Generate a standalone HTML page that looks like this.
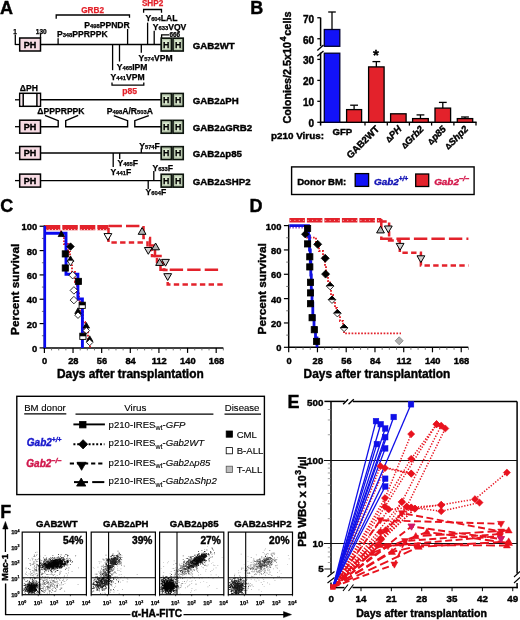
<!DOCTYPE html>
<html><head><meta charset="utf-8"><style>
html,body{margin:0;padding:0;background:#fff;width:520px;height:620px;overflow:hidden}
svg{display:block;will-change:transform}
text{font-family:"Liberation Sans", sans-serif}
</style></head><body>
<svg width="520" height="620" viewBox="0 0 520 620" font-family='"Liberation Sans", sans-serif'>
<rect width="520" height="620" fill="#fff"/>
<text x="0" y="14.2" font-size="18" font-weight="bold" text-anchor="start" fill="#000"  stroke="#000" stroke-width="0.4">A</text>
<text x="250.2" y="14" font-size="18" font-weight="bold" text-anchor="start" fill="#000"  stroke="#000" stroke-width="0.4">B</text>
<text x="0.2" y="212" font-size="18" font-weight="bold" text-anchor="start" fill="#000"  stroke="#000" stroke-width="0.4">C</text>
<text x="249.5" y="211.5" font-size="18" font-weight="bold" text-anchor="start" fill="#000"  stroke="#000" stroke-width="0.4">D</text>
<text x="287.5" y="408" font-size="18" font-weight="bold" text-anchor="start" fill="#000"  stroke="#000" stroke-width="0.4">E</text>
<text x="0.3" y="518.2" font-size="18" font-weight="bold" text-anchor="start" fill="#000"  stroke="#000" stroke-width="0.4">F</text>
<text x="192.8" y="48.8" font-size="9.7" font-weight="bold" text-anchor="start" fill="#000"  stroke="#000" stroke-width="0.4">GAB2WT</text>
<text x="192.8" y="104.1" font-size="9.7" font-weight="bold" text-anchor="start" fill="#000"  stroke="#000" stroke-width="0.4">GAB2<tspan font-size="80%" font-style="normal">Δ</tspan>PH</text>
<text x="192.8" y="131.0" font-size="9.7" font-weight="bold" text-anchor="start" fill="#000"  stroke="#000" stroke-width="0.4">GAB2<tspan font-size="80%" font-style="normal">Δ</tspan>GRB2</text>
<text x="192.8" y="157.3" font-size="9.7" font-weight="bold" text-anchor="start" fill="#000"  stroke="#000" stroke-width="0.4">GAB2<tspan font-size="80%" font-style="normal">Δ</tspan>p85</text>
<text x="192.8" y="184.9" font-size="9.7" font-weight="bold" text-anchor="start" fill="#000"  stroke="#000" stroke-width="0.4">GAB2<tspan font-size="80%" font-style="normal">Δ</tspan>SHP2</text>
<line x1="15.3" y1="34.5" x2="15.3" y2="45.1" stroke="#000" stroke-width="1.3" />
<text x="13.2" y="34.0" font-size="6.5" font-weight="bold" text-anchor="start" fill="#000"  stroke="#000" stroke-width="0.25">1</text>
<line x1="15" y1="44.5" x2="19.5" y2="44.5" stroke="#000" stroke-width="1.3" />
<rect x="19.7" y="38.0" width="20.8" height="13" fill="#f6dbe3" stroke="#000" stroke-width="1.5" />
<text x="30.1" y="47.7" font-size="9" font-weight="bold" text-anchor="middle" fill="#000"  stroke="#000" stroke-width="0.4">PH</text>
<text x="35.8" y="34.0" font-size="6.5" font-weight="bold" text-anchor="start" fill="#000"  stroke="#000" stroke-width="0.25">130</text>
<line x1="40.5" y1="33.8" x2="40.5" y2="38" stroke="#000" stroke-width="1.3" />
<line x1="40.5" y1="44.5" x2="161.2" y2="44.5" stroke="#000" stroke-width="1.4" />
<line x1="58.1" y1="38.3" x2="58.1" y2="44.5" stroke="#000" stroke-width="1.3" />
<text x="56.9" y="36.9" font-size="8.6" font-weight="bold" stroke="#000" stroke-width="0.25">P<tspan font-size="5.8">348</tspan>PPRPPK</text>
<line x1="127.6" y1="29" x2="127.6" y2="44.5" stroke="#000" stroke-width="1.3" />
<text x="84.3" y="27.8" font-size="8.6" font-weight="bold" stroke="#000" stroke-width="0.25">P<tspan font-size="5.8">498</tspan>PPNDR</text>
<path d="M56.2,18.7 V15 H129.5 V17.8" stroke="#000" stroke-width="1.3" fill="none" />
<text x="92.6" y="12.8" font-size="8.2" font-weight="bold" text-anchor="middle" fill="#e3222b"  stroke="#e3222b" stroke-width="0.25">GRB2</text>
<path d="M143.6,12.7 V9.5 H161.5 V12.7" stroke="#000" stroke-width="1.3" fill="none" />
<text x="152.6" y="6.4" font-size="8.2" font-weight="bold" text-anchor="middle" fill="#e3222b"  stroke="#e3222b" stroke-width="0.25">SHP2</text>
<line x1="147.6" y1="22.6" x2="147.6" y2="44.5" stroke="#000" stroke-width="1.3" />
<text x="145.4" y="20.7" font-size="8.6" font-weight="bold" stroke="#000" stroke-width="0.25">Y<tspan font-size="5.8">604</tspan>LAL</text>
<line x1="154.2" y1="30.8" x2="154.2" y2="44.5" stroke="#000" stroke-width="1.3" />
<text x="152.8" y="30.2" font-size="8.6" font-weight="bold" stroke="#000" stroke-width="0.25">Y<tspan font-size="5.8">633</tspan>VQV</text>
<path d="M161.6,38 V34.8 H169" stroke="#000" stroke-width="1.3" fill="none" />
<text x="169.4" y="36.5" font-size="6.4" font-weight="bold" text-anchor="start" fill="#000"  stroke="#000" stroke-width="0.25">666</text>
<rect x="161.2" y="38.2" width="10.2" height="12.8" fill="#d9e8cd" stroke="#0d140d" stroke-width="1.7" />
<rect x="162.79999999999998" y="39.8" width="6.999999999999999" height="9.6" fill="none" stroke="#9fb096" stroke-width="0.6" />
<text x="166.29999999999998" y="47.7" font-size="8.8" font-weight="bold" text-anchor="middle" fill="#000"  stroke="#000" stroke-width="0.25">H</text>
<rect x="173.0" y="38.2" width="10.2" height="12.8" fill="#d9e8cd" stroke="#0d140d" stroke-width="1.7" />
<rect x="174.6" y="39.8" width="6.999999999999999" height="9.6" fill="none" stroke="#9fb096" stroke-width="0.6" />
<text x="178.1" y="47.7" font-size="8.8" font-weight="bold" text-anchor="middle" fill="#000"  stroke="#000" stroke-width="0.25">H</text>
<line x1="112.6" y1="44.5" x2="112.6" y2="70.2" stroke="#000" stroke-width="1.3" />
<line x1="119.5" y1="44.5" x2="119.5" y2="61.5" stroke="#000" stroke-width="1.3" />
<line x1="141.3" y1="44.5" x2="141.3" y2="52.8" stroke="#000" stroke-width="1.3" />
<text x="138.6" y="60.8" font-size="8.6" font-weight="bold" stroke="#000" stroke-width="0.25">Y<tspan font-size="5.8">574</tspan>VPM</text>
<text x="116.8" y="70.2" font-size="8.6" font-weight="bold" stroke="#000" stroke-width="0.25">Y<tspan font-size="5.8">465</tspan>IPM</text>
<text x="110.6" y="79.5" font-size="8.6" font-weight="bold" stroke="#000" stroke-width="0.25">Y<tspan font-size="5.8">441</tspan>VPM</text>
<path d="M112,82.4 V85.1 H143.8 V82.4" stroke="#000" stroke-width="1.3" fill="none" />
<text x="129.6" y="94.0" font-size="8.6" font-weight="bold" text-anchor="middle" fill="#e3222b"  stroke="#e3222b" stroke-width="0.25">p85</text>
<line x1="15" y1="99.8" x2="19.5" y2="99.8" stroke="#000" stroke-width="1.3" />
<rect x="19.7" y="93.3" width="20.8" height="13" fill="#fff" stroke="#000" stroke-width="1.5" />
<rect x="20.7" y="94.1" width="1.6" height="11.4" fill="#f7e4ea"/>
<rect x="37.9" y="94.1" width="1.6" height="11.4" fill="#f7e4ea"/>
<line x1="23.2" y1="93.3" x2="23.2" y2="106.3" stroke="#000" stroke-width="1.5" />
<line x1="36.9" y1="93.3" x2="36.9" y2="106.3" stroke="#000" stroke-width="1.5" />
<text x="19.8" y="90.7" font-size="8.6" font-weight="bold" text-anchor="start" fill="#000"  stroke="#000" stroke-width="0.25">ΔPH</text>
<line x1="40.5" y1="99.8" x2="161.2" y2="99.8" stroke="#000" stroke-width="1.4" />
<rect x="161.2" y="93.5" width="10.2" height="12.8" fill="#d9e8cd" stroke="#0d140d" stroke-width="1.7" />
<rect x="162.79999999999998" y="95.1" width="6.999999999999999" height="9.6" fill="none" stroke="#9fb096" stroke-width="0.6" />
<text x="166.29999999999998" y="103.0" font-size="8.8" font-weight="bold" text-anchor="middle" fill="#000"  stroke="#000" stroke-width="0.25">H</text>
<rect x="173.0" y="93.5" width="10.2" height="12.8" fill="#d9e8cd" stroke="#0d140d" stroke-width="1.7" />
<rect x="174.6" y="95.1" width="6.999999999999999" height="9.6" fill="none" stroke="#9fb096" stroke-width="0.6" />
<text x="178.1" y="103.0" font-size="8.8" font-weight="bold" text-anchor="middle" fill="#000"  stroke="#000" stroke-width="0.25">H</text>
<line x1="15" y1="126.7" x2="19.5" y2="126.7" stroke="#000" stroke-width="1.3" />
<rect x="19.7" y="120.2" width="20.8" height="13" fill="#f6dbe3" stroke="#000" stroke-width="1.5" />
<text x="30.1" y="129.9" font-size="9" font-weight="bold" text-anchor="middle" fill="#000"  stroke="#000" stroke-width="0.4">PH</text>
<path d="M40.5,126.7 H58.2 V120.7 L45,115.3" stroke="#000" stroke-width="1.4" fill="none" />
<path d="M78.2,115.3 L65.7,120.7 V126.7 H127.6 V120.7 L113.8,115.6" stroke="#000" stroke-width="1.4" fill="none" />
<path d="M148.8,115.6 L134.8,120.7 V126.7 H161.2" stroke="#000" stroke-width="1.4" fill="none" />
<text x="37.3" y="114.4" font-size="8.6" font-weight="bold" text-anchor="start" fill="#000"  stroke="#000" stroke-width="0.25">ΔPPPRPPK</text>
<text x="106.8" y="113.8" font-size="8.6" font-weight="bold" stroke="#000" stroke-width="0.25">P<tspan font-size="5.8">498</tspan>A/R<tspan font-size="5.8">503</tspan>A</text>
<rect x="161.2" y="120.4" width="10.2" height="12.8" fill="#d9e8cd" stroke="#0d140d" stroke-width="1.7" />
<rect x="162.79999999999998" y="122.0" width="6.999999999999999" height="9.6" fill="none" stroke="#9fb096" stroke-width="0.6" />
<text x="166.29999999999998" y="129.9" font-size="8.8" font-weight="bold" text-anchor="middle" fill="#000"  stroke="#000" stroke-width="0.25">H</text>
<rect x="173.0" y="120.4" width="10.2" height="12.8" fill="#d9e8cd" stroke="#0d140d" stroke-width="1.7" />
<rect x="174.6" y="122.0" width="6.999999999999999" height="9.6" fill="none" stroke="#9fb096" stroke-width="0.6" />
<text x="178.1" y="129.9" font-size="8.8" font-weight="bold" text-anchor="middle" fill="#000"  stroke="#000" stroke-width="0.25">H</text>
<line x1="15" y1="153.0" x2="19.5" y2="153.0" stroke="#000" stroke-width="1.3" />
<rect x="19.7" y="146.5" width="20.8" height="13" fill="#f6dbe3" stroke="#000" stroke-width="1.5" />
<text x="30.1" y="156.2" font-size="9" font-weight="bold" text-anchor="middle" fill="#000"  stroke="#000" stroke-width="0.4">PH</text>
<line x1="40.5" y1="153.0" x2="161.2" y2="153.0" stroke="#000" stroke-width="1.4" />
<line x1="113.2" y1="153.0" x2="113.2" y2="167" stroke="#000" stroke-width="1.3" />
<line x1="119.7" y1="153.0" x2="119.7" y2="158.9" stroke="#000" stroke-width="1.3" />
<line x1="141.3" y1="148.2" x2="141.3" y2="153.0" stroke="#000" stroke-width="1.3" />
<text x="139.2" y="148.8" font-size="8.6" font-weight="bold" stroke="#000" stroke-width="0.25">Y<tspan font-size="5.8">574</tspan>F</text>
<text x="117.4" y="166.4" font-size="8.6" font-weight="bold" stroke="#000" stroke-width="0.25">Y<tspan font-size="5.8">465</tspan>F</text>
<text x="110.6" y="174.5" font-size="8.6" font-weight="bold" stroke="#000" stroke-width="0.25">Y<tspan font-size="5.8">441</tspan>F</text>
<rect x="161.2" y="146.7" width="10.2" height="12.8" fill="#d9e8cd" stroke="#0d140d" stroke-width="1.7" />
<rect x="162.79999999999998" y="148.3" width="6.999999999999999" height="9.6" fill="none" stroke="#9fb096" stroke-width="0.6" />
<text x="166.29999999999998" y="156.2" font-size="8.8" font-weight="bold" text-anchor="middle" fill="#000"  stroke="#000" stroke-width="0.25">H</text>
<rect x="173.0" y="146.7" width="10.2" height="12.8" fill="#d9e8cd" stroke="#0d140d" stroke-width="1.7" />
<rect x="174.6" y="148.3" width="6.999999999999999" height="9.6" fill="none" stroke="#9fb096" stroke-width="0.6" />
<text x="178.1" y="156.2" font-size="8.8" font-weight="bold" text-anchor="middle" fill="#000"  stroke="#000" stroke-width="0.25">H</text>
<line x1="15" y1="180.6" x2="19.5" y2="180.6" stroke="#000" stroke-width="1.3" />
<rect x="19.7" y="174.1" width="20.8" height="13" fill="#f6dbe3" stroke="#000" stroke-width="1.5" />
<text x="30.1" y="183.79999999999998" font-size="9" font-weight="bold" text-anchor="middle" fill="#000"  stroke="#000" stroke-width="0.4">PH</text>
<line x1="40.5" y1="180.6" x2="161.2" y2="180.6" stroke="#000" stroke-width="1.4" />
<line x1="153.8" y1="171" x2="153.8" y2="180.6" stroke="#000" stroke-width="1.3" />
<text x="152.4" y="171.2" font-size="8.6" font-weight="bold" stroke="#000" stroke-width="0.25">Y<tspan font-size="5.8">633</tspan>F</text>
<line x1="148.2" y1="180.6" x2="148.2" y2="189" stroke="#000" stroke-width="1.3" />
<text x="145.5" y="195.1" font-size="8.6" font-weight="bold" stroke="#000" stroke-width="0.25">Y<tspan font-size="5.8">604</tspan>F</text>
<rect x="161.2" y="174.29999999999998" width="10.2" height="12.8" fill="#d9e8cd" stroke="#0d140d" stroke-width="1.7" />
<rect x="162.79999999999998" y="175.9" width="6.999999999999999" height="9.6" fill="none" stroke="#9fb096" stroke-width="0.6" />
<text x="166.29999999999998" y="183.79999999999998" font-size="8.8" font-weight="bold" text-anchor="middle" fill="#000"  stroke="#000" stroke-width="0.25">H</text>
<rect x="173.0" y="174.29999999999998" width="10.2" height="12.8" fill="#d9e8cd" stroke="#0d140d" stroke-width="1.7" />
<rect x="174.6" y="175.9" width="6.999999999999999" height="9.6" fill="none" stroke="#9fb096" stroke-width="0.6" />
<text x="178.1" y="183.79999999999998" font-size="8.8" font-weight="bold" text-anchor="middle" fill="#000"  stroke="#000" stroke-width="0.25">H</text>
<line x1="320.6" y1="17.6" x2="320.6" y2="46.2" stroke="#000" stroke-width="1.5" />
<line x1="320.6" y1="52.6" x2="320.6" y2="125.6" stroke="#000" stroke-width="1.5" />
<line x1="317.3" y1="17.75" x2="320.6" y2="17.75" stroke="#000" stroke-width="1.3" />
<text x="314.0" y="22.65" font-size="10" font-weight="bold" text-anchor="end" fill="#000"  stroke="#000" stroke-width="0.4">70</text>
<line x1="317.3" y1="38.75" x2="320.6" y2="38.75" stroke="#000" stroke-width="1.3" />
<text x="314.0" y="43.65" font-size="10" font-weight="bold" text-anchor="end" fill="#000"  stroke="#000" stroke-width="0.4">60</text>
<line x1="317.3" y1="59.4" x2="320.6" y2="59.4" stroke="#000" stroke-width="1.3" />
<text x="314.0" y="64.3" font-size="10" font-weight="bold" text-anchor="end" fill="#000"  stroke="#000" stroke-width="0.4">30</text>
<line x1="317.3" y1="80.4" x2="320.6" y2="80.4" stroke="#000" stroke-width="1.3" />
<text x="314.0" y="85.30000000000001" font-size="10" font-weight="bold" text-anchor="end" fill="#000"  stroke="#000" stroke-width="0.4">20</text>
<line x1="317.3" y1="101.3" x2="320.6" y2="101.3" stroke="#000" stroke-width="1.3" />
<text x="314.0" y="106.2" font-size="10" font-weight="bold" text-anchor="end" fill="#000"  stroke="#000" stroke-width="0.4">10</text>
<line x1="317.3" y1="122.3" x2="320.6" y2="122.3" stroke="#000" stroke-width="1.3" />
<text x="314.0" y="127.2" font-size="10" font-weight="bold" text-anchor="end" fill="#000"  stroke="#000" stroke-width="0.4">0</text>
<line x1="317.3" y1="50.4" x2="323.5" y2="45.1" stroke="#000" stroke-width="1.3" />
<line x1="317.3" y1="56.3" x2="323.5" y2="51.0" stroke="#000" stroke-width="1.3" />
<line x1="319.90000000000003" y1="122.3" x2="476.6" y2="122.3" stroke="#000" stroke-width="1.5" />
<line x1="365" y1="122.3" x2="365" y2="125.6" stroke="#000" stroke-width="1.3" />
<line x1="387.3" y1="122.3" x2="387.3" y2="125.6" stroke="#000" stroke-width="1.3" />
<line x1="409.4" y1="122.3" x2="409.4" y2="125.6" stroke="#000" stroke-width="1.3" />
<line x1="431.6" y1="122.3" x2="431.6" y2="125.6" stroke="#000" stroke-width="1.3" />
<line x1="453.9" y1="122.3" x2="453.9" y2="125.6" stroke="#000" stroke-width="1.3" />
<line x1="476" y1="122.3" x2="476" y2="125.6" stroke="#000" stroke-width="1.3" />
<rect x="324.3" y="29.5" width="15.5" height="16.799999999999997" fill="#1212f8" stroke="#000030" stroke-width="1.3" />
<rect x="324.3" y="53.2" width="15.5" height="69.1" fill="#1212f8" stroke="#000030" stroke-width="1.3" />
<line x1="332" y1="29.5" x2="332" y2="12.0" stroke="#000" stroke-width="1.3" />
<line x1="328.2" y1="12.0" x2="335.8" y2="12.0" stroke="#000" stroke-width="1.3" />
<line x1="354.1" y1="109.6" x2="354.1" y2="105.2" stroke="#000" stroke-width="1.3" />
<line x1="350.20000000000005" y1="105.2" x2="358.0" y2="105.2" stroke="#000" stroke-width="1.3" />
<rect x="346.6" y="109.6" width="15.0" height="12.700000000000003" fill="#e3222b" stroke="#000" stroke-width="1.3" />
<line x1="376.35" y1="66.9" x2="376.35" y2="61.6" stroke="#000" stroke-width="1.3" />
<line x1="372.45000000000005" y1="61.6" x2="380.25" y2="61.6" stroke="#000" stroke-width="1.3" />
<rect x="368.6" y="66.9" width="15.5" height="55.39999999999999" fill="#e3222b" stroke="#000" stroke-width="1.3" />
<rect x="390.6" y="113.8" width="15.5" height="8.5" fill="#e3222b" stroke="#000" stroke-width="1.3" />
<line x1="420.45000000000005" y1="118.6" x2="420.45000000000005" y2="114.9" stroke="#000" stroke-width="1.3" />
<line x1="416.55000000000007" y1="114.9" x2="424.35" y2="114.9" stroke="#000" stroke-width="1.3" />
<rect x="412.6" y="118.6" width="15.699999999999989" height="3.700000000000003" fill="#e3222b" stroke="#000" stroke-width="1.3" />
<line x1="442.8" y1="108.1" x2="442.8" y2="102.4" stroke="#000" stroke-width="1.3" />
<line x1="438.90000000000003" y1="102.4" x2="446.7" y2="102.4" stroke="#000" stroke-width="1.3" />
<rect x="435.0" y="108.1" width="15.600000000000023" height="14.200000000000003" fill="#e3222b" stroke="#000" stroke-width="1.3" />
<line x1="465.0" y1="118.6" x2="465.0" y2="117.0" stroke="#000" stroke-width="1.3" />
<line x1="461.1" y1="117.0" x2="468.9" y2="117.0" stroke="#000" stroke-width="1.3" />
<rect x="457.3" y="118.6" width="15.399999999999977" height="3.700000000000003" fill="#e3222b" stroke="#000" stroke-width="1.3" />
<text x="376.0" y="59.6" font-size="15" font-weight="bold" text-anchor="middle" fill="#000"  stroke="#000" stroke-width="0.4">*</text>
<text transform="translate(291.2,67.6) rotate(-90)" font-size="10.8" font-weight="bold" text-anchor="middle" stroke="#000" stroke-width="0.4">Colonies/2.5x10<tspan font-size="8.5" dy="-5" dx="0.6">4</tspan><tspan dy="5" dx="1.0">cells</tspan></text>
<text x="324.0" y="138.9" font-size="9.9" font-weight="bold" text-anchor="end" fill="#000"  stroke="#000" stroke-width="0.4">p210 Virus:</text>
<text x="342.4" y="135.2" font-size="9.6" font-weight="bold" text-anchor="middle" fill="#000"  stroke="#000" stroke-width="0.4">GFP</text>
<text transform="translate(379.9,129.6) rotate(-45)" font-size="9.6" font-weight="bold" text-anchor="end" stroke="#000" stroke-width="0.4">GAB2WT</text>
<text transform="translate(402.2,129.6) rotate(-45)" font-size="9.6" font-weight="bold" text-anchor="end" font-style="italic" stroke="#000" stroke-width="0.4"><tspan font-size="80%" font-style="normal">Δ</tspan>PH</text>
<text transform="translate(424.4,129.6) rotate(-45)" font-size="9.6" font-weight="bold" text-anchor="end" font-style="italic" stroke="#000" stroke-width="0.4"><tspan font-size="80%" font-style="normal">Δ</tspan>Grb2</text>
<text transform="translate(446.59999999999997,129.6) rotate(-45)" font-size="9.6" font-weight="bold" text-anchor="end" font-style="italic" stroke="#000" stroke-width="0.4"><tspan font-size="80%" font-style="normal">Δ</tspan>p85</text>
<text transform="translate(468.79999999999995,129.6) rotate(-45)" font-size="9.6" font-weight="bold" text-anchor="end" font-style="italic" stroke="#000" stroke-width="0.4"><tspan font-size="80%" font-style="normal">Δ</tspan>Shp2</text>
<rect x="291.6" y="166.9" width="182.5" height="27.6" fill="none" stroke="#000" stroke-width="1.4" />
<text x="297.2" y="184.6" font-size="9.6" font-weight="bold" text-anchor="start" fill="#000"  stroke="#000" stroke-width="0.4">Donor BM:</text>
<rect x="355.2" y="173.6" width="13.4" height="12.8" fill="#1212f8" stroke="#000" stroke-width="1.3" />
<text x="374" y="184.7" font-size="9.9" font-weight="bold" font-style="italic" fill="#1212b4" stroke="#1212b4" stroke-width="0.4">Gab2<tspan font-size="6.5" dy="-4">+/+</tspan></text>
<rect x="415.7" y="174.0" width="13.0" height="12.5" fill="#e3222b" stroke="#000" stroke-width="1.3" />
<text x="434.2" y="184.5" font-size="9.9" font-weight="bold" font-style="italic" fill="#d3194b" stroke="#d3194b" stroke-width="0.4">Gab2<tspan font-size="7" dy="-4">−/−</tspan></text>
<line x1="44.4" y1="225.25" x2="44.4" y2="348.59999999999997" stroke="#000" stroke-width="1.5" />
<line x1="39.6" y1="347.9" x2="44.4" y2="347.9" stroke="#000" stroke-width="1.2" />
<line x1="41.9" y1="335.73499999999996" x2="44.4" y2="335.73499999999996" stroke="#555" stroke-width="0.8" />
<line x1="39.6" y1="323.57" x2="44.4" y2="323.57" stroke="#000" stroke-width="1.2" />
<line x1="41.9" y1="311.405" x2="44.4" y2="311.405" stroke="#555" stroke-width="0.8" />
<line x1="39.6" y1="299.24" x2="44.4" y2="299.24" stroke="#000" stroke-width="1.2" />
<line x1="41.9" y1="287.075" x2="44.4" y2="287.075" stroke="#555" stroke-width="0.8" />
<line x1="39.6" y1="274.90999999999997" x2="44.4" y2="274.90999999999997" stroke="#000" stroke-width="1.2" />
<line x1="41.9" y1="262.745" x2="44.4" y2="262.745" stroke="#555" stroke-width="0.8" />
<line x1="39.6" y1="250.57999999999998" x2="44.4" y2="250.57999999999998" stroke="#000" stroke-width="1.2" />
<line x1="41.9" y1="238.415" x2="44.4" y2="238.415" stroke="#555" stroke-width="0.8" />
<line x1="39.6" y1="226.25" x2="44.4" y2="226.25" stroke="#000" stroke-width="1.2" />
<line x1="43.699999999999996" y1="347.9" x2="223.3" y2="347.9" stroke="#000" stroke-width="1.5" />
<line x1="44.4" y1="347.9" x2="44.4" y2="352.9" stroke="#000" stroke-width="1.2" />
<line x1="51.5582" y1="347.9" x2="51.5582" y2="350.4" stroke="#555" stroke-width="0.8" />
<line x1="58.7164" y1="347.9" x2="58.7164" y2="350.4" stroke="#555" stroke-width="0.8" />
<line x1="65.8746" y1="347.9" x2="65.8746" y2="350.4" stroke="#555" stroke-width="0.8" />
<line x1="73.0328" y1="347.9" x2="73.0328" y2="352.9" stroke="#000" stroke-width="1.2" />
<line x1="80.191" y1="347.9" x2="80.191" y2="350.4" stroke="#555" stroke-width="0.8" />
<line x1="87.3492" y1="347.9" x2="87.3492" y2="350.4" stroke="#555" stroke-width="0.8" />
<line x1="94.50739999999999" y1="347.9" x2="94.50739999999999" y2="350.4" stroke="#555" stroke-width="0.8" />
<line x1="101.6656" y1="347.9" x2="101.6656" y2="352.9" stroke="#000" stroke-width="1.2" />
<line x1="108.8238" y1="347.9" x2="108.8238" y2="350.4" stroke="#555" stroke-width="0.8" />
<line x1="115.982" y1="347.9" x2="115.982" y2="350.4" stroke="#555" stroke-width="0.8" />
<line x1="123.1402" y1="347.9" x2="123.1402" y2="350.4" stroke="#555" stroke-width="0.8" />
<line x1="130.2984" y1="347.9" x2="130.2984" y2="352.9" stroke="#000" stroke-width="1.2" />
<line x1="137.45659999999998" y1="347.9" x2="137.45659999999998" y2="350.4" stroke="#555" stroke-width="0.8" />
<line x1="144.6148" y1="347.9" x2="144.6148" y2="350.4" stroke="#555" stroke-width="0.8" />
<line x1="151.773" y1="347.9" x2="151.773" y2="350.4" stroke="#555" stroke-width="0.8" />
<line x1="158.9312" y1="347.9" x2="158.9312" y2="352.9" stroke="#000" stroke-width="1.2" />
<line x1="166.08939999999998" y1="347.9" x2="166.08939999999998" y2="350.4" stroke="#555" stroke-width="0.8" />
<line x1="173.2476" y1="347.9" x2="173.2476" y2="350.4" stroke="#555" stroke-width="0.8" />
<line x1="180.4058" y1="347.9" x2="180.4058" y2="350.4" stroke="#555" stroke-width="0.8" />
<line x1="187.564" y1="347.9" x2="187.564" y2="352.9" stroke="#000" stroke-width="1.2" />
<line x1="194.7222" y1="347.9" x2="194.7222" y2="350.4" stroke="#555" stroke-width="0.8" />
<line x1="201.8804" y1="347.9" x2="201.8804" y2="350.4" stroke="#555" stroke-width="0.8" />
<line x1="209.0386" y1="347.9" x2="209.0386" y2="350.4" stroke="#555" stroke-width="0.8" />
<line x1="216.1968" y1="347.9" x2="216.1968" y2="352.9" stroke="#000" stroke-width="1.2" />
<line x1="223.355" y1="347.9" x2="223.355" y2="350.4" stroke="#555" stroke-width="0.8" />
<text x="37.199999999999996" y="352.0" font-size="9.4" font-weight="bold" text-anchor="end" fill="#000"  stroke="#000" stroke-width="0.4">0</text>
<text x="37.199999999999996" y="327.67" font-size="9.4" font-weight="bold" text-anchor="end" fill="#000"  stroke="#000" stroke-width="0.4">20</text>
<text x="37.199999999999996" y="303.34000000000003" font-size="9.4" font-weight="bold" text-anchor="end" fill="#000"  stroke="#000" stroke-width="0.4">40</text>
<text x="37.199999999999996" y="279.01" font-size="9.4" font-weight="bold" text-anchor="end" fill="#000"  stroke="#000" stroke-width="0.4">60</text>
<text x="37.199999999999996" y="254.67999999999998" font-size="9.4" font-weight="bold" text-anchor="end" fill="#000"  stroke="#000" stroke-width="0.4">80</text>
<text x="37.199999999999996" y="230.35" font-size="9.4" font-weight="bold" text-anchor="end" fill="#000"  stroke="#000" stroke-width="0.4">100</text>
<text x="44.699999999999996" y="364.09999999999997" font-size="9.3" font-weight="bold" text-anchor="middle" fill="#000"  stroke="#000" stroke-width="0.4">0</text>
<text x="73.33279999999999" y="364.09999999999997" font-size="9.3" font-weight="bold" text-anchor="middle" fill="#000"  stroke="#000" stroke-width="0.4">28</text>
<text x="101.9656" y="364.09999999999997" font-size="9.3" font-weight="bold" text-anchor="middle" fill="#000"  stroke="#000" stroke-width="0.4">56</text>
<text x="130.5984" y="364.09999999999997" font-size="9.3" font-weight="bold" text-anchor="middle" fill="#000"  stroke="#000" stroke-width="0.4">84</text>
<text x="159.2312" y="364.09999999999997" font-size="9.3" font-weight="bold" text-anchor="middle" fill="#000"  stroke="#000" stroke-width="0.4">112</text>
<text x="187.864" y="364.09999999999997" font-size="9.3" font-weight="bold" text-anchor="middle" fill="#000"  stroke="#000" stroke-width="0.4">140</text>
<text x="216.4968" y="364.09999999999997" font-size="9.3" font-weight="bold" text-anchor="middle" fill="#000"  stroke="#000" stroke-width="0.4">168</text>
<text transform="translate(18.8,289.3) rotate(-90)" font-size="11.8" font-weight="bold" text-anchor="middle" stroke="#000" stroke-width="0.4">Percent survival</text>
<text x="57.0" y="378.4" font-size="11.9" font-weight="bold" text-anchor="start" fill="#000"  stroke="#000" stroke-width="0.4">Days after transplantation</text>
<polyline points="44.8,227.6 108.5,227.6" fill="none" stroke="#e3222b" stroke-width="5.4" stroke-dasharray="15.5,2" />
<polyline points="45.5,229.6 108.0,229.6" fill="none" stroke="#fff" stroke-width="0.9" stroke-dasharray="1,2.2" />
<polyline points="108.5,225.9 143.5,225.9 143.5,237.9 150.0,237.9 150.0,245.5 155.0,245.5 155.0,256.0 160.5,256.0 160.5,269.7 220.5,269.7" fill="none" stroke="#e3222b" stroke-width="2.5" stroke-dasharray="13.4,4.1" />
<polyline points="108.5,228.0 108.5,242.5 147.5,242.5 147.5,250.0 152.0,250.0 152.0,256.0 157.0,256.0 157.0,262.0 164.0,262.0 164.0,270.0 167.7,270.0 167.7,284.5 224.0,284.5" fill="none" stroke="#e3222b" stroke-width="2.5" stroke-dasharray="5.4,3.3" />
<polyline points="61.0,230.6 61.0,236.0 64.0,236.0 64.0,244.0 68.0,244.0 68.0,252.0 70.0,252.0 70.0,262.0 72.0,262.0 72.0,272.0 75.0,272.0 75.0,282.0 77.0,282.0 77.0,292.0 79.0,292.0 79.0,302.0 81.0,302.0 81.0,312.0 83.0,312.0 83.0,322.0 85.0,322.0 85.0,332.0 88.0,332.0 88.0,340.0 90.0,340.0 90.0,347.9" fill="none" stroke="#e3222b" stroke-width="1.9" stroke-dasharray="1.7,1.5" />
<polyline points="44.8,226.0 44.8,347.9" fill="none" stroke="#0a0af0" stroke-width="2.6" />
<polyline points="44.8,233.3 66.0,233.3 66.0,274.2 77.9,274.2 77.9,299.0 82.4,299.0 82.4,347.9" fill="none" stroke="#0a0af0" stroke-width="2.9" />
<path d="M61.4,230.907 L64.65,236.562 L58.15,236.562 Z" stroke="#000" stroke-width="0.8" fill="#000" />
<path d="M70.5,242.85 L74.25,246.6 L70.5,250.35 L66.75,246.6 Z" stroke="#000" stroke-width="0.8" fill="#000" />
<rect x="62.199999999999996" y="250.8" width="6.2" height="6.2" fill="#000" stroke="#000" stroke-width="0.8" />
<path d="M70.5,255.907 L73.75,261.562 L67.25,261.562 Z" stroke="#000" stroke-width="0.8" fill="#000" />
<path d="M70.5,265.893 L73.75,260.238 L67.25,260.238 Z" stroke="#000" stroke-width="0.8" fill="#fff" />
<rect x="62.199999999999996" y="264.9" width="6.2" height="6.2" fill="#000" stroke="#000" stroke-width="0.8" />
<path d="M72.7,271.45 L76.45,275.2 L72.7,278.95 L68.95,275.2 Z" stroke="#000" stroke-width="0.8" fill="#fff" />
<rect x="75.30000000000001" y="278.29999999999995" width="6.2" height="6.2" fill="#000" stroke="#000" stroke-width="0.8" />
<path d="M73.9,286.65 L77.65,290.4 L73.9,294.15 L70.15,290.4 Z" stroke="#000" stroke-width="0.8" fill="#fff" />
<path d="M73.9,296.35 L77.65,300.1 L73.9,303.85 L70.15,300.1 Z" stroke="#000" stroke-width="0.8" fill="#fff" />
<rect x="79.10000000000001" y="302.2" width="6.2" height="6.2" fill="#fff" stroke="#000" stroke-width="0.9" />
<rect x="79.10000000000001" y="302.2" width="6.2" height="3.1" fill="#000"/>
<path d="M78,307.807 L81.25,313.462 L74.75,313.462 Z" stroke="#000" stroke-width="0.8" fill="#000" />
<path d="M78,311.95 L81.25,315.2 L78,318.45 L74.75,315.2 Z" stroke="#000" stroke-width="0.8" fill="#fff" />
<path d="M86.3,322.40700000000004 L89.55,328.062 L83.05,328.062 Z" stroke="#000" stroke-width="0.8" fill="#000" />
<path d="M86.3,327.35 L89.55,330.6 L86.3,333.85 L83.05,330.6 Z" stroke="#000" stroke-width="0.8" fill="#fff" />
<rect x="79.80000000000001" y="333.2" width="6.2" height="6.2" fill="#fff" stroke="#000" stroke-width="0.9" />
<rect x="79.80000000000001" y="333.2" width="6.2" height="3.1" fill="#000"/>
<path d="M89.7,335.807 L92.95,341.462 L86.45,341.462 Z" stroke="#000" stroke-width="0.8" fill="#000" />
<path d="M89.7,339.15 L92.95,342.4 L89.7,345.65 L86.45,342.4 Z" stroke="#000" stroke-width="0.8" fill="#fff" />
<path d="M107.9,240.3716 L111.80000000000001,233.5856 L104.0,233.5856 Z" stroke="#000" stroke-width="1.0" fill="#fff" />
<path d="M148.3,254.27159999999998 L152.20000000000002,247.48559999999998 L144.4,247.48559999999998 Z" stroke="#000" stroke-width="1.0" fill="#d0d0d0" />
<path d="M165.5,266.1716 L169.4,259.3856 L161.6,259.3856 Z" stroke="#000" stroke-width="1.0" fill="#d0d0d0" />
<path d="M167.7,280.47159999999997 L171.6,273.68559999999997 L163.79999999999998,273.68559999999997 Z" stroke="#000" stroke-width="1.0" fill="#d0d0d0" />
<path d="M142.1,227.5284 L146.0,234.3144 L138.2,234.3144 Z" stroke="#000" stroke-width="1.0" fill="#b4b4b4" />
<path d="M155.6,243.0284 L159.5,249.8144 L151.7,249.8144 Z" stroke="#000" stroke-width="1.0" fill="#b4b4b4" />
<path d="M159.6,258.6284 L163.5,265.4144 L155.7,265.4144 Z" stroke="#000" stroke-width="1.0" fill="#b4b4b4" />
<line x1="288.7" y1="224.6" x2="288.7" y2="348.0" stroke="#000" stroke-width="1.5" />
<line x1="283.9" y1="347.3" x2="288.7" y2="347.3" stroke="#000" stroke-width="1.2" />
<line x1="286.2" y1="335.13" x2="288.7" y2="335.13" stroke="#555" stroke-width="0.8" />
<line x1="283.9" y1="322.96000000000004" x2="288.7" y2="322.96000000000004" stroke="#000" stroke-width="1.2" />
<line x1="286.2" y1="310.79" x2="288.7" y2="310.79" stroke="#555" stroke-width="0.8" />
<line x1="283.9" y1="298.62" x2="288.7" y2="298.62" stroke="#000" stroke-width="1.2" />
<line x1="286.2" y1="286.45" x2="288.7" y2="286.45" stroke="#555" stroke-width="0.8" />
<line x1="283.9" y1="274.28" x2="288.7" y2="274.28" stroke="#000" stroke-width="1.2" />
<line x1="286.2" y1="262.11" x2="288.7" y2="262.11" stroke="#555" stroke-width="0.8" />
<line x1="283.9" y1="249.94" x2="288.7" y2="249.94" stroke="#000" stroke-width="1.2" />
<line x1="286.2" y1="237.76999999999998" x2="288.7" y2="237.76999999999998" stroke="#555" stroke-width="0.8" />
<line x1="283.9" y1="225.6" x2="288.7" y2="225.6" stroke="#000" stroke-width="1.2" />
<line x1="288.0" y1="347.3" x2="468.3" y2="347.3" stroke="#000" stroke-width="1.5" />
<line x1="288.7" y1="347.3" x2="288.7" y2="352.3" stroke="#000" stroke-width="1.2" />
<line x1="295.889" y1="347.3" x2="295.889" y2="349.8" stroke="#555" stroke-width="0.8" />
<line x1="303.078" y1="347.3" x2="303.078" y2="349.8" stroke="#555" stroke-width="0.8" />
<line x1="310.267" y1="347.3" x2="310.267" y2="349.8" stroke="#555" stroke-width="0.8" />
<line x1="317.45599999999996" y1="347.3" x2="317.45599999999996" y2="352.3" stroke="#000" stroke-width="1.2" />
<line x1="324.645" y1="347.3" x2="324.645" y2="349.8" stroke="#555" stroke-width="0.8" />
<line x1="331.834" y1="347.3" x2="331.834" y2="349.8" stroke="#555" stroke-width="0.8" />
<line x1="339.02299999999997" y1="347.3" x2="339.02299999999997" y2="349.8" stroke="#555" stroke-width="0.8" />
<line x1="346.212" y1="347.3" x2="346.212" y2="352.3" stroke="#000" stroke-width="1.2" />
<line x1="353.40099999999995" y1="347.3" x2="353.40099999999995" y2="349.8" stroke="#555" stroke-width="0.8" />
<line x1="360.59" y1="347.3" x2="360.59" y2="349.8" stroke="#555" stroke-width="0.8" />
<line x1="367.779" y1="347.3" x2="367.779" y2="349.8" stroke="#555" stroke-width="0.8" />
<line x1="374.96799999999996" y1="347.3" x2="374.96799999999996" y2="352.3" stroke="#000" stroke-width="1.2" />
<line x1="382.157" y1="347.3" x2="382.157" y2="349.8" stroke="#555" stroke-width="0.8" />
<line x1="389.346" y1="347.3" x2="389.346" y2="349.8" stroke="#555" stroke-width="0.8" />
<line x1="396.53499999999997" y1="347.3" x2="396.53499999999997" y2="349.8" stroke="#555" stroke-width="0.8" />
<line x1="403.724" y1="347.3" x2="403.724" y2="352.3" stroke="#000" stroke-width="1.2" />
<line x1="410.913" y1="347.3" x2="410.913" y2="349.8" stroke="#555" stroke-width="0.8" />
<line x1="418.102" y1="347.3" x2="418.102" y2="349.8" stroke="#555" stroke-width="0.8" />
<line x1="425.29099999999994" y1="347.3" x2="425.29099999999994" y2="349.8" stroke="#555" stroke-width="0.8" />
<line x1="432.48" y1="347.3" x2="432.48" y2="352.3" stroke="#000" stroke-width="1.2" />
<line x1="439.669" y1="347.3" x2="439.669" y2="349.8" stroke="#555" stroke-width="0.8" />
<line x1="446.85799999999995" y1="347.3" x2="446.85799999999995" y2="349.8" stroke="#555" stroke-width="0.8" />
<line x1="454.04699999999997" y1="347.3" x2="454.04699999999997" y2="349.8" stroke="#555" stroke-width="0.8" />
<line x1="461.236" y1="347.3" x2="461.236" y2="352.3" stroke="#000" stroke-width="1.2" />
<line x1="468.42499999999995" y1="347.3" x2="468.42499999999995" y2="349.8" stroke="#555" stroke-width="0.8" />
<text x="281.5" y="351.40000000000003" font-size="9.4" font-weight="bold" text-anchor="end" fill="#000"  stroke="#000" stroke-width="0.4">0</text>
<text x="281.5" y="327.06000000000006" font-size="9.4" font-weight="bold" text-anchor="end" fill="#000"  stroke="#000" stroke-width="0.4">20</text>
<text x="281.5" y="302.72" font-size="9.4" font-weight="bold" text-anchor="end" fill="#000"  stroke="#000" stroke-width="0.4">40</text>
<text x="281.5" y="278.38" font-size="9.4" font-weight="bold" text-anchor="end" fill="#000"  stroke="#000" stroke-width="0.4">60</text>
<text x="281.5" y="254.04" font-size="9.4" font-weight="bold" text-anchor="end" fill="#000"  stroke="#000" stroke-width="0.4">80</text>
<text x="281.5" y="229.7" font-size="9.4" font-weight="bold" text-anchor="end" fill="#000"  stroke="#000" stroke-width="0.4">100</text>
<text x="289.0" y="363.5" font-size="9.3" font-weight="bold" text-anchor="middle" fill="#000"  stroke="#000" stroke-width="0.4">0</text>
<text x="317.756" y="363.5" font-size="9.3" font-weight="bold" text-anchor="middle" fill="#000"  stroke="#000" stroke-width="0.4">28</text>
<text x="346.512" y="363.5" font-size="9.3" font-weight="bold" text-anchor="middle" fill="#000"  stroke="#000" stroke-width="0.4">56</text>
<text x="375.268" y="363.5" font-size="9.3" font-weight="bold" text-anchor="middle" fill="#000"  stroke="#000" stroke-width="0.4">84</text>
<text x="404.024" y="363.5" font-size="9.3" font-weight="bold" text-anchor="middle" fill="#000"  stroke="#000" stroke-width="0.4">112</text>
<text x="432.78000000000003" y="363.5" font-size="9.3" font-weight="bold" text-anchor="middle" fill="#000"  stroke="#000" stroke-width="0.4">140</text>
<text x="461.536" y="363.5" font-size="9.3" font-weight="bold" text-anchor="middle" fill="#000"  stroke="#000" stroke-width="0.4">168</text>
<text transform="translate(265.9,288.8) rotate(-90)" font-size="11.8" font-weight="bold" text-anchor="middle" stroke="#000" stroke-width="0.4">Percent survival</text>
<text x="303.6" y="378.4" font-size="11.9" font-weight="bold" text-anchor="start" fill="#000"  stroke="#000" stroke-width="0.4">Days after transplantation</text>
<polyline points="289.4,220.2 381.3,220.2" fill="none" stroke="#e3222b" stroke-width="4.6" stroke-dasharray="15.5,2" />
<polyline points="290.0,220.4 381.0,220.4" fill="none" stroke="#fff" stroke-width="0.7" stroke-dasharray="1,3.4" />
<polyline points="381.3,218.9 381.3,238.8 389.0,238.8 468.4,238.8" fill="none" stroke="#e3222b" stroke-width="2.5" stroke-dasharray="13.4,4.1" />
<polyline points="381.3,221.6 389.1,221.6 389.1,240.6 399.8,240.6 399.8,252.7 420.9,252.7 420.9,265.4 468.4,265.4" fill="none" stroke="#e3222b" stroke-width="2.5" stroke-dasharray="5.4,3.3" />
<polyline points="289.4,227.6 307.0,227.6" fill="none" stroke="#7a3ac8" stroke-width="1.8" stroke-dasharray="1.4,1.6" />
<polyline points="307.0,227.6 307.0,237.6 316.0,237.6 316.0,244.0 319.0,244.0 319.0,251.0 323.0,251.0 323.0,258.0 325.0,258.0 325.0,266.0 326.0,266.0 326.0,274.0 328.0,274.0 328.0,281.0 330.0,281.0 330.0,288.0 331.0,288.0 331.0,295.0 333.0,295.0 333.0,302.0 335.0,302.0 335.0,308.0 337.0,308.0 337.0,315.0 340.0,315.0 340.0,321.0 343.0,321.0 343.0,327.0 344.0,327.0 344.0,333.4 401.0,333.4" fill="none" stroke="#e3222b" stroke-width="1.9" stroke-dasharray="1.7,1.5" />
<polyline points="289.4,225.6 308.5,225.6 308.5,236.0 309.5,236.0 309.5,250.0 310.3,250.0 310.3,262.0 310.8,262.0 310.8,275.0 311.3,275.0 311.3,290.0 312.0,290.0 312.0,303.0 312.8,303.0 312.8,316.0 314.0,316.0 314.0,328.0 315.5,328.0 315.5,338.0 317.0,338.0 317.0,347.3" fill="none" stroke="#1010e0" stroke-width="2.8" />
<rect x="304.5" y="225.4" width="6.2" height="6.2" fill="#000" stroke="#000" stroke-width="0.8" />
<rect x="304.5" y="240.8" width="6.2" height="6.2" fill="#000" stroke="#000" stroke-width="0.8" />
<rect x="306.7" y="253.70000000000002" width="6.2" height="6.2" fill="#000" stroke="#000" stroke-width="0.8" />
<rect x="306.7" y="263.79999999999995" width="6.2" height="6.2" fill="#000" stroke="#000" stroke-width="0.8" />
<rect x="307.4" y="279.2" width="6.2" height="6.2" fill="#000" stroke="#000" stroke-width="0.8" />
<rect x="307.4" y="289.79999999999995" width="6.2" height="6.2" fill="#000" stroke="#000" stroke-width="0.8" />
<rect x="307.4" y="300.59999999999997" width="6.2" height="6.2" fill="#000" stroke="#000" stroke-width="0.8" />
<rect x="309.0" y="314.59999999999997" width="6.2" height="6.2" fill="#000" stroke="#000" stroke-width="0.8" />
<rect x="311.2" y="326.59999999999997" width="6.2" height="6.2" fill="#000" stroke="#000" stroke-width="0.8" />
<rect x="313.5" y="338.29999999999995" width="6.2" height="6.2" fill="#000" stroke="#000" stroke-width="0.8" />
<path d="M305.3,230.45 L309.05,234.2 L305.3,237.95 L301.55,234.2 Z" stroke="#000" stroke-width="0.8" fill="#000" />
<path d="M317.7,240.3 L321.7,244.3 L317.7,248.3 L313.7,244.3 Z" stroke="#000" stroke-width="0.8" fill="#000" />
<path d="M325.2,254.3 L329.2,258.3 L325.2,262.3 L321.2,258.3 Z" stroke="#000" stroke-width="0.8" fill="#000" />
<path d="M325.6,270.1 L329.6,274.1 L325.6,278.1 L321.6,274.1 Z" stroke="#000" stroke-width="0.8" fill="#000" />
<path d="M330.1,282.35 L333.85,286.1 L330.1,289.85 L326.35,286.1 Z" stroke="#000" stroke-width="0.8" fill="#fff" />
<path d="M330.1,282.35 L333.85,286.1 L326.35,286.1 Z" stroke="#000" stroke-width="0.5" fill="#000" />
<path d="M332,295.95 L335.75,299.7 L332,303.45 L328.25,299.7 Z" stroke="#000" stroke-width="0.8" fill="#fff" />
<path d="M332,295.95 L335.75,299.7 L328.25,299.7 Z" stroke="#000" stroke-width="0.5" fill="#000" />
<path d="M337.4,309.45 L341.15,313.2 L337.4,316.95 L333.65,313.2 Z" stroke="#000" stroke-width="0.8" fill="#fff" />
<path d="M337.4,309.45 L341.15,313.2 L333.65,313.2 Z" stroke="#000" stroke-width="0.5" fill="#000" />
<path d="M344.1,324.15 L347.85,327.9 L344.1,331.65 L340.35,327.9 Z" stroke="#000" stroke-width="0.8" fill="#fff" />
<path d="M344.1,324.15 L347.85,327.9 L340.35,327.9 Z" stroke="#000" stroke-width="0.5" fill="#000" />
<path d="M380.5,226.1284 L384.4,232.9144 L376.6,232.9144 Z" stroke="#000" stroke-width="1.0" fill="#b4b4b4" />
<path d="M388.3,232.77159999999998 L392.2,225.98559999999998 L384.40000000000003,225.98559999999998 Z" stroke="#000" stroke-width="1.0" fill="#d0d0d0" />
<path d="M400.1,250.17159999999998 L404.0,243.38559999999998 L396.20000000000005,243.38559999999998 Z" stroke="#000" stroke-width="1.0" fill="#d0d0d0" />
<path d="M420.9,262.5716 L424.79999999999995,255.7856 L417.0,255.7856 Z" stroke="#000" stroke-width="1.0" fill="#d0d0d0" />
<path d="M399.2,336.8 L403.2,340.8 L399.2,344.8 L395.2,340.8 Z" stroke="#808080" stroke-width="0.8" fill="#b0b0b0" />
<rect x="16.8" y="396.3" width="247.6" height="98.3" fill="none" stroke="#000" stroke-width="1.4" />
<text x="24.2" y="411.3" font-size="9.6" font-weight="normal" text-anchor="start" fill="#000"  stroke="#000" stroke-width="0.12">BM donor</text>
<line x1="24.2" y1="413.8" x2="66.3" y2="413.8" stroke="#000" stroke-width="1.2" />
<text x="124.2" y="411.3" font-size="9.8" font-weight="normal" text-anchor="start" fill="#000"  stroke="#000" stroke-width="0.12">Virus</text>
<line x1="75.5" y1="414.1" x2="213.4" y2="414.1" stroke="#000" stroke-width="1.2" />
<text x="224.8" y="411.3" font-size="9.6" font-weight="normal" text-anchor="start" fill="#000"  stroke="#000" stroke-width="0.12">Disease</text>
<line x1="224.5" y1="414.1" x2="261" y2="414.1" stroke="#000" stroke-width="1.2" />
<text x="26.8" y="446.3" font-size="10" font-weight="bold" font-style="italic" fill="#1818cc" stroke="#1818cc" stroke-width="0.4">Gab2<tspan font-size="6.6" dy="-4.2">+/+</tspan></text>
<text x="26.3" y="466.9" font-size="10" font-weight="bold" font-style="italic" fill="#d0174c" stroke="#d0174c" stroke-width="0.4">Gab2<tspan font-size="7" dy="-4.2">−/−</tspan></text>
<line x1="73.4" y1="424.4" x2="104.9" y2="424.4" stroke="#000" stroke-width="1.9" />
<rect x="79.6" y="421.5" width="6.4" height="6.4" fill="#000" stroke="#000" stroke-width="0.8" />
<line x1="73.4" y1="444.2" x2="104.5" y2="444.2" stroke="#000" stroke-width="2.1" stroke-dasharray="2,1.8"/>
<path d="M83.1,439.7 L87.69999999999999,444.3 L83.1,448.90000000000003 L78.5,444.3 Z" stroke="#000" stroke-width="0.8" fill="#000" />
<line x1="69.8" y1="463.4" x2="102.5" y2="463.4" stroke="#000" stroke-width="2.0" stroke-dasharray="4.2,2.9"/>
<path d="M81.6,470.3024 L86.19999999999999,462.2984 L77.0,462.2984 Z" stroke="#000" stroke-width="0.8" fill="#000" />
<line x1="74.0" y1="482.1" x2="88.0" y2="482.1" stroke="#000" stroke-width="2.0" />
<line x1="92.2" y1="482.1" x2="104.3" y2="482.1" stroke="#000" stroke-width="2.0" />
<path d="M81.2,478.0976 L85.8,486.10159999999996 L76.60000000000001,486.10159999999996 Z" stroke="#000" stroke-width="0.8" fill="#000" />
<text x="108.6" y="427.6" font-size="9.6" font-weight="normal" stroke="#000" stroke-width="0.12">p210-IRES<tspan font-size="7" dy="2.4">wt</tspan><tspan dy="-2.4">-</tspan><tspan font-style="italic">GFP</tspan></text>
<text x="108.6" y="446.4" font-size="9.6" font-weight="normal" stroke="#000" stroke-width="0.12">p210-IRES<tspan font-size="7" dy="2.4">wt</tspan><tspan dy="-2.4">-</tspan><tspan font-style="italic">Gab2WT</tspan></text>
<text x="108.6" y="465.5" font-size="9.6" font-weight="normal" stroke="#000" stroke-width="0.12">p210-IRES<tspan font-size="7" dy="2.4">wt</tspan><tspan dy="-2.4">-</tspan><tspan font-style="italic">Gab2<tspan font-size="80%" font-style="normal">Δ</tspan>p85</tspan></text>
<text x="108.6" y="484.4" font-size="9.6" font-weight="normal" stroke="#000" stroke-width="0.12">p210-IRES<tspan font-size="7" dy="2.4">wt</tspan><tspan dy="-2.4">-</tspan><tspan font-style="italic">Gab2<tspan font-size="80%" font-style="normal">Δ</tspan>Shp2</tspan></text>
<rect x="226.20000000000002" y="431.0" width="6.2" height="6.2" fill="#000" stroke="#000" stroke-width="0.8" />
<rect x="226.20000000000002" y="447.59999999999997" width="6.2" height="6.2" fill="#fff" stroke="#000" stroke-width="0.8" />
<rect x="226.20000000000002" y="466.2" width="6.2" height="6.2" fill="#bdbdbd" stroke="#555" stroke-width="0.8" />
<text x="236.7" y="437.6" font-size="9.6" font-weight="normal" text-anchor="start" fill="#000"  stroke="#000" stroke-width="0.12">CML</text>
<text x="236.7" y="454.3" font-size="9.6" font-weight="normal" text-anchor="start" fill="#000"  stroke="#000" stroke-width="0.12">B-ALL</text>
<text x="236.7" y="472.9" font-size="9.6" font-weight="normal" text-anchor="start" fill="#000"  stroke="#000" stroke-width="0.12">T-ALL</text>
<line x1="324.4" y1="401.4" x2="344.8" y2="401.4" stroke="#000" stroke-width="1.5" />
<line x1="352.8" y1="401.4" x2="517.1" y2="401.4" stroke="#000" stroke-width="1.5" />
<path d="M343.1,404.2 L348.1,399.2 M348.5,404.2 L353.8,399.2" stroke="#000" stroke-width="1.4" fill="none" />
<line x1="331.0" y1="401.4" x2="331.0" y2="573.5" stroke="#000" stroke-width="1.5" />
<line x1="331.0" y1="582.5" x2="331.0" y2="588.2" stroke="#000" stroke-width="1.5" />
<path d="M327.5,577 L334.5,571.5 M327.5,583 L334.5,577.5" stroke="#000" stroke-width="1.1" fill="none" />
<line x1="517.1" y1="401.4" x2="517.1" y2="573.5" stroke="#000" stroke-width="1.5" />
<line x1="517.1" y1="583.0" x2="517.1" y2="588.2" stroke="#000" stroke-width="1.5" />
<path d="M514,577 L520,571.5 M514,583 L520,577.5" stroke="#000" stroke-width="1.1" fill="none" />
<line x1="330.3" y1="587.6" x2="344.5" y2="587.6" stroke="#000" stroke-width="1.5" />
<line x1="352.5" y1="587.6" x2="517.9" y2="587.6" stroke="#000" stroke-width="1.5" />
<path d="M343,591 L348,584.5 M348.5,591 L353.5,584.5" stroke="#000" stroke-width="1.1" fill="none" />
<line x1="324.0" y1="460.5" x2="517" y2="460.5" stroke="#111" stroke-width="1.0" />
<line x1="324.0" y1="543.5" x2="517" y2="543.5" stroke="#111" stroke-width="1.0" />
<line x1="324.4" y1="569.0" x2="331.0" y2="569.0" stroke="#222" stroke-width="1.0" />
<line x1="327.8" y1="434.74358336379197" x2="331.0" y2="434.74358336379197" stroke="#777" stroke-width="0.7" />
<line x1="327.8" y1="419.96952672902034" x2="331.0" y2="419.96952672902034" stroke="#777" stroke-width="0.7" />
<line x1="327.8" y1="409.48716672758394" x2="331.0" y2="409.48716672758394" stroke="#777" stroke-width="0.7" />
<line x1="327.8" y1="518.643583363792" x2="331.0" y2="518.643583363792" stroke="#777" stroke-width="0.7" />
<line x1="327.8" y1="503.8695267290203" x2="331.0" y2="503.8695267290203" stroke="#777" stroke-width="0.7" />
<line x1="327.8" y1="493.387166727584" x2="331.0" y2="493.387166727584" stroke="#777" stroke-width="0.7" />
<line x1="327.8" y1="485.25641663620803" x2="331.0" y2="485.25641663620803" stroke="#777" stroke-width="0.7" />
<line x1="327.8" y1="478.6131100928123" x2="331.0" y2="478.6131100928123" stroke="#777" stroke-width="0.7" />
<line x1="327.8" y1="472.99627444280384" x2="331.0" y2="472.99627444280384" stroke="#777" stroke-width="0.7" />
<line x1="327.8" y1="468.13075009137594" x2="331.0" y2="468.13075009137594" stroke="#777" stroke-width="0.7" />
<line x1="327.8" y1="463.83905345804067" x2="331.0" y2="463.83905345804067" stroke="#777" stroke-width="0.7" />
<line x1="327.8" y1="562.5131100928123" x2="331.0" y2="562.5131100928123" stroke="#777" stroke-width="0.7" />
<line x1="327.8" y1="556.8962744428038" x2="331.0" y2="556.8962744428038" stroke="#777" stroke-width="0.7" />
<line x1="327.8" y1="552.0307500913759" x2="331.0" y2="552.0307500913759" stroke="#777" stroke-width="0.7" />
<line x1="327.8" y1="547.7390534580406" x2="331.0" y2="547.7390534580406" stroke="#777" stroke-width="0.7" />
<text x="323.4" y="405.6" font-size="9.8" font-weight="bold" text-anchor="end" fill="#000"  stroke="#000" stroke-width="0.4">500</text>
<text x="323.4" y="463.8" font-size="9.8" font-weight="bold" text-anchor="end" fill="#000"  stroke="#000" stroke-width="0.4">100</text>
<text x="323.4" y="547.2" font-size="9.8" font-weight="bold" text-anchor="end" fill="#000"  stroke="#000" stroke-width="0.4">10</text>
<text x="323.6" y="572.4" font-size="9.8" font-weight="bold" text-anchor="end" fill="#000"  stroke="#000" stroke-width="0.4">5</text>
<line x1="361.0" y1="587.6" x2="361.0" y2="591.2" stroke="#000" stroke-width="1.0" />
<text x="361.0" y="601.5" font-size="9.8" font-weight="bold" text-anchor="middle" fill="#000"  stroke="#000" stroke-width="0.4">14</text>
<line x1="391.352" y1="587.6" x2="391.352" y2="591.2" stroke="#000" stroke-width="1.0" />
<text x="391.352" y="601.5" font-size="9.8" font-weight="bold" text-anchor="middle" fill="#000"  stroke="#000" stroke-width="0.4">21</text>
<line x1="421.704" y1="587.6" x2="421.704" y2="591.2" stroke="#000" stroke-width="1.0" />
<text x="421.704" y="601.5" font-size="9.8" font-weight="bold" text-anchor="middle" fill="#000"  stroke="#000" stroke-width="0.4">28</text>
<line x1="452.05600000000004" y1="587.6" x2="452.05600000000004" y2="591.2" stroke="#000" stroke-width="1.0" />
<text x="452.05600000000004" y="601.5" font-size="9.8" font-weight="bold" text-anchor="middle" fill="#000"  stroke="#000" stroke-width="0.4">35</text>
<line x1="482.408" y1="587.6" x2="482.408" y2="591.2" stroke="#000" stroke-width="1.0" />
<text x="482.408" y="601.5" font-size="9.8" font-weight="bold" text-anchor="middle" fill="#000"  stroke="#000" stroke-width="0.4">42</text>
<line x1="512.76" y1="587.6" x2="512.76" y2="591.2" stroke="#000" stroke-width="1.0" />
<text x="512.76" y="601.5" font-size="9.8" font-weight="bold" text-anchor="middle" fill="#000"  stroke="#000" stroke-width="0.4">49</text>
<text x="331.2" y="601.5" font-size="9.8" font-weight="bold" text-anchor="middle" fill="#000"  stroke="#000" stroke-width="0.4">0</text>
<text x="356.2" y="616.8" font-size="10.6" font-weight="bold" text-anchor="start" fill="#000"  stroke="#000" stroke-width="0.4">Days after transplantation</text>
<text transform="translate(306.3,501.5) rotate(-90)" font-size="11.4" font-weight="bold" text-anchor="middle" stroke="#000" stroke-width="0.4">PB WBC x 10<tspan font-size="8.6" dy="-5" dx="0.6">3</tspan><tspan dy="5" dx="0.8">/µl</tspan></text>
<polyline points="333.0,587.0 380.4,520.2 501.0,523.8" fill="none" stroke="#e8121e" stroke-width="1.9" stroke-dasharray="7,3.5" />
<polyline points="333.0,587.0 401.9,513.1 501.2,531.5" fill="none" stroke="#e8121e" stroke-width="1.9" stroke-dasharray="7,3.5" />
<polyline points="333.0,587.0 411.5,526.5 501.0,539.0" fill="none" stroke="#e8121e" stroke-width="1.9" stroke-dasharray="7,3.5" />
<polyline points="333.0,587.0 394.4,564.5 405.0,541.0 500.0,534.0" fill="none" stroke="#e8121e" stroke-width="1.9" stroke-dasharray="7,3.5" />
<polyline points="333.0,587.0 388.0,546.0 500.0,536.0" fill="none" stroke="#e8121e" stroke-width="1.9" stroke-dasharray="7,3.5" />
<polyline points="333.0,587.0 415.8,536.2 508.7,530.5" fill="none" stroke="#e8121e" stroke-width="1.9" stroke-dasharray="9,4" />
<polyline points="333.0,587.0 418.7,546.9 508.7,541.5" fill="none" stroke="#e8121e" stroke-width="1.9" stroke-dasharray="9,4" />
<polyline points="333.0,587.0 380.0,545.0 506.9,545.5" fill="none" stroke="#e8121e" stroke-width="1.9" stroke-dasharray="9,4" />
<polyline points="333.0,587.0 372.0,553.0 427.0,532.0 509.0,543.0" fill="none" stroke="#e8121e" stroke-width="1.9" stroke-dasharray="9,4" />
<polyline points="333.0,587.0 392.0,552.0 418.0,546.0" fill="none" stroke="#e8121e" stroke-width="1.9" stroke-dasharray="9,4" />
<polyline points="333.0,587.0 380.5,466.2 411.2,473.7" fill="none" stroke="#e8121e" stroke-width="1.5" stroke-dasharray="1.3,1.6" />
<polyline points="333.0,587.0 385.0,468.1 411.2,473.5" fill="none" stroke="#e8121e" stroke-width="1.5" stroke-dasharray="1.3,1.6" />
<polyline points="333.0,587.0 411.2,458.8 436.6,424.2" fill="none" stroke="#e8121e" stroke-width="1.5" stroke-dasharray="1.3,1.6" />
<polyline points="333.0,587.0 385.0,498.1 411.2,434.1" fill="none" stroke="#e8121e" stroke-width="1.5" stroke-dasharray="1.3,1.6" />
<polyline points="333.0,587.0 401.9,501.9 441.2,425.7" fill="none" stroke="#e8121e" stroke-width="1.5" stroke-dasharray="1.3,1.6" />
<polyline points="333.0,587.0 406.7,506.7 445.3,428.5" fill="none" stroke="#e8121e" stroke-width="1.5" stroke-dasharray="1.3,1.6" />
<polyline points="333.0,587.0 385.0,506.7 436.6,424.2" fill="none" stroke="#e8121e" stroke-width="1.5" stroke-dasharray="1.3,1.6" />
<polyline points="333.0,587.0 388.7,509.4 441.2,504.9 475.0,499.2 506.9,472.6" fill="none" stroke="#e8121e" stroke-width="1.5" stroke-dasharray="1.3,1.6" />
<polyline points="333.0,587.0 411.2,507.5 441.2,511.2 479.5,502.6" fill="none" stroke="#e8121e" stroke-width="1.5" stroke-dasharray="1.3,1.6" />
<polyline points="333.0,587.0 415.0,508.6 441.2,504.9" fill="none" stroke="#e8121e" stroke-width="1.5" stroke-dasharray="1.3,1.6" />
<polyline points="333.0,587.0 380.5,531.9 411.2,507.5" fill="none" stroke="#e8121e" stroke-width="1.5" stroke-dasharray="1.3,1.6" />
<polyline points="333.0,587.0 381.2,539.4 415.0,508.6" fill="none" stroke="#e8121e" stroke-width="1.5" stroke-dasharray="1.3,1.6" />
<polyline points="333.0,587.0 378.0,545.0 406.7,506.7" fill="none" stroke="#e8121e" stroke-width="1.5" stroke-dasharray="1.3,1.6" />
<polyline points="333.0,587.0 386.0,530.0 401.9,501.9" fill="none" stroke="#e8121e" stroke-width="1.5" stroke-dasharray="1.3,1.6" />
<polyline points="333.0,587.0 411.0,404.3" fill="none" stroke="#1010e8" stroke-width="1.3" />
<polyline points="333.0,587.0 393.7,417.0" fill="none" stroke="#1010e8" stroke-width="1.3" />
<polyline points="333.0,587.0 376.0,421.1" fill="none" stroke="#1010e8" stroke-width="1.3" />
<polyline points="333.0,587.0 380.7,424.2" fill="none" stroke="#1010e8" stroke-width="1.3" />
<polyline points="333.0,587.0 385.2,428.5" fill="none" stroke="#1010e8" stroke-width="1.3" />
<polyline points="333.0,587.0 385.2,437.2" fill="none" stroke="#1010e8" stroke-width="1.3" />
<polyline points="333.0,587.0 376.9,444.1" fill="none" stroke="#1010e8" stroke-width="1.3" />
<polyline points="333.0,587.0 385.2,448.4" fill="none" stroke="#1010e8" stroke-width="1.3" />
<polyline points="333.0,587.0 385.2,478.7" fill="none" stroke="#1010e8" stroke-width="1.3" />
<polyline points="333.0,587.0 385.2,486.5" fill="none" stroke="#1010e8" stroke-width="1.3" />
<rect x="408.2" y="401.5" width="5.6" height="5.6" fill="#1010e8" stroke="#1010e8" stroke-width="0.5" />
<rect x="390.9" y="414.2" width="5.6" height="5.6" fill="#1010e8" stroke="#1010e8" stroke-width="0.5" />
<rect x="373.2" y="418.3" width="5.6" height="5.6" fill="#1010e8" stroke="#1010e8" stroke-width="0.5" />
<rect x="377.9" y="421.4" width="5.6" height="5.6" fill="#1010e8" stroke="#1010e8" stroke-width="0.5" />
<rect x="382.4" y="425.7" width="5.6" height="5.6" fill="#1010e8" stroke="#1010e8" stroke-width="0.5" />
<rect x="382.4" y="434.4" width="5.6" height="5.6" fill="#1010e8" stroke="#1010e8" stroke-width="0.5" />
<rect x="374.09999999999997" y="441.3" width="5.6" height="5.6" fill="#1010e8" stroke="#1010e8" stroke-width="0.5" />
<rect x="382.4" y="445.59999999999997" width="5.6" height="5.6" fill="#1010e8" stroke="#1010e8" stroke-width="0.5" />
<rect x="382.4" y="475.9" width="5.6" height="5.6" fill="#1010e8" stroke="#1010e8" stroke-width="0.5" />
<rect x="382.4" y="483.7" width="5.6" height="5.6" fill="#1010e8" stroke="#1010e8" stroke-width="0.5" />
<path d="M380.5,462.59999999999997 L384.1,466.2 L380.5,469.8 L376.9,466.2 Z" stroke="#e8121e" stroke-width="0.5" fill="#e8121e" />
<path d="M411.2,470.09999999999997 L414.8,473.7 L411.2,477.3 L407.59999999999997,473.7 Z" stroke="#e8121e" stroke-width="0.5" fill="#e8121e" />
<path d="M385,464.5 L388.6,468.1 L385,471.70000000000005 L381.4,468.1 Z" stroke="#e8121e" stroke-width="0.5" fill="#e8121e" />
<path d="M411.2,469.9 L414.8,473.5 L411.2,477.1 L407.59999999999997,473.5 Z" stroke="#e8121e" stroke-width="0.5" fill="#e8121e" />
<path d="M411.2,455.2 L414.8,458.8 L411.2,462.40000000000003 L407.59999999999997,458.8 Z" stroke="#e8121e" stroke-width="0.5" fill="#e8121e" />
<path d="M436.6,420.59999999999997 L440.20000000000005,424.2 L436.6,427.8 L433.0,424.2 Z" stroke="#e8121e" stroke-width="0.5" fill="#e8121e" />
<path d="M385,494.5 L388.6,498.1 L385,501.70000000000005 L381.4,498.1 Z" stroke="#e8121e" stroke-width="0.5" fill="#e8121e" />
<path d="M411.2,430.5 L414.8,434.1 L411.2,437.70000000000005 L407.59999999999997,434.1 Z" stroke="#e8121e" stroke-width="0.5" fill="#e8121e" />
<path d="M401.9,498.29999999999995 L405.5,501.9 L401.9,505.5 L398.29999999999995,501.9 Z" stroke="#e8121e" stroke-width="0.5" fill="#e8121e" />
<path d="M441.2,422.09999999999997 L444.8,425.7 L441.2,429.3 L437.59999999999997,425.7 Z" stroke="#e8121e" stroke-width="0.5" fill="#e8121e" />
<path d="M406.7,503.09999999999997 L410.3,506.7 L406.7,510.3 L403.09999999999997,506.7 Z" stroke="#e8121e" stroke-width="0.5" fill="#e8121e" />
<path d="M445.3,424.9 L448.90000000000003,428.5 L445.3,432.1 L441.7,428.5 Z" stroke="#e8121e" stroke-width="0.5" fill="#e8121e" />
<path d="M385,503.09999999999997 L388.6,506.7 L385,510.3 L381.4,506.7 Z" stroke="#e8121e" stroke-width="0.5" fill="#e8121e" />
<path d="M436.6,420.59999999999997 L440.20000000000005,424.2 L436.6,427.8 L433.0,424.2 Z" stroke="#e8121e" stroke-width="0.5" fill="#e8121e" />
<path d="M388.7,505.79999999999995 L392.3,509.4 L388.7,513.0 L385.09999999999997,509.4 Z" stroke="#e8121e" stroke-width="0.5" fill="#e8121e" />
<path d="M441.2,501.29999999999995 L444.8,504.9 L441.2,508.5 L437.59999999999997,504.9 Z" stroke="#e8121e" stroke-width="0.5" fill="#e8121e" />
<path d="M475,495.59999999999997 L478.6,499.2 L475,502.8 L471.4,499.2 Z" stroke="#e8121e" stroke-width="0.5" fill="#e8121e" />
<path d="M506.9,469.0 L510.5,472.6 L506.9,476.20000000000005 L503.29999999999995,472.6 Z" stroke="#e8121e" stroke-width="0.5" fill="#e8121e" />
<path d="M411.2,503.9 L414.8,507.5 L411.2,511.1 L407.59999999999997,507.5 Z" stroke="#e8121e" stroke-width="0.5" fill="#e8121e" />
<path d="M441.2,507.59999999999997 L444.8,511.2 L441.2,514.8 L437.59999999999997,511.2 Z" stroke="#e8121e" stroke-width="0.5" fill="#e8121e" />
<path d="M479.5,499.0 L483.1,502.6 L479.5,506.20000000000005 L475.9,502.6 Z" stroke="#e8121e" stroke-width="0.5" fill="#e8121e" />
<path d="M415,505.0 L418.6,508.6 L415,512.2 L411.4,508.6 Z" stroke="#e8121e" stroke-width="0.5" fill="#e8121e" />
<path d="M441.2,501.29999999999995 L444.8,504.9 L441.2,508.5 L437.59999999999997,504.9 Z" stroke="#e8121e" stroke-width="0.5" fill="#e8121e" />
<path d="M380.5,528.3 L384.1,531.9 L380.5,535.5 L376.9,531.9 Z" stroke="#e8121e" stroke-width="0.5" fill="#e8121e" />
<path d="M411.2,503.9 L414.8,507.5 L411.2,511.1 L407.59999999999997,507.5 Z" stroke="#e8121e" stroke-width="0.5" fill="#e8121e" />
<path d="M381.2,535.8 L384.8,539.4 L381.2,543.0 L377.59999999999997,539.4 Z" stroke="#e8121e" stroke-width="0.5" fill="#e8121e" />
<path d="M415,505.0 L418.6,508.6 L415,512.2 L411.4,508.6 Z" stroke="#e8121e" stroke-width="0.5" fill="#e8121e" />
<path d="M378,541.4 L381.6,545 L378,548.6 L374.4,545 Z" stroke="#e8121e" stroke-width="0.5" fill="#e8121e" />
<path d="M406.7,503.09999999999997 L410.3,506.7 L406.7,510.3 L403.09999999999997,506.7 Z" stroke="#e8121e" stroke-width="0.5" fill="#e8121e" />
<path d="M386,526.4 L389.6,530 L386,533.6 L382.4,530 Z" stroke="#e8121e" stroke-width="0.5" fill="#e8121e" />
<path d="M401.9,498.29999999999995 L405.5,501.9 L401.9,505.5 L398.29999999999995,501.9 Z" stroke="#e8121e" stroke-width="0.5" fill="#e8121e" />
<path d="M380.4,523.854 L383.9,517.764 L376.9,517.764 Z" stroke="#e8121e" stroke-width="0.5" fill="#e8121e" />
<path d="M501.0,527.454 L504.5,521.3639999999999 L497.5,521.3639999999999 Z" stroke="#e8121e" stroke-width="0.5" fill="#e8121e" />
<path d="M401.9,516.754 L405.4,510.66400000000004 L398.4,510.66400000000004 Z" stroke="#e8121e" stroke-width="0.5" fill="#e8121e" />
<path d="M501.2,535.154 L504.7,529.064 L497.7,529.064 Z" stroke="#e8121e" stroke-width="0.5" fill="#e8121e" />
<path d="M411.5,530.154 L415.0,524.064 L408.0,524.064 Z" stroke="#e8121e" stroke-width="0.5" fill="#e8121e" />
<path d="M501.0,542.654 L504.5,536.564 L497.5,536.564 Z" stroke="#e8121e" stroke-width="0.5" fill="#e8121e" />
<path d="M394.4,568.154 L397.9,562.064 L390.9,562.064 Z" stroke="#e8121e" stroke-width="0.5" fill="#e8121e" />
<path d="M405,544.654 L408.5,538.564 L401.5,538.564 Z" stroke="#e8121e" stroke-width="0.5" fill="#e8121e" />
<path d="M500,537.654 L503.5,531.564 L496.5,531.564 Z" stroke="#e8121e" stroke-width="0.5" fill="#e8121e" />
<path d="M388,549.654 L391.5,543.564 L384.5,543.564 Z" stroke="#e8121e" stroke-width="0.5" fill="#e8121e" />
<path d="M500,539.654 L503.5,533.564 L496.5,533.564 Z" stroke="#e8121e" stroke-width="0.5" fill="#e8121e" />
<path d="M415.8,532.546 L419.3,538.6360000000001 L412.3,538.6360000000001 Z" stroke="#e8121e" stroke-width="0.5" fill="#e8121e" />
<path d="M508.7,526.846 L512.2,532.936 L505.2,532.936 Z" stroke="#e8121e" stroke-width="0.5" fill="#e8121e" />
<path d="M418.7,543.246 L422.2,549.336 L415.2,549.336 Z" stroke="#e8121e" stroke-width="0.5" fill="#e8121e" />
<path d="M508.7,537.846 L512.2,543.936 L505.2,543.936 Z" stroke="#e8121e" stroke-width="0.5" fill="#e8121e" />
<path d="M380,541.346 L383.5,547.436 L376.5,547.436 Z" stroke="#e8121e" stroke-width="0.5" fill="#e8121e" />
<path d="M506.9,541.846 L510.4,547.936 L503.4,547.936 Z" stroke="#e8121e" stroke-width="0.5" fill="#e8121e" />
<path d="M372,549.346 L375.5,555.436 L368.5,555.436 Z" stroke="#e8121e" stroke-width="0.5" fill="#e8121e" />
<path d="M427,528.346 L430.5,534.436 L423.5,534.436 Z" stroke="#e8121e" stroke-width="0.5" fill="#e8121e" />
<path d="M509,539.346 L512.5,545.436 L505.5,545.436 Z" stroke="#e8121e" stroke-width="0.5" fill="#e8121e" />
<path d="M392,548.346 L395.5,554.436 L388.5,554.436 Z" stroke="#e8121e" stroke-width="0.5" fill="#e8121e" />
<path d="M418,542.346 L421.5,548.436 L414.5,548.436 Z" stroke="#e8121e" stroke-width="0.5" fill="#e8121e" />
<path d="M411.5,530.154 L415.0,524.064 L408.0,524.064 Z" stroke="#d0186a" stroke-width="0.5" fill="#d0186a" />
<path d="M501.0,542.654 L504.5,536.564 L497.5,536.564 Z" stroke="#d0186a" stroke-width="0.5" fill="#d0186a" />
<rect x="330.5" y="584.5" width="5" height="5" fill="#e8121e" stroke="#e8121e" stroke-width="0.5" />
<text x="56.8" y="526.9" font-size="9.6" font-weight="bold" text-anchor="middle" fill="#000"  stroke="#000" stroke-width="0.4">GAB2WT</text>
<text x="83.4" y="544.0" font-size="10.2" font-weight="bold" text-anchor="end" fill="#000"  stroke="#000" stroke-width="0.4">54%</text>
<text x="125.80000000000001" y="526.9" font-size="9.6" font-weight="bold" text-anchor="middle" fill="#000"  stroke="#000" stroke-width="0.4">GAB2<tspan font-size="80%" font-style="normal">Δ</tspan>PH</text>
<text x="152.4" y="544.0" font-size="10.2" font-weight="bold" text-anchor="end" fill="#000"  stroke="#000" stroke-width="0.4">39%</text>
<text x="194.2" y="526.9" font-size="9.6" font-weight="bold" text-anchor="middle" fill="#000"  stroke="#000" stroke-width="0.4">GAB2<tspan font-size="80%" font-style="normal">Δ</tspan>p85</text>
<text x="220.8" y="544.0" font-size="10.2" font-weight="bold" text-anchor="end" fill="#000"  stroke="#000" stroke-width="0.4">27%</text>
<text x="262.90000000000003" y="526.9" font-size="9.6" font-weight="bold" text-anchor="middle" fill="#000"  stroke="#000" stroke-width="0.4">GAB2<tspan font-size="80%" font-style="normal">Δ</tspan>SHP2</text>
<text x="289.5" y="544.0" font-size="10.2" font-weight="bold" text-anchor="end" fill="#000"  stroke="#000" stroke-width="0.4">20%</text>
<path d="M55.1 566.8h0.8v0.8h-0.8zM47.7 567.6h0.8v0.8h-0.8zM51.7 563.2h0.8v0.8h-0.8zM67.2 561.2h0.8v0.8h-0.8zM53.8 565.6h0.8v0.8h-0.8zM61.6 561.8h0.8v0.8h-0.8zM57.3 560.0h0.8v0.8h-0.8zM50.9 562.8h0.8v0.8h-0.8zM43.5 561.3h0.8v0.8h-0.8zM42.1 565.2h0.8v0.8h-0.8zM52.3 562.9h0.8v0.8h-0.8zM53.4 559.7h0.8v0.8h-0.8zM53.3 564.3h0.8v0.8h-0.8zM58.5 560.1h0.8v0.8h-0.8zM49.8 558.5h0.8v0.8h-0.8zM48.9 558.2h0.8v0.8h-0.8zM44.3 568.6h0.8v0.8h-0.8zM38.6 568.8h0.8v0.8h-0.8zM55.8 562.2h0.8v0.8h-0.8zM57.2 564.3h0.8v0.8h-0.8zM60.9 561.4h0.8v0.8h-0.8zM49.2 562.7h0.8v0.8h-0.8zM46.7 564.8h0.8v0.8h-0.8zM48.7 567.6h0.8v0.8h-0.8zM39.9 563.2h0.8v0.8h-0.8zM45.8 559.1h0.8v0.8h-0.8zM65.8 554.2h0.8v0.8h-0.8zM51.4 562.5h0.8v0.8h-0.8zM64.3 555.7h0.8v0.8h-0.8zM60.9 560.0h0.8v0.8h-0.8zM52.2 561.9h0.8v0.8h-0.8zM57.6 559.5h0.8v0.8h-0.8zM53.3 564.6h0.8v0.8h-0.8zM65.3 554.3h0.8v0.8h-0.8zM65.0 563.9h0.8v0.8h-0.8zM50.5 565.0h0.8v0.8h-0.8zM51.3 568.7h0.8v0.8h-0.8zM55.1 562.6h0.8v0.8h-0.8zM52.0 563.3h0.8v0.8h-0.8zM52.0 561.3h0.8v0.8h-0.8zM67.2 555.3h0.8v0.8h-0.8zM28.2 568.3h0.8v0.8h-0.8zM52.9 564.7h0.8v0.8h-0.8zM52.2 563.4h0.8v0.8h-0.8zM56.6 565.7h0.8v0.8h-0.8zM50.3 563.1h0.8v0.8h-0.8zM67.7 562.2h0.8v0.8h-0.8zM48.0 571.3h0.8v0.8h-0.8zM58.8 560.8h0.8v0.8h-0.8zM45.6 566.0h0.8v0.8h-0.8zM47.2 561.8h0.8v0.8h-0.8zM44.3 564.0h0.8v0.8h-0.8zM61.3 560.7h0.8v0.8h-0.8zM43.8 567.4h0.8v0.8h-0.8zM54.6 565.7h0.8v0.8h-0.8zM62.1 561.3h0.8v0.8h-0.8zM52.7 563.6h0.8v0.8h-0.8zM46.1 567.0h0.8v0.8h-0.8zM63.5 562.0h0.8v0.8h-0.8zM51.9 563.1h0.8v0.8h-0.8zM47.7 562.4h0.8v0.8h-0.8zM50.4 561.8h0.8v0.8h-0.8zM49.7 559.8h0.8v0.8h-0.8zM56.2 563.1h0.8v0.8h-0.8zM44.3 558.8h0.8v0.8h-0.8zM54.3 566.5h0.8v0.8h-0.8zM48.3 563.2h0.8v0.8h-0.8zM50.1 566.1h0.8v0.8h-0.8zM47.8 567.5h0.8v0.8h-0.8zM52.1 566.5h0.8v0.8h-0.8zM53.8 562.8h0.8v0.8h-0.8zM42.9 563.7h0.8v0.8h-0.8zM52.2 565.7h0.8v0.8h-0.8zM55.0 561.2h0.8v0.8h-0.8zM57.1 565.6h0.8v0.8h-0.8zM52.4 562.5h0.8v0.8h-0.8zM51.4 566.3h0.8v0.8h-0.8zM57.0 560.2h0.8v0.8h-0.8zM56.1 561.6h0.8v0.8h-0.8zM49.1 568.0h0.8v0.8h-0.8zM59.1 560.3h0.8v0.8h-0.8zM54.5 564.8h0.8v0.8h-0.8zM49.1 564.1h0.8v0.8h-0.8zM57.4 557.6h0.8v0.8h-0.8zM56.4 565.1h0.8v0.8h-0.8zM56.5 559.1h0.8v0.8h-0.8zM55.5 560.7h0.8v0.8h-0.8zM58.1 564.3h0.8v0.8h-0.8zM54.8 561.1h0.8v0.8h-0.8zM50.0 566.7h0.8v0.8h-0.8zM47.6 566.1h0.8v0.8h-0.8zM57.2 562.0h0.8v0.8h-0.8zM70.6 560.3h0.8v0.8h-0.8zM67.7 554.9h0.8v0.8h-0.8zM38.4 569.4h0.8v0.8h-0.8zM58.0 561.7h0.8v0.8h-0.8zM52.3 558.4h0.8v0.8h-0.8zM48.7 561.6h0.8v0.8h-0.8zM52.6 566.2h0.8v0.8h-0.8zM54.3 564.4h0.8v0.8h-0.8zM48.5 563.3h0.8v0.8h-0.8zM54.3 562.6h0.8v0.8h-0.8zM62.1 559.3h0.8v0.8h-0.8zM66.5 558.1h0.8v0.8h-0.8zM60.7 559.9h0.8v0.8h-0.8zM65.4 561.5h0.8v0.8h-0.8zM56.9 565.0h0.8v0.8h-0.8zM48.6 561.5h0.8v0.8h-0.8zM40.1 569.7h0.8v0.8h-0.8zM48.5 562.9h0.8v0.8h-0.8zM54.6 569.0h0.8v0.8h-0.8zM41.6 566.7h0.8v0.8h-0.8zM51.2 565.5h0.8v0.8h-0.8zM40.8 565.0h0.8v0.8h-0.8zM60.5 566.6h0.8v0.8h-0.8zM64.5 558.9h0.8v0.8h-0.8zM54.0 563.1h0.8v0.8h-0.8zM43.2 561.5h0.8v0.8h-0.8zM59.2 563.1h0.8v0.8h-0.8zM53.4 567.0h0.8v0.8h-0.8zM46.9 566.4h0.8v0.8h-0.8zM53.7 563.3h0.8v0.8h-0.8zM57.3 563.3h0.8v0.8h-0.8zM55.7 563.8h0.8v0.8h-0.8zM67.2 559.9h0.8v0.8h-0.8zM61.2 563.7h0.8v0.8h-0.8zM51.7 566.2h0.8v0.8h-0.8zM48.3 567.9h0.8v0.8h-0.8zM47.7 563.3h0.8v0.8h-0.8zM56.4 565.3h0.8v0.8h-0.8zM60.6 564.7h0.8v0.8h-0.8zM51.7 561.2h0.8v0.8h-0.8zM57.7 563.5h0.8v0.8h-0.8zM47.5 567.5h0.8v0.8h-0.8zM54.6 560.6h0.8v0.8h-0.8zM56.1 559.2h0.8v0.8h-0.8zM47.7 565.9h0.8v0.8h-0.8zM42.7 565.8h0.8v0.8h-0.8zM44.6 567.5h0.8v0.8h-0.8zM48.7 565.0h0.8v0.8h-0.8zM42.9 564.7h0.8v0.8h-0.8zM60.6 563.4h0.8v0.8h-0.8zM41.2 568.7h0.8v0.8h-0.8zM59.8 561.2h0.8v0.8h-0.8zM63.1 558.6h0.8v0.8h-0.8zM53.7 566.7h0.8v0.8h-0.8zM63.7 565.1h0.8v0.8h-0.8zM45.0 560.2h0.8v0.8h-0.8zM55.7 559.0h0.8v0.8h-0.8zM52.1 560.2h0.8v0.8h-0.8zM61.6 564.2h0.8v0.8h-0.8zM57.6 562.8h0.8v0.8h-0.8zM53.9 562.6h0.8v0.8h-0.8zM56.5 563.6h0.8v0.8h-0.8zM56.7 561.7h0.8v0.8h-0.8zM67.3 561.6h0.8v0.8h-0.8zM64.3 565.2h0.8v0.8h-0.8zM46.6 560.1h0.8v0.8h-0.8zM62.4 560.6h0.8v0.8h-0.8zM54.1 562.7h0.8v0.8h-0.8zM54.0 560.0h0.8v0.8h-0.8zM52.7 562.4h0.8v0.8h-0.8zM52.3 557.1h0.8v0.8h-0.8zM59.7 563.2h0.8v0.8h-0.8zM41.1 564.0h0.8v0.8h-0.8zM54.3 565.2h0.8v0.8h-0.8zM54.5 567.3h0.8v0.8h-0.8zM53.3 560.7h0.8v0.8h-0.8zM49.3 566.5h0.8v0.8h-0.8zM49.8 566.7h0.8v0.8h-0.8zM61.2 563.7h0.8v0.8h-0.8zM60.8 561.6h0.8v0.8h-0.8zM53.3 561.9h0.8v0.8h-0.8zM48.5 560.1h0.8v0.8h-0.8zM49.2 561.4h0.8v0.8h-0.8zM43.7 565.9h0.8v0.8h-0.8zM56.7 561.9h0.8v0.8h-0.8zM63.9 564.1h0.8v0.8h-0.8zM60.7 560.3h0.8v0.8h-0.8zM43.5 567.2h0.8v0.8h-0.8zM56.3 565.1h0.8v0.8h-0.8zM57.3 566.4h0.8v0.8h-0.8zM52.0 565.7h0.8v0.8h-0.8zM46.1 558.4h0.8v0.8h-0.8zM51.4 568.2h0.8v0.8h-0.8zM42.4 568.7h0.8v0.8h-0.8zM48.7 563.4h0.8v0.8h-0.8zM54.1 564.0h0.8v0.8h-0.8zM46.9 565.2h0.8v0.8h-0.8zM57.3 565.2h0.8v0.8h-0.8zM49.2 568.8h0.8v0.8h-0.8zM68.5 567.4h0.8v0.8h-0.8zM44.3 565.9h0.8v0.8h-0.8zM40.8 567.2h0.8v0.8h-0.8zM57.0 559.6h0.8v0.8h-0.8zM42.6 566.3h0.8v0.8h-0.8zM57.7 560.4h0.8v0.8h-0.8zM50.4 556.9h0.8v0.8h-0.8zM48.8 564.9h0.8v0.8h-0.8zM55.7 567.6h0.8v0.8h-0.8zM44.4 559.0h0.8v0.8h-0.8zM56.6 561.2h0.8v0.8h-0.8zM56.1 565.1h0.8v0.8h-0.8zM58.7 566.6h0.8v0.8h-0.8zM62.3 557.0h0.8v0.8h-0.8zM54.4 569.1h0.8v0.8h-0.8zM51.4 566.7h0.8v0.8h-0.8zM53.1 562.4h0.8v0.8h-0.8zM65.4 564.1h0.8v0.8h-0.8zM52.5 566.3h0.8v0.8h-0.8zM44.0 563.4h0.8v0.8h-0.8zM60.1 562.3h0.8v0.8h-0.8zM46.5 566.3h0.8v0.8h-0.8zM56.7 566.6h0.8v0.8h-0.8zM60.3 561.4h0.8v0.8h-0.8zM50.2 563.8h0.8v0.8h-0.8zM52.9 567.8h0.8v0.8h-0.8zM65.7 565.0h0.8v0.8h-0.8zM56.2 562.3h0.8v0.8h-0.8zM59.9 561.3h0.8v0.8h-0.8zM54.4 558.6h0.8v0.8h-0.8zM51.5 568.1h0.8v0.8h-0.8zM45.6 560.9h0.8v0.8h-0.8zM53.5 568.3h0.8v0.8h-0.8zM63.7 560.4h0.8v0.8h-0.8zM50.3 563.9h0.8v0.8h-0.8zM47.1 564.9h0.8v0.8h-0.8zM50.8 559.9h0.8v0.8h-0.8zM49.5 563.6h0.8v0.8h-0.8zM47.0 561.7h0.8v0.8h-0.8zM61.1 567.4h0.8v0.8h-0.8zM51.4 562.7h0.8v0.8h-0.8zM57.1 562.2h0.8v0.8h-0.8zM49.0 568.4h0.8v0.8h-0.8zM45.9 563.0h0.8v0.8h-0.8zM48.5 562.0h0.8v0.8h-0.8zM52.3 565.4h0.8v0.8h-0.8zM64.2 563.3h0.8v0.8h-0.8zM53.3 560.0h0.8v0.8h-0.8zM52.7 561.0h0.8v0.8h-0.8zM53.6 566.3h0.8v0.8h-0.8zM55.0 562.6h0.8v0.8h-0.8zM48.4 564.5h0.8v0.8h-0.8zM54.0 560.8h0.8v0.8h-0.8zM50.6 566.6h0.8v0.8h-0.8zM41.7 564.7h0.8v0.8h-0.8zM46.3 569.4h0.8v0.8h-0.8zM58.3 564.0h0.8v0.8h-0.8zM56.7 563.7h0.8v0.8h-0.8zM54.9 558.7h0.8v0.8h-0.8zM55.8 564.8h0.8v0.8h-0.8zM44.1 567.8h0.8v0.8h-0.8zM57.6 558.4h0.8v0.8h-0.8zM50.2 563.3h0.8v0.8h-0.8zM50.2 565.3h0.8v0.8h-0.8zM44.6 564.7h0.8v0.8h-0.8zM55.7 565.2h0.8v0.8h-0.8zM53.9 562.8h0.8v0.8h-0.8zM57.5 557.1h0.8v0.8h-0.8zM60.1 561.3h0.8v0.8h-0.8zM44.6 564.1h0.8v0.8h-0.8zM39.6 560.5h0.8v0.8h-0.8zM51.0 561.8h0.8v0.8h-0.8zM58.4 560.0h0.8v0.8h-0.8zM44.0 562.7h0.8v0.8h-0.8zM65.8 561.1h0.8v0.8h-0.8zM48.8 561.7h0.8v0.8h-0.8zM45.9 564.6h0.8v0.8h-0.8zM57.4 566.0h0.8v0.8h-0.8zM61.9 562.6h0.8v0.8h-0.8zM48.6 562.1h0.8v0.8h-0.8zM36.8 564.0h0.8v0.8h-0.8zM56.5 562.0h0.8v0.8h-0.8zM55.5 559.3h0.8v0.8h-0.8zM60.2 563.0h0.8v0.8h-0.8zM54.2 564.5h0.8v0.8h-0.8zM37.6 565.2h0.8v0.8h-0.8zM48.4 569.8h0.8v0.8h-0.8zM52.1 562.4h0.8v0.8h-0.8zM59.1 559.4h0.8v0.8h-0.8zM63.3 559.5h0.8v0.8h-0.8zM52.8 561.1h0.8v0.8h-0.8zM58.2 556.4h0.8v0.8h-0.8zM58.1 560.3h0.8v0.8h-0.8zM53.4 560.3h0.8v0.8h-0.8zM55.4 563.7h0.8v0.8h-0.8zM58.0 563.5h0.8v0.8h-0.8zM58.6 565.3h0.8v0.8h-0.8zM50.3 560.8h0.8v0.8h-0.8zM45.1 567.2h0.8v0.8h-0.8zM51.6 566.9h0.8v0.8h-0.8zM53.5 560.7h0.8v0.8h-0.8zM61.2 567.5h0.8v0.8h-0.8zM51.9 561.2h0.8v0.8h-0.8zM48.2 567.2h0.8v0.8h-0.8zM49.3 563.2h0.8v0.8h-0.8zM58.5 562.6h0.8v0.8h-0.8zM54.2 561.8h0.8v0.8h-0.8zM49.3 564.9h0.8v0.8h-0.8zM55.1 564.9h0.8v0.8h-0.8zM50.4 565.2h0.8v0.8h-0.8zM57.1 563.0h0.8v0.8h-0.8zM58.3 565.5h0.8v0.8h-0.8zM55.1 563.4h0.8v0.8h-0.8zM47.0 565.8h0.8v0.8h-0.8zM52.9 562.8h0.8v0.8h-0.8zM48.2 566.3h0.8v0.8h-0.8zM72.0 561.0h0.8v0.8h-0.8zM54.6 564.6h0.8v0.8h-0.8zM49.6 564.6h0.8v0.8h-0.8zM48.7 562.7h0.8v0.8h-0.8zM55.5 563.8h0.8v0.8h-0.8zM52.5 561.5h0.8v0.8h-0.8zM55.0 560.1h0.8v0.8h-0.8zM59.0 561.4h0.8v0.8h-0.8zM54.1 565.7h0.8v0.8h-0.8zM56.9 559.2h0.8v0.8h-0.8zM52.1 564.9h0.8v0.8h-0.8zM44.7 558.5h0.8v0.8h-0.8zM53.2 563.5h0.8v0.8h-0.8zM56.8 563.1h0.8v0.8h-0.8zM54.8 564.0h0.8v0.8h-0.8zM63.7 562.9h0.8v0.8h-0.8zM57.3 561.6h0.8v0.8h-0.8zM61.5 561.4h0.8v0.8h-0.8zM57.7 556.7h0.8v0.8h-0.8zM55.4 562.9h0.8v0.8h-0.8zM51.2 567.7h0.8v0.8h-0.8zM56.5 562.5h0.8v0.8h-0.8zM51.0 569.4h0.8v0.8h-0.8zM59.3 564.2h0.8v0.8h-0.8zM49.0 568.2h0.8v0.8h-0.8zM57.5 562.0h0.8v0.8h-0.8zM52.1 559.2h0.8v0.8h-0.8zM57.7 559.6h0.8v0.8h-0.8zM59.4 561.1h0.8v0.8h-0.8zM49.5 565.4h0.8v0.8h-0.8zM54.6 560.1h0.8v0.8h-0.8zM53.5 565.3h0.8v0.8h-0.8zM51.2 560.2h0.8v0.8h-0.8zM51.5 561.2h0.8v0.8h-0.8zM49.7 564.5h0.8v0.8h-0.8zM53.2 563.0h0.8v0.8h-0.8zM42.3 566.8h0.8v0.8h-0.8zM52.1 562.7h0.8v0.8h-0.8zM55.9 568.5h0.8v0.8h-0.8zM43.7 560.9h0.8v0.8h-0.8zM58.6 560.3h0.8v0.8h-0.8zM62.3 559.0h0.8v0.8h-0.8zM50.8 566.5h0.8v0.8h-0.8zM60.4 563.4h0.8v0.8h-0.8zM56.8 562.5h0.8v0.8h-0.8zM50.5 563.6h0.8v0.8h-0.8zM63.0 563.6h0.8v0.8h-0.8zM54.0 564.3h0.8v0.8h-0.8zM60.2 565.6h0.8v0.8h-0.8zM52.7 563.5h0.8v0.8h-0.8zM57.5 570.1h0.8v0.8h-0.8zM56.1 566.6h0.8v0.8h-0.8zM43.4 568.0h0.8v0.8h-0.8zM43.2 562.5h0.8v0.8h-0.8zM49.2 564.0h0.8v0.8h-0.8zM55.2 564.2h0.8v0.8h-0.8zM55.0 562.0h0.8v0.8h-0.8zM72.1 560.9h0.8v0.8h-0.8zM59.5 568.1h0.8v0.8h-0.8zM60.8 563.7h0.8v0.8h-0.8zM57.0 568.1h0.8v0.8h-0.8zM45.6 562.4h0.8v0.8h-0.8zM53.6 557.7h0.8v0.8h-0.8zM48.9 567.7h0.8v0.8h-0.8zM50.6 564.6h0.8v0.8h-0.8zM57.9 559.3h0.8v0.8h-0.8zM55.3 561.4h0.8v0.8h-0.8zM45.9 564.3h0.8v0.8h-0.8zM53.1 562.5h0.8v0.8h-0.8zM49.6 567.0h0.8v0.8h-0.8zM62.1 563.4h0.8v0.8h-0.8zM52.4 560.8h0.8v0.8h-0.8zM47.4 561.7h0.8v0.8h-0.8zM55.7 565.7h0.8v0.8h-0.8zM60.1 562.1h0.8v0.8h-0.8zM51.1 564.5h0.8v0.8h-0.8zM54.9 564.9h0.8v0.8h-0.8zM63.6 559.6h0.8v0.8h-0.8zM67.2 554.8h0.8v0.8h-0.8zM40.4 561.9h0.8v0.8h-0.8zM46.4 564.3h0.8v0.8h-0.8zM67.8 558.7h0.8v0.8h-0.8zM61.2 561.0h0.8v0.8h-0.8zM54.2 560.5h0.8v0.8h-0.8zM69.5 560.2h0.8v0.8h-0.8zM50.7 570.6h0.8v0.8h-0.8zM55.2 564.4h0.8v0.8h-0.8zM52.2 561.4h0.8v0.8h-0.8zM43.6 565.0h0.8v0.8h-0.8zM65.2 562.4h0.8v0.8h-0.8zM53.1 566.6h0.8v0.8h-0.8zM47.9 568.6h0.8v0.8h-0.8zM53.1 561.3h0.8v0.8h-0.8zM58.7 563.9h0.8v0.8h-0.8zM51.4 564.6h0.8v0.8h-0.8zM61.3 565.9h0.8v0.8h-0.8zM46.3 557.5h0.8v0.8h-0.8zM67.9 559.9h0.8v0.8h-0.8zM51.0 565.3h0.8v0.8h-0.8zM51.3 566.9h0.8v0.8h-0.8zM44.9 564.7h0.8v0.8h-0.8zM45.8 569.4h0.8v0.8h-0.8zM52.6 566.8h0.8v0.8h-0.8zM62.7 558.3h0.8v0.8h-0.8zM52.6 565.8h0.8v0.8h-0.8zM54.0 563.1h0.8v0.8h-0.8zM60.1 564.8h0.8v0.8h-0.8zM49.5 564.0h0.8v0.8h-0.8zM58.3 563.2h0.8v0.8h-0.8zM54.1 560.3h0.8v0.8h-0.8zM65.9 560.4h0.8v0.8h-0.8zM55.6 563.0h0.8v0.8h-0.8zM54.2 563.8h0.8v0.8h-0.8zM48.1 565.7h0.8v0.8h-0.8zM62.3 562.9h0.8v0.8h-0.8zM59.0 563.8h0.8v0.8h-0.8zM54.9 568.4h0.8v0.8h-0.8zM49.1 565.5h0.8v0.8h-0.8zM61.1 562.8h0.8v0.8h-0.8zM45.7 562.0h0.8v0.8h-0.8zM64.1 558.7h0.8v0.8h-0.8zM54.1 565.0h0.8v0.8h-0.8zM53.4 558.5h0.8v0.8h-0.8zM40.4 565.9h0.8v0.8h-0.8zM48.1 563.9h0.8v0.8h-0.8zM54.4 563.8h0.8v0.8h-0.8zM43.4 560.8h0.8v0.8h-0.8zM59.9 560.5h0.8v0.8h-0.8zM44.4 559.7h0.8v0.8h-0.8zM56.8 559.3h0.8v0.8h-0.8zM46.7 566.7h0.8v0.8h-0.8zM56.2 564.6h0.8v0.8h-0.8zM43.2 557.5h0.8v0.8h-0.8zM46.6 564.1h0.8v0.8h-0.8zM49.5 566.9h0.8v0.8h-0.8zM55.7 560.1h0.8v0.8h-0.8zM57.6 562.3h0.8v0.8h-0.8zM50.9 567.3h0.8v0.8h-0.8zM42.6 568.7h0.8v0.8h-0.8zM60.2 556.3h0.8v0.8h-0.8zM52.3 563.3h0.8v0.8h-0.8zM45.4 563.5h0.8v0.8h-0.8zM48.0 564.8h0.8v0.8h-0.8zM48.6 558.4h0.8v0.8h-0.8zM62.6 564.2h0.8v0.8h-0.8zM48.3 567.1h0.8v0.8h-0.8zM67.1 556.4h0.8v0.8h-0.8zM50.5 562.7h0.8v0.8h-0.8zM57.5 561.9h0.8v0.8h-0.8zM44.6 568.9h0.8v0.8h-0.8zM51.8 566.0h0.8v0.8h-0.8zM69.4 558.2h0.8v0.8h-0.8zM51.3 566.6h0.8v0.8h-0.8zM53.2 565.1h0.8v0.8h-0.8zM55.2 571.2h0.8v0.8h-0.8zM58.4 563.5h0.8v0.8h-0.8zM54.8 564.4h0.8v0.8h-0.8zM42.1 565.1h0.8v0.8h-0.8zM58.3 559.1h0.8v0.8h-0.8zM53.9 563.2h0.8v0.8h-0.8zM51.5 571.1h0.8v0.8h-0.8zM58.9 563.4h0.8v0.8h-0.8zM48.2 564.9h0.8v0.8h-0.8zM51.5 563.7h0.8v0.8h-0.8zM56.7 570.1h0.8v0.8h-0.8zM64.1 566.3h0.8v0.8h-0.8zM65.0 569.3h0.8v0.8h-0.8zM48.3 560.9h0.8v0.8h-0.8zM55.3 563.9h0.8v0.8h-0.8zM53.6 561.7h0.8v0.8h-0.8zM59.5 567.3h0.8v0.8h-0.8zM55.2 562.6h0.8v0.8h-0.8zM62.0 561.0h0.8v0.8h-0.8zM51.4 564.9h0.8v0.8h-0.8zM38.7 571.9h0.8v0.8h-0.8zM53.3 565.1h0.8v0.8h-0.8zM56.2 564.2h0.8v0.8h-0.8zM45.3 570.3h0.8v0.8h-0.8zM57.9 563.5h0.8v0.8h-0.8zM75.3 555.5h0.8v0.8h-0.8zM58.9 562.2h0.8v0.8h-0.8zM44.2 571.0h0.8v0.8h-0.8zM42.8 566.1h0.8v0.8h-0.8zM53.2 564.1h0.8v0.8h-0.8zM47.9 568.6h0.8v0.8h-0.8zM54.8 559.6h0.8v0.8h-0.8zM45.3 566.0h0.8v0.8h-0.8zM45.8 566.4h0.8v0.8h-0.8zM55.7 561.4h0.8v0.8h-0.8zM39.4 562.7h0.8v0.8h-0.8zM56.0 561.6h0.8v0.8h-0.8zM66.6 559.6h0.8v0.8h-0.8zM56.8 564.8h0.8v0.8h-0.8zM54.6 564.2h0.8v0.8h-0.8zM60.8 561.7h0.8v0.8h-0.8zM55.9 562.0h0.8v0.8h-0.8zM68.0 561.1h0.8v0.8h-0.8zM58.0 554.1h0.8v0.8h-0.8zM49.7 561.1h0.8v0.8h-0.8zM53.8 562.2h0.8v0.8h-0.8zM46.2 564.3h0.8v0.8h-0.8zM60.1 565.3h0.8v0.8h-0.8zM50.6 567.2h0.8v0.8h-0.8zM49.7 566.1h0.8v0.8h-0.8zM48.3 567.6h0.8v0.8h-0.8zM70.0 559.4h0.8v0.8h-0.8zM61.6 557.8h0.8v0.8h-0.8zM50.8 571.7h0.8v0.8h-0.8zM53.5 565.0h0.8v0.8h-0.8zM42.2 565.8h0.8v0.8h-0.8zM48.9 567.9h0.8v0.8h-0.8zM51.4 571.3h0.8v0.8h-0.8zM46.2 566.0h0.8v0.8h-0.8zM39.4 565.3h0.8v0.8h-0.8zM62.3 561.5h0.8v0.8h-0.8zM44.8 566.7h0.8v0.8h-0.8zM60.7 563.4h0.8v0.8h-0.8zM59.9 558.2h0.8v0.8h-0.8zM67.0 562.8h0.8v0.8h-0.8zM39.9 571.7h0.8v0.8h-0.8zM50.7 565.6h0.8v0.8h-0.8zM39.4 564.6h0.8v0.8h-0.8zM41.3 568.4h0.8v0.8h-0.8zM51.6 561.3h0.8v0.8h-0.8zM51.7 567.1h0.8v0.8h-0.8zM48.5 566.2h0.8v0.8h-0.8zM44.4 560.6h0.8v0.8h-0.8zM50.1 563.4h0.8v0.8h-0.8zM55.5 565.8h0.8v0.8h-0.8zM50.6 563.1h0.8v0.8h-0.8zM59.3 563.6h0.8v0.8h-0.8zM53.5 564.2h0.8v0.8h-0.8zM38.0 565.1h0.8v0.8h-0.8zM42.2 564.8h0.8v0.8h-0.8zM59.1 557.6h0.8v0.8h-0.8zM59.9 560.6h0.8v0.8h-0.8zM52.0 562.5h0.8v0.8h-0.8zM58.3 560.7h0.8v0.8h-0.8zM39.2 567.4h0.8v0.8h-0.8zM53.0 565.4h0.8v0.8h-0.8zM57.3 559.3h0.8v0.8h-0.8zM55.2 563.5h0.8v0.8h-0.8zM53.2 563.9h0.8v0.8h-0.8zM55.6 561.5h0.8v0.8h-0.8zM53.2 566.4h0.8v0.8h-0.8zM46.2 564.8h0.8v0.8h-0.8zM46.0 562.0h0.8v0.8h-0.8zM50.9 564.6h0.8v0.8h-0.8zM64.3 560.8h0.8v0.8h-0.8zM60.6 563.6h0.8v0.8h-0.8zM52.5 554.9h0.8v0.8h-0.8zM54.6 563.5h0.8v0.8h-0.8zM46.4 565.3h0.8v0.8h-0.8zM63.5 558.2h0.8v0.8h-0.8zM50.6 566.7h0.8v0.8h-0.8zM40.4 563.2h0.8v0.8h-0.8zM56.3 565.7h0.8v0.8h-0.8zM62.7 563.8h0.8v0.8h-0.8zM70.2 561.3h0.8v0.8h-0.8zM44.5 564.8h0.8v0.8h-0.8zM58.3 563.6h0.8v0.8h-0.8zM40.3 567.3h0.8v0.8h-0.8zM48.0 564.1h0.8v0.8h-0.8zM63.9 561.0h0.8v0.8h-0.8zM49.0 564.1h0.8v0.8h-0.8zM50.3 570.0h0.8v0.8h-0.8zM60.0 564.8h0.8v0.8h-0.8zM48.5 562.7h0.8v0.8h-0.8zM54.3 557.2h0.8v0.8h-0.8zM60.2 558.5h0.8v0.8h-0.8zM54.6 564.3h0.8v0.8h-0.8zM48.3 565.6h0.8v0.8h-0.8zM59.7 567.7h0.8v0.8h-0.8zM57.5 567.9h0.8v0.8h-0.8zM56.9 562.3h0.8v0.8h-0.8zM59.5 560.8h0.8v0.8h-0.8zM55.1 565.0h0.8v0.8h-0.8zM61.9 562.6h0.8v0.8h-0.8zM44.1 569.1h0.8v0.8h-0.8zM54.7 562.4h0.8v0.8h-0.8zM48.3 566.2h0.8v0.8h-0.8zM56.4 564.9h0.8v0.8h-0.8zM53.6 567.9h0.8v0.8h-0.8zM52.1 565.0h0.8v0.8h-0.8zM55.7 566.1h0.8v0.8h-0.8zM48.7 563.7h0.8v0.8h-0.8zM51.8 562.0h0.8v0.8h-0.8zM48.4 561.1h0.8v0.8h-0.8zM59.8 566.5h0.8v0.8h-0.8zM47.2 567.0h0.8v0.8h-0.8zM45.1 562.9h0.8v0.8h-0.8zM51.5 564.3h0.8v0.8h-0.8zM55.8 557.6h0.8v0.8h-0.8zM44.5 565.6h0.8v0.8h-0.8zM53.1 569.7h0.8v0.8h-0.8zM51.4 562.1h0.8v0.8h-0.8zM60.7 554.5h0.8v0.8h-0.8zM42.0 573.6h0.8v0.8h-0.8zM49.3 564.6h0.8v0.8h-0.8zM51.9 561.3h0.8v0.8h-0.8zM51.9 560.1h0.8v0.8h-0.8zM60.9 564.2h0.8v0.8h-0.8zM58.0 560.0h0.8v0.8h-0.8zM39.8 564.9h0.8v0.8h-0.8zM46.1 566.1h0.8v0.8h-0.8zM41.8 563.3h0.8v0.8h-0.8zM54.8 564.5h0.8v0.8h-0.8zM53.6 559.9h0.8v0.8h-0.8zM50.0 570.0h0.8v0.8h-0.8zM59.8 559.9h0.8v0.8h-0.8zM67.0 560.4h0.8v0.8h-0.8zM53.2 561.2h0.8v0.8h-0.8zM64.4 561.6h0.8v0.8h-0.8zM52.6 561.1h0.8v0.8h-0.8zM44.7 565.8h0.8v0.8h-0.8zM54.6 567.7h0.8v0.8h-0.8zM47.1 563.8h0.8v0.8h-0.8zM61.1 564.3h0.8v0.8h-0.8zM49.7 568.5h0.8v0.8h-0.8zM57.5 565.3h0.8v0.8h-0.8zM56.6 565.7h0.8v0.8h-0.8zM50.6 563.5h0.8v0.8h-0.8zM61.5 563.0h0.8v0.8h-0.8zM56.8 566.1h0.8v0.8h-0.8zM55.5 564.3h0.8v0.8h-0.8zM37.9 565.2h0.8v0.8h-0.8zM59.0 559.9h0.8v0.8h-0.8zM51.7 564.5h0.8v0.8h-0.8zM53.2 566.1h0.8v0.8h-0.8zM56.9 562.3h0.8v0.8h-0.8zM61.1 561.0h0.8v0.8h-0.8zM48.8 565.4h0.8v0.8h-0.8zM58.0 562.2h0.8v0.8h-0.8zM45.8 563.6h0.8v0.8h-0.8zM55.6 565.0h0.8v0.8h-0.8zM66.0 560.5h0.8v0.8h-0.8zM50.9 557.9h0.8v0.8h-0.8zM63.2 564.2h0.8v0.8h-0.8zM53.3 561.5h0.8v0.8h-0.8zM35.7 569.2h0.8v0.8h-0.8zM49.0 568.7h0.8v0.8h-0.8zM59.7 565.9h0.8v0.8h-0.8zM53.3 567.0h0.8v0.8h-0.8zM44.6 569.5h0.8v0.8h-0.8zM52.8 560.3h0.8v0.8h-0.8zM50.3 561.4h0.8v0.8h-0.8zM55.1 561.1h0.8v0.8h-0.8zM44.5 564.3h0.8v0.8h-0.8zM52.1 564.4h0.8v0.8h-0.8zM59.3 566.0h0.8v0.8h-0.8zM57.5 567.4h0.8v0.8h-0.8zM36.2 566.8h0.8v0.8h-0.8zM59.5 558.6h0.8v0.8h-0.8zM52.4 564.4h0.8v0.8h-0.8zM42.4 564.1h0.8v0.8h-0.8zM57.7 561.8h0.8v0.8h-0.8zM65.8 567.8h0.8v0.8h-0.8zM52.5 560.5h0.8v0.8h-0.8zM53.1 562.0h0.8v0.8h-0.8zM43.4 564.4h0.8v0.8h-0.8zM50.2 563.2h0.8v0.8h-0.8zM60.7 565.1h0.8v0.8h-0.8zM56.4 561.9h0.8v0.8h-0.8zM56.6 563.0h0.8v0.8h-0.8zM54.7 560.5h0.8v0.8h-0.8zM32.5 570.3h0.8v0.8h-0.8zM49.2 563.0h0.8v0.8h-0.8zM53.5 563.4h0.8v0.8h-0.8zM52.4 568.1h0.8v0.8h-0.8zM54.7 563.9h0.8v0.8h-0.8zM47.4 564.5h0.8v0.8h-0.8zM56.9 562.6h0.8v0.8h-0.8zM55.4 560.5h0.8v0.8h-0.8zM55.7 560.2h0.8v0.8h-0.8zM50.2 562.0h0.8v0.8h-0.8zM55.5 566.2h0.8v0.8h-0.8zM55.2 560.7h0.8v0.8h-0.8zM55.2 566.1h0.8v0.8h-0.8zM59.0 563.8h0.8v0.8h-0.8zM45.4 563.6h0.8v0.8h-0.8zM48.7 563.2h0.8v0.8h-0.8zM55.3 563.3h0.8v0.8h-0.8zM51.5 565.5h0.8v0.8h-0.8zM48.5 563.6h0.8v0.8h-0.8zM53.7 559.6h0.8v0.8h-0.8zM46.9 560.9h0.8v0.8h-0.8zM46.2 564.6h0.8v0.8h-0.8zM53.0 564.6h0.8v0.8h-0.8zM55.4 559.9h0.8v0.8h-0.8zM67.5 564.5h0.8v0.8h-0.8zM44.7 563.3h0.8v0.8h-0.8zM50.4 564.7h0.8v0.8h-0.8zM58.0 562.6h0.8v0.8h-0.8zM37.3 575.0h0.8v0.8h-0.8zM60.1 564.5h0.8v0.8h-0.8zM48.5 564.8h0.8v0.8h-0.8zM59.9 560.9h0.8v0.8h-0.8zM61.7 562.1h0.8v0.8h-0.8zM64.8 561.4h0.8v0.8h-0.8zM63.2 557.0h0.8v0.8h-0.8zM64.1 562.7h0.8v0.8h-0.8zM51.6 567.0h0.8v0.8h-0.8zM52.3 566.1h0.8v0.8h-0.8zM60.9 565.0h0.8v0.8h-0.8zM69.9 564.1h0.8v0.8h-0.8zM71.6 561.9h0.8v0.8h-0.8zM55.0 564.4h0.8v0.8h-0.8zM52.7 560.2h0.8v0.8h-0.8zM54.0 560.1h0.8v0.8h-0.8zM51.5 563.1h0.8v0.8h-0.8zM49.2 561.4h0.8v0.8h-0.8zM54.4 563.3h0.8v0.8h-0.8zM63.7 563.3h0.8v0.8h-0.8zM60.0 560.9h0.8v0.8h-0.8zM50.8 560.5h0.8v0.8h-0.8zM48.0 566.7h0.8v0.8h-0.8zM52.2 563.4h0.8v0.8h-0.8zM50.6 568.5h0.8v0.8h-0.8zM53.9 566.7h0.8v0.8h-0.8zM53.9 566.1h0.8v0.8h-0.8zM46.1 561.2h0.8v0.8h-0.8zM61.3 561.1h0.8v0.8h-0.8zM56.1 565.5h0.8v0.8h-0.8zM58.7 563.2h0.8v0.8h-0.8zM45.0 563.3h0.8v0.8h-0.8zM54.3 565.2h0.8v0.8h-0.8zM57.5 563.8h0.8v0.8h-0.8zM48.3 564.6h0.8v0.8h-0.8zM60.0 559.8h0.8v0.8h-0.8zM50.2 566.8h0.8v0.8h-0.8zM65.0 562.4h0.8v0.8h-0.8zM53.2 560.9h0.8v0.8h-0.8zM52.4 561.5h0.8v0.8h-0.8zM55.1 565.2h0.8v0.8h-0.8zM57.6 566.4h0.8v0.8h-0.8zM45.9 561.5h0.8v0.8h-0.8zM63.8 564.4h0.8v0.8h-0.8zM47.0 565.2h0.8v0.8h-0.8zM46.2 565.0h0.8v0.8h-0.8zM56.4 565.7h0.8v0.8h-0.8zM46.2 561.4h0.8v0.8h-0.8zM57.5 561.8h0.8v0.8h-0.8zM62.9 558.4h0.8v0.8h-0.8z" fill="#000" fill-opacity="0.85"/>
<path d="M50.1 559.4h1.2v1.2h-1.2zM60.2 564.7h1.2v1.2h-1.2zM56.1 562.6h1.2v1.2h-1.2zM43.9 563.1h1.2v1.2h-1.2zM52.3 567.4h1.2v1.2h-1.2zM58.3 561.6h1.2v1.2h-1.2zM56.5 564.0h1.2v1.2h-1.2zM56.3 561.4h1.2v1.2h-1.2zM52.4 565.7h1.2v1.2h-1.2zM57.5 562.2h1.2v1.2h-1.2zM66.2 561.6h1.2v1.2h-1.2zM52.5 565.5h1.2v1.2h-1.2zM58.1 562.5h1.2v1.2h-1.2zM63.4 563.6h1.2v1.2h-1.2zM54.6 564.7h1.2v1.2h-1.2zM57.4 562.4h1.2v1.2h-1.2zM57.6 561.8h1.2v1.2h-1.2zM53.3 564.9h1.2v1.2h-1.2zM48.0 564.1h1.2v1.2h-1.2zM49.8 565.7h1.2v1.2h-1.2zM52.1 567.3h1.2v1.2h-1.2zM61.5 560.8h1.2v1.2h-1.2zM54.9 562.7h1.2v1.2h-1.2zM54.4 564.7h1.2v1.2h-1.2zM62.2 565.9h1.2v1.2h-1.2zM62.7 559.5h1.2v1.2h-1.2zM51.9 563.7h1.2v1.2h-1.2zM52.8 564.1h1.2v1.2h-1.2zM57.2 562.1h1.2v1.2h-1.2zM52.2 568.2h1.2v1.2h-1.2zM58.4 566.6h1.2v1.2h-1.2zM52.0 566.5h1.2v1.2h-1.2zM62.9 564.2h1.2v1.2h-1.2zM50.8 565.2h1.2v1.2h-1.2zM50.1 562.3h1.2v1.2h-1.2zM54.4 564.4h1.2v1.2h-1.2zM53.2 563.5h1.2v1.2h-1.2zM57.1 561.7h1.2v1.2h-1.2zM56.6 564.4h1.2v1.2h-1.2zM57.6 563.9h1.2v1.2h-1.2zM49.3 564.0h1.2v1.2h-1.2zM52.4 565.2h1.2v1.2h-1.2zM45.8 565.5h1.2v1.2h-1.2zM46.7 566.2h1.2v1.2h-1.2zM51.8 564.1h1.2v1.2h-1.2zM59.4 565.6h1.2v1.2h-1.2zM49.5 564.7h1.2v1.2h-1.2zM44.7 565.1h1.2v1.2h-1.2zM51.1 565.3h1.2v1.2h-1.2zM53.8 563.8h1.2v1.2h-1.2zM48.7 564.0h1.2v1.2h-1.2zM48.8 564.6h1.2v1.2h-1.2zM46.6 565.5h1.2v1.2h-1.2zM60.5 567.0h1.2v1.2h-1.2zM62.1 564.3h1.2v1.2h-1.2zM58.7 565.5h1.2v1.2h-1.2zM54.2 564.2h1.2v1.2h-1.2zM45.0 564.5h1.2v1.2h-1.2zM59.3 559.4h1.2v1.2h-1.2zM55.8 563.1h1.2v1.2h-1.2zM52.6 564.4h1.2v1.2h-1.2zM54.0 561.5h1.2v1.2h-1.2zM53.2 560.4h1.2v1.2h-1.2zM61.6 562.0h1.2v1.2h-1.2zM58.3 561.0h1.2v1.2h-1.2zM63.6 563.5h1.2v1.2h-1.2zM56.0 563.6h1.2v1.2h-1.2zM55.9 561.9h1.2v1.2h-1.2zM53.5 563.3h1.2v1.2h-1.2zM56.6 565.8h1.2v1.2h-1.2zM60.0 562.8h1.2v1.2h-1.2zM57.2 562.4h1.2v1.2h-1.2zM51.4 561.2h1.2v1.2h-1.2zM47.7 562.7h1.2v1.2h-1.2zM53.9 563.3h1.2v1.2h-1.2zM56.8 565.1h1.2v1.2h-1.2zM57.5 562.6h1.2v1.2h-1.2zM51.9 563.5h1.2v1.2h-1.2zM56.9 561.3h1.2v1.2h-1.2zM46.9 564.6h1.2v1.2h-1.2zM59.8 564.6h1.2v1.2h-1.2zM56.5 559.6h1.2v1.2h-1.2zM53.8 564.9h1.2v1.2h-1.2zM60.2 565.7h1.2v1.2h-1.2zM49.8 565.1h1.2v1.2h-1.2zM46.6 564.7h1.2v1.2h-1.2zM52.7 565.3h1.2v1.2h-1.2zM54.4 560.3h1.2v1.2h-1.2zM53.8 564.3h1.2v1.2h-1.2zM61.1 560.8h1.2v1.2h-1.2zM49.9 563.3h1.2v1.2h-1.2zM59.1 562.0h1.2v1.2h-1.2zM54.8 564.2h1.2v1.2h-1.2zM50.7 566.2h1.2v1.2h-1.2zM47.0 568.3h1.2v1.2h-1.2zM50.7 562.6h1.2v1.2h-1.2zM50.2 562.2h1.2v1.2h-1.2zM49.7 563.0h1.2v1.2h-1.2zM48.5 564.3h1.2v1.2h-1.2zM55.6 562.2h1.2v1.2h-1.2zM54.8 561.9h1.2v1.2h-1.2zM55.2 562.7h1.2v1.2h-1.2zM49.0 564.7h1.2v1.2h-1.2zM53.2 562.5h1.2v1.2h-1.2zM54.2 564.5h1.2v1.2h-1.2zM48.1 563.8h1.2v1.2h-1.2zM57.3 562.9h1.2v1.2h-1.2zM58.9 566.9h1.2v1.2h-1.2zM48.3 565.4h1.2v1.2h-1.2zM52.9 566.4h1.2v1.2h-1.2zM56.5 560.5h1.2v1.2h-1.2zM59.5 562.4h1.2v1.2h-1.2zM52.7 563.8h1.2v1.2h-1.2zM55.0 561.8h1.2v1.2h-1.2zM52.8 566.3h1.2v1.2h-1.2zM49.0 563.5h1.2v1.2h-1.2zM57.6 561.1h1.2v1.2h-1.2zM53.3 564.2h1.2v1.2h-1.2zM49.7 563.8h1.2v1.2h-1.2zM49.7 564.0h1.2v1.2h-1.2zM55.6 563.2h1.2v1.2h-1.2zM55.5 563.9h1.2v1.2h-1.2zM57.7 560.9h1.2v1.2h-1.2zM55.3 566.2h1.2v1.2h-1.2zM52.9 563.3h1.2v1.2h-1.2zM54.0 562.2h1.2v1.2h-1.2zM56.9 562.9h1.2v1.2h-1.2zM53.6 565.0h1.2v1.2h-1.2zM59.6 559.8h1.2v1.2h-1.2zM51.7 563.5h1.2v1.2h-1.2zM47.6 566.1h1.2v1.2h-1.2zM64.8 562.8h1.2v1.2h-1.2zM59.7 558.8h1.2v1.2h-1.2zM51.6 561.6h1.2v1.2h-1.2zM58.0 562.5h1.2v1.2h-1.2zM53.5 564.5h1.2v1.2h-1.2zM58.5 565.6h1.2v1.2h-1.2zM61.2 563.8h1.2v1.2h-1.2zM46.7 567.3h1.2v1.2h-1.2zM54.1 560.7h1.2v1.2h-1.2zM54.9 562.9h1.2v1.2h-1.2zM54.1 565.3h1.2v1.2h-1.2zM47.8 566.0h1.2v1.2h-1.2zM59.6 560.3h1.2v1.2h-1.2zM60.8 560.9h1.2v1.2h-1.2zM50.9 565.9h1.2v1.2h-1.2zM53.5 560.3h1.2v1.2h-1.2zM51.3 565.3h1.2v1.2h-1.2zM51.4 563.2h1.2v1.2h-1.2zM54.2 563.5h1.2v1.2h-1.2zM50.5 562.5h1.2v1.2h-1.2zM56.8 565.2h1.2v1.2h-1.2zM42.0 566.7h1.2v1.2h-1.2zM58.8 561.0h1.2v1.2h-1.2zM60.7 559.4h1.2v1.2h-1.2zM59.4 565.4h1.2v1.2h-1.2zM60.8 557.3h1.2v1.2h-1.2zM54.1 561.7h1.2v1.2h-1.2zM56.6 565.6h1.2v1.2h-1.2zM56.8 566.0h1.2v1.2h-1.2zM45.7 563.7h1.2v1.2h-1.2zM51.9 565.2h1.2v1.2h-1.2zM59.9 560.8h1.2v1.2h-1.2zM50.0 566.0h1.2v1.2h-1.2zM47.9 565.8h1.2v1.2h-1.2zM50.2 564.2h1.2v1.2h-1.2zM64.2 561.0h1.2v1.2h-1.2zM54.1 562.0h1.2v1.2h-1.2zM57.5 565.6h1.2v1.2h-1.2zM56.9 560.6h1.2v1.2h-1.2zM56.5 565.9h1.2v1.2h-1.2zM49.5 564.2h1.2v1.2h-1.2zM49.5 563.4h1.2v1.2h-1.2zM48.9 562.1h1.2v1.2h-1.2zM56.5 562.9h1.2v1.2h-1.2zM43.2 563.8h1.2v1.2h-1.2zM50.2 562.3h1.2v1.2h-1.2zM54.9 563.0h1.2v1.2h-1.2zM55.5 560.8h1.2v1.2h-1.2zM50.4 563.5h1.2v1.2h-1.2zM52.2 563.3h1.2v1.2h-1.2zM50.4 564.0h1.2v1.2h-1.2zM62.0 560.5h1.2v1.2h-1.2zM46.2 565.6h1.2v1.2h-1.2zM50.0 565.8h1.2v1.2h-1.2zM59.9 565.4h1.2v1.2h-1.2zM54.3 560.4h1.2v1.2h-1.2zM62.4 563.5h1.2v1.2h-1.2zM60.5 562.4h1.2v1.2h-1.2zM52.5 563.9h1.2v1.2h-1.2zM45.5 567.1h1.2v1.2h-1.2zM51.0 563.0h1.2v1.2h-1.2zM55.7 561.6h1.2v1.2h-1.2zM57.9 561.6h1.2v1.2h-1.2zM66.2 563.4h1.2v1.2h-1.2zM57.7 563.4h1.2v1.2h-1.2zM54.3 562.6h1.2v1.2h-1.2zM44.7 564.4h1.2v1.2h-1.2zM50.2 563.4h1.2v1.2h-1.2zM54.0 560.1h1.2v1.2h-1.2zM47.9 563.5h1.2v1.2h-1.2zM52.3 565.6h1.2v1.2h-1.2zM67.2 560.6h1.2v1.2h-1.2zM57.4 562.9h1.2v1.2h-1.2zM56.2 566.3h1.2v1.2h-1.2zM55.3 564.3h1.2v1.2h-1.2zM54.3 562.4h1.2v1.2h-1.2zM59.5 562.1h1.2v1.2h-1.2zM61.1 560.1h1.2v1.2h-1.2zM57.1 566.0h1.2v1.2h-1.2zM51.3 564.7h1.2v1.2h-1.2zM61.7 562.8h1.2v1.2h-1.2zM50.2 563.7h1.2v1.2h-1.2zM55.6 562.2h1.2v1.2h-1.2zM52.3 564.2h1.2v1.2h-1.2zM48.8 567.7h1.2v1.2h-1.2zM51.4 564.1h1.2v1.2h-1.2zM55.3 565.9h1.2v1.2h-1.2zM53.2 567.5h1.2v1.2h-1.2zM63.6 563.0h1.2v1.2h-1.2zM47.2 562.6h1.2v1.2h-1.2zM53.2 564.3h1.2v1.2h-1.2zM57.9 565.0h1.2v1.2h-1.2zM56.6 563.2h1.2v1.2h-1.2zM55.5 559.5h1.2v1.2h-1.2zM59.4 559.7h1.2v1.2h-1.2zM44.5 564.2h1.2v1.2h-1.2zM51.7 561.8h1.2v1.2h-1.2zM53.3 563.9h1.2v1.2h-1.2zM57.5 563.6h1.2v1.2h-1.2zM51.8 564.2h1.2v1.2h-1.2zM60.4 561.8h1.2v1.2h-1.2zM52.8 559.9h1.2v1.2h-1.2zM56.5 566.8h1.2v1.2h-1.2zM57.9 562.4h1.2v1.2h-1.2zM60.9 564.5h1.2v1.2h-1.2zM60.5 560.1h1.2v1.2h-1.2zM48.9 565.9h1.2v1.2h-1.2zM57.1 563.8h1.2v1.2h-1.2zM47.4 566.4h1.2v1.2h-1.2zM64.2 563.7h1.2v1.2h-1.2zM67.1 561.8h1.2v1.2h-1.2zM55.6 566.6h1.2v1.2h-1.2zM58.4 558.5h1.2v1.2h-1.2zM46.8 565.5h1.2v1.2h-1.2zM52.4 567.2h1.2v1.2h-1.2zM62.5 564.2h1.2v1.2h-1.2zM52.7 563.5h1.2v1.2h-1.2zM58.1 562.1h1.2v1.2h-1.2zM57.8 563.4h1.2v1.2h-1.2zM58.2 562.9h1.2v1.2h-1.2zM49.5 559.1h1.2v1.2h-1.2zM47.2 562.3h1.2v1.2h-1.2zM57.1 560.3h1.2v1.2h-1.2zM51.6 565.0h1.2v1.2h-1.2zM58.0 564.6h1.2v1.2h-1.2zM57.0 565.8h1.2v1.2h-1.2zM51.9 566.2h1.2v1.2h-1.2zM47.5 564.1h1.2v1.2h-1.2zM56.5 564.2h1.2v1.2h-1.2zM52.7 562.6h1.2v1.2h-1.2zM47.4 560.7h1.2v1.2h-1.2zM45.2 568.3h1.2v1.2h-1.2zM44.8 562.5h1.2v1.2h-1.2zM46.0 564.7h1.2v1.2h-1.2zM52.7 562.7h1.2v1.2h-1.2zM47.7 564.5h1.2v1.2h-1.2zM47.3 565.5h1.2v1.2h-1.2zM61.2 560.3h1.2v1.2h-1.2zM55.1 562.4h1.2v1.2h-1.2zM51.7 561.5h1.2v1.2h-1.2zM54.5 563.4h1.2v1.2h-1.2zM61.3 566.5h1.2v1.2h-1.2zM49.3 566.6h1.2v1.2h-1.2zM49.9 563.4h1.2v1.2h-1.2zM48.5 565.5h1.2v1.2h-1.2zM60.2 562.1h1.2v1.2h-1.2zM54.9 561.8h1.2v1.2h-1.2zM52.1 561.5h1.2v1.2h-1.2zM53.0 560.0h1.2v1.2h-1.2zM65.9 563.4h1.2v1.2h-1.2zM51.1 563.2h1.2v1.2h-1.2zM52.1 564.1h1.2v1.2h-1.2zM56.0 566.6h1.2v1.2h-1.2zM51.1 560.5h1.2v1.2h-1.2zM55.6 564.0h1.2v1.2h-1.2zM50.3 565.8h1.2v1.2h-1.2zM52.9 562.3h1.2v1.2h-1.2zM53.2 561.3h1.2v1.2h-1.2zM52.7 566.9h1.2v1.2h-1.2zM60.3 563.4h1.2v1.2h-1.2zM54.8 563.9h1.2v1.2h-1.2zM48.4 565.0h1.2v1.2h-1.2zM50.4 563.1h1.2v1.2h-1.2zM61.7 560.6h1.2v1.2h-1.2zM54.5 563.6h1.2v1.2h-1.2zM59.0 562.1h1.2v1.2h-1.2zM56.8 563.7h1.2v1.2h-1.2zM53.0 562.6h1.2v1.2h-1.2zM49.4 566.4h1.2v1.2h-1.2z" fill="#000" fill-opacity="0.9"/>
<path d="M43.1 588.7h0.8v0.8h-0.8zM61.0 581.7h0.8v0.8h-0.8zM42.4 580.0h0.8v0.8h-0.8zM45.5 589.3h0.8v0.8h-0.8zM43.7 579.7h0.8v0.8h-0.8zM37.5 584.4h0.8v0.8h-0.8zM52.3 590.1h0.8v0.8h-0.8zM51.1 583.9h0.8v0.8h-0.8zM60.4 587.7h0.8v0.8h-0.8zM46.9 583.3h0.8v0.8h-0.8zM48.6 583.6h0.8v0.8h-0.8zM52.7 581.2h0.8v0.8h-0.8zM62.5 580.1h0.8v0.8h-0.8zM53.8 587.1h0.8v0.8h-0.8zM56.0 589.5h0.8v0.8h-0.8zM51.5 584.9h0.8v0.8h-0.8zM59.5 589.3h0.8v0.8h-0.8zM49.3 587.5h0.8v0.8h-0.8zM40.8 585.7h0.8v0.8h-0.8zM34.7 589.0h0.8v0.8h-0.8zM44.9 587.8h0.8v0.8h-0.8zM52.6 581.7h0.8v0.8h-0.8zM55.3 590.8h0.8v0.8h-0.8zM43.3 591.7h0.8v0.8h-0.8zM52.2 580.5h0.8v0.8h-0.8zM47.6 585.6h0.8v0.8h-0.8zM54.5 580.9h0.8v0.8h-0.8zM46.8 586.1h0.8v0.8h-0.8zM51.3 592.0h0.8v0.8h-0.8zM55.3 587.7h0.8v0.8h-0.8zM43.2 580.6h0.8v0.8h-0.8zM42.2 583.9h0.8v0.8h-0.8zM53.9 590.9h0.8v0.8h-0.8zM56.4 580.9h0.8v0.8h-0.8zM49.0 592.8h0.8v0.8h-0.8zM50.5 586.3h0.8v0.8h-0.8zM39.9 578.6h0.8v0.8h-0.8zM46.2 583.2h0.8v0.8h-0.8zM53.2 583.7h0.8v0.8h-0.8zM37.6 593.9h0.8v0.8h-0.8zM52.3 577.5h0.8v0.8h-0.8zM61.4 587.6h0.8v0.8h-0.8zM48.4 584.3h0.8v0.8h-0.8zM53.1 575.0h0.8v0.8h-0.8zM56.6 585.3h0.8v0.8h-0.8zM54.3 581.9h0.8v0.8h-0.8zM45.2 590.6h0.8v0.8h-0.8zM26.1 589.1h0.8v0.8h-0.8zM57.8 577.8h0.8v0.8h-0.8zM48.0 581.5h0.8v0.8h-0.8zM45.7 579.1h0.8v0.8h-0.8zM40.2 584.6h0.8v0.8h-0.8zM47.6 586.5h0.8v0.8h-0.8zM54.9 582.0h0.8v0.8h-0.8zM64.3 590.8h0.8v0.8h-0.8zM38.7 583.6h0.8v0.8h-0.8zM47.1 585.9h0.8v0.8h-0.8zM42.6 590.6h0.8v0.8h-0.8zM46.9 592.7h0.8v0.8h-0.8zM44.2 592.0h0.8v0.8h-0.8zM52.5 587.9h0.8v0.8h-0.8zM51.9 585.6h0.8v0.8h-0.8zM42.6 583.5h0.8v0.8h-0.8zM44.4 583.3h0.8v0.8h-0.8zM46.9 587.3h0.8v0.8h-0.8zM51.5 583.0h0.8v0.8h-0.8zM37.3 587.9h0.8v0.8h-0.8zM44.4 582.7h0.8v0.8h-0.8zM52.6 584.0h0.8v0.8h-0.8zM50.0 584.6h0.8v0.8h-0.8zM36.4 587.0h0.8v0.8h-0.8zM48.0 587.2h0.8v0.8h-0.8zM50.0 582.5h0.8v0.8h-0.8zM59.5 584.6h0.8v0.8h-0.8zM56.5 586.6h0.8v0.8h-0.8zM55.0 588.3h0.8v0.8h-0.8zM53.8 580.5h0.8v0.8h-0.8zM47.8 589.5h0.8v0.8h-0.8zM48.5 582.7h0.8v0.8h-0.8zM49.6 587.9h0.8v0.8h-0.8zM43.6 583.9h0.8v0.8h-0.8zM46.3 581.4h0.8v0.8h-0.8zM54.6 581.9h0.8v0.8h-0.8zM49.7 585.6h0.8v0.8h-0.8zM52.6 586.0h0.8v0.8h-0.8zM54.6 581.2h0.8v0.8h-0.8zM32.6 587.6h0.8v0.8h-0.8zM60.9 582.6h0.8v0.8h-0.8zM49.6 587.6h0.8v0.8h-0.8zM43.8 583.9h0.8v0.8h-0.8zM46.4 586.3h0.8v0.8h-0.8zM49.8 590.6h0.8v0.8h-0.8zM43.1 581.4h0.8v0.8h-0.8zM39.7 585.0h0.8v0.8h-0.8zM48.6 583.2h0.8v0.8h-0.8zM53.5 580.3h0.8v0.8h-0.8zM39.6 592.5h0.8v0.8h-0.8zM49.5 580.3h0.8v0.8h-0.8zM56.6 584.7h0.8v0.8h-0.8zM42.9 585.4h0.8v0.8h-0.8zM56.7 587.0h0.8v0.8h-0.8zM48.8 590.8h0.8v0.8h-0.8zM43.5 583.4h0.8v0.8h-0.8zM52.7 580.1h0.8v0.8h-0.8zM54.1 585.6h0.8v0.8h-0.8zM56.2 585.4h0.8v0.8h-0.8zM63.2 578.8h0.8v0.8h-0.8zM46.9 582.1h0.8v0.8h-0.8zM49.5 586.7h0.8v0.8h-0.8zM42.2 588.1h0.8v0.8h-0.8zM57.2 584.6h0.8v0.8h-0.8zM40.0 586.7h0.8v0.8h-0.8zM52.5 580.4h0.8v0.8h-0.8zM44.7 582.1h0.8v0.8h-0.8zM39.7 585.6h0.8v0.8h-0.8zM57.2 585.6h0.8v0.8h-0.8zM44.7 584.0h0.8v0.8h-0.8zM49.3 591.5h0.8v0.8h-0.8zM46.5 586.1h0.8v0.8h-0.8zM47.4 588.7h0.8v0.8h-0.8zM44.0 586.2h0.8v0.8h-0.8zM47.0 586.5h0.8v0.8h-0.8zM39.7 583.8h0.8v0.8h-0.8zM57.1 586.8h0.8v0.8h-0.8zM52.6 583.2h0.8v0.8h-0.8zM47.1 580.5h0.8v0.8h-0.8zM60.1 589.3h0.8v0.8h-0.8zM59.5 580.2h0.8v0.8h-0.8zM36.6 575.6h0.8v0.8h-0.8zM39.3 581.9h0.8v0.8h-0.8zM41.2 577.5h0.8v0.8h-0.8zM52.9 581.3h0.8v0.8h-0.8zM51.5 588.9h0.8v0.8h-0.8zM43.7 582.0h0.8v0.8h-0.8zM57.9 578.0h0.8v0.8h-0.8zM45.8 579.4h0.8v0.8h-0.8zM47.6 581.5h0.8v0.8h-0.8zM50.5 582.0h0.8v0.8h-0.8zM57.3 580.8h0.8v0.8h-0.8zM48.4 586.6h0.8v0.8h-0.8zM42.9 581.4h0.8v0.8h-0.8zM48.2 582.3h0.8v0.8h-0.8zM54.4 581.0h0.8v0.8h-0.8zM38.5 586.4h0.8v0.8h-0.8zM43.2 581.3h0.8v0.8h-0.8zM47.1 588.3h0.8v0.8h-0.8zM54.5 584.6h0.8v0.8h-0.8zM50.8 582.2h0.8v0.8h-0.8zM60.9 588.0h0.8v0.8h-0.8zM43.2 587.5h0.8v0.8h-0.8zM39.7 580.7h0.8v0.8h-0.8zM44.2 590.2h0.8v0.8h-0.8zM62.8 584.0h0.8v0.8h-0.8zM45.6 589.2h0.8v0.8h-0.8zM45.3 590.3h0.8v0.8h-0.8zM42.4 587.8h0.8v0.8h-0.8zM43.5 590.8h0.8v0.8h-0.8zM50.0 581.4h0.8v0.8h-0.8z" fill="#000" fill-opacity="0.6"/>
<path d="M36.6 551.7h0.8v0.8h-0.8zM36.4 569.9h0.8v0.8h-0.8zM45.5 559.5h0.8v0.8h-0.8zM40.9 573.6h0.8v0.8h-0.8zM39.0 564.0h0.8v0.8h-0.8zM36.8 561.1h0.8v0.8h-0.8zM37.3 559.0h0.8v0.8h-0.8zM34.2 566.5h0.8v0.8h-0.8zM32.6 558.4h0.8v0.8h-0.8zM35.9 567.8h0.8v0.8h-0.8zM38.8 568.5h0.8v0.8h-0.8zM42.8 565.8h0.8v0.8h-0.8zM41.5 559.9h0.8v0.8h-0.8zM38.8 570.4h0.8v0.8h-0.8zM43.6 562.4h0.8v0.8h-0.8zM43.6 565.4h0.8v0.8h-0.8zM34.5 556.1h0.8v0.8h-0.8zM39.8 562.8h0.8v0.8h-0.8zM39.6 567.1h0.8v0.8h-0.8zM39.4 566.4h0.8v0.8h-0.8zM33.5 563.4h0.8v0.8h-0.8zM36.2 568.7h0.8v0.8h-0.8zM33.2 571.6h0.8v0.8h-0.8zM28.1 558.2h0.8v0.8h-0.8zM39.0 568.0h0.8v0.8h-0.8zM44.4 572.4h0.8v0.8h-0.8zM32.2 559.5h0.8v0.8h-0.8zM36.3 565.6h0.8v0.8h-0.8zM39.2 562.9h0.8v0.8h-0.8zM33.4 561.6h0.8v0.8h-0.8zM36.1 560.9h0.8v0.8h-0.8zM35.7 570.5h0.8v0.8h-0.8zM35.5 559.5h0.8v0.8h-0.8zM38.3 570.7h0.8v0.8h-0.8zM32.7 563.6h0.8v0.8h-0.8zM29.8 559.7h0.8v0.8h-0.8zM31.6 557.7h0.8v0.8h-0.8zM33.5 577.4h0.8v0.8h-0.8zM40.8 563.3h0.8v0.8h-0.8zM37.9 566.4h0.8v0.8h-0.8zM36.6 554.0h0.8v0.8h-0.8zM35.4 558.9h0.8v0.8h-0.8zM34.3 565.3h0.8v0.8h-0.8zM37.7 573.9h0.8v0.8h-0.8zM39.6 559.0h0.8v0.8h-0.8zM34.5 569.6h0.8v0.8h-0.8zM35.2 552.3h0.8v0.8h-0.8zM39.1 561.8h0.8v0.8h-0.8zM36.0 555.0h0.8v0.8h-0.8zM31.4 573.1h0.8v0.8h-0.8zM34.2 568.6h0.8v0.8h-0.8zM42.6 566.0h0.8v0.8h-0.8zM36.2 564.2h0.8v0.8h-0.8zM39.4 568.0h0.8v0.8h-0.8zM37.9 575.4h0.8v0.8h-0.8zM38.2 573.4h0.8v0.8h-0.8zM32.7 564.3h0.8v0.8h-0.8zM38.8 560.9h0.8v0.8h-0.8zM30.3 565.3h0.8v0.8h-0.8zM34.1 568.2h0.8v0.8h-0.8zM42.6 563.1h0.8v0.8h-0.8zM31.7 564.0h0.8v0.8h-0.8zM33.7 562.6h0.8v0.8h-0.8zM40.7 569.3h0.8v0.8h-0.8zM37.7 564.4h0.8v0.8h-0.8zM40.0 565.3h0.8v0.8h-0.8zM43.1 565.9h0.8v0.8h-0.8zM35.8 570.1h0.8v0.8h-0.8zM44.7 555.2h0.8v0.8h-0.8zM38.0 558.5h0.8v0.8h-0.8zM29.5 563.2h0.8v0.8h-0.8zM39.5 555.8h0.8v0.8h-0.8zM34.4 576.9h0.8v0.8h-0.8zM41.2 563.7h0.8v0.8h-0.8zM38.8 566.2h0.8v0.8h-0.8zM33.7 560.9h0.8v0.8h-0.8zM41.2 561.8h0.8v0.8h-0.8zM35.5 562.7h0.8v0.8h-0.8zM30.0 564.5h0.8v0.8h-0.8zM43.7 559.5h0.8v0.8h-0.8zM35.8 573.1h0.8v0.8h-0.8zM37.9 565.7h0.8v0.8h-0.8zM38.5 567.6h0.8v0.8h-0.8zM35.8 560.7h0.8v0.8h-0.8zM34.2 555.2h0.8v0.8h-0.8zM36.6 564.4h0.8v0.8h-0.8zM33.5 556.1h0.8v0.8h-0.8zM33.9 554.5h0.8v0.8h-0.8zM38.5 558.5h0.8v0.8h-0.8z" fill="#000" fill-opacity="0.5"/>
<path d="M35.0 583.7h0.8v0.8h-0.8zM34.2 588.8h0.8v0.8h-0.8zM35.0 585.7h0.8v0.8h-0.8zM23.7 588.3h0.8v0.8h-0.8zM28.9 581.3h0.8v0.8h-0.8zM27.0 587.8h0.8v0.8h-0.8zM34.1 588.1h0.8v0.8h-0.8zM34.4 590.6h0.8v0.8h-0.8zM30.2 586.8h0.8v0.8h-0.8zM30.5 585.8h0.8v0.8h-0.8zM31.0 587.5h0.8v0.8h-0.8zM29.5 587.3h0.8v0.8h-0.8zM35.2 585.8h0.8v0.8h-0.8zM33.8 583.7h0.8v0.8h-0.8zM28.1 592.9h0.8v0.8h-0.8zM31.0 591.2h0.8v0.8h-0.8zM23.5 578.4h0.8v0.8h-0.8zM31.3 585.9h0.8v0.8h-0.8zM34.0 584.3h0.8v0.8h-0.8zM33.9 589.0h0.8v0.8h-0.8zM31.8 584.8h0.8v0.8h-0.8zM34.1 585.3h0.8v0.8h-0.8zM29.4 582.0h0.8v0.8h-0.8zM31.9 591.2h0.8v0.8h-0.8zM29.5 585.0h0.8v0.8h-0.8zM26.2 586.0h0.8v0.8h-0.8zM34.9 586.2h0.8v0.8h-0.8zM33.9 590.7h0.8v0.8h-0.8zM27.9 584.7h0.8v0.8h-0.8zM34.0 585.8h0.8v0.8h-0.8zM27.2 586.8h0.8v0.8h-0.8zM33.1 590.7h0.8v0.8h-0.8zM28.0 588.0h0.8v0.8h-0.8zM33.4 576.8h0.8v0.8h-0.8zM34.5 586.5h0.8v0.8h-0.8zM24.9 593.2h0.8v0.8h-0.8zM33.2 587.8h0.8v0.8h-0.8zM41.0 590.5h0.8v0.8h-0.8zM27.4 586.9h0.8v0.8h-0.8zM38.5 591.2h0.8v0.8h-0.8zM37.8 586.8h0.8v0.8h-0.8zM36.1 584.6h0.8v0.8h-0.8zM30.8 589.0h0.8v0.8h-0.8zM30.9 588.9h0.8v0.8h-0.8zM30.9 587.8h0.8v0.8h-0.8zM40.0 588.9h0.8v0.8h-0.8zM35.9 581.8h0.8v0.8h-0.8zM29.1 590.1h0.8v0.8h-0.8zM24.9 585.4h0.8v0.8h-0.8zM30.1 591.0h0.8v0.8h-0.8zM24.4 585.0h0.8v0.8h-0.8zM31.5 587.2h0.8v0.8h-0.8zM24.9 591.1h0.8v0.8h-0.8zM34.3 591.4h0.8v0.8h-0.8zM33.8 589.1h0.8v0.8h-0.8zM30.4 585.9h0.8v0.8h-0.8zM26.6 588.3h0.8v0.8h-0.8zM26.6 590.8h0.8v0.8h-0.8zM33.5 584.7h0.8v0.8h-0.8zM32.2 581.1h0.8v0.8h-0.8zM27.3 584.3h0.8v0.8h-0.8zM25.7 584.6h0.8v0.8h-0.8zM30.5 584.4h0.8v0.8h-0.8zM28.0 582.5h0.8v0.8h-0.8zM23.4 588.7h0.8v0.8h-0.8zM29.7 591.1h0.8v0.8h-0.8zM26.8 585.0h0.8v0.8h-0.8zM34.1 591.8h0.8v0.8h-0.8zM35.4 589.9h0.8v0.8h-0.8zM25.8 588.6h0.8v0.8h-0.8zM38.9 579.1h0.8v0.8h-0.8zM27.0 587.7h0.8v0.8h-0.8zM39.4 588.8h0.8v0.8h-0.8zM32.1 589.8h0.8v0.8h-0.8zM30.7 589.4h0.8v0.8h-0.8zM30.9 589.8h0.8v0.8h-0.8zM28.0 586.3h0.8v0.8h-0.8zM32.1 578.9h0.8v0.8h-0.8zM35.2 585.6h0.8v0.8h-0.8zM29.0 581.8h0.8v0.8h-0.8zM31.1 583.5h0.8v0.8h-0.8zM34.1 592.5h0.8v0.8h-0.8zM29.6 584.3h0.8v0.8h-0.8zM31.0 585.9h0.8v0.8h-0.8zM33.5 579.7h0.8v0.8h-0.8zM33.6 586.7h0.8v0.8h-0.8zM29.2 581.3h0.8v0.8h-0.8zM35.2 590.7h0.8v0.8h-0.8zM32.7 589.3h0.8v0.8h-0.8zM34.9 587.5h0.8v0.8h-0.8zM34.8 583.2h0.8v0.8h-0.8zM34.8 578.1h0.8v0.8h-0.8zM36.2 592.5h0.8v0.8h-0.8zM36.3 583.9h0.8v0.8h-0.8zM30.5 588.9h0.8v0.8h-0.8zM28.1 588.3h0.8v0.8h-0.8zM31.3 592.2h0.8v0.8h-0.8zM29.7 585.0h0.8v0.8h-0.8zM33.9 590.6h0.8v0.8h-0.8zM30.3 582.0h0.8v0.8h-0.8zM26.3 581.2h0.8v0.8h-0.8zM31.9 583.2h0.8v0.8h-0.8zM31.5 581.8h0.8v0.8h-0.8zM30.4 588.8h0.8v0.8h-0.8zM27.1 590.9h0.8v0.8h-0.8zM31.7 584.0h0.8v0.8h-0.8zM30.2 586.6h0.8v0.8h-0.8zM28.1 584.8h0.8v0.8h-0.8zM32.6 580.1h0.8v0.8h-0.8zM41.5 589.9h0.8v0.8h-0.8zM34.5 586.8h0.8v0.8h-0.8zM31.1 588.9h0.8v0.8h-0.8zM37.4 583.9h0.8v0.8h-0.8zM38.8 585.7h0.8v0.8h-0.8zM27.3 591.7h0.8v0.8h-0.8zM29.5 589.5h0.8v0.8h-0.8zM26.2 589.4h0.8v0.8h-0.8zM29.6 591.1h0.8v0.8h-0.8zM25.2 584.4h0.8v0.8h-0.8zM27.6 587.7h0.8v0.8h-0.8zM27.5 585.7h0.8v0.8h-0.8zM31.5 585.3h0.8v0.8h-0.8zM32.2 587.9h0.8v0.8h-0.8zM25.1 590.5h0.8v0.8h-0.8zM27.1 584.1h0.8v0.8h-0.8zM38.5 584.4h0.8v0.8h-0.8zM30.9 589.4h0.8v0.8h-0.8zM28.9 586.4h0.8v0.8h-0.8zM30.4 586.2h0.8v0.8h-0.8zM26.7 590.5h0.8v0.8h-0.8zM31.6 589.0h0.8v0.8h-0.8zM31.7 584.7h0.8v0.8h-0.8zM36.2 584.2h0.8v0.8h-0.8zM35.5 584.2h0.8v0.8h-0.8zM28.6 587.2h0.8v0.8h-0.8zM41.0 590.1h0.8v0.8h-0.8zM32.0 588.4h0.8v0.8h-0.8zM36.2 585.2h0.8v0.8h-0.8zM23.9 583.2h0.8v0.8h-0.8zM31.4 584.3h0.8v0.8h-0.8zM30.5 592.0h0.8v0.8h-0.8zM30.5 584.7h0.8v0.8h-0.8zM31.7 591.2h0.8v0.8h-0.8zM38.4 589.3h0.8v0.8h-0.8zM30.4 585.3h0.8v0.8h-0.8zM27.0 584.8h0.8v0.8h-0.8zM35.3 589.0h0.8v0.8h-0.8zM32.8 583.3h0.8v0.8h-0.8zM31.3 584.5h0.8v0.8h-0.8zM37.6 586.9h0.8v0.8h-0.8zM31.1 586.8h0.8v0.8h-0.8zM31.5 587.2h0.8v0.8h-0.8zM29.4 587.8h0.8v0.8h-0.8zM31.8 590.0h0.8v0.8h-0.8zM33.7 589.3h0.8v0.8h-0.8zM29.6 587.0h0.8v0.8h-0.8zM29.9 578.5h0.8v0.8h-0.8zM36.3 590.2h0.8v0.8h-0.8zM25.3 587.1h0.8v0.8h-0.8zM32.0 585.2h0.8v0.8h-0.8zM37.6 590.8h0.8v0.8h-0.8zM33.5 583.6h0.8v0.8h-0.8zM32.6 587.1h0.8v0.8h-0.8zM33.6 581.9h0.8v0.8h-0.8zM27.5 590.8h0.8v0.8h-0.8zM31.9 586.6h0.8v0.8h-0.8zM31.4 577.3h0.8v0.8h-0.8zM37.4 581.7h0.8v0.8h-0.8zM26.6 588.8h0.8v0.8h-0.8zM37.0 591.1h0.8v0.8h-0.8zM29.5 584.0h0.8v0.8h-0.8zM34.1 587.7h0.8v0.8h-0.8zM24.4 591.6h0.8v0.8h-0.8zM23.8 588.2h0.8v0.8h-0.8zM32.9 589.5h0.8v0.8h-0.8zM32.0 589.9h0.8v0.8h-0.8zM32.8 583.8h0.8v0.8h-0.8zM29.1 591.8h0.8v0.8h-0.8zM23.9 589.4h0.8v0.8h-0.8zM29.2 580.8h0.8v0.8h-0.8zM28.1 588.5h0.8v0.8h-0.8zM36.6 585.4h0.8v0.8h-0.8zM30.2 587.1h0.8v0.8h-0.8zM35.1 583.3h0.8v0.8h-0.8zM29.6 588.1h0.8v0.8h-0.8zM25.5 588.0h0.8v0.8h-0.8zM31.3 589.7h0.8v0.8h-0.8zM27.0 586.7h0.8v0.8h-0.8zM33.1 587.1h0.8v0.8h-0.8zM27.3 590.9h0.8v0.8h-0.8zM31.2 587.4h0.8v0.8h-0.8zM31.8 589.3h0.8v0.8h-0.8zM32.0 584.5h0.8v0.8h-0.8zM35.0 586.7h0.8v0.8h-0.8zM32.0 587.6h0.8v0.8h-0.8zM26.9 587.2h0.8v0.8h-0.8zM32.9 581.9h0.8v0.8h-0.8zM30.4 586.7h0.8v0.8h-0.8zM34.4 585.8h0.8v0.8h-0.8zM31.9 589.2h0.8v0.8h-0.8zM26.7 584.3h0.8v0.8h-0.8zM30.5 589.5h0.8v0.8h-0.8zM37.1 587.3h0.8v0.8h-0.8zM31.2 585.3h0.8v0.8h-0.8zM32.1 592.8h0.8v0.8h-0.8zM31.2 585.2h0.8v0.8h-0.8zM38.0 586.6h0.8v0.8h-0.8zM30.9 584.0h0.8v0.8h-0.8zM35.9 586.2h0.8v0.8h-0.8zM24.3 579.5h0.8v0.8h-0.8zM33.0 585.1h0.8v0.8h-0.8zM33.6 588.7h0.8v0.8h-0.8zM37.8 592.0h0.8v0.8h-0.8zM27.3 585.9h0.8v0.8h-0.8zM28.5 590.0h0.8v0.8h-0.8zM25.8 589.2h0.8v0.8h-0.8zM24.8 590.6h0.8v0.8h-0.8zM36.3 581.2h0.8v0.8h-0.8zM31.7 584.8h0.8v0.8h-0.8zM24.9 590.2h0.8v0.8h-0.8zM28.5 590.6h0.8v0.8h-0.8zM33.5 593.3h0.8v0.8h-0.8zM29.8 589.9h0.8v0.8h-0.8zM32.4 585.6h0.8v0.8h-0.8zM35.9 587.2h0.8v0.8h-0.8zM29.9 587.6h0.8v0.8h-0.8zM26.4 590.8h0.8v0.8h-0.8zM38.4 581.7h0.8v0.8h-0.8zM32.1 585.7h0.8v0.8h-0.8zM28.8 589.9h0.8v0.8h-0.8zM38.6 588.1h0.8v0.8h-0.8zM30.5 593.0h0.8v0.8h-0.8zM30.3 584.5h0.8v0.8h-0.8zM29.3 590.2h0.8v0.8h-0.8zM31.9 587.5h0.8v0.8h-0.8zM29.2 588.2h0.8v0.8h-0.8zM31.5 593.2h0.8v0.8h-0.8zM31.5 583.4h0.8v0.8h-0.8zM38.4 587.9h0.8v0.8h-0.8zM31.5 588.6h0.8v0.8h-0.8zM31.8 579.4h0.8v0.8h-0.8zM31.5 591.4h0.8v0.8h-0.8zM35.4 584.2h0.8v0.8h-0.8zM30.3 588.7h0.8v0.8h-0.8zM40.0 588.3h0.8v0.8h-0.8zM32.7 584.9h0.8v0.8h-0.8zM30.1 585.2h0.8v0.8h-0.8zM31.6 583.6h0.8v0.8h-0.8zM30.1 582.9h0.8v0.8h-0.8zM36.2 589.2h0.8v0.8h-0.8zM31.0 586.1h0.8v0.8h-0.8zM34.8 587.6h0.8v0.8h-0.8zM29.8 577.5h0.8v0.8h-0.8zM24.2 589.3h0.8v0.8h-0.8zM30.9 584.3h0.8v0.8h-0.8zM24.4 589.3h0.8v0.8h-0.8zM27.0 587.5h0.8v0.8h-0.8zM31.3 585.0h0.8v0.8h-0.8zM27.0 588.1h0.8v0.8h-0.8zM26.1 584.8h0.8v0.8h-0.8zM31.1 590.9h0.8v0.8h-0.8zM29.9 587.4h0.8v0.8h-0.8zM34.0 578.4h0.8v0.8h-0.8zM27.9 585.7h0.8v0.8h-0.8zM28.7 589.8h0.8v0.8h-0.8zM29.5 589.0h0.8v0.8h-0.8zM35.3 585.9h0.8v0.8h-0.8zM33.1 592.0h0.8v0.8h-0.8zM35.4 587.1h0.8v0.8h-0.8zM24.8 584.6h0.8v0.8h-0.8zM31.3 588.1h0.8v0.8h-0.8zM32.3 586.9h0.8v0.8h-0.8zM27.5 589.1h0.8v0.8h-0.8zM35.4 586.7h0.8v0.8h-0.8zM31.9 589.9h0.8v0.8h-0.8zM30.1 588.4h0.8v0.8h-0.8zM35.6 584.5h0.8v0.8h-0.8zM31.4 584.2h0.8v0.8h-0.8zM27.3 580.3h0.8v0.8h-0.8zM30.3 592.4h0.8v0.8h-0.8zM35.9 585.6h0.8v0.8h-0.8zM35.3 585.5h0.8v0.8h-0.8zM23.3 590.1h0.8v0.8h-0.8zM30.6 586.3h0.8v0.8h-0.8zM34.6 590.5h0.8v0.8h-0.8zM31.0 588.0h0.8v0.8h-0.8zM33.1 584.1h0.8v0.8h-0.8zM34.8 585.1h0.8v0.8h-0.8zM33.4 590.4h0.8v0.8h-0.8zM35.7 580.3h0.8v0.8h-0.8zM28.9 586.0h0.8v0.8h-0.8zM28.6 586.5h0.8v0.8h-0.8zM31.4 587.3h0.8v0.8h-0.8zM40.9 587.9h0.8v0.8h-0.8zM32.0 584.4h0.8v0.8h-0.8zM30.8 586.3h0.8v0.8h-0.8zM34.3 582.8h0.8v0.8h-0.8zM30.9 583.4h0.8v0.8h-0.8zM25.0 589.6h0.8v0.8h-0.8zM31.0 588.3h0.8v0.8h-0.8zM38.4 592.2h0.8v0.8h-0.8zM31.4 588.3h0.8v0.8h-0.8zM29.8 586.3h0.8v0.8h-0.8zM25.5 589.7h0.8v0.8h-0.8zM32.1 590.6h0.8v0.8h-0.8zM39.0 584.1h0.8v0.8h-0.8zM32.4 586.3h0.8v0.8h-0.8zM36.8 586.2h0.8v0.8h-0.8zM40.0 594.1h0.8v0.8h-0.8zM33.3 587.3h0.8v0.8h-0.8zM26.3 587.8h0.8v0.8h-0.8zM25.4 583.7h0.8v0.8h-0.8zM36.7 590.5h0.8v0.8h-0.8zM27.4 583.2h0.8v0.8h-0.8zM37.7 592.7h0.8v0.8h-0.8zM31.0 589.3h0.8v0.8h-0.8zM25.6 589.9h0.8v0.8h-0.8zM29.7 590.5h0.8v0.8h-0.8zM29.3 585.4h0.8v0.8h-0.8zM34.7 589.4h0.8v0.8h-0.8zM30.3 581.9h0.8v0.8h-0.8zM33.1 592.0h0.8v0.8h-0.8zM34.9 582.3h0.8v0.8h-0.8zM32.2 587.9h0.8v0.8h-0.8zM38.0 586.5h0.8v0.8h-0.8zM30.7 592.7h0.8v0.8h-0.8zM26.8 584.6h0.8v0.8h-0.8zM27.9 591.0h0.8v0.8h-0.8zM28.8 589.3h0.8v0.8h-0.8zM28.8 592.1h0.8v0.8h-0.8zM33.8 584.8h0.8v0.8h-0.8zM34.4 588.2h0.8v0.8h-0.8zM31.8 583.7h0.8v0.8h-0.8zM39.4 587.4h0.8v0.8h-0.8zM30.3 587.5h0.8v0.8h-0.8zM31.6 582.8h0.8v0.8h-0.8zM36.1 581.6h0.8v0.8h-0.8zM35.4 580.5h0.8v0.8h-0.8zM26.3 591.2h0.8v0.8h-0.8zM25.9 587.2h0.8v0.8h-0.8zM32.8 591.8h0.8v0.8h-0.8zM38.8 590.1h0.8v0.8h-0.8zM34.0 591.1h0.8v0.8h-0.8zM35.8 581.5h0.8v0.8h-0.8zM34.3 584.1h0.8v0.8h-0.8zM42.2 591.3h0.8v0.8h-0.8zM29.0 593.6h0.8v0.8h-0.8zM28.1 589.0h0.8v0.8h-0.8zM26.8 585.9h0.8v0.8h-0.8zM32.7 582.4h0.8v0.8h-0.8zM34.1 590.7h0.8v0.8h-0.8zM38.2 590.8h0.8v0.8h-0.8zM33.4 590.0h0.8v0.8h-0.8zM28.6 585.3h0.8v0.8h-0.8zM37.3 583.2h0.8v0.8h-0.8zM29.6 590.2h0.8v0.8h-0.8zM31.3 582.8h0.8v0.8h-0.8zM29.3 584.6h0.8v0.8h-0.8zM26.8 585.0h0.8v0.8h-0.8zM34.7 585.1h0.8v0.8h-0.8zM32.6 584.7h0.8v0.8h-0.8zM31.0 589.5h0.8v0.8h-0.8zM33.3 586.3h0.8v0.8h-0.8zM30.6 590.8h0.8v0.8h-0.8zM30.2 582.0h0.8v0.8h-0.8zM34.6 589.4h0.8v0.8h-0.8zM31.3 585.1h0.8v0.8h-0.8zM37.1 591.5h0.8v0.8h-0.8zM33.3 587.0h0.8v0.8h-0.8zM34.6 593.1h0.8v0.8h-0.8zM29.2 590.0h0.8v0.8h-0.8zM23.6 585.1h0.8v0.8h-0.8zM34.2 587.6h0.8v0.8h-0.8zM27.0 589.9h0.8v0.8h-0.8zM34.6 589.8h0.8v0.8h-0.8zM30.4 586.5h0.8v0.8h-0.8zM31.0 588.1h0.8v0.8h-0.8zM32.2 586.7h0.8v0.8h-0.8zM34.7 591.1h0.8v0.8h-0.8zM32.4 591.5h0.8v0.8h-0.8zM28.3 585.6h0.8v0.8h-0.8zM33.6 590.6h0.8v0.8h-0.8zM32.6 581.5h0.8v0.8h-0.8zM30.4 582.9h0.8v0.8h-0.8zM35.4 585.6h0.8v0.8h-0.8zM32.8 583.2h0.8v0.8h-0.8zM33.6 581.2h0.8v0.8h-0.8zM30.6 590.4h0.8v0.8h-0.8zM31.9 583.6h0.8v0.8h-0.8zM28.8 590.5h0.8v0.8h-0.8zM34.5 588.3h0.8v0.8h-0.8zM34.7 586.8h0.8v0.8h-0.8zM31.9 586.6h0.8v0.8h-0.8zM30.0 590.9h0.8v0.8h-0.8zM34.9 586.2h0.8v0.8h-0.8zM37.6 593.0h0.8v0.8h-0.8zM33.0 582.9h0.8v0.8h-0.8zM32.2 587.2h0.8v0.8h-0.8zM29.4 582.1h0.8v0.8h-0.8zM28.2 587.7h0.8v0.8h-0.8zM31.1 590.3h0.8v0.8h-0.8zM26.9 589.4h0.8v0.8h-0.8zM28.6 588.6h0.8v0.8h-0.8zM32.6 592.1h0.8v0.8h-0.8zM34.1 586.1h0.8v0.8h-0.8zM32.5 582.0h0.8v0.8h-0.8zM31.9 588.9h0.8v0.8h-0.8zM32.9 585.3h0.8v0.8h-0.8z" fill="#000" fill-opacity="0.85"/>
<path d="M32.0 587.6h1.2v1.2h-1.2zM32.2 585.2h1.2v1.2h-1.2zM33.2 587.0h1.2v1.2h-1.2zM28.4 586.7h1.2v1.2h-1.2zM34.1 590.1h1.2v1.2h-1.2zM30.5 585.5h1.2v1.2h-1.2zM30.4 588.4h1.2v1.2h-1.2zM34.6 587.4h1.2v1.2h-1.2zM30.6 589.9h1.2v1.2h-1.2zM32.4 585.5h1.2v1.2h-1.2zM30.7 588.9h1.2v1.2h-1.2zM30.4 587.1h1.2v1.2h-1.2zM29.5 588.1h1.2v1.2h-1.2zM34.8 589.4h1.2v1.2h-1.2zM30.2 584.8h1.2v1.2h-1.2zM34.8 588.4h1.2v1.2h-1.2zM27.4 589.8h1.2v1.2h-1.2zM30.1 585.8h1.2v1.2h-1.2zM31.2 584.3h1.2v1.2h-1.2zM28.5 589.8h1.2v1.2h-1.2zM30.5 588.0h1.2v1.2h-1.2zM34.5 587.7h1.2v1.2h-1.2zM31.0 588.2h1.2v1.2h-1.2zM35.3 588.0h1.2v1.2h-1.2zM30.3 590.9h1.2v1.2h-1.2zM34.8 584.7h1.2v1.2h-1.2zM32.2 591.7h1.2v1.2h-1.2zM27.7 584.3h1.2v1.2h-1.2zM33.0 586.0h1.2v1.2h-1.2zM27.4 590.0h1.2v1.2h-1.2zM30.9 587.9h1.2v1.2h-1.2zM34.3 587.6h1.2v1.2h-1.2zM29.1 591.5h1.2v1.2h-1.2zM33.7 587.1h1.2v1.2h-1.2zM30.4 584.3h1.2v1.2h-1.2zM33.0 584.5h1.2v1.2h-1.2zM35.8 583.2h1.2v1.2h-1.2zM33.4 584.9h1.2v1.2h-1.2zM28.7 588.5h1.2v1.2h-1.2zM31.6 588.5h1.2v1.2h-1.2zM28.5 586.7h1.2v1.2h-1.2zM30.4 587.5h1.2v1.2h-1.2zM33.4 586.8h1.2v1.2h-1.2zM28.9 587.2h1.2v1.2h-1.2zM27.1 585.8h1.2v1.2h-1.2zM34.3 586.0h1.2v1.2h-1.2zM33.4 586.3h1.2v1.2h-1.2zM29.0 587.3h1.2v1.2h-1.2zM32.5 586.8h1.2v1.2h-1.2zM31.9 590.4h1.2v1.2h-1.2zM31.3 587.7h1.2v1.2h-1.2zM29.3 588.6h1.2v1.2h-1.2zM29.5 587.4h1.2v1.2h-1.2zM30.0 588.3h1.2v1.2h-1.2zM32.5 589.1h1.2v1.2h-1.2zM31.4 588.3h1.2v1.2h-1.2zM35.9 585.2h1.2v1.2h-1.2zM29.0 588.7h1.2v1.2h-1.2zM31.6 587.2h1.2v1.2h-1.2zM25.2 586.6h1.2v1.2h-1.2zM33.6 588.0h1.2v1.2h-1.2zM31.3 586.7h1.2v1.2h-1.2zM29.5 586.2h1.2v1.2h-1.2zM31.3 583.3h1.2v1.2h-1.2zM34.4 584.7h1.2v1.2h-1.2zM34.3 588.5h1.2v1.2h-1.2zM29.2 586.4h1.2v1.2h-1.2zM32.1 589.2h1.2v1.2h-1.2zM28.9 588.0h1.2v1.2h-1.2zM32.9 586.6h1.2v1.2h-1.2zM32.1 586.1h1.2v1.2h-1.2zM30.2 585.0h1.2v1.2h-1.2zM29.0 588.4h1.2v1.2h-1.2zM32.4 588.0h1.2v1.2h-1.2zM29.8 587.7h1.2v1.2h-1.2zM33.4 584.5h1.2v1.2h-1.2zM28.5 584.8h1.2v1.2h-1.2zM31.4 587.2h1.2v1.2h-1.2zM35.8 589.0h1.2v1.2h-1.2zM24.5 587.4h1.2v1.2h-1.2zM30.1 588.8h1.2v1.2h-1.2zM28.3 583.9h1.2v1.2h-1.2zM28.6 588.0h1.2v1.2h-1.2zM30.1 588.2h1.2v1.2h-1.2zM35.7 584.6h1.2v1.2h-1.2zM29.9 587.4h1.2v1.2h-1.2zM33.1 585.4h1.2v1.2h-1.2zM31.2 584.9h1.2v1.2h-1.2zM34.8 588.6h1.2v1.2h-1.2zM35.8 589.9h1.2v1.2h-1.2zM32.3 588.6h1.2v1.2h-1.2zM33.0 587.0h1.2v1.2h-1.2zM30.6 586.3h1.2v1.2h-1.2zM31.9 587.5h1.2v1.2h-1.2zM34.2 587.2h1.2v1.2h-1.2zM31.8 590.3h1.2v1.2h-1.2zM29.9 584.9h1.2v1.2h-1.2zM37.2 584.7h1.2v1.2h-1.2zM29.7 590.2h1.2v1.2h-1.2zM30.6 585.8h1.2v1.2h-1.2zM31.3 586.5h1.2v1.2h-1.2zM28.7 583.2h1.2v1.2h-1.2zM29.0 584.5h1.2v1.2h-1.2zM29.8 585.3h1.2v1.2h-1.2zM33.1 588.2h1.2v1.2h-1.2zM29.5 590.4h1.2v1.2h-1.2zM36.0 583.4h1.2v1.2h-1.2zM28.6 590.7h1.2v1.2h-1.2zM31.6 586.8h1.2v1.2h-1.2zM30.1 586.7h1.2v1.2h-1.2zM33.6 588.0h1.2v1.2h-1.2zM30.8 585.8h1.2v1.2h-1.2zM30.0 589.1h1.2v1.2h-1.2zM30.0 586.7h1.2v1.2h-1.2zM31.4 587.3h1.2v1.2h-1.2zM28.0 592.3h1.2v1.2h-1.2zM32.8 590.1h1.2v1.2h-1.2zM28.2 583.8h1.2v1.2h-1.2zM31.5 586.3h1.2v1.2h-1.2zM28.9 590.3h1.2v1.2h-1.2z" fill="#000" fill-opacity="0.9"/>
<path d="M29.9 563.1h0.7v0.7h-0.7zM66.7 576.7h0.7v0.7h-0.7zM27.4 581.5h0.7v0.7h-0.7zM34.4 570.7h0.7v0.7h-0.7zM41.5 573.7h0.7v0.7h-0.7zM66.6 568.4h0.7v0.7h-0.7zM33.9 565.9h0.7v0.7h-0.7zM43.1 566.5h0.7v0.7h-0.7zM45.0 584.1h0.7v0.7h-0.7zM68.2 572.6h0.7v0.7h-0.7zM46.3 570.0h0.7v0.7h-0.7zM40.5 579.3h0.7v0.7h-0.7zM32.7 567.6h0.7v0.7h-0.7zM37.5 575.9h0.7v0.7h-0.7zM41.0 593.8h0.7v0.7h-0.7zM58.8 568.4h0.7v0.7h-0.7zM40.9 569.4h0.7v0.7h-0.7zM46.8 574.2h0.7v0.7h-0.7zM52.2 574.5h0.7v0.7h-0.7zM59.8 572.9h0.7v0.7h-0.7zM45.2 577.0h0.7v0.7h-0.7zM46.1 574.1h0.7v0.7h-0.7zM51.4 578.8h0.7v0.7h-0.7zM49.0 578.2h0.7v0.7h-0.7zM39.8 571.4h0.7v0.7h-0.7zM57.8 583.1h0.7v0.7h-0.7zM41.0 583.7h0.7v0.7h-0.7zM40.2 584.6h0.7v0.7h-0.7zM53.7 574.3h0.7v0.7h-0.7zM50.8 569.6h0.7v0.7h-0.7zM38.8 570.4h0.7v0.7h-0.7zM54.1 578.6h0.7v0.7h-0.7zM41.1 574.5h0.7v0.7h-0.7zM31.8 572.7h0.7v0.7h-0.7zM31.4 583.1h0.7v0.7h-0.7zM53.6 569.4h0.7v0.7h-0.7zM37.3 585.3h0.7v0.7h-0.7zM45.0 565.6h0.7v0.7h-0.7zM35.9 569.8h0.7v0.7h-0.7zM41.7 564.9h0.7v0.7h-0.7zM50.6 569.4h0.7v0.7h-0.7zM66.2 579.7h0.7v0.7h-0.7zM25.7 567.5h0.7v0.7h-0.7zM43.7 562.0h0.7v0.7h-0.7zM28.8 584.8h0.7v0.7h-0.7zM35.1 569.2h0.7v0.7h-0.7zM46.9 576.7h0.7v0.7h-0.7zM45.5 580.1h0.7v0.7h-0.7zM36.1 582.5h0.7v0.7h-0.7zM59.2 571.8h0.7v0.7h-0.7zM43.3 573.1h0.7v0.7h-0.7zM39.3 565.8h0.7v0.7h-0.7zM46.1 567.6h0.7v0.7h-0.7zM35.3 567.4h0.7v0.7h-0.7zM46.7 566.7h0.7v0.7h-0.7zM55.2 561.4h0.7v0.7h-0.7zM30.3 572.5h0.7v0.7h-0.7zM40.2 565.9h0.7v0.7h-0.7zM71.7 571.0h0.7v0.7h-0.7zM25.9 574.2h0.7v0.7h-0.7zM64.7 583.4h0.7v0.7h-0.7zM42.2 572.9h0.7v0.7h-0.7zM67.3 574.9h0.7v0.7h-0.7zM47.5 564.5h0.7v0.7h-0.7zM36.8 576.9h0.7v0.7h-0.7zM41.7 572.5h0.7v0.7h-0.7zM45.6 576.8h0.7v0.7h-0.7zM59.6 563.8h0.7v0.7h-0.7zM55.6 570.7h0.7v0.7h-0.7zM42.5 576.3h0.7v0.7h-0.7zM43.9 580.4h0.7v0.7h-0.7zM35.8 578.1h0.7v0.7h-0.7zM40.9 560.3h0.7v0.7h-0.7zM28.2 582.9h0.7v0.7h-0.7zM41.7 579.3h0.7v0.7h-0.7zM45.7 571.1h0.7v0.7h-0.7zM77.7 584.0h0.7v0.7h-0.7zM32.1 575.3h0.7v0.7h-0.7zM47.7 559.4h0.7v0.7h-0.7zM29.2 583.2h0.7v0.7h-0.7zM61.5 584.6h0.7v0.7h-0.7zM34.1 577.6h0.7v0.7h-0.7zM48.7 574.3h0.7v0.7h-0.7zM39.6 576.2h0.7v0.7h-0.7zM39.3 585.4h0.7v0.7h-0.7zM29.8 569.1h0.7v0.7h-0.7zM46.5 566.1h0.7v0.7h-0.7zM47.6 570.4h0.7v0.7h-0.7zM38.1 566.2h0.7v0.7h-0.7zM47.0 578.8h0.7v0.7h-0.7zM60.4 570.8h0.7v0.7h-0.7zM30.1 574.2h0.7v0.7h-0.7zM54.1 565.9h0.7v0.7h-0.7zM49.2 590.3h0.7v0.7h-0.7zM56.4 564.1h0.7v0.7h-0.7zM39.7 563.9h0.7v0.7h-0.7zM29.5 591.2h0.7v0.7h-0.7zM42.5 569.9h0.7v0.7h-0.7zM48.9 567.1h0.7v0.7h-0.7zM67.2 579.4h0.7v0.7h-0.7zM46.1 581.2h0.7v0.7h-0.7zM56.3 578.8h0.7v0.7h-0.7zM68.1 569.8h0.7v0.7h-0.7zM38.3 567.8h0.7v0.7h-0.7zM52.2 572.1h0.7v0.7h-0.7zM38.0 582.3h0.7v0.7h-0.7zM33.7 580.7h0.7v0.7h-0.7zM50.9 577.5h0.7v0.7h-0.7zM56.8 575.0h0.7v0.7h-0.7zM45.6 586.8h0.7v0.7h-0.7zM43.9 578.6h0.7v0.7h-0.7zM42.6 569.5h0.7v0.7h-0.7zM52.0 566.7h0.7v0.7h-0.7zM55.8 582.5h0.7v0.7h-0.7zM54.5 573.9h0.7v0.7h-0.7zM30.0 571.0h0.7v0.7h-0.7zM78.0 567.6h0.7v0.7h-0.7zM55.1 576.6h0.7v0.7h-0.7zM48.6 567.2h0.7v0.7h-0.7zM28.7 573.5h0.7v0.7h-0.7zM47.5 574.1h0.7v0.7h-0.7zM53.8 569.8h0.7v0.7h-0.7zM29.8 577.1h0.7v0.7h-0.7zM44.4 559.2h0.7v0.7h-0.7zM58.9 579.0h0.7v0.7h-0.7zM59.3 574.2h0.7v0.7h-0.7zM49.7 566.7h0.7v0.7h-0.7zM28.2 584.1h0.7v0.7h-0.7zM34.8 559.5h0.7v0.7h-0.7zM34.2 572.5h0.7v0.7h-0.7zM39.3 566.4h0.7v0.7h-0.7zM50.5 574.0h0.7v0.7h-0.7zM60.9 571.4h0.7v0.7h-0.7zM63.8 576.4h0.7v0.7h-0.7zM44.4 571.8h0.7v0.7h-0.7zM51.6 573.7h0.7v0.7h-0.7zM25.3 573.5h0.7v0.7h-0.7zM33.1 574.5h0.7v0.7h-0.7zM27.4 575.4h0.7v0.7h-0.7zM67.9 569.8h0.7v0.7h-0.7zM65.8 573.1h0.7v0.7h-0.7zM33.1 574.9h0.7v0.7h-0.7zM67.1 565.5h0.7v0.7h-0.7zM37.5 585.7h0.7v0.7h-0.7zM41.9 575.9h0.7v0.7h-0.7zM55.9 563.5h0.7v0.7h-0.7zM36.3 588.7h0.7v0.7h-0.7zM56.5 578.2h0.7v0.7h-0.7zM54.4 577.4h0.7v0.7h-0.7zM60.8 565.6h0.7v0.7h-0.7zM59.6 573.6h0.7v0.7h-0.7zM37.0 573.5h0.7v0.7h-0.7zM31.6 585.6h0.7v0.7h-0.7zM37.0 585.9h0.7v0.7h-0.7zM55.4 590.8h0.7v0.7h-0.7zM47.8 575.9h0.7v0.7h-0.7zM25.6 568.6h0.7v0.7h-0.7zM41.2 567.1h0.7v0.7h-0.7zM42.4 569.4h0.7v0.7h-0.7zM39.6 579.1h0.7v0.7h-0.7zM44.7 576.0h0.7v0.7h-0.7zM47.6 582.5h0.7v0.7h-0.7zM35.7 570.0h0.7v0.7h-0.7zM36.0 570.0h0.7v0.7h-0.7zM44.9 572.9h0.7v0.7h-0.7zM47.8 559.1h0.7v0.7h-0.7zM29.2 569.2h0.7v0.7h-0.7zM50.9 573.6h0.7v0.7h-0.7zM56.0 578.7h0.7v0.7h-0.7zM41.7 565.4h0.7v0.7h-0.7zM31.5 574.7h0.7v0.7h-0.7zM60.1 578.3h0.7v0.7h-0.7zM63.5 581.4h0.7v0.7h-0.7zM42.6 586.5h0.7v0.7h-0.7zM37.0 583.0h0.7v0.7h-0.7zM30.0 575.4h0.7v0.7h-0.7zM35.1 573.9h0.7v0.7h-0.7zM54.4 571.7h0.7v0.7h-0.7zM49.0 577.9h0.7v0.7h-0.7zM39.2 559.2h0.7v0.7h-0.7zM48.2 588.4h0.7v0.7h-0.7zM45.1 569.2h0.7v0.7h-0.7zM54.7 578.0h0.7v0.7h-0.7zM32.1 578.0h0.7v0.7h-0.7zM42.6 569.0h0.7v0.7h-0.7zM43.9 580.3h0.7v0.7h-0.7zM51.0 580.4h0.7v0.7h-0.7zM36.4 570.7h0.7v0.7h-0.7zM56.9 582.6h0.7v0.7h-0.7zM64.5 581.2h0.7v0.7h-0.7zM37.7 570.7h0.7v0.7h-0.7zM67.3 574.8h0.7v0.7h-0.7zM64.1 575.6h0.7v0.7h-0.7zM26.2 571.7h0.7v0.7h-0.7zM50.1 584.8h0.7v0.7h-0.7zM43.7 583.3h0.7v0.7h-0.7zM60.0 571.9h0.7v0.7h-0.7zM49.0 578.4h0.7v0.7h-0.7zM25.3 581.2h0.7v0.7h-0.7zM47.7 567.3h0.7v0.7h-0.7zM34.6 570.6h0.7v0.7h-0.7zM33.7 574.4h0.7v0.7h-0.7zM55.1 571.7h0.7v0.7h-0.7zM37.4 582.9h0.7v0.7h-0.7zM45.3 577.4h0.7v0.7h-0.7zM23.1 578.4h0.7v0.7h-0.7zM37.6 578.2h0.7v0.7h-0.7zM40.1 583.2h0.7v0.7h-0.7zM42.4 582.6h0.7v0.7h-0.7zM40.8 573.9h0.7v0.7h-0.7z" fill="#000" fill-opacity="0.55"/>
<path d="M113.5 565.9h0.8v0.8h-0.8zM117.1 562.7h0.8v0.8h-0.8zM117.2 558.9h0.8v0.8h-0.8zM110.4 565.2h0.8v0.8h-0.8zM114.8 559.2h0.8v0.8h-0.8zM109.7 567.8h0.8v0.8h-0.8zM107.1 565.6h0.8v0.8h-0.8zM103.4 566.8h0.8v0.8h-0.8zM120.2 557.8h0.8v0.8h-0.8zM114.3 562.0h0.8v0.8h-0.8zM109.8 562.8h0.8v0.8h-0.8zM120.2 554.3h0.8v0.8h-0.8zM111.6 559.3h0.8v0.8h-0.8zM115.3 562.3h0.8v0.8h-0.8zM113.3 562.5h0.8v0.8h-0.8zM115.1 561.4h0.8v0.8h-0.8zM113.5 561.8h0.8v0.8h-0.8zM114.3 567.4h0.8v0.8h-0.8zM113.4 556.3h0.8v0.8h-0.8zM119.1 553.4h0.8v0.8h-0.8zM114.3 560.2h0.8v0.8h-0.8zM113.1 564.2h0.8v0.8h-0.8zM113.9 559.9h0.8v0.8h-0.8zM108.7 558.6h0.8v0.8h-0.8zM115.6 564.2h0.8v0.8h-0.8zM113.6 559.1h0.8v0.8h-0.8zM109.7 560.2h0.8v0.8h-0.8zM112.5 559.2h0.8v0.8h-0.8zM112.7 560.4h0.8v0.8h-0.8zM116.8 558.3h0.8v0.8h-0.8zM112.8 563.8h0.8v0.8h-0.8zM121.0 564.7h0.8v0.8h-0.8zM111.1 564.3h0.8v0.8h-0.8zM111.9 567.0h0.8v0.8h-0.8zM120.1 561.5h0.8v0.8h-0.8zM118.6 562.4h0.8v0.8h-0.8zM110.5 564.8h0.8v0.8h-0.8zM116.8 563.7h0.8v0.8h-0.8zM117.1 563.1h0.8v0.8h-0.8zM106.6 559.9h0.8v0.8h-0.8zM118.5 555.6h0.8v0.8h-0.8zM118.5 561.5h0.8v0.8h-0.8zM119.5 558.9h0.8v0.8h-0.8zM114.2 558.8h0.8v0.8h-0.8zM119.4 556.9h0.8v0.8h-0.8zM112.5 565.2h0.8v0.8h-0.8zM112.6 553.6h0.8v0.8h-0.8zM107.0 565.0h0.8v0.8h-0.8zM116.1 554.9h0.8v0.8h-0.8zM111.3 567.7h0.8v0.8h-0.8zM109.1 567.4h0.8v0.8h-0.8zM111.9 564.2h0.8v0.8h-0.8zM114.8 559.5h0.8v0.8h-0.8zM115.4 557.0h0.8v0.8h-0.8zM110.9 558.6h0.8v0.8h-0.8zM110.6 558.6h0.8v0.8h-0.8zM116.0 560.5h0.8v0.8h-0.8zM111.3 560.6h0.8v0.8h-0.8zM114.0 559.4h0.8v0.8h-0.8zM106.2 563.7h0.8v0.8h-0.8zM112.1 559.6h0.8v0.8h-0.8zM118.6 559.2h0.8v0.8h-0.8zM112.4 562.0h0.8v0.8h-0.8zM118.1 559.9h0.8v0.8h-0.8zM115.9 558.7h0.8v0.8h-0.8zM114.9 558.1h0.8v0.8h-0.8zM113.3 559.8h0.8v0.8h-0.8zM114.0 560.9h0.8v0.8h-0.8zM110.6 558.3h0.8v0.8h-0.8zM110.8 556.3h0.8v0.8h-0.8zM112.2 559.8h0.8v0.8h-0.8zM112.5 561.3h0.8v0.8h-0.8zM112.5 557.9h0.8v0.8h-0.8zM107.7 566.8h0.8v0.8h-0.8zM117.2 556.8h0.8v0.8h-0.8zM110.7 567.1h0.8v0.8h-0.8zM113.4 558.4h0.8v0.8h-0.8zM107.2 567.9h0.8v0.8h-0.8zM119.6 554.4h0.8v0.8h-0.8zM111.5 562.1h0.8v0.8h-0.8zM114.1 558.3h0.8v0.8h-0.8zM109.8 561.4h0.8v0.8h-0.8zM113.6 557.5h0.8v0.8h-0.8zM111.2 566.8h0.8v0.8h-0.8zM105.6 554.8h0.8v0.8h-0.8zM115.0 560.2h0.8v0.8h-0.8zM109.8 559.8h0.8v0.8h-0.8zM114.7 556.9h0.8v0.8h-0.8zM117.1 558.4h0.8v0.8h-0.8zM116.3 564.0h0.8v0.8h-0.8zM112.3 554.9h0.8v0.8h-0.8zM117.6 559.5h0.8v0.8h-0.8zM120.3 563.4h0.8v0.8h-0.8zM117.8 560.6h0.8v0.8h-0.8zM111.7 559.5h0.8v0.8h-0.8zM111.4 561.1h0.8v0.8h-0.8zM116.0 559.0h0.8v0.8h-0.8zM117.0 559.1h0.8v0.8h-0.8zM106.7 559.0h0.8v0.8h-0.8zM114.9 563.0h0.8v0.8h-0.8zM110.9 559.7h0.8v0.8h-0.8zM113.6 563.2h0.8v0.8h-0.8zM113.3 557.6h0.8v0.8h-0.8zM112.5 559.2h0.8v0.8h-0.8zM113.6 562.8h0.8v0.8h-0.8zM114.4 561.4h0.8v0.8h-0.8zM110.6 566.5h0.8v0.8h-0.8zM103.6 559.6h0.8v0.8h-0.8zM113.5 562.9h0.8v0.8h-0.8zM115.3 562.7h0.8v0.8h-0.8zM119.3 559.7h0.8v0.8h-0.8zM112.6 561.4h0.8v0.8h-0.8zM109.9 563.2h0.8v0.8h-0.8zM115.4 561.3h0.8v0.8h-0.8zM102.6 558.7h0.8v0.8h-0.8zM110.5 561.1h0.8v0.8h-0.8zM116.2 558.6h0.8v0.8h-0.8zM115.2 562.4h0.8v0.8h-0.8zM111.3 563.0h0.8v0.8h-0.8zM120.1 561.4h0.8v0.8h-0.8zM117.0 555.6h0.8v0.8h-0.8zM115.8 556.4h0.8v0.8h-0.8zM111.2 558.5h0.8v0.8h-0.8zM107.3 559.8h0.8v0.8h-0.8zM108.8 558.3h0.8v0.8h-0.8zM110.1 561.1h0.8v0.8h-0.8zM111.9 554.7h0.8v0.8h-0.8zM114.4 561.5h0.8v0.8h-0.8zM115.5 558.6h0.8v0.8h-0.8zM115.1 561.0h0.8v0.8h-0.8zM115.8 560.9h0.8v0.8h-0.8zM120.7 561.7h0.8v0.8h-0.8zM113.8 560.3h0.8v0.8h-0.8zM115.1 557.3h0.8v0.8h-0.8zM111.7 558.8h0.8v0.8h-0.8zM114.1 559.8h0.8v0.8h-0.8zM113.8 559.5h0.8v0.8h-0.8zM111.4 562.9h0.8v0.8h-0.8zM110.1 560.5h0.8v0.8h-0.8zM112.9 558.6h0.8v0.8h-0.8zM103.8 566.2h0.8v0.8h-0.8zM105.0 565.8h0.8v0.8h-0.8zM120.3 556.7h0.8v0.8h-0.8zM108.8 571.6h0.8v0.8h-0.8zM111.3 559.6h0.8v0.8h-0.8zM112.4 559.1h0.8v0.8h-0.8zM107.8 564.1h0.8v0.8h-0.8zM114.2 560.7h0.8v0.8h-0.8zM113.4 558.5h0.8v0.8h-0.8zM111.5 558.1h0.8v0.8h-0.8zM118.4 562.4h0.8v0.8h-0.8zM112.5 563.0h0.8v0.8h-0.8zM117.6 550.7h0.8v0.8h-0.8zM113.1 568.6h0.8v0.8h-0.8zM119.3 559.2h0.8v0.8h-0.8zM110.6 561.4h0.8v0.8h-0.8zM111.9 563.4h0.8v0.8h-0.8zM110.2 559.9h0.8v0.8h-0.8zM110.2 565.2h0.8v0.8h-0.8zM113.0 561.8h0.8v0.8h-0.8zM107.2 565.8h0.8v0.8h-0.8zM114.7 561.9h0.8v0.8h-0.8zM114.2 558.6h0.8v0.8h-0.8zM115.4 558.0h0.8v0.8h-0.8zM117.0 562.5h0.8v0.8h-0.8zM114.7 556.9h0.8v0.8h-0.8zM113.9 561.7h0.8v0.8h-0.8zM118.1 556.6h0.8v0.8h-0.8zM111.6 558.9h0.8v0.8h-0.8zM108.5 565.4h0.8v0.8h-0.8zM109.3 558.9h0.8v0.8h-0.8zM114.6 558.1h0.8v0.8h-0.8zM117.0 556.5h0.8v0.8h-0.8zM113.6 564.9h0.8v0.8h-0.8zM113.8 563.3h0.8v0.8h-0.8zM112.9 555.2h0.8v0.8h-0.8zM106.9 562.2h0.8v0.8h-0.8zM114.0 557.3h0.8v0.8h-0.8zM121.5 557.2h0.8v0.8h-0.8zM117.0 558.7h0.8v0.8h-0.8zM117.5 559.4h0.8v0.8h-0.8zM112.9 559.8h0.8v0.8h-0.8zM110.1 563.2h0.8v0.8h-0.8zM106.9 559.5h0.8v0.8h-0.8zM112.2 560.3h0.8v0.8h-0.8zM112.6 564.0h0.8v0.8h-0.8zM119.2 561.2h0.8v0.8h-0.8zM112.6 563.5h0.8v0.8h-0.8zM116.1 562.2h0.8v0.8h-0.8zM113.0 559.2h0.8v0.8h-0.8zM110.6 562.7h0.8v0.8h-0.8zM116.7 558.9h0.8v0.8h-0.8zM108.7 560.7h0.8v0.8h-0.8zM117.9 556.4h0.8v0.8h-0.8zM116.5 555.4h0.8v0.8h-0.8zM107.3 558.8h0.8v0.8h-0.8zM114.5 555.1h0.8v0.8h-0.8zM113.2 562.9h0.8v0.8h-0.8zM113.4 559.8h0.8v0.8h-0.8zM110.7 566.7h0.8v0.8h-0.8zM114.1 563.6h0.8v0.8h-0.8zM112.6 564.9h0.8v0.8h-0.8zM113.2 559.5h0.8v0.8h-0.8zM109.9 566.9h0.8v0.8h-0.8zM108.4 569.4h0.8v0.8h-0.8zM114.7 563.2h0.8v0.8h-0.8zM119.0 561.6h0.8v0.8h-0.8zM107.9 565.7h0.8v0.8h-0.8zM111.1 559.8h0.8v0.8h-0.8zM113.4 559.3h0.8v0.8h-0.8zM116.7 554.9h0.8v0.8h-0.8zM115.5 563.0h0.8v0.8h-0.8zM112.7 564.0h0.8v0.8h-0.8zM115.8 557.1h0.8v0.8h-0.8zM112.1 560.9h0.8v0.8h-0.8zM117.1 558.5h0.8v0.8h-0.8zM108.8 568.0h0.8v0.8h-0.8zM105.9 563.6h0.8v0.8h-0.8zM105.1 563.8h0.8v0.8h-0.8zM113.3 561.2h0.8v0.8h-0.8zM110.8 557.6h0.8v0.8h-0.8zM115.0 561.2h0.8v0.8h-0.8zM107.4 566.7h0.8v0.8h-0.8zM110.1 560.0h0.8v0.8h-0.8zM110.0 561.8h0.8v0.8h-0.8zM112.3 562.6h0.8v0.8h-0.8zM112.6 560.3h0.8v0.8h-0.8zM111.8 561.5h0.8v0.8h-0.8zM118.6 560.4h0.8v0.8h-0.8zM114.1 556.7h0.8v0.8h-0.8zM117.3 555.8h0.8v0.8h-0.8zM108.6 563.3h0.8v0.8h-0.8zM114.6 559.4h0.8v0.8h-0.8zM111.6 558.6h0.8v0.8h-0.8zM115.2 558.2h0.8v0.8h-0.8zM113.9 562.2h0.8v0.8h-0.8zM115.8 556.5h0.8v0.8h-0.8zM113.8 561.3h0.8v0.8h-0.8zM112.6 560.7h0.8v0.8h-0.8zM113.6 558.6h0.8v0.8h-0.8zM110.3 556.2h0.8v0.8h-0.8zM114.4 563.9h0.8v0.8h-0.8zM110.2 559.6h0.8v0.8h-0.8zM109.6 567.2h0.8v0.8h-0.8zM115.2 563.2h0.8v0.8h-0.8zM117.3 557.3h0.8v0.8h-0.8zM115.9 557.6h0.8v0.8h-0.8zM111.5 559.0h0.8v0.8h-0.8zM112.2 563.7h0.8v0.8h-0.8zM114.2 557.6h0.8v0.8h-0.8zM117.5 558.1h0.8v0.8h-0.8zM108.4 562.2h0.8v0.8h-0.8zM111.0 562.9h0.8v0.8h-0.8zM111.5 559.4h0.8v0.8h-0.8zM114.1 561.9h0.8v0.8h-0.8zM115.6 559.3h0.8v0.8h-0.8zM110.3 559.9h0.8v0.8h-0.8zM111.4 562.7h0.8v0.8h-0.8zM115.5 563.7h0.8v0.8h-0.8zM114.4 558.8h0.8v0.8h-0.8zM106.4 558.2h0.8v0.8h-0.8zM106.0 564.6h0.8v0.8h-0.8zM118.1 561.8h0.8v0.8h-0.8zM115.6 560.0h0.8v0.8h-0.8zM113.5 560.4h0.8v0.8h-0.8zM111.8 558.5h0.8v0.8h-0.8zM112.0 565.7h0.8v0.8h-0.8zM116.4 564.5h0.8v0.8h-0.8zM120.7 562.7h0.8v0.8h-0.8zM114.3 556.7h0.8v0.8h-0.8zM117.4 554.4h0.8v0.8h-0.8zM115.2 557.9h0.8v0.8h-0.8zM111.7 563.2h0.8v0.8h-0.8zM110.3 564.4h0.8v0.8h-0.8zM113.8 557.7h0.8v0.8h-0.8zM110.4 561.9h0.8v0.8h-0.8zM112.4 561.5h0.8v0.8h-0.8zM108.5 563.2h0.8v0.8h-0.8zM106.2 562.7h0.8v0.8h-0.8zM110.6 562.4h0.8v0.8h-0.8zM115.6 557.4h0.8v0.8h-0.8zM116.3 561.7h0.8v0.8h-0.8zM111.2 559.6h0.8v0.8h-0.8zM114.0 561.2h0.8v0.8h-0.8zM109.9 562.2h0.8v0.8h-0.8zM112.8 558.9h0.8v0.8h-0.8zM111.3 560.9h0.8v0.8h-0.8zM114.5 561.0h0.8v0.8h-0.8zM108.0 560.5h0.8v0.8h-0.8zM109.2 566.4h0.8v0.8h-0.8zM112.0 555.1h0.8v0.8h-0.8zM109.7 560.5h0.8v0.8h-0.8zM110.0 566.3h0.8v0.8h-0.8zM113.8 562.5h0.8v0.8h-0.8zM120.3 554.4h0.8v0.8h-0.8zM107.3 560.2h0.8v0.8h-0.8zM119.1 557.4h0.8v0.8h-0.8zM110.3 561.4h0.8v0.8h-0.8zM114.9 564.1h0.8v0.8h-0.8zM116.1 555.1h0.8v0.8h-0.8zM117.7 557.9h0.8v0.8h-0.8zM113.1 562.7h0.8v0.8h-0.8zM117.7 558.2h0.8v0.8h-0.8zM114.4 562.6h0.8v0.8h-0.8zM106.7 566.0h0.8v0.8h-0.8zM114.7 563.6h0.8v0.8h-0.8zM107.9 560.5h0.8v0.8h-0.8zM113.5 558.3h0.8v0.8h-0.8zM113.5 559.2h0.8v0.8h-0.8zM109.1 565.4h0.8v0.8h-0.8zM114.6 557.5h0.8v0.8h-0.8zM108.8 559.5h0.8v0.8h-0.8zM118.9 557.4h0.8v0.8h-0.8zM113.3 558.8h0.8v0.8h-0.8zM113.4 563.6h0.8v0.8h-0.8zM118.7 552.6h0.8v0.8h-0.8zM116.0 561.3h0.8v0.8h-0.8zM114.3 560.3h0.8v0.8h-0.8zM118.6 563.7h0.8v0.8h-0.8zM114.3 558.3h0.8v0.8h-0.8zM108.4 561.1h0.8v0.8h-0.8zM108.6 566.5h0.8v0.8h-0.8zM116.0 559.6h0.8v0.8h-0.8zM120.7 559.1h0.8v0.8h-0.8zM112.5 557.6h0.8v0.8h-0.8zM120.0 558.3h0.8v0.8h-0.8zM111.0 555.6h0.8v0.8h-0.8zM116.5 555.9h0.8v0.8h-0.8zM107.9 565.3h0.8v0.8h-0.8zM119.4 560.2h0.8v0.8h-0.8zM113.7 563.5h0.8v0.8h-0.8zM113.3 560.1h0.8v0.8h-0.8zM112.9 566.1h0.8v0.8h-0.8zM109.9 567.5h0.8v0.8h-0.8zM111.6 559.5h0.8v0.8h-0.8zM110.4 563.0h0.8v0.8h-0.8zM108.4 560.0h0.8v0.8h-0.8zM112.0 561.5h0.8v0.8h-0.8zM113.6 558.5h0.8v0.8h-0.8zM107.1 561.0h0.8v0.8h-0.8zM112.4 561.5h0.8v0.8h-0.8zM111.6 561.3h0.8v0.8h-0.8zM115.2 560.9h0.8v0.8h-0.8zM117.0 561.2h0.8v0.8h-0.8zM111.4 558.4h0.8v0.8h-0.8zM114.1 559.3h0.8v0.8h-0.8zM113.2 563.1h0.8v0.8h-0.8zM108.2 563.5h0.8v0.8h-0.8zM114.4 563.0h0.8v0.8h-0.8zM112.2 563.5h0.8v0.8h-0.8z" fill="#000" fill-opacity="0.85"/>
<path d="M110.8 580.4h0.8v0.8h-0.8zM107.7 580.3h0.8v0.8h-0.8zM104.3 584.8h0.8v0.8h-0.8zM97.4 577.9h0.8v0.8h-0.8zM105.7 576.8h0.8v0.8h-0.8zM102.2 582.5h0.8v0.8h-0.8zM110.6 584.4h0.8v0.8h-0.8zM99.4 585.6h0.8v0.8h-0.8zM100.4 585.4h0.8v0.8h-0.8zM104.6 583.7h0.8v0.8h-0.8zM97.0 584.9h0.8v0.8h-0.8zM104.7 581.6h0.8v0.8h-0.8zM108.1 580.2h0.8v0.8h-0.8zM93.8 579.7h0.8v0.8h-0.8zM97.7 586.8h0.8v0.8h-0.8zM102.0 577.7h0.8v0.8h-0.8zM99.2 582.8h0.8v0.8h-0.8zM96.9 579.0h0.8v0.8h-0.8zM101.6 587.3h0.8v0.8h-0.8zM103.4 583.1h0.8v0.8h-0.8zM100.5 586.7h0.8v0.8h-0.8zM99.9 584.7h0.8v0.8h-0.8zM109.4 577.7h0.8v0.8h-0.8zM102.3 583.3h0.8v0.8h-0.8zM96.9 576.3h0.8v0.8h-0.8zM98.8 578.1h0.8v0.8h-0.8zM109.4 577.8h0.8v0.8h-0.8zM107.3 582.7h0.8v0.8h-0.8zM98.0 586.7h0.8v0.8h-0.8zM107.6 583.9h0.8v0.8h-0.8zM100.1 580.1h0.8v0.8h-0.8zM98.1 581.4h0.8v0.8h-0.8zM98.3 580.1h0.8v0.8h-0.8zM107.3 578.8h0.8v0.8h-0.8zM104.2 581.5h0.8v0.8h-0.8zM100.8 581.1h0.8v0.8h-0.8zM101.2 578.2h0.8v0.8h-0.8zM100.4 585.8h0.8v0.8h-0.8zM104.4 577.4h0.8v0.8h-0.8zM98.0 585.8h0.8v0.8h-0.8zM96.6 582.5h0.8v0.8h-0.8zM99.6 579.5h0.8v0.8h-0.8zM102.3 583.7h0.8v0.8h-0.8zM99.4 583.8h0.8v0.8h-0.8zM104.0 583.3h0.8v0.8h-0.8zM97.5 590.1h0.8v0.8h-0.8zM98.1 583.5h0.8v0.8h-0.8zM96.9 584.9h0.8v0.8h-0.8zM111.7 580.1h0.8v0.8h-0.8zM98.9 581.4h0.8v0.8h-0.8zM104.6 580.8h0.8v0.8h-0.8zM104.2 582.9h0.8v0.8h-0.8zM104.3 582.7h0.8v0.8h-0.8zM104.1 580.0h0.8v0.8h-0.8zM99.4 583.3h0.8v0.8h-0.8zM101.9 583.6h0.8v0.8h-0.8zM100.2 585.0h0.8v0.8h-0.8zM96.0 573.8h0.8v0.8h-0.8zM105.6 584.3h0.8v0.8h-0.8zM109.7 580.9h0.8v0.8h-0.8zM98.1 586.1h0.8v0.8h-0.8zM97.9 578.5h0.8v0.8h-0.8zM96.7 588.6h0.8v0.8h-0.8zM98.5 582.3h0.8v0.8h-0.8zM104.2 583.4h0.8v0.8h-0.8zM103.7 574.8h0.8v0.8h-0.8zM107.2 584.0h0.8v0.8h-0.8zM104.0 581.8h0.8v0.8h-0.8zM98.0 579.6h0.8v0.8h-0.8zM97.9 585.5h0.8v0.8h-0.8zM97.8 584.8h0.8v0.8h-0.8zM102.6 590.0h0.8v0.8h-0.8zM109.1 581.1h0.8v0.8h-0.8zM105.4 583.7h0.8v0.8h-0.8zM105.1 581.3h0.8v0.8h-0.8zM101.0 581.9h0.8v0.8h-0.8zM97.1 586.7h0.8v0.8h-0.8zM99.8 582.3h0.8v0.8h-0.8zM98.8 585.0h0.8v0.8h-0.8zM103.1 574.8h0.8v0.8h-0.8zM93.5 582.2h0.8v0.8h-0.8zM92.0 591.4h0.8v0.8h-0.8zM97.3 576.7h0.8v0.8h-0.8zM107.9 584.3h0.8v0.8h-0.8zM96.7 579.5h0.8v0.8h-0.8zM104.5 579.4h0.8v0.8h-0.8zM108.1 582.6h0.8v0.8h-0.8zM107.9 588.9h0.8v0.8h-0.8zM106.4 578.1h0.8v0.8h-0.8zM103.0 577.0h0.8v0.8h-0.8zM106.8 577.7h0.8v0.8h-0.8zM110.5 589.2h0.8v0.8h-0.8zM102.6 583.6h0.8v0.8h-0.8zM101.7 577.1h0.8v0.8h-0.8zM103.9 579.4h0.8v0.8h-0.8zM109.5 575.8h0.8v0.8h-0.8zM101.5 581.8h0.8v0.8h-0.8zM101.4 578.9h0.8v0.8h-0.8zM106.0 582.8h0.8v0.8h-0.8zM106.0 579.4h0.8v0.8h-0.8zM92.2 588.0h0.8v0.8h-0.8zM99.8 579.6h0.8v0.8h-0.8zM100.4 586.7h0.8v0.8h-0.8zM93.8 584.2h0.8v0.8h-0.8zM99.6 581.3h0.8v0.8h-0.8zM106.9 575.4h0.8v0.8h-0.8zM99.4 583.2h0.8v0.8h-0.8zM93.3 587.8h0.8v0.8h-0.8zM102.7 584.9h0.8v0.8h-0.8zM97.3 578.6h0.8v0.8h-0.8zM103.6 578.3h0.8v0.8h-0.8zM100.9 580.0h0.8v0.8h-0.8zM110.2 580.3h0.8v0.8h-0.8zM105.7 587.8h0.8v0.8h-0.8zM101.1 585.4h0.8v0.8h-0.8zM102.6 581.1h0.8v0.8h-0.8zM106.4 579.6h0.8v0.8h-0.8zM106.9 580.8h0.8v0.8h-0.8zM105.6 582.5h0.8v0.8h-0.8zM95.7 584.7h0.8v0.8h-0.8zM113.0 589.1h0.8v0.8h-0.8zM104.2 582.5h0.8v0.8h-0.8zM102.2 582.0h0.8v0.8h-0.8zM103.8 579.9h0.8v0.8h-0.8zM109.4 579.5h0.8v0.8h-0.8zM101.4 583.9h0.8v0.8h-0.8zM99.2 583.7h0.8v0.8h-0.8zM108.2 581.5h0.8v0.8h-0.8zM103.7 584.7h0.8v0.8h-0.8zM96.0 581.7h0.8v0.8h-0.8zM101.7 586.0h0.8v0.8h-0.8zM103.7 588.3h0.8v0.8h-0.8zM109.9 575.8h0.8v0.8h-0.8zM96.4 587.5h0.8v0.8h-0.8zM101.9 588.2h0.8v0.8h-0.8zM104.9 580.2h0.8v0.8h-0.8zM118.1 581.0h0.8v0.8h-0.8zM93.2 583.0h0.8v0.8h-0.8zM105.6 575.3h0.8v0.8h-0.8zM105.9 582.1h0.8v0.8h-0.8zM97.1 589.5h0.8v0.8h-0.8zM100.9 580.1h0.8v0.8h-0.8zM109.8 583.7h0.8v0.8h-0.8zM102.8 581.2h0.8v0.8h-0.8zM101.6 583.8h0.8v0.8h-0.8zM101.5 582.6h0.8v0.8h-0.8zM100.4 584.2h0.8v0.8h-0.8zM116.0 579.4h0.8v0.8h-0.8zM111.3 584.8h0.8v0.8h-0.8zM100.3 579.5h0.8v0.8h-0.8zM99.6 585.5h0.8v0.8h-0.8zM102.8 586.4h0.8v0.8h-0.8zM108.0 583.1h0.8v0.8h-0.8zM99.0 583.5h0.8v0.8h-0.8zM105.9 579.6h0.8v0.8h-0.8zM95.1 580.9h0.8v0.8h-0.8zM100.0 578.2h0.8v0.8h-0.8zM97.4 585.0h0.8v0.8h-0.8zM101.6 581.0h0.8v0.8h-0.8zM92.3 583.5h0.8v0.8h-0.8zM97.1 585.4h0.8v0.8h-0.8zM96.9 578.4h0.8v0.8h-0.8zM100.6 587.0h0.8v0.8h-0.8zM103.4 577.0h0.8v0.8h-0.8zM110.5 590.0h0.8v0.8h-0.8zM99.7 587.4h0.8v0.8h-0.8zM110.1 580.5h0.8v0.8h-0.8zM102.6 582.6h0.8v0.8h-0.8zM100.8 585.9h0.8v0.8h-0.8zM99.4 580.3h0.8v0.8h-0.8zM101.0 575.6h0.8v0.8h-0.8zM117.5 577.7h0.8v0.8h-0.8zM106.2 581.4h0.8v0.8h-0.8zM111.2 581.4h0.8v0.8h-0.8zM105.7 579.7h0.8v0.8h-0.8zM101.7 579.5h0.8v0.8h-0.8zM91.9 588.3h0.8v0.8h-0.8zM105.2 577.8h0.8v0.8h-0.8zM100.3 582.2h0.8v0.8h-0.8zM96.3 588.4h0.8v0.8h-0.8zM105.7 581.1h0.8v0.8h-0.8zM101.2 582.1h0.8v0.8h-0.8zM107.8 585.1h0.8v0.8h-0.8zM105.9 584.3h0.8v0.8h-0.8zM107.3 578.1h0.8v0.8h-0.8zM101.1 581.3h0.8v0.8h-0.8zM95.8 584.0h0.8v0.8h-0.8zM96.6 584.8h0.8v0.8h-0.8zM109.3 581.0h0.8v0.8h-0.8zM99.2 587.8h0.8v0.8h-0.8zM104.7 588.8h0.8v0.8h-0.8zM93.5 587.3h0.8v0.8h-0.8zM98.0 583.4h0.8v0.8h-0.8zM98.8 584.6h0.8v0.8h-0.8zM97.2 583.5h0.8v0.8h-0.8zM104.8 593.6h0.8v0.8h-0.8zM107.8 578.8h0.8v0.8h-0.8zM92.6 583.4h0.8v0.8h-0.8zM97.7 581.2h0.8v0.8h-0.8zM93.1 585.7h0.8v0.8h-0.8zM107.5 581.2h0.8v0.8h-0.8zM108.7 581.6h0.8v0.8h-0.8zM107.8 580.3h0.8v0.8h-0.8zM106.2 582.7h0.8v0.8h-0.8zM105.7 580.1h0.8v0.8h-0.8zM97.5 588.6h0.8v0.8h-0.8zM104.1 583.7h0.8v0.8h-0.8zM96.9 586.6h0.8v0.8h-0.8zM104.2 583.8h0.8v0.8h-0.8zM106.3 581.4h0.8v0.8h-0.8zM98.0 586.8h0.8v0.8h-0.8zM102.0 586.3h0.8v0.8h-0.8zM102.1 579.2h0.8v0.8h-0.8zM98.4 577.7h0.8v0.8h-0.8zM108.6 576.6h0.8v0.8h-0.8zM96.1 580.7h0.8v0.8h-0.8zM96.2 589.7h0.8v0.8h-0.8zM105.1 583.9h0.8v0.8h-0.8zM107.5 582.8h0.8v0.8h-0.8zM107.1 577.0h0.8v0.8h-0.8zM112.9 578.2h0.8v0.8h-0.8zM105.6 581.4h0.8v0.8h-0.8zM101.2 582.5h0.8v0.8h-0.8zM102.4 576.7h0.8v0.8h-0.8zM108.9 578.0h0.8v0.8h-0.8zM99.3 584.3h0.8v0.8h-0.8zM100.9 587.1h0.8v0.8h-0.8zM103.1 579.6h0.8v0.8h-0.8zM94.7 584.3h0.8v0.8h-0.8zM105.1 586.3h0.8v0.8h-0.8zM102.5 585.1h0.8v0.8h-0.8zM108.7 587.7h0.8v0.8h-0.8zM106.7 580.9h0.8v0.8h-0.8zM96.6 581.6h0.8v0.8h-0.8zM104.7 585.1h0.8v0.8h-0.8zM96.2 585.3h0.8v0.8h-0.8zM99.6 583.8h0.8v0.8h-0.8zM99.7 580.0h0.8v0.8h-0.8zM102.7 578.8h0.8v0.8h-0.8zM104.0 579.2h0.8v0.8h-0.8zM101.6 588.4h0.8v0.8h-0.8zM101.8 582.1h0.8v0.8h-0.8zM97.4 582.2h0.8v0.8h-0.8zM111.5 580.8h0.8v0.8h-0.8zM95.4 576.9h0.8v0.8h-0.8zM106.3 582.8h0.8v0.8h-0.8zM97.5 582.5h0.8v0.8h-0.8zM106.5 582.6h0.8v0.8h-0.8zM97.4 585.7h0.8v0.8h-0.8zM97.7 585.2h0.8v0.8h-0.8zM94.5 585.2h0.8v0.8h-0.8zM103.7 585.5h0.8v0.8h-0.8zM105.2 575.5h0.8v0.8h-0.8zM101.9 574.1h0.8v0.8h-0.8zM92.8 586.5h0.8v0.8h-0.8zM102.2 578.7h0.8v0.8h-0.8zM101.3 578.3h0.8v0.8h-0.8zM99.2 582.4h0.8v0.8h-0.8zM100.7 579.4h0.8v0.8h-0.8zM97.3 585.9h0.8v0.8h-0.8zM99.6 573.3h0.8v0.8h-0.8zM105.9 576.5h0.8v0.8h-0.8zM102.1 586.4h0.8v0.8h-0.8zM98.0 581.4h0.8v0.8h-0.8zM105.3 579.0h0.8v0.8h-0.8zM104.8 584.6h0.8v0.8h-0.8zM111.1 574.2h0.8v0.8h-0.8zM95.5 586.7h0.8v0.8h-0.8zM100.0 582.3h0.8v0.8h-0.8zM109.8 575.1h0.8v0.8h-0.8zM104.8 579.7h0.8v0.8h-0.8zM92.5 584.2h0.8v0.8h-0.8zM106.5 574.7h0.8v0.8h-0.8zM110.1 580.4h0.8v0.8h-0.8zM101.2 584.0h0.8v0.8h-0.8zM100.1 582.8h0.8v0.8h-0.8zM101.7 585.8h0.8v0.8h-0.8zM99.2 585.1h0.8v0.8h-0.8zM96.3 584.9h0.8v0.8h-0.8zM105.1 582.9h0.8v0.8h-0.8zM101.9 582.8h0.8v0.8h-0.8zM105.1 588.2h0.8v0.8h-0.8zM99.5 586.0h0.8v0.8h-0.8zM101.9 578.3h0.8v0.8h-0.8zM107.7 581.3h0.8v0.8h-0.8zM101.7 586.2h0.8v0.8h-0.8zM94.2 583.7h0.8v0.8h-0.8zM101.8 590.0h0.8v0.8h-0.8zM109.9 576.9h0.8v0.8h-0.8zM93.7 581.6h0.8v0.8h-0.8zM109.4 580.6h0.8v0.8h-0.8zM98.3 584.7h0.8v0.8h-0.8zM99.0 580.2h0.8v0.8h-0.8zM103.7 580.3h0.8v0.8h-0.8zM103.2 585.6h0.8v0.8h-0.8zM104.3 582.5h0.8v0.8h-0.8zM99.5 580.6h0.8v0.8h-0.8zM109.0 583.3h0.8v0.8h-0.8zM105.2 576.9h0.8v0.8h-0.8zM98.5 581.5h0.8v0.8h-0.8zM108.5 576.0h0.8v0.8h-0.8zM102.9 577.5h0.8v0.8h-0.8zM104.4 585.1h0.8v0.8h-0.8zM98.1 587.1h0.8v0.8h-0.8zM105.0 582.7h0.8v0.8h-0.8zM99.4 582.6h0.8v0.8h-0.8zM106.9 583.8h0.8v0.8h-0.8zM94.1 587.6h0.8v0.8h-0.8zM108.4 578.9h0.8v0.8h-0.8zM97.8 580.9h0.8v0.8h-0.8zM97.6 581.8h0.8v0.8h-0.8zM105.2 577.6h0.8v0.8h-0.8zM103.8 585.1h0.8v0.8h-0.8zM102.6 581.1h0.8v0.8h-0.8zM110.5 578.2h0.8v0.8h-0.8zM98.1 583.7h0.8v0.8h-0.8zM103.4 584.8h0.8v0.8h-0.8zM99.3 578.2h0.8v0.8h-0.8zM97.3 584.1h0.8v0.8h-0.8zM100.1 583.9h0.8v0.8h-0.8zM98.0 587.6h0.8v0.8h-0.8zM114.6 577.7h0.8v0.8h-0.8zM107.8 580.1h0.8v0.8h-0.8zM102.1 586.3h0.8v0.8h-0.8zM103.4 586.3h0.8v0.8h-0.8zM113.4 579.3h0.8v0.8h-0.8zM110.0 575.3h0.8v0.8h-0.8zM100.6 580.8h0.8v0.8h-0.8zM96.3 581.2h0.8v0.8h-0.8zM102.5 578.1h0.8v0.8h-0.8zM102.1 579.0h0.8v0.8h-0.8zM105.2 581.1h0.8v0.8h-0.8zM106.6 580.0h0.8v0.8h-0.8zM104.8 582.5h0.8v0.8h-0.8zM110.3 576.7h0.8v0.8h-0.8zM100.8 583.0h0.8v0.8h-0.8zM102.2 581.7h0.8v0.8h-0.8zM100.8 578.8h0.8v0.8h-0.8zM101.8 582.7h0.8v0.8h-0.8zM94.5 579.1h0.8v0.8h-0.8zM93.2 588.1h0.8v0.8h-0.8zM105.0 583.7h0.8v0.8h-0.8zM99.6 584.1h0.8v0.8h-0.8zM108.2 579.2h0.8v0.8h-0.8zM109.4 579.0h0.8v0.8h-0.8zM106.0 583.1h0.8v0.8h-0.8zM103.0 578.7h0.8v0.8h-0.8zM103.7 588.5h0.8v0.8h-0.8zM104.3 589.8h0.8v0.8h-0.8zM104.2 581.5h0.8v0.8h-0.8zM109.1 578.9h0.8v0.8h-0.8zM93.0 583.8h0.8v0.8h-0.8zM101.7 589.1h0.8v0.8h-0.8zM102.8 588.8h0.8v0.8h-0.8zM110.5 577.0h0.8v0.8h-0.8zM106.8 583.2h0.8v0.8h-0.8zM106.1 578.3h0.8v0.8h-0.8zM105.0 584.7h0.8v0.8h-0.8zM103.9 582.3h0.8v0.8h-0.8zM101.5 582.0h0.8v0.8h-0.8zM99.2 585.0h0.8v0.8h-0.8zM102.4 578.7h0.8v0.8h-0.8zM96.2 586.4h0.8v0.8h-0.8zM106.3 583.8h0.8v0.8h-0.8zM105.2 584.1h0.8v0.8h-0.8zM103.6 573.4h0.8v0.8h-0.8zM110.2 576.7h0.8v0.8h-0.8zM107.7 580.6h0.8v0.8h-0.8zM99.9 585.6h0.8v0.8h-0.8zM95.2 586.2h0.8v0.8h-0.8zM109.0 579.3h0.8v0.8h-0.8zM110.8 580.4h0.8v0.8h-0.8zM108.3 577.3h0.8v0.8h-0.8zM100.8 572.6h0.8v0.8h-0.8zM105.3 579.2h0.8v0.8h-0.8zM96.8 581.6h0.8v0.8h-0.8zM96.8 583.8h0.8v0.8h-0.8zM106.8 580.4h0.8v0.8h-0.8zM113.1 578.7h0.8v0.8h-0.8zM102.2 580.8h0.8v0.8h-0.8zM93.5 579.9h0.8v0.8h-0.8zM95.8 580.9h0.8v0.8h-0.8zM97.3 584.4h0.8v0.8h-0.8zM101.6 583.6h0.8v0.8h-0.8zM101.8 584.5h0.8v0.8h-0.8zM98.3 585.1h0.8v0.8h-0.8zM100.3 593.2h0.8v0.8h-0.8zM104.1 584.7h0.8v0.8h-0.8zM103.2 578.5h0.8v0.8h-0.8zM108.9 580.6h0.8v0.8h-0.8zM99.1 588.6h0.8v0.8h-0.8zM101.0 585.3h0.8v0.8h-0.8zM95.0 584.7h0.8v0.8h-0.8zM103.8 582.3h0.8v0.8h-0.8zM101.6 579.6h0.8v0.8h-0.8zM109.8 576.2h0.8v0.8h-0.8zM100.1 582.6h0.8v0.8h-0.8zM102.4 582.6h0.8v0.8h-0.8zM95.8 582.4h0.8v0.8h-0.8zM100.3 579.5h0.8v0.8h-0.8zM109.3 574.9h0.8v0.8h-0.8zM98.5 579.6h0.8v0.8h-0.8zM106.9 578.1h0.8v0.8h-0.8zM112.9 577.6h0.8v0.8h-0.8zM106.9 581.8h0.8v0.8h-0.8zM97.3 589.3h0.8v0.8h-0.8zM96.1 581.9h0.8v0.8h-0.8zM112.6 577.1h0.8v0.8h-0.8zM97.8 580.9h0.8v0.8h-0.8zM106.2 587.6h0.8v0.8h-0.8zM96.4 576.9h0.8v0.8h-0.8zM93.3 590.6h0.8v0.8h-0.8zM106.4 581.6h0.8v0.8h-0.8zM109.6 576.7h0.8v0.8h-0.8zM105.3 583.7h0.8v0.8h-0.8zM105.3 585.7h0.8v0.8h-0.8zM98.1 579.2h0.8v0.8h-0.8zM101.0 583.3h0.8v0.8h-0.8zM99.1 590.5h0.8v0.8h-0.8zM99.9 578.2h0.8v0.8h-0.8zM97.2 582.3h0.8v0.8h-0.8zM105.7 580.8h0.8v0.8h-0.8zM102.1 582.6h0.8v0.8h-0.8zM100.4 585.3h0.8v0.8h-0.8zM98.5 585.6h0.8v0.8h-0.8zM101.8 577.9h0.8v0.8h-0.8zM106.4 577.4h0.8v0.8h-0.8zM101.0 586.0h0.8v0.8h-0.8zM100.3 580.9h0.8v0.8h-0.8zM95.6 575.9h0.8v0.8h-0.8zM99.2 577.8h0.8v0.8h-0.8zM102.4 581.4h0.8v0.8h-0.8zM97.1 582.9h0.8v0.8h-0.8zM105.5 583.9h0.8v0.8h-0.8zM110.2 580.1h0.8v0.8h-0.8zM106.9 582.0h0.8v0.8h-0.8zM118.0 581.7h0.8v0.8h-0.8zM104.4 585.5h0.8v0.8h-0.8zM106.5 580.6h0.8v0.8h-0.8zM101.5 582.7h0.8v0.8h-0.8zM106.3 576.8h0.8v0.8h-0.8zM107.9 580.4h0.8v0.8h-0.8zM107.0 582.6h0.8v0.8h-0.8zM101.8 579.8h0.8v0.8h-0.8zM103.7 577.7h0.8v0.8h-0.8zM107.8 584.7h0.8v0.8h-0.8zM106.6 578.0h0.8v0.8h-0.8zM105.5 586.8h0.8v0.8h-0.8zM101.0 582.8h0.8v0.8h-0.8zM104.1 580.1h0.8v0.8h-0.8zM101.3 580.2h0.8v0.8h-0.8zM96.8 585.5h0.8v0.8h-0.8zM102.9 586.3h0.8v0.8h-0.8zM106.5 579.9h0.8v0.8h-0.8zM110.6 584.3h0.8v0.8h-0.8zM107.6 577.3h0.8v0.8h-0.8zM106.3 581.0h0.8v0.8h-0.8zM104.6 585.3h0.8v0.8h-0.8zM108.4 587.4h0.8v0.8h-0.8zM104.1 580.9h0.8v0.8h-0.8zM103.2 578.2h0.8v0.8h-0.8zM96.5 583.9h0.8v0.8h-0.8zM99.6 586.4h0.8v0.8h-0.8zM97.8 582.2h0.8v0.8h-0.8zM104.1 584.6h0.8v0.8h-0.8zM106.6 584.8h0.8v0.8h-0.8zM93.7 583.8h0.8v0.8h-0.8zM96.3 580.6h0.8v0.8h-0.8zM104.2 584.8h0.8v0.8h-0.8zM110.8 582.3h0.8v0.8h-0.8zM107.7 577.0h0.8v0.8h-0.8zM97.7 583.8h0.8v0.8h-0.8zM93.2 584.2h0.8v0.8h-0.8zM95.5 584.9h0.8v0.8h-0.8zM105.8 581.7h0.8v0.8h-0.8zM102.5 586.0h0.8v0.8h-0.8zM101.6 583.8h0.8v0.8h-0.8zM102.1 587.3h0.8v0.8h-0.8zM99.4 586.0h0.8v0.8h-0.8zM95.2 584.2h0.8v0.8h-0.8zM95.1 581.3h0.8v0.8h-0.8zM106.6 576.8h0.8v0.8h-0.8zM96.9 585.8h0.8v0.8h-0.8zM109.3 581.5h0.8v0.8h-0.8zM106.0 581.5h0.8v0.8h-0.8z" fill="#000" fill-opacity="0.85"/>
<path d="M112.5 561.9h0.8v0.8h-0.8zM108.3 567.2h0.8v0.8h-0.8zM111.5 569.3h0.8v0.8h-0.8zM114.0 564.1h0.8v0.8h-0.8zM108.7 564.9h0.8v0.8h-0.8zM107.8 568.4h0.8v0.8h-0.8zM113.9 558.8h0.8v0.8h-0.8zM107.3 564.7h0.8v0.8h-0.8zM111.3 563.1h0.8v0.8h-0.8zM105.8 580.2h0.8v0.8h-0.8zM109.7 567.5h0.8v0.8h-0.8zM106.6 569.6h0.8v0.8h-0.8zM104.5 576.1h0.8v0.8h-0.8zM103.0 569.2h0.8v0.8h-0.8zM112.5 569.9h0.8v0.8h-0.8zM104.1 574.8h0.8v0.8h-0.8zM107.6 576.0h0.8v0.8h-0.8zM102.5 574.4h0.8v0.8h-0.8zM102.2 573.2h0.8v0.8h-0.8zM110.3 565.6h0.8v0.8h-0.8zM103.6 569.4h0.8v0.8h-0.8zM104.4 578.6h0.8v0.8h-0.8zM107.2 574.7h0.8v0.8h-0.8zM103.5 571.8h0.8v0.8h-0.8zM99.9 576.0h0.8v0.8h-0.8zM101.5 580.1h0.8v0.8h-0.8zM108.9 567.3h0.8v0.8h-0.8zM102.0 578.8h0.8v0.8h-0.8zM106.0 566.4h0.8v0.8h-0.8zM109.3 569.1h0.8v0.8h-0.8zM102.2 587.1h0.8v0.8h-0.8zM102.4 577.1h0.8v0.8h-0.8zM105.5 573.5h0.8v0.8h-0.8zM113.1 563.7h0.8v0.8h-0.8zM105.7 573.1h0.8v0.8h-0.8zM109.7 566.9h0.8v0.8h-0.8zM109.5 567.1h0.8v0.8h-0.8zM108.5 571.5h0.8v0.8h-0.8zM104.6 573.8h0.8v0.8h-0.8zM107.9 563.0h0.8v0.8h-0.8zM106.7 576.8h0.8v0.8h-0.8zM110.5 569.9h0.8v0.8h-0.8zM111.1 562.5h0.8v0.8h-0.8zM100.1 580.9h0.8v0.8h-0.8zM111.1 565.9h0.8v0.8h-0.8zM106.1 573.7h0.8v0.8h-0.8zM112.0 566.8h0.8v0.8h-0.8zM105.2 569.0h0.8v0.8h-0.8zM108.5 572.0h0.8v0.8h-0.8zM109.2 577.8h0.8v0.8h-0.8zM110.5 570.1h0.8v0.8h-0.8zM107.7 564.9h0.8v0.8h-0.8zM114.8 572.0h0.8v0.8h-0.8zM105.8 582.1h0.8v0.8h-0.8zM107.4 566.8h0.8v0.8h-0.8zM108.1 569.7h0.8v0.8h-0.8zM114.4 562.0h0.8v0.8h-0.8zM107.6 574.0h0.8v0.8h-0.8zM113.4 572.6h0.8v0.8h-0.8zM107.8 559.8h0.8v0.8h-0.8zM107.8 574.8h0.8v0.8h-0.8zM108.4 569.9h0.8v0.8h-0.8zM105.2 573.3h0.8v0.8h-0.8zM106.0 559.6h0.8v0.8h-0.8zM102.7 569.1h0.8v0.8h-0.8zM108.2 574.4h0.8v0.8h-0.8zM114.5 571.3h0.8v0.8h-0.8zM105.5 574.1h0.8v0.8h-0.8zM99.9 582.9h0.8v0.8h-0.8zM107.0 574.5h0.8v0.8h-0.8zM103.3 575.7h0.8v0.8h-0.8zM111.2 565.1h0.8v0.8h-0.8zM111.1 565.6h0.8v0.8h-0.8zM110.6 567.2h0.8v0.8h-0.8zM107.1 567.0h0.8v0.8h-0.8zM105.0 572.1h0.8v0.8h-0.8zM110.6 567.9h0.8v0.8h-0.8zM111.8 569.9h0.8v0.8h-0.8zM107.2 580.0h0.8v0.8h-0.8zM112.1 566.1h0.8v0.8h-0.8zM101.2 580.9h0.8v0.8h-0.8zM99.9 581.6h0.8v0.8h-0.8zM108.6 569.9h0.8v0.8h-0.8zM96.8 581.6h0.8v0.8h-0.8zM109.7 567.6h0.8v0.8h-0.8zM100.0 574.1h0.8v0.8h-0.8zM108.3 572.0h0.8v0.8h-0.8zM109.4 565.6h0.8v0.8h-0.8zM108.1 565.9h0.8v0.8h-0.8zM103.8 569.2h0.8v0.8h-0.8zM108.5 568.4h0.8v0.8h-0.8zM105.8 560.7h0.8v0.8h-0.8zM108.5 570.9h0.8v0.8h-0.8zM106.0 569.6h0.8v0.8h-0.8zM109.1 571.7h0.8v0.8h-0.8zM110.8 569.0h0.8v0.8h-0.8zM108.6 570.4h0.8v0.8h-0.8zM104.8 568.1h0.8v0.8h-0.8zM104.3 572.4h0.8v0.8h-0.8zM108.8 569.2h0.8v0.8h-0.8zM114.8 562.9h0.8v0.8h-0.8zM112.3 565.1h0.8v0.8h-0.8zM103.3 573.0h0.8v0.8h-0.8zM105.0 575.2h0.8v0.8h-0.8zM106.6 570.3h0.8v0.8h-0.8zM110.6 572.9h0.8v0.8h-0.8zM111.7 571.0h0.8v0.8h-0.8zM107.5 572.8h0.8v0.8h-0.8zM108.6 575.2h0.8v0.8h-0.8zM110.4 565.2h0.8v0.8h-0.8zM110.2 577.7h0.8v0.8h-0.8zM109.2 567.9h0.8v0.8h-0.8zM115.5 563.7h0.8v0.8h-0.8zM102.8 576.9h0.8v0.8h-0.8zM109.2 572.3h0.8v0.8h-0.8zM102.4 583.7h0.8v0.8h-0.8zM109.2 566.9h0.8v0.8h-0.8zM108.6 568.3h0.8v0.8h-0.8zM108.2 574.3h0.8v0.8h-0.8zM115.4 561.6h0.8v0.8h-0.8zM104.4 574.8h0.8v0.8h-0.8zM104.0 571.7h0.8v0.8h-0.8zM109.4 564.9h0.8v0.8h-0.8zM105.0 575.3h0.8v0.8h-0.8zM106.8 569.8h0.8v0.8h-0.8zM106.2 574.4h0.8v0.8h-0.8zM106.6 572.6h0.8v0.8h-0.8zM104.7 568.0h0.8v0.8h-0.8zM99.2 582.2h0.8v0.8h-0.8zM103.1 576.4h0.8v0.8h-0.8zM108.4 564.0h0.8v0.8h-0.8zM108.2 570.7h0.8v0.8h-0.8zM107.4 572.4h0.8v0.8h-0.8zM107.3 575.0h0.8v0.8h-0.8zM104.9 566.4h0.8v0.8h-0.8zM112.1 566.6h0.8v0.8h-0.8zM105.4 568.5h0.8v0.8h-0.8zM105.6 574.8h0.8v0.8h-0.8zM105.4 572.7h0.8v0.8h-0.8zM107.5 567.5h0.8v0.8h-0.8zM109.8 571.1h0.8v0.8h-0.8zM109.5 566.9h0.8v0.8h-0.8zM104.5 576.8h0.8v0.8h-0.8zM103.0 564.7h0.8v0.8h-0.8zM106.9 572.2h0.8v0.8h-0.8zM108.2 578.3h0.8v0.8h-0.8zM109.2 578.9h0.8v0.8h-0.8zM103.5 582.7h0.8v0.8h-0.8zM99.2 578.9h0.8v0.8h-0.8zM104.3 571.2h0.8v0.8h-0.8zM109.3 572.6h0.8v0.8h-0.8zM100.2 571.7h0.8v0.8h-0.8zM103.4 567.5h0.8v0.8h-0.8zM102.9 571.7h0.8v0.8h-0.8zM107.2 568.8h0.8v0.8h-0.8zM106.5 564.9h0.8v0.8h-0.8zM105.0 572.0h0.8v0.8h-0.8zM105.8 576.4h0.8v0.8h-0.8zM110.5 570.7h0.8v0.8h-0.8zM104.1 577.1h0.8v0.8h-0.8zM112.6 560.6h0.8v0.8h-0.8zM106.8 576.1h0.8v0.8h-0.8zM108.3 573.5h0.8v0.8h-0.8zM105.3 571.1h0.8v0.8h-0.8zM106.3 579.3h0.8v0.8h-0.8zM103.3 580.1h0.8v0.8h-0.8zM106.8 573.9h0.8v0.8h-0.8zM103.7 580.8h0.8v0.8h-0.8zM107.5 573.7h0.8v0.8h-0.8zM107.3 566.3h0.8v0.8h-0.8zM110.2 568.8h0.8v0.8h-0.8zM109.3 575.3h0.8v0.8h-0.8zM102.9 573.3h0.8v0.8h-0.8zM102.9 583.5h0.8v0.8h-0.8zM109.7 567.3h0.8v0.8h-0.8zM105.3 572.6h0.8v0.8h-0.8zM108.7 571.2h0.8v0.8h-0.8zM104.8 572.3h0.8v0.8h-0.8zM103.7 570.1h0.8v0.8h-0.8zM103.3 577.9h0.8v0.8h-0.8zM108.2 567.2h0.8v0.8h-0.8zM109.8 571.6h0.8v0.8h-0.8zM104.9 562.8h0.8v0.8h-0.8zM107.0 571.3h0.8v0.8h-0.8zM105.9 573.4h0.8v0.8h-0.8zM108.2 579.3h0.8v0.8h-0.8zM107.7 568.0h0.8v0.8h-0.8zM103.7 573.4h0.8v0.8h-0.8zM107.0 574.5h0.8v0.8h-0.8zM111.6 575.2h0.8v0.8h-0.8zM103.5 571.4h0.8v0.8h-0.8zM111.9 565.9h0.8v0.8h-0.8zM102.8 570.5h0.8v0.8h-0.8zM105.6 569.1h0.8v0.8h-0.8zM108.5 568.7h0.8v0.8h-0.8zM106.8 568.8h0.8v0.8h-0.8zM105.9 570.0h0.8v0.8h-0.8zM105.5 569.1h0.8v0.8h-0.8zM108.7 566.3h0.8v0.8h-0.8zM107.3 576.7h0.8v0.8h-0.8zM101.6 573.9h0.8v0.8h-0.8zM107.3 570.1h0.8v0.8h-0.8zM107.1 570.2h0.8v0.8h-0.8zM111.7 568.6h0.8v0.8h-0.8zM106.6 567.6h0.8v0.8h-0.8zM108.3 573.4h0.8v0.8h-0.8zM105.1 573.9h0.8v0.8h-0.8zM109.3 571.3h0.8v0.8h-0.8zM105.6 569.9h0.8v0.8h-0.8zM108.9 569.3h0.8v0.8h-0.8zM108.8 571.2h0.8v0.8h-0.8zM104.0 576.6h0.8v0.8h-0.8zM105.7 572.9h0.8v0.8h-0.8zM108.3 569.4h0.8v0.8h-0.8zM106.7 571.8h0.8v0.8h-0.8zM108.4 573.7h0.8v0.8h-0.8zM107.1 570.8h0.8v0.8h-0.8zM104.3 571.5h0.8v0.8h-0.8zM114.5 572.2h0.8v0.8h-0.8zM106.7 564.7h0.8v0.8h-0.8z" fill="#000" fill-opacity="0.7"/>
<path d="M120.1 577.5h0.7v0.7h-0.7zM123.8 565.4h0.7v0.7h-0.7zM105.6 561.8h0.7v0.7h-0.7zM120.5 571.2h0.7v0.7h-0.7zM115.4 585.8h0.7v0.7h-0.7zM110.2 591.8h0.7v0.7h-0.7zM113.9 590.4h0.7v0.7h-0.7zM101.7 565.5h0.7v0.7h-0.7zM111.5 583.8h0.7v0.7h-0.7zM104.5 562.4h0.7v0.7h-0.7zM118.8 574.5h0.7v0.7h-0.7zM101.3 567.7h0.7v0.7h-0.7zM102.0 577.9h0.7v0.7h-0.7zM106.9 577.7h0.7v0.7h-0.7zM115.6 572.9h0.7v0.7h-0.7zM113.9 568.9h0.7v0.7h-0.7zM108.0 577.0h0.7v0.7h-0.7zM103.0 575.2h0.7v0.7h-0.7zM98.6 585.0h0.7v0.7h-0.7zM112.1 573.9h0.7v0.7h-0.7zM105.0 558.5h0.7v0.7h-0.7zM119.1 563.2h0.7v0.7h-0.7zM110.9 565.8h0.7v0.7h-0.7zM114.9 576.6h0.7v0.7h-0.7zM111.9 567.4h0.7v0.7h-0.7zM95.5 576.9h0.7v0.7h-0.7zM103.4 578.5h0.7v0.7h-0.7zM104.5 592.6h0.7v0.7h-0.7zM94.9 578.6h0.7v0.7h-0.7zM105.8 568.3h0.7v0.7h-0.7zM100.5 580.4h0.7v0.7h-0.7zM97.2 573.8h0.7v0.7h-0.7zM111.6 583.4h0.7v0.7h-0.7zM109.0 568.6h0.7v0.7h-0.7zM95.1 580.6h0.7v0.7h-0.7zM102.4 566.3h0.7v0.7h-0.7zM120.3 581.8h0.7v0.7h-0.7zM109.1 571.0h0.7v0.7h-0.7zM117.5 590.3h0.7v0.7h-0.7zM93.6 578.6h0.7v0.7h-0.7zM126.8 581.6h0.7v0.7h-0.7zM103.8 571.9h0.7v0.7h-0.7zM105.3 565.9h0.7v0.7h-0.7zM117.0 576.4h0.7v0.7h-0.7zM119.6 561.3h0.7v0.7h-0.7zM118.8 593.1h0.7v0.7h-0.7zM116.1 579.3h0.7v0.7h-0.7zM110.6 570.7h0.7v0.7h-0.7zM104.0 581.7h0.7v0.7h-0.7zM100.5 574.7h0.7v0.7h-0.7zM109.0 583.8h0.7v0.7h-0.7zM96.8 578.5h0.7v0.7h-0.7zM111.1 576.4h0.7v0.7h-0.7zM110.9 563.8h0.7v0.7h-0.7zM105.8 563.9h0.7v0.7h-0.7zM113.8 576.6h0.7v0.7h-0.7zM118.7 570.3h0.7v0.7h-0.7zM100.1 585.6h0.7v0.7h-0.7zM107.1 569.5h0.7v0.7h-0.7zM109.5 565.4h0.7v0.7h-0.7zM108.4 579.3h0.7v0.7h-0.7zM114.9 583.3h0.7v0.7h-0.7zM103.0 583.9h0.7v0.7h-0.7zM118.6 564.1h0.7v0.7h-0.7zM98.7 561.3h0.7v0.7h-0.7zM99.3 562.7h0.7v0.7h-0.7zM106.4 570.1h0.7v0.7h-0.7zM97.6 566.7h0.7v0.7h-0.7zM105.7 567.1h0.7v0.7h-0.7zM120.9 576.7h0.7v0.7h-0.7zM116.5 559.7h0.7v0.7h-0.7zM100.9 569.4h0.7v0.7h-0.7zM110.3 580.2h0.7v0.7h-0.7zM110.0 573.3h0.7v0.7h-0.7zM102.3 577.5h0.7v0.7h-0.7zM122.6 580.3h0.7v0.7h-0.7zM108.7 572.3h0.7v0.7h-0.7zM111.5 581.2h0.7v0.7h-0.7zM113.3 582.0h0.7v0.7h-0.7zM118.0 553.7h0.7v0.7h-0.7zM100.2 571.5h0.7v0.7h-0.7zM102.8 571.2h0.7v0.7h-0.7zM102.0 572.7h0.7v0.7h-0.7zM99.6 575.2h0.7v0.7h-0.7zM98.2 571.5h0.7v0.7h-0.7zM102.0 569.9h0.7v0.7h-0.7zM103.7 581.4h0.7v0.7h-0.7zM106.4 574.6h0.7v0.7h-0.7zM100.9 566.1h0.7v0.7h-0.7zM113.6 591.8h0.7v0.7h-0.7zM100.7 561.6h0.7v0.7h-0.7zM108.9 584.9h0.7v0.7h-0.7zM101.7 573.5h0.7v0.7h-0.7zM123.9 576.6h0.7v0.7h-0.7zM115.4 583.3h0.7v0.7h-0.7zM105.9 565.8h0.7v0.7h-0.7zM116.9 562.4h0.7v0.7h-0.7zM115.8 575.9h0.7v0.7h-0.7zM107.7 562.6h0.7v0.7h-0.7zM106.4 574.8h0.7v0.7h-0.7zM112.5 581.4h0.7v0.7h-0.7zM94.8 573.7h0.7v0.7h-0.7zM109.1 586.5h0.7v0.7h-0.7zM103.8 569.0h0.7v0.7h-0.7zM113.2 570.4h0.7v0.7h-0.7zM110.2 569.2h0.7v0.7h-0.7zM110.0 566.3h0.7v0.7h-0.7zM101.3 588.4h0.7v0.7h-0.7zM98.0 584.8h0.7v0.7h-0.7zM105.9 575.1h0.7v0.7h-0.7zM107.1 580.4h0.7v0.7h-0.7zM110.3 576.1h0.7v0.7h-0.7zM100.0 570.3h0.7v0.7h-0.7zM106.0 568.0h0.7v0.7h-0.7zM126.7 577.9h0.7v0.7h-0.7zM109.0 559.7h0.7v0.7h-0.7zM102.9 577.6h0.7v0.7h-0.7zM112.6 573.7h0.7v0.7h-0.7zM104.9 573.8h0.7v0.7h-0.7zM102.5 592.7h0.7v0.7h-0.7zM117.1 568.6h0.7v0.7h-0.7zM118.7 579.6h0.7v0.7h-0.7zM123.9 566.2h0.7v0.7h-0.7zM115.7 577.4h0.7v0.7h-0.7zM106.2 575.2h0.7v0.7h-0.7zM100.9 582.2h0.7v0.7h-0.7zM107.9 588.5h0.7v0.7h-0.7zM115.9 573.1h0.7v0.7h-0.7zM95.0 573.8h0.7v0.7h-0.7zM114.8 583.3h0.7v0.7h-0.7zM93.8 568.4h0.7v0.7h-0.7zM92.9 566.9h0.7v0.7h-0.7zM108.2 570.8h0.7v0.7h-0.7zM109.8 565.7h0.7v0.7h-0.7zM99.5 571.7h0.7v0.7h-0.7zM101.0 571.0h0.7v0.7h-0.7zM93.2 582.3h0.7v0.7h-0.7zM111.7 582.3h0.7v0.7h-0.7zM108.7 575.5h0.7v0.7h-0.7zM117.6 579.9h0.7v0.7h-0.7zM120.8 574.3h0.7v0.7h-0.7zM109.3 577.3h0.7v0.7h-0.7zM104.7 594.1h0.7v0.7h-0.7zM103.5 589.6h0.7v0.7h-0.7zM106.0 572.8h0.7v0.7h-0.7zM117.4 570.3h0.7v0.7h-0.7zM127.5 578.7h0.7v0.7h-0.7zM106.3 572.6h0.7v0.7h-0.7zM101.4 579.8h0.7v0.7h-0.7zM111.8 585.9h0.7v0.7h-0.7zM117.3 565.7h0.7v0.7h-0.7zM105.3 571.8h0.7v0.7h-0.7zM121.5 559.6h0.7v0.7h-0.7zM121.6 554.9h0.7v0.7h-0.7zM106.2 574.4h0.7v0.7h-0.7zM120.6 568.6h0.7v0.7h-0.7zM136.8 574.1h0.7v0.7h-0.7zM107.1 571.8h0.7v0.7h-0.7zM112.2 572.9h0.7v0.7h-0.7zM101.1 579.3h0.7v0.7h-0.7zM113.3 581.1h0.7v0.7h-0.7zM108.3 570.5h0.7v0.7h-0.7zM106.5 570.2h0.7v0.7h-0.7zM122.1 589.3h0.7v0.7h-0.7zM109.2 575.8h0.7v0.7h-0.7zM101.2 568.5h0.7v0.7h-0.7zM106.3 584.9h0.7v0.7h-0.7zM111.6 570.0h0.7v0.7h-0.7zM103.4 570.5h0.7v0.7h-0.7zM111.8 574.2h0.7v0.7h-0.7zM114.3 587.2h0.7v0.7h-0.7z" fill="#000" fill-opacity="0.5"/>
<path d="M173.3 588.5h0.8v0.8h-0.8zM164.7 590.1h0.8v0.8h-0.8zM164.0 580.9h0.8v0.8h-0.8zM170.4 584.6h0.8v0.8h-0.8zM171.5 586.6h0.8v0.8h-0.8zM172.0 586.6h0.8v0.8h-0.8zM171.0 585.1h0.8v0.8h-0.8zM167.3 586.2h0.8v0.8h-0.8zM167.2 581.6h0.8v0.8h-0.8zM167.2 590.8h0.8v0.8h-0.8zM172.1 585.2h0.8v0.8h-0.8zM170.5 584.6h0.8v0.8h-0.8zM172.2 586.5h0.8v0.8h-0.8zM167.0 587.8h0.8v0.8h-0.8zM166.9 588.0h0.8v0.8h-0.8zM164.5 590.5h0.8v0.8h-0.8zM168.8 590.4h0.8v0.8h-0.8zM171.0 581.8h0.8v0.8h-0.8zM170.7 587.2h0.8v0.8h-0.8zM170.5 587.7h0.8v0.8h-0.8zM167.0 579.7h0.8v0.8h-0.8zM166.9 585.8h0.8v0.8h-0.8zM163.1 587.0h0.8v0.8h-0.8zM163.7 584.2h0.8v0.8h-0.8zM169.6 585.0h0.8v0.8h-0.8zM175.8 590.6h0.8v0.8h-0.8zM163.8 584.0h0.8v0.8h-0.8zM177.7 580.5h0.8v0.8h-0.8zM170.0 587.6h0.8v0.8h-0.8zM171.7 586.8h0.8v0.8h-0.8zM164.4 584.6h0.8v0.8h-0.8zM167.5 584.8h0.8v0.8h-0.8zM172.6 586.3h0.8v0.8h-0.8zM166.5 589.1h0.8v0.8h-0.8zM164.6 581.8h0.8v0.8h-0.8zM169.7 585.9h0.8v0.8h-0.8zM175.0 586.4h0.8v0.8h-0.8zM175.6 582.9h0.8v0.8h-0.8zM161.3 587.5h0.8v0.8h-0.8zM166.6 584.8h0.8v0.8h-0.8zM174.3 588.5h0.8v0.8h-0.8zM162.1 584.9h0.8v0.8h-0.8zM165.6 587.5h0.8v0.8h-0.8zM169.1 589.9h0.8v0.8h-0.8zM162.9 586.5h0.8v0.8h-0.8zM161.3 586.5h0.8v0.8h-0.8zM175.8 589.6h0.8v0.8h-0.8zM169.6 589.2h0.8v0.8h-0.8zM168.0 586.0h0.8v0.8h-0.8zM168.3 585.6h0.8v0.8h-0.8zM165.8 585.5h0.8v0.8h-0.8zM164.7 581.7h0.8v0.8h-0.8zM170.3 583.6h0.8v0.8h-0.8zM166.6 591.3h0.8v0.8h-0.8zM170.1 578.6h0.8v0.8h-0.8zM175.2 581.8h0.8v0.8h-0.8zM173.1 585.8h0.8v0.8h-0.8zM163.5 578.2h0.8v0.8h-0.8zM164.7 586.2h0.8v0.8h-0.8zM170.6 586.7h0.8v0.8h-0.8zM171.8 588.1h0.8v0.8h-0.8zM173.2 591.1h0.8v0.8h-0.8zM171.6 589.6h0.8v0.8h-0.8zM167.0 588.5h0.8v0.8h-0.8zM169.7 589.2h0.8v0.8h-0.8zM169.2 580.9h0.8v0.8h-0.8zM165.2 585.7h0.8v0.8h-0.8zM164.8 592.2h0.8v0.8h-0.8zM173.5 588.0h0.8v0.8h-0.8zM169.6 581.0h0.8v0.8h-0.8zM166.5 587.9h0.8v0.8h-0.8zM165.8 580.4h0.8v0.8h-0.8zM170.0 588.4h0.8v0.8h-0.8zM168.6 584.4h0.8v0.8h-0.8zM172.6 582.2h0.8v0.8h-0.8zM170.9 593.9h0.8v0.8h-0.8zM164.9 590.1h0.8v0.8h-0.8zM165.9 585.9h0.8v0.8h-0.8zM166.7 587.3h0.8v0.8h-0.8zM165.9 576.7h0.8v0.8h-0.8zM170.7 586.4h0.8v0.8h-0.8zM163.0 587.3h0.8v0.8h-0.8zM162.6 588.2h0.8v0.8h-0.8zM170.3 585.4h0.8v0.8h-0.8zM170.6 589.2h0.8v0.8h-0.8zM163.8 580.5h0.8v0.8h-0.8zM177.0 584.9h0.8v0.8h-0.8zM161.5 582.4h0.8v0.8h-0.8zM168.4 584.8h0.8v0.8h-0.8zM175.7 585.4h0.8v0.8h-0.8zM164.5 580.6h0.8v0.8h-0.8zM164.6 589.1h0.8v0.8h-0.8zM165.7 587.9h0.8v0.8h-0.8zM164.5 587.5h0.8v0.8h-0.8zM169.8 581.7h0.8v0.8h-0.8zM172.6 590.5h0.8v0.8h-0.8zM165.7 577.4h0.8v0.8h-0.8zM168.0 585.3h0.8v0.8h-0.8zM175.3 591.8h0.8v0.8h-0.8zM165.8 582.0h0.8v0.8h-0.8zM169.4 584.5h0.8v0.8h-0.8zM169.4 583.2h0.8v0.8h-0.8zM176.0 586.7h0.8v0.8h-0.8zM168.4 585.1h0.8v0.8h-0.8zM163.7 577.0h0.8v0.8h-0.8zM171.9 582.0h0.8v0.8h-0.8zM172.1 579.7h0.8v0.8h-0.8zM169.3 587.8h0.8v0.8h-0.8zM161.8 590.6h0.8v0.8h-0.8zM171.0 587.5h0.8v0.8h-0.8zM171.4 587.6h0.8v0.8h-0.8zM169.8 587.3h0.8v0.8h-0.8zM170.8 583.0h0.8v0.8h-0.8zM163.5 586.9h0.8v0.8h-0.8zM179.7 587.2h0.8v0.8h-0.8zM160.8 579.6h0.8v0.8h-0.8zM172.0 589.4h0.8v0.8h-0.8zM169.5 579.4h0.8v0.8h-0.8zM161.7 589.3h0.8v0.8h-0.8zM173.4 582.3h0.8v0.8h-0.8zM168.1 583.0h0.8v0.8h-0.8zM163.0 582.2h0.8v0.8h-0.8zM170.0 591.2h0.8v0.8h-0.8zM173.2 589.9h0.8v0.8h-0.8zM167.6 585.9h0.8v0.8h-0.8zM165.0 591.4h0.8v0.8h-0.8zM164.3 588.5h0.8v0.8h-0.8zM166.6 585.9h0.8v0.8h-0.8zM163.6 586.2h0.8v0.8h-0.8zM167.9 582.7h0.8v0.8h-0.8zM175.8 586.6h0.8v0.8h-0.8zM167.9 584.7h0.8v0.8h-0.8zM170.9 591.9h0.8v0.8h-0.8zM166.5 588.4h0.8v0.8h-0.8zM160.9 580.9h0.8v0.8h-0.8zM167.6 584.7h0.8v0.8h-0.8zM164.5 581.6h0.8v0.8h-0.8zM165.1 580.0h0.8v0.8h-0.8zM176.2 587.2h0.8v0.8h-0.8zM169.9 589.4h0.8v0.8h-0.8zM168.2 586.3h0.8v0.8h-0.8zM170.7 589.2h0.8v0.8h-0.8zM167.3 581.7h0.8v0.8h-0.8zM161.0 589.0h0.8v0.8h-0.8zM163.4 581.8h0.8v0.8h-0.8zM165.4 583.7h0.8v0.8h-0.8zM171.5 584.4h0.8v0.8h-0.8zM170.4 593.5h0.8v0.8h-0.8zM161.5 587.5h0.8v0.8h-0.8zM165.1 585.5h0.8v0.8h-0.8zM165.2 587.9h0.8v0.8h-0.8zM164.2 587.1h0.8v0.8h-0.8zM170.9 585.6h0.8v0.8h-0.8zM166.5 581.3h0.8v0.8h-0.8zM168.3 592.0h0.8v0.8h-0.8zM169.1 593.4h0.8v0.8h-0.8zM173.5 585.0h0.8v0.8h-0.8zM160.3 589.3h0.8v0.8h-0.8zM167.1 584.5h0.8v0.8h-0.8zM160.3 583.4h0.8v0.8h-0.8zM168.2 578.8h0.8v0.8h-0.8zM166.9 593.5h0.8v0.8h-0.8zM168.3 581.9h0.8v0.8h-0.8zM169.3 581.7h0.8v0.8h-0.8zM169.3 590.6h0.8v0.8h-0.8zM170.6 579.4h0.8v0.8h-0.8zM171.5 576.0h0.8v0.8h-0.8zM169.8 576.4h0.8v0.8h-0.8zM164.9 586.9h0.8v0.8h-0.8zM166.0 588.6h0.8v0.8h-0.8zM164.6 588.5h0.8v0.8h-0.8zM172.8 587.9h0.8v0.8h-0.8zM164.8 583.6h0.8v0.8h-0.8zM170.1 578.9h0.8v0.8h-0.8zM167.6 584.1h0.8v0.8h-0.8zM166.2 591.3h0.8v0.8h-0.8zM168.6 583.2h0.8v0.8h-0.8zM162.4 581.9h0.8v0.8h-0.8zM169.1 583.9h0.8v0.8h-0.8zM168.8 580.6h0.8v0.8h-0.8zM169.4 585.2h0.8v0.8h-0.8zM166.8 576.4h0.8v0.8h-0.8zM169.4 583.0h0.8v0.8h-0.8zM163.9 583.6h0.8v0.8h-0.8zM164.3 588.2h0.8v0.8h-0.8zM171.6 587.3h0.8v0.8h-0.8zM174.6 580.7h0.8v0.8h-0.8zM170.7 590.7h0.8v0.8h-0.8zM170.4 584.1h0.8v0.8h-0.8zM165.5 589.8h0.8v0.8h-0.8zM167.0 591.1h0.8v0.8h-0.8zM168.7 581.8h0.8v0.8h-0.8zM175.9 575.7h0.8v0.8h-0.8zM169.9 591.0h0.8v0.8h-0.8zM173.1 589.4h0.8v0.8h-0.8zM171.9 586.7h0.8v0.8h-0.8zM168.1 580.0h0.8v0.8h-0.8zM166.1 586.8h0.8v0.8h-0.8zM170.0 580.9h0.8v0.8h-0.8zM170.0 592.8h0.8v0.8h-0.8zM167.3 579.8h0.8v0.8h-0.8zM161.9 588.2h0.8v0.8h-0.8zM170.2 587.5h0.8v0.8h-0.8zM165.9 581.9h0.8v0.8h-0.8zM167.9 586.0h0.8v0.8h-0.8zM170.3 591.7h0.8v0.8h-0.8zM173.7 587.1h0.8v0.8h-0.8zM164.8 587.9h0.8v0.8h-0.8zM161.8 592.6h0.8v0.8h-0.8zM172.8 584.6h0.8v0.8h-0.8zM169.9 581.2h0.8v0.8h-0.8zM173.0 576.8h0.8v0.8h-0.8zM165.6 590.0h0.8v0.8h-0.8zM166.4 591.4h0.8v0.8h-0.8zM168.2 592.8h0.8v0.8h-0.8zM170.4 584.7h0.8v0.8h-0.8zM167.5 584.5h0.8v0.8h-0.8zM169.9 585.7h0.8v0.8h-0.8zM175.9 589.6h0.8v0.8h-0.8zM165.5 586.5h0.8v0.8h-0.8zM164.0 579.8h0.8v0.8h-0.8zM163.6 586.4h0.8v0.8h-0.8zM173.6 579.0h0.8v0.8h-0.8zM172.0 589.5h0.8v0.8h-0.8zM176.6 583.3h0.8v0.8h-0.8zM175.4 592.8h0.8v0.8h-0.8zM163.2 578.4h0.8v0.8h-0.8zM168.3 582.8h0.8v0.8h-0.8zM166.9 585.3h0.8v0.8h-0.8zM167.0 580.6h0.8v0.8h-0.8zM166.9 590.3h0.8v0.8h-0.8zM170.6 583.9h0.8v0.8h-0.8zM164.7 586.6h0.8v0.8h-0.8zM169.4 583.3h0.8v0.8h-0.8zM174.1 584.7h0.8v0.8h-0.8zM171.4 585.4h0.8v0.8h-0.8zM166.1 587.7h0.8v0.8h-0.8zM168.1 583.9h0.8v0.8h-0.8zM174.9 589.5h0.8v0.8h-0.8zM171.1 578.3h0.8v0.8h-0.8zM165.9 583.4h0.8v0.8h-0.8zM167.8 592.4h0.8v0.8h-0.8zM169.3 587.9h0.8v0.8h-0.8zM171.1 578.6h0.8v0.8h-0.8zM168.3 588.1h0.8v0.8h-0.8zM171.1 585.0h0.8v0.8h-0.8zM163.1 577.8h0.8v0.8h-0.8zM170.3 586.6h0.8v0.8h-0.8zM165.4 584.6h0.8v0.8h-0.8zM173.0 585.3h0.8v0.8h-0.8zM173.9 582.8h0.8v0.8h-0.8zM167.7 588.3h0.8v0.8h-0.8zM163.5 584.8h0.8v0.8h-0.8zM171.1 584.4h0.8v0.8h-0.8zM166.7 588.6h0.8v0.8h-0.8zM168.3 579.6h0.8v0.8h-0.8zM165.9 584.2h0.8v0.8h-0.8zM164.3 582.1h0.8v0.8h-0.8zM169.4 582.2h0.8v0.8h-0.8zM165.1 592.2h0.8v0.8h-0.8zM177.6 586.0h0.8v0.8h-0.8zM169.1 579.0h0.8v0.8h-0.8zM164.9 586.5h0.8v0.8h-0.8zM166.0 590.3h0.8v0.8h-0.8zM173.9 592.6h0.8v0.8h-0.8zM171.0 582.9h0.8v0.8h-0.8zM171.2 578.5h0.8v0.8h-0.8zM175.7 579.0h0.8v0.8h-0.8zM176.0 585.7h0.8v0.8h-0.8zM173.8 578.0h0.8v0.8h-0.8zM167.1 583.2h0.8v0.8h-0.8zM164.2 581.9h0.8v0.8h-0.8zM168.3 587.8h0.8v0.8h-0.8zM170.4 580.3h0.8v0.8h-0.8zM170.5 588.8h0.8v0.8h-0.8zM166.2 583.0h0.8v0.8h-0.8zM166.7 593.5h0.8v0.8h-0.8zM163.2 583.5h0.8v0.8h-0.8zM165.4 584.9h0.8v0.8h-0.8zM173.1 586.2h0.8v0.8h-0.8zM169.8 593.3h0.8v0.8h-0.8zM164.2 586.0h0.8v0.8h-0.8zM173.6 583.0h0.8v0.8h-0.8zM170.4 579.4h0.8v0.8h-0.8zM165.6 579.0h0.8v0.8h-0.8zM164.7 589.0h0.8v0.8h-0.8zM166.4 592.6h0.8v0.8h-0.8zM164.6 587.5h0.8v0.8h-0.8zM167.5 584.4h0.8v0.8h-0.8zM176.6 586.6h0.8v0.8h-0.8zM170.9 590.0h0.8v0.8h-0.8zM164.3 588.0h0.8v0.8h-0.8zM168.5 590.9h0.8v0.8h-0.8zM171.1 586.2h0.8v0.8h-0.8zM170.5 579.8h0.8v0.8h-0.8zM165.1 584.4h0.8v0.8h-0.8zM170.3 585.6h0.8v0.8h-0.8zM178.6 582.2h0.8v0.8h-0.8zM164.1 589.8h0.8v0.8h-0.8zM160.9 588.4h0.8v0.8h-0.8zM160.6 589.0h0.8v0.8h-0.8zM175.3 586.8h0.8v0.8h-0.8zM168.7 587.4h0.8v0.8h-0.8zM164.2 583.0h0.8v0.8h-0.8zM169.1 587.5h0.8v0.8h-0.8zM162.3 589.5h0.8v0.8h-0.8zM162.3 583.2h0.8v0.8h-0.8zM170.2 590.3h0.8v0.8h-0.8zM168.4 585.5h0.8v0.8h-0.8zM170.1 586.0h0.8v0.8h-0.8zM175.0 579.2h0.8v0.8h-0.8zM164.6 584.7h0.8v0.8h-0.8zM162.6 589.8h0.8v0.8h-0.8zM164.4 582.8h0.8v0.8h-0.8zM165.0 581.8h0.8v0.8h-0.8zM170.6 584.7h0.8v0.8h-0.8zM168.1 584.1h0.8v0.8h-0.8zM174.9 582.0h0.8v0.8h-0.8zM170.4 584.4h0.8v0.8h-0.8zM167.2 582.3h0.8v0.8h-0.8zM162.0 587.3h0.8v0.8h-0.8zM171.6 587.4h0.8v0.8h-0.8zM173.9 592.2h0.8v0.8h-0.8zM163.3 582.2h0.8v0.8h-0.8zM164.5 586.0h0.8v0.8h-0.8zM172.4 585.7h0.8v0.8h-0.8zM165.0 588.5h0.8v0.8h-0.8zM166.5 583.1h0.8v0.8h-0.8zM168.7 587.4h0.8v0.8h-0.8zM171.0 574.1h0.8v0.8h-0.8zM169.5 588.1h0.8v0.8h-0.8zM169.8 588.9h0.8v0.8h-0.8zM169.4 588.4h0.8v0.8h-0.8zM169.9 584.4h0.8v0.8h-0.8zM177.2 580.8h0.8v0.8h-0.8zM168.9 583.1h0.8v0.8h-0.8zM161.1 583.7h0.8v0.8h-0.8zM164.9 585.4h0.8v0.8h-0.8zM163.3 581.0h0.8v0.8h-0.8zM166.7 583.4h0.8v0.8h-0.8zM171.4 586.9h0.8v0.8h-0.8zM166.9 581.2h0.8v0.8h-0.8zM171.4 585.2h0.8v0.8h-0.8zM168.7 584.4h0.8v0.8h-0.8zM168.4 586.8h0.8v0.8h-0.8zM165.4 576.5h0.8v0.8h-0.8zM166.0 588.0h0.8v0.8h-0.8zM170.4 587.2h0.8v0.8h-0.8zM166.8 587.2h0.8v0.8h-0.8zM164.3 583.6h0.8v0.8h-0.8zM174.1 588.0h0.8v0.8h-0.8zM164.3 587.2h0.8v0.8h-0.8zM170.5 583.1h0.8v0.8h-0.8zM168.9 583.5h0.8v0.8h-0.8zM169.9 584.9h0.8v0.8h-0.8zM176.9 577.1h0.8v0.8h-0.8zM165.0 589.5h0.8v0.8h-0.8zM163.0 579.8h0.8v0.8h-0.8zM166.8 591.3h0.8v0.8h-0.8zM167.4 585.8h0.8v0.8h-0.8zM164.2 577.9h0.8v0.8h-0.8zM164.0 586.7h0.8v0.8h-0.8zM163.1 580.3h0.8v0.8h-0.8zM168.2 584.8h0.8v0.8h-0.8zM161.1 576.9h0.8v0.8h-0.8zM166.2 583.5h0.8v0.8h-0.8zM165.3 587.1h0.8v0.8h-0.8zM174.6 583.7h0.8v0.8h-0.8zM165.4 588.6h0.8v0.8h-0.8zM169.9 586.2h0.8v0.8h-0.8zM171.7 579.8h0.8v0.8h-0.8zM163.2 575.8h0.8v0.8h-0.8zM162.5 593.4h0.8v0.8h-0.8zM167.9 584.8h0.8v0.8h-0.8zM161.1 586.2h0.8v0.8h-0.8zM164.7 584.9h0.8v0.8h-0.8zM172.6 584.6h0.8v0.8h-0.8zM164.9 589.3h0.8v0.8h-0.8zM166.7 588.8h0.8v0.8h-0.8zM167.7 584.8h0.8v0.8h-0.8zM169.8 587.4h0.8v0.8h-0.8zM166.3 589.4h0.8v0.8h-0.8zM175.1 590.5h0.8v0.8h-0.8zM169.6 586.3h0.8v0.8h-0.8zM167.5 582.0h0.8v0.8h-0.8zM168.1 590.5h0.8v0.8h-0.8zM171.1 585.7h0.8v0.8h-0.8zM162.2 588.7h0.8v0.8h-0.8zM167.1 584.4h0.8v0.8h-0.8zM162.1 581.4h0.8v0.8h-0.8zM172.9 583.1h0.8v0.8h-0.8zM162.2 584.6h0.8v0.8h-0.8zM173.2 580.0h0.8v0.8h-0.8zM176.7 578.5h0.8v0.8h-0.8zM160.7 590.9h0.8v0.8h-0.8zM161.5 578.9h0.8v0.8h-0.8zM165.6 580.4h0.8v0.8h-0.8zM167.9 581.2h0.8v0.8h-0.8zM165.7 576.8h0.8v0.8h-0.8zM170.7 590.1h0.8v0.8h-0.8zM163.4 582.0h0.8v0.8h-0.8zM169.4 582.1h0.8v0.8h-0.8zM171.4 586.7h0.8v0.8h-0.8zM174.5 582.8h0.8v0.8h-0.8zM173.5 584.1h0.8v0.8h-0.8zM171.8 583.9h0.8v0.8h-0.8zM161.6 583.0h0.8v0.8h-0.8zM166.5 587.2h0.8v0.8h-0.8zM171.2 589.4h0.8v0.8h-0.8zM167.2 589.2h0.8v0.8h-0.8zM173.6 580.9h0.8v0.8h-0.8zM173.1 587.4h0.8v0.8h-0.8zM164.9 585.4h0.8v0.8h-0.8zM168.7 587.6h0.8v0.8h-0.8zM169.4 577.2h0.8v0.8h-0.8zM160.6 588.8h0.8v0.8h-0.8zM167.4 586.7h0.8v0.8h-0.8zM170.4 582.4h0.8v0.8h-0.8zM165.5 588.5h0.8v0.8h-0.8zM170.6 585.2h0.8v0.8h-0.8zM172.4 588.1h0.8v0.8h-0.8zM168.3 584.8h0.8v0.8h-0.8zM165.5 585.7h0.8v0.8h-0.8zM164.7 591.4h0.8v0.8h-0.8zM163.9 588.1h0.8v0.8h-0.8zM167.5 593.6h0.8v0.8h-0.8zM161.6 583.5h0.8v0.8h-0.8zM167.2 590.4h0.8v0.8h-0.8zM173.6 586.0h0.8v0.8h-0.8zM164.8 585.7h0.8v0.8h-0.8zM171.0 590.4h0.8v0.8h-0.8zM164.8 578.4h0.8v0.8h-0.8zM165.7 575.9h0.8v0.8h-0.8zM167.7 585.8h0.8v0.8h-0.8zM164.3 585.1h0.8v0.8h-0.8zM164.0 582.8h0.8v0.8h-0.8zM181.6 583.3h0.8v0.8h-0.8zM167.8 582.0h0.8v0.8h-0.8zM166.7 587.9h0.8v0.8h-0.8zM170.5 589.4h0.8v0.8h-0.8zM166.2 581.7h0.8v0.8h-0.8zM164.3 585.7h0.8v0.8h-0.8zM162.3 592.2h0.8v0.8h-0.8zM167.5 586.0h0.8v0.8h-0.8zM163.8 582.5h0.8v0.8h-0.8zM172.7 587.4h0.8v0.8h-0.8zM169.0 582.6h0.8v0.8h-0.8zM164.9 590.2h0.8v0.8h-0.8zM161.0 580.5h0.8v0.8h-0.8zM167.5 589.5h0.8v0.8h-0.8zM162.9 590.4h0.8v0.8h-0.8zM166.3 585.0h0.8v0.8h-0.8zM170.6 583.9h0.8v0.8h-0.8zM177.9 586.8h0.8v0.8h-0.8zM167.9 586.7h0.8v0.8h-0.8zM172.4 589.6h0.8v0.8h-0.8zM166.8 581.4h0.8v0.8h-0.8zM164.8 586.2h0.8v0.8h-0.8zM169.6 584.6h0.8v0.8h-0.8zM174.9 589.5h0.8v0.8h-0.8zM172.9 581.0h0.8v0.8h-0.8zM177.3 585.3h0.8v0.8h-0.8zM166.9 587.2h0.8v0.8h-0.8zM167.0 584.8h0.8v0.8h-0.8zM166.5 585.9h0.8v0.8h-0.8zM168.4 584.6h0.8v0.8h-0.8zM171.6 577.5h0.8v0.8h-0.8zM171.5 588.6h0.8v0.8h-0.8zM170.9 586.8h0.8v0.8h-0.8zM171.9 587.5h0.8v0.8h-0.8zM170.9 589.1h0.8v0.8h-0.8zM169.4 580.8h0.8v0.8h-0.8zM175.7 584.8h0.8v0.8h-0.8zM171.2 583.8h0.8v0.8h-0.8zM167.2 578.2h0.8v0.8h-0.8zM176.8 585.4h0.8v0.8h-0.8zM173.3 587.3h0.8v0.8h-0.8zM165.2 576.9h0.8v0.8h-0.8zM167.4 582.1h0.8v0.8h-0.8zM162.4 586.7h0.8v0.8h-0.8zM170.6 588.0h0.8v0.8h-0.8zM171.2 585.5h0.8v0.8h-0.8zM167.9 584.2h0.8v0.8h-0.8zM168.3 587.1h0.8v0.8h-0.8zM165.8 586.8h0.8v0.8h-0.8zM178.1 585.8h0.8v0.8h-0.8zM166.2 587.5h0.8v0.8h-0.8zM169.6 587.2h0.8v0.8h-0.8zM165.9 589.3h0.8v0.8h-0.8zM173.0 588.3h0.8v0.8h-0.8zM172.5 589.9h0.8v0.8h-0.8zM168.9 590.6h0.8v0.8h-0.8zM167.2 583.2h0.8v0.8h-0.8zM172.4 581.7h0.8v0.8h-0.8zM166.3 588.9h0.8v0.8h-0.8zM168.4 584.4h0.8v0.8h-0.8zM170.9 581.5h0.8v0.8h-0.8zM169.1 583.5h0.8v0.8h-0.8zM163.4 594.2h0.8v0.8h-0.8zM172.0 581.6h0.8v0.8h-0.8zM164.9 585.4h0.8v0.8h-0.8zM164.7 588.8h0.8v0.8h-0.8zM163.6 587.1h0.8v0.8h-0.8zM163.9 577.9h0.8v0.8h-0.8zM165.4 579.1h0.8v0.8h-0.8zM171.7 589.0h0.8v0.8h-0.8zM166.7 587.0h0.8v0.8h-0.8zM166.0 592.9h0.8v0.8h-0.8zM172.6 585.5h0.8v0.8h-0.8zM172.6 588.0h0.8v0.8h-0.8zM170.6 588.8h0.8v0.8h-0.8zM172.5 588.7h0.8v0.8h-0.8zM167.2 588.6h0.8v0.8h-0.8zM168.8 588.3h0.8v0.8h-0.8zM168.5 578.0h0.8v0.8h-0.8zM168.5 587.3h0.8v0.8h-0.8zM164.8 584.2h0.8v0.8h-0.8zM173.0 590.0h0.8v0.8h-0.8zM165.2 583.0h0.8v0.8h-0.8zM172.5 583.2h0.8v0.8h-0.8zM164.1 582.5h0.8v0.8h-0.8zM170.6 576.4h0.8v0.8h-0.8zM170.5 589.7h0.8v0.8h-0.8zM165.3 578.7h0.8v0.8h-0.8zM168.6 584.4h0.8v0.8h-0.8zM172.7 591.0h0.8v0.8h-0.8zM164.7 593.2h0.8v0.8h-0.8zM163.0 584.9h0.8v0.8h-0.8zM167.4 586.3h0.8v0.8h-0.8zM162.9 588.0h0.8v0.8h-0.8zM169.4 588.1h0.8v0.8h-0.8zM163.0 583.5h0.8v0.8h-0.8zM166.4 584.1h0.8v0.8h-0.8zM169.3 581.5h0.8v0.8h-0.8zM170.5 585.3h0.8v0.8h-0.8zM175.6 587.7h0.8v0.8h-0.8zM171.0 584.2h0.8v0.8h-0.8zM162.7 587.8h0.8v0.8h-0.8zM163.4 581.9h0.8v0.8h-0.8zM180.7 584.7h0.8v0.8h-0.8zM169.9 585.6h0.8v0.8h-0.8zM164.3 584.8h0.8v0.8h-0.8zM170.4 589.7h0.8v0.8h-0.8zM160.9 593.8h0.8v0.8h-0.8zM177.4 584.8h0.8v0.8h-0.8zM161.7 590.1h0.8v0.8h-0.8zM167.0 585.5h0.8v0.8h-0.8zM166.5 578.9h0.8v0.8h-0.8zM170.3 590.6h0.8v0.8h-0.8zM168.5 582.8h0.8v0.8h-0.8zM163.0 591.1h0.8v0.8h-0.8zM170.5 584.6h0.8v0.8h-0.8zM164.3 585.6h0.8v0.8h-0.8zM172.7 579.4h0.8v0.8h-0.8zM167.4 590.1h0.8v0.8h-0.8zM165.1 587.8h0.8v0.8h-0.8zM168.5 583.7h0.8v0.8h-0.8zM169.4 591.3h0.8v0.8h-0.8zM163.5 585.4h0.8v0.8h-0.8zM168.5 589.0h0.8v0.8h-0.8zM173.0 581.0h0.8v0.8h-0.8zM162.1 584.0h0.8v0.8h-0.8zM170.0 578.5h0.8v0.8h-0.8zM168.6 580.6h0.8v0.8h-0.8zM163.9 587.2h0.8v0.8h-0.8zM175.1 581.5h0.8v0.8h-0.8zM172.8 593.0h0.8v0.8h-0.8zM171.2 588.2h0.8v0.8h-0.8zM169.0 585.8h0.8v0.8h-0.8zM160.7 587.6h0.8v0.8h-0.8zM168.7 587.6h0.8v0.8h-0.8zM170.1 579.1h0.8v0.8h-0.8zM175.6 583.2h0.8v0.8h-0.8zM167.8 588.3h0.8v0.8h-0.8zM165.6 591.4h0.8v0.8h-0.8zM171.4 583.2h0.8v0.8h-0.8zM175.7 585.2h0.8v0.8h-0.8zM164.9 591.1h0.8v0.8h-0.8zM162.1 591.2h0.8v0.8h-0.8zM164.6 580.9h0.8v0.8h-0.8zM164.5 583.8h0.8v0.8h-0.8zM161.7 580.0h0.8v0.8h-0.8zM170.1 591.3h0.8v0.8h-0.8zM166.1 581.1h0.8v0.8h-0.8zM165.1 588.1h0.8v0.8h-0.8zM165.7 593.9h0.8v0.8h-0.8zM169.6 587.1h0.8v0.8h-0.8zM165.0 579.1h0.8v0.8h-0.8zM171.5 586.6h0.8v0.8h-0.8zM175.6 579.4h0.8v0.8h-0.8zM165.8 581.7h0.8v0.8h-0.8zM160.4 586.7h0.8v0.8h-0.8zM173.2 584.7h0.8v0.8h-0.8zM165.0 579.1h0.8v0.8h-0.8zM170.2 581.8h0.8v0.8h-0.8zM178.5 588.4h0.8v0.8h-0.8zM162.3 588.0h0.8v0.8h-0.8zM166.7 584.2h0.8v0.8h-0.8zM172.8 586.6h0.8v0.8h-0.8zM173.0 583.3h0.8v0.8h-0.8zM169.9 582.5h0.8v0.8h-0.8zM161.0 583.1h0.8v0.8h-0.8zM166.9 589.2h0.8v0.8h-0.8zM170.8 584.2h0.8v0.8h-0.8zM170.6 588.8h0.8v0.8h-0.8zM165.4 590.8h0.8v0.8h-0.8zM163.1 588.6h0.8v0.8h-0.8zM170.2 591.6h0.8v0.8h-0.8zM171.0 583.9h0.8v0.8h-0.8zM170.2 586.2h0.8v0.8h-0.8zM166.8 589.4h0.8v0.8h-0.8zM167.6 585.8h0.8v0.8h-0.8zM167.8 586.3h0.8v0.8h-0.8zM165.3 587.7h0.8v0.8h-0.8zM163.2 588.1h0.8v0.8h-0.8zM174.9 585.8h0.8v0.8h-0.8zM166.9 584.6h0.8v0.8h-0.8zM176.8 583.0h0.8v0.8h-0.8zM171.0 592.1h0.8v0.8h-0.8zM161.7 583.9h0.8v0.8h-0.8z" fill="#000" fill-opacity="0.9"/>
<path d="M165.6 581.8h1.3v1.3h-1.3zM166.4 585.8h1.3v1.3h-1.3zM168.5 584.7h1.3v1.3h-1.3zM166.6 590.0h1.3v1.3h-1.3zM166.8 588.0h1.3v1.3h-1.3zM173.1 584.0h1.3v1.3h-1.3zM164.8 582.7h1.3v1.3h-1.3zM166.5 588.7h1.3v1.3h-1.3zM169.1 584.3h1.3v1.3h-1.3zM165.6 587.5h1.3v1.3h-1.3zM170.3 590.9h1.3v1.3h-1.3zM168.6 584.9h1.3v1.3h-1.3zM165.0 586.4h1.3v1.3h-1.3zM173.2 586.0h1.3v1.3h-1.3zM166.4 586.5h1.3v1.3h-1.3zM167.5 586.8h1.3v1.3h-1.3zM161.7 581.1h1.3v1.3h-1.3zM167.2 585.7h1.3v1.3h-1.3zM171.1 581.9h1.3v1.3h-1.3zM164.1 586.8h1.3v1.3h-1.3zM169.3 589.9h1.3v1.3h-1.3zM169.9 585.4h1.3v1.3h-1.3zM166.1 586.8h1.3v1.3h-1.3zM169.0 586.3h1.3v1.3h-1.3zM167.9 585.8h1.3v1.3h-1.3zM166.4 584.8h1.3v1.3h-1.3zM161.7 584.9h1.3v1.3h-1.3zM168.5 583.9h1.3v1.3h-1.3zM171.8 586.9h1.3v1.3h-1.3zM171.2 585.7h1.3v1.3h-1.3zM171.0 587.6h1.3v1.3h-1.3zM164.8 586.1h1.3v1.3h-1.3zM167.6 583.2h1.3v1.3h-1.3zM166.5 587.3h1.3v1.3h-1.3zM169.5 586.5h1.3v1.3h-1.3zM168.3 588.1h1.3v1.3h-1.3zM173.6 586.2h1.3v1.3h-1.3zM170.8 579.2h1.3v1.3h-1.3zM168.4 585.1h1.3v1.3h-1.3zM166.7 580.8h1.3v1.3h-1.3zM171.9 582.8h1.3v1.3h-1.3zM171.4 583.8h1.3v1.3h-1.3zM166.5 587.7h1.3v1.3h-1.3zM166.1 582.6h1.3v1.3h-1.3zM167.8 584.6h1.3v1.3h-1.3zM165.3 589.1h1.3v1.3h-1.3zM166.6 583.3h1.3v1.3h-1.3zM166.3 585.5h1.3v1.3h-1.3zM166.6 581.4h1.3v1.3h-1.3zM168.0 587.6h1.3v1.3h-1.3zM164.1 587.7h1.3v1.3h-1.3zM174.6 586.4h1.3v1.3h-1.3zM173.2 585.0h1.3v1.3h-1.3zM166.2 583.7h1.3v1.3h-1.3zM168.4 585.2h1.3v1.3h-1.3zM171.1 587.8h1.3v1.3h-1.3zM168.1 587.3h1.3v1.3h-1.3zM172.3 587.7h1.3v1.3h-1.3zM170.2 583.0h1.3v1.3h-1.3zM172.5 586.5h1.3v1.3h-1.3zM167.8 583.2h1.3v1.3h-1.3zM169.3 587.5h1.3v1.3h-1.3zM167.9 587.0h1.3v1.3h-1.3zM172.6 584.3h1.3v1.3h-1.3zM165.6 585.6h1.3v1.3h-1.3zM170.8 587.7h1.3v1.3h-1.3zM165.4 588.9h1.3v1.3h-1.3zM169.9 587.6h1.3v1.3h-1.3zM164.4 584.9h1.3v1.3h-1.3zM167.2 587.5h1.3v1.3h-1.3zM169.4 581.9h1.3v1.3h-1.3zM164.8 584.5h1.3v1.3h-1.3zM168.2 592.5h1.3v1.3h-1.3zM171.0 587.0h1.3v1.3h-1.3zM168.8 585.7h1.3v1.3h-1.3zM168.6 582.3h1.3v1.3h-1.3zM164.7 588.9h1.3v1.3h-1.3zM170.7 585.9h1.3v1.3h-1.3zM173.1 584.6h1.3v1.3h-1.3zM163.5 585.4h1.3v1.3h-1.3zM170.6 584.5h1.3v1.3h-1.3zM172.5 588.0h1.3v1.3h-1.3zM162.5 584.6h1.3v1.3h-1.3zM166.9 583.9h1.3v1.3h-1.3zM171.8 586.0h1.3v1.3h-1.3zM165.6 586.2h1.3v1.3h-1.3zM167.1 583.2h1.3v1.3h-1.3zM168.5 584.7h1.3v1.3h-1.3zM170.8 585.8h1.3v1.3h-1.3zM171.0 590.2h1.3v1.3h-1.3zM163.5 580.6h1.3v1.3h-1.3zM166.6 590.2h1.3v1.3h-1.3zM173.7 584.8h1.3v1.3h-1.3zM168.2 584.2h1.3v1.3h-1.3zM169.1 584.8h1.3v1.3h-1.3zM167.0 586.8h1.3v1.3h-1.3zM173.3 590.0h1.3v1.3h-1.3zM163.8 581.9h1.3v1.3h-1.3zM166.2 587.3h1.3v1.3h-1.3zM171.6 579.7h1.3v1.3h-1.3zM168.7 580.4h1.3v1.3h-1.3zM170.9 582.0h1.3v1.3h-1.3zM172.1 583.2h1.3v1.3h-1.3zM169.9 585.6h1.3v1.3h-1.3zM167.0 587.1h1.3v1.3h-1.3zM173.6 584.3h1.3v1.3h-1.3zM166.1 585.0h1.3v1.3h-1.3zM168.8 586.0h1.3v1.3h-1.3zM168.9 587.3h1.3v1.3h-1.3zM169.6 583.8h1.3v1.3h-1.3zM164.3 585.7h1.3v1.3h-1.3zM172.4 584.9h1.3v1.3h-1.3zM167.7 588.3h1.3v1.3h-1.3zM167.1 587.0h1.3v1.3h-1.3zM168.3 582.3h1.3v1.3h-1.3zM165.7 588.4h1.3v1.3h-1.3zM170.8 587.8h1.3v1.3h-1.3zM170.6 580.3h1.3v1.3h-1.3zM166.1 585.1h1.3v1.3h-1.3zM167.9 577.8h1.3v1.3h-1.3zM166.9 587.4h1.3v1.3h-1.3zM169.2 587.5h1.3v1.3h-1.3zM168.4 582.3h1.3v1.3h-1.3zM168.8 587.1h1.3v1.3h-1.3zM170.0 588.6h1.3v1.3h-1.3zM169.6 586.7h1.3v1.3h-1.3zM164.3 588.3h1.3v1.3h-1.3zM170.3 583.9h1.3v1.3h-1.3zM168.8 583.9h1.3v1.3h-1.3zM168.2 587.9h1.3v1.3h-1.3zM164.6 583.3h1.3v1.3h-1.3zM167.9 583.7h1.3v1.3h-1.3zM169.5 586.5h1.3v1.3h-1.3zM170.3 588.2h1.3v1.3h-1.3zM173.0 583.5h1.3v1.3h-1.3zM168.5 582.3h1.3v1.3h-1.3zM167.9 591.2h1.3v1.3h-1.3zM162.3 579.1h1.3v1.3h-1.3zM166.6 584.7h1.3v1.3h-1.3zM170.3 590.2h1.3v1.3h-1.3zM169.8 587.7h1.3v1.3h-1.3zM165.6 586.3h1.3v1.3h-1.3zM174.0 584.3h1.3v1.3h-1.3zM173.6 590.1h1.3v1.3h-1.3zM166.6 585.0h1.3v1.3h-1.3zM169.8 583.6h1.3v1.3h-1.3zM166.1 586.0h1.3v1.3h-1.3zM165.8 585.4h1.3v1.3h-1.3zM169.5 585.3h1.3v1.3h-1.3zM166.0 587.4h1.3v1.3h-1.3zM169.6 582.9h1.3v1.3h-1.3zM167.6 583.8h1.3v1.3h-1.3zM168.1 582.3h1.3v1.3h-1.3zM172.4 581.8h1.3v1.3h-1.3zM165.3 587.7h1.3v1.3h-1.3zM166.2 580.1h1.3v1.3h-1.3zM170.0 588.0h1.3v1.3h-1.3zM168.8 584.2h1.3v1.3h-1.3zM171.9 585.3h1.3v1.3h-1.3zM167.7 585.0h1.3v1.3h-1.3zM165.0 586.4h1.3v1.3h-1.3zM169.7 593.5h1.3v1.3h-1.3zM165.5 584.5h1.3v1.3h-1.3zM170.8 580.5h1.3v1.3h-1.3zM168.0 586.1h1.3v1.3h-1.3zM167.4 587.3h1.3v1.3h-1.3zM170.6 586.7h1.3v1.3h-1.3zM170.4 586.5h1.3v1.3h-1.3zM169.9 582.8h1.3v1.3h-1.3zM169.7 584.0h1.3v1.3h-1.3zM167.3 584.4h1.3v1.3h-1.3zM166.8 585.4h1.3v1.3h-1.3zM167.3 582.7h1.3v1.3h-1.3zM164.4 584.1h1.3v1.3h-1.3zM166.9 585.4h1.3v1.3h-1.3zM162.8 587.6h1.3v1.3h-1.3zM166.0 582.7h1.3v1.3h-1.3zM171.3 583.3h1.3v1.3h-1.3zM168.1 589.2h1.3v1.3h-1.3zM169.0 583.9h1.3v1.3h-1.3zM168.2 587.2h1.3v1.3h-1.3zM170.3 585.0h1.3v1.3h-1.3zM168.2 584.6h1.3v1.3h-1.3zM172.5 586.4h1.3v1.3h-1.3zM169.2 588.1h1.3v1.3h-1.3zM166.6 584.0h1.3v1.3h-1.3zM167.1 584.8h1.3v1.3h-1.3zM168.8 586.0h1.3v1.3h-1.3zM166.0 582.1h1.3v1.3h-1.3zM165.4 585.9h1.3v1.3h-1.3zM170.5 585.1h1.3v1.3h-1.3zM171.9 579.9h1.3v1.3h-1.3zM169.2 580.2h1.3v1.3h-1.3zM164.6 587.2h1.3v1.3h-1.3zM169.4 584.8h1.3v1.3h-1.3zM164.0 584.3h1.3v1.3h-1.3zM169.0 582.3h1.3v1.3h-1.3zM173.1 584.5h1.3v1.3h-1.3zM174.3 585.4h1.3v1.3h-1.3z" fill="#000" fill-opacity="0.95"/>
<path d="M175.8 569.5h0.8v0.8h-0.8zM192.2 561.6h0.8v0.8h-0.8zM187.4 562.1h0.8v0.8h-0.8zM196.1 565.9h0.8v0.8h-0.8zM187.2 558.1h0.8v0.8h-0.8zM187.6 565.9h0.8v0.8h-0.8zM184.6 563.7h0.8v0.8h-0.8zM194.0 560.4h0.8v0.8h-0.8zM194.9 559.3h0.8v0.8h-0.8zM194.8 562.6h0.8v0.8h-0.8zM194.8 560.5h0.8v0.8h-0.8zM200.1 557.2h0.8v0.8h-0.8zM200.2 562.6h0.8v0.8h-0.8zM204.6 554.4h0.8v0.8h-0.8zM190.9 565.0h0.8v0.8h-0.8zM191.3 561.1h0.8v0.8h-0.8zM195.9 565.3h0.8v0.8h-0.8zM203.4 559.4h0.8v0.8h-0.8zM194.2 555.0h0.8v0.8h-0.8zM188.7 567.2h0.8v0.8h-0.8zM187.5 566.9h0.8v0.8h-0.8zM190.7 565.5h0.8v0.8h-0.8zM195.7 558.3h0.8v0.8h-0.8zM202.2 556.1h0.8v0.8h-0.8zM197.0 562.8h0.8v0.8h-0.8zM201.8 562.0h0.8v0.8h-0.8zM194.0 562.6h0.8v0.8h-0.8zM186.7 568.9h0.8v0.8h-0.8zM194.7 561.4h0.8v0.8h-0.8zM189.3 566.3h0.8v0.8h-0.8zM192.9 560.0h0.8v0.8h-0.8zM196.4 564.0h0.8v0.8h-0.8zM182.8 558.9h0.8v0.8h-0.8zM191.5 562.9h0.8v0.8h-0.8zM192.9 562.5h0.8v0.8h-0.8zM185.0 565.9h0.8v0.8h-0.8zM198.6 561.7h0.8v0.8h-0.8zM192.5 561.7h0.8v0.8h-0.8zM192.3 565.2h0.8v0.8h-0.8zM195.3 556.4h0.8v0.8h-0.8zM201.9 557.5h0.8v0.8h-0.8zM187.8 563.7h0.8v0.8h-0.8zM193.6 564.9h0.8v0.8h-0.8zM202.6 556.3h0.8v0.8h-0.8zM198.2 557.2h0.8v0.8h-0.8zM185.5 568.0h0.8v0.8h-0.8zM182.3 571.3h0.8v0.8h-0.8zM188.4 569.0h0.8v0.8h-0.8zM197.1 559.3h0.8v0.8h-0.8zM193.9 563.7h0.8v0.8h-0.8zM178.2 569.5h0.8v0.8h-0.8zM188.4 561.8h0.8v0.8h-0.8zM196.2 563.3h0.8v0.8h-0.8zM208.2 554.1h0.8v0.8h-0.8zM205.5 556.4h0.8v0.8h-0.8zM202.8 559.1h0.8v0.8h-0.8zM197.5 556.1h0.8v0.8h-0.8zM198.2 558.3h0.8v0.8h-0.8zM212.1 548.6h0.8v0.8h-0.8zM200.7 557.6h0.8v0.8h-0.8zM177.0 570.9h0.8v0.8h-0.8zM187.4 561.4h0.8v0.8h-0.8zM200.3 558.8h0.8v0.8h-0.8zM197.3 562.1h0.8v0.8h-0.8zM191.5 561.2h0.8v0.8h-0.8zM182.8 555.5h0.8v0.8h-0.8zM192.4 562.5h0.8v0.8h-0.8zM185.9 558.2h0.8v0.8h-0.8zM193.8 569.6h0.8v0.8h-0.8zM201.3 555.9h0.8v0.8h-0.8zM193.2 565.6h0.8v0.8h-0.8zM191.2 561.3h0.8v0.8h-0.8zM203.1 554.8h0.8v0.8h-0.8zM175.6 562.9h0.8v0.8h-0.8zM197.3 563.3h0.8v0.8h-0.8zM188.2 568.1h0.8v0.8h-0.8zM197.5 559.6h0.8v0.8h-0.8zM199.5 559.9h0.8v0.8h-0.8zM183.4 564.8h0.8v0.8h-0.8zM203.3 555.2h0.8v0.8h-0.8zM189.1 567.1h0.8v0.8h-0.8zM194.0 562.1h0.8v0.8h-0.8zM199.6 561.7h0.8v0.8h-0.8zM186.1 562.6h0.8v0.8h-0.8zM194.6 560.2h0.8v0.8h-0.8zM196.4 562.1h0.8v0.8h-0.8zM184.4 568.4h0.8v0.8h-0.8zM190.9 559.6h0.8v0.8h-0.8zM201.7 558.9h0.8v0.8h-0.8zM192.4 560.8h0.8v0.8h-0.8zM189.2 565.4h0.8v0.8h-0.8zM195.2 564.2h0.8v0.8h-0.8zM180.5 567.6h0.8v0.8h-0.8zM197.8 556.3h0.8v0.8h-0.8zM202.1 555.0h0.8v0.8h-0.8zM189.7 559.9h0.8v0.8h-0.8zM201.8 555.7h0.8v0.8h-0.8zM188.2 568.5h0.8v0.8h-0.8zM189.1 564.4h0.8v0.8h-0.8zM199.0 554.9h0.8v0.8h-0.8zM203.2 558.0h0.8v0.8h-0.8zM188.9 562.8h0.8v0.8h-0.8zM197.3 559.7h0.8v0.8h-0.8zM184.2 568.9h0.8v0.8h-0.8zM188.7 565.5h0.8v0.8h-0.8zM201.0 554.5h0.8v0.8h-0.8zM188.5 559.5h0.8v0.8h-0.8zM200.8 562.2h0.8v0.8h-0.8zM199.3 559.2h0.8v0.8h-0.8zM192.9 556.3h0.8v0.8h-0.8zM198.6 558.2h0.8v0.8h-0.8zM191.9 562.7h0.8v0.8h-0.8zM204.3 558.2h0.8v0.8h-0.8zM196.6 560.3h0.8v0.8h-0.8zM193.5 559.1h0.8v0.8h-0.8zM189.8 564.9h0.8v0.8h-0.8zM195.4 564.6h0.8v0.8h-0.8zM204.4 553.3h0.8v0.8h-0.8zM201.1 559.0h0.8v0.8h-0.8zM191.2 567.2h0.8v0.8h-0.8zM211.6 547.6h0.8v0.8h-0.8zM199.9 559.1h0.8v0.8h-0.8zM205.0 553.6h0.8v0.8h-0.8zM197.4 557.5h0.8v0.8h-0.8zM205.0 556.6h0.8v0.8h-0.8zM199.8 558.5h0.8v0.8h-0.8zM196.2 562.4h0.8v0.8h-0.8zM192.6 567.0h0.8v0.8h-0.8zM190.1 568.4h0.8v0.8h-0.8zM189.8 565.1h0.8v0.8h-0.8zM187.7 566.6h0.8v0.8h-0.8zM198.6 557.9h0.8v0.8h-0.8zM197.3 565.1h0.8v0.8h-0.8zM210.7 552.3h0.8v0.8h-0.8zM202.0 559.7h0.8v0.8h-0.8zM201.0 558.6h0.8v0.8h-0.8zM197.1 562.3h0.8v0.8h-0.8zM199.6 559.8h0.8v0.8h-0.8zM204.9 555.4h0.8v0.8h-0.8zM192.4 560.2h0.8v0.8h-0.8zM191.3 568.5h0.8v0.8h-0.8zM201.0 556.0h0.8v0.8h-0.8zM202.4 559.1h0.8v0.8h-0.8zM188.0 560.2h0.8v0.8h-0.8zM198.1 551.1h0.8v0.8h-0.8zM208.3 558.7h0.8v0.8h-0.8zM187.0 566.2h0.8v0.8h-0.8zM186.1 564.4h0.8v0.8h-0.8zM184.7 568.9h0.8v0.8h-0.8zM192.8 564.1h0.8v0.8h-0.8zM196.3 563.1h0.8v0.8h-0.8zM188.2 572.6h0.8v0.8h-0.8zM189.7 564.5h0.8v0.8h-0.8zM187.9 566.8h0.8v0.8h-0.8zM192.5 564.8h0.8v0.8h-0.8zM188.7 560.2h0.8v0.8h-0.8zM189.7 558.9h0.8v0.8h-0.8zM192.0 564.2h0.8v0.8h-0.8zM192.0 562.0h0.8v0.8h-0.8zM188.5 558.4h0.8v0.8h-0.8zM194.1 560.0h0.8v0.8h-0.8zM192.4 559.6h0.8v0.8h-0.8zM210.6 556.7h0.8v0.8h-0.8zM193.2 562.8h0.8v0.8h-0.8zM187.4 567.1h0.8v0.8h-0.8zM197.7 559.2h0.8v0.8h-0.8zM195.9 559.0h0.8v0.8h-0.8zM197.8 560.7h0.8v0.8h-0.8zM188.8 559.4h0.8v0.8h-0.8zM194.6 559.1h0.8v0.8h-0.8zM189.2 561.4h0.8v0.8h-0.8zM190.7 565.8h0.8v0.8h-0.8zM198.4 558.0h0.8v0.8h-0.8zM196.0 562.2h0.8v0.8h-0.8zM193.6 561.3h0.8v0.8h-0.8zM184.9 565.4h0.8v0.8h-0.8zM193.2 562.4h0.8v0.8h-0.8zM189.6 567.7h0.8v0.8h-0.8zM187.7 560.5h0.8v0.8h-0.8zM184.3 572.4h0.8v0.8h-0.8zM203.8 556.3h0.8v0.8h-0.8zM194.5 562.7h0.8v0.8h-0.8zM185.6 565.8h0.8v0.8h-0.8zM202.2 563.1h0.8v0.8h-0.8zM190.2 562.4h0.8v0.8h-0.8zM191.9 566.6h0.8v0.8h-0.8zM195.1 560.2h0.8v0.8h-0.8zM196.1 563.8h0.8v0.8h-0.8zM200.5 555.5h0.8v0.8h-0.8zM188.6 566.4h0.8v0.8h-0.8zM192.0 564.2h0.8v0.8h-0.8zM196.8 561.6h0.8v0.8h-0.8zM199.6 558.2h0.8v0.8h-0.8zM186.0 564.6h0.8v0.8h-0.8zM198.2 561.1h0.8v0.8h-0.8zM202.9 558.8h0.8v0.8h-0.8zM202.9 560.8h0.8v0.8h-0.8zM196.2 560.1h0.8v0.8h-0.8zM201.6 554.0h0.8v0.8h-0.8zM201.4 561.1h0.8v0.8h-0.8zM192.4 564.5h0.8v0.8h-0.8zM188.6 571.1h0.8v0.8h-0.8zM190.3 565.7h0.8v0.8h-0.8zM206.1 560.0h0.8v0.8h-0.8zM193.9 563.9h0.8v0.8h-0.8zM196.8 566.3h0.8v0.8h-0.8zM200.3 560.6h0.8v0.8h-0.8zM190.4 561.8h0.8v0.8h-0.8zM183.5 560.9h0.8v0.8h-0.8zM205.2 560.7h0.8v0.8h-0.8zM181.1 567.5h0.8v0.8h-0.8zM197.0 561.2h0.8v0.8h-0.8zM198.4 558.0h0.8v0.8h-0.8zM197.8 558.1h0.8v0.8h-0.8zM201.6 552.8h0.8v0.8h-0.8zM203.8 562.3h0.8v0.8h-0.8zM183.2 565.9h0.8v0.8h-0.8zM198.5 563.3h0.8v0.8h-0.8zM191.0 563.5h0.8v0.8h-0.8zM188.6 573.6h0.8v0.8h-0.8zM197.1 567.7h0.8v0.8h-0.8zM190.7 564.9h0.8v0.8h-0.8zM188.3 560.8h0.8v0.8h-0.8zM190.9 564.7h0.8v0.8h-0.8zM192.7 560.8h0.8v0.8h-0.8zM196.1 567.8h0.8v0.8h-0.8zM193.3 565.6h0.8v0.8h-0.8zM199.4 558.0h0.8v0.8h-0.8zM204.5 557.4h0.8v0.8h-0.8zM186.9 560.9h0.8v0.8h-0.8zM203.4 556.0h0.8v0.8h-0.8zM189.1 559.5h0.8v0.8h-0.8zM211.6 553.7h0.8v0.8h-0.8zM198.9 560.6h0.8v0.8h-0.8zM204.6 560.5h0.8v0.8h-0.8zM202.4 555.6h0.8v0.8h-0.8zM197.8 560.1h0.8v0.8h-0.8zM199.0 560.7h0.8v0.8h-0.8zM203.4 563.7h0.8v0.8h-0.8zM191.5 563.0h0.8v0.8h-0.8zM201.1 557.6h0.8v0.8h-0.8zM197.1 560.4h0.8v0.8h-0.8zM190.8 566.9h0.8v0.8h-0.8zM194.8 557.2h0.8v0.8h-0.8zM204.4 554.6h0.8v0.8h-0.8zM200.5 556.1h0.8v0.8h-0.8zM193.3 563.7h0.8v0.8h-0.8zM194.5 559.8h0.8v0.8h-0.8zM190.9 565.4h0.8v0.8h-0.8zM192.7 566.2h0.8v0.8h-0.8zM193.2 563.0h0.8v0.8h-0.8zM193.9 562.7h0.8v0.8h-0.8zM192.0 562.2h0.8v0.8h-0.8zM196.0 564.0h0.8v0.8h-0.8zM199.3 559.5h0.8v0.8h-0.8zM191.1 564.9h0.8v0.8h-0.8zM187.7 563.9h0.8v0.8h-0.8zM191.8 561.3h0.8v0.8h-0.8zM192.4 562.0h0.8v0.8h-0.8zM198.4 558.3h0.8v0.8h-0.8zM208.7 559.7h0.8v0.8h-0.8zM192.5 562.5h0.8v0.8h-0.8zM197.7 561.2h0.8v0.8h-0.8zM190.1 562.8h0.8v0.8h-0.8zM180.3 566.4h0.8v0.8h-0.8zM196.8 557.7h0.8v0.8h-0.8zM185.7 563.3h0.8v0.8h-0.8zM202.5 553.9h0.8v0.8h-0.8zM210.0 552.8h0.8v0.8h-0.8zM190.2 560.8h0.8v0.8h-0.8zM199.2 553.6h0.8v0.8h-0.8zM188.9 568.1h0.8v0.8h-0.8zM200.8 555.3h0.8v0.8h-0.8zM193.5 563.1h0.8v0.8h-0.8zM192.1 560.3h0.8v0.8h-0.8zM196.3 561.7h0.8v0.8h-0.8zM199.3 553.7h0.8v0.8h-0.8zM197.6 562.0h0.8v0.8h-0.8zM191.4 566.3h0.8v0.8h-0.8zM198.8 559.8h0.8v0.8h-0.8zM189.8 556.6h0.8v0.8h-0.8zM202.9 557.5h0.8v0.8h-0.8zM190.3 561.3h0.8v0.8h-0.8zM195.7 559.9h0.8v0.8h-0.8zM191.8 560.5h0.8v0.8h-0.8zM188.7 560.4h0.8v0.8h-0.8zM205.6 555.1h0.8v0.8h-0.8zM194.3 562.9h0.8v0.8h-0.8zM195.3 554.8h0.8v0.8h-0.8zM188.7 563.9h0.8v0.8h-0.8zM189.5 562.9h0.8v0.8h-0.8zM202.9 553.7h0.8v0.8h-0.8zM195.8 561.5h0.8v0.8h-0.8zM199.3 562.2h0.8v0.8h-0.8zM185.9 562.0h0.8v0.8h-0.8zM188.7 561.9h0.8v0.8h-0.8zM192.5 567.4h0.8v0.8h-0.8zM195.0 559.9h0.8v0.8h-0.8zM201.5 556.8h0.8v0.8h-0.8zM195.9 562.8h0.8v0.8h-0.8zM189.9 559.8h0.8v0.8h-0.8zM198.3 558.2h0.8v0.8h-0.8zM184.5 568.0h0.8v0.8h-0.8zM194.1 566.0h0.8v0.8h-0.8zM199.0 558.7h0.8v0.8h-0.8zM189.7 556.9h0.8v0.8h-0.8zM184.7 564.8h0.8v0.8h-0.8zM196.5 566.2h0.8v0.8h-0.8zM195.0 561.5h0.8v0.8h-0.8zM204.0 554.1h0.8v0.8h-0.8zM198.9 558.8h0.8v0.8h-0.8zM178.9 568.5h0.8v0.8h-0.8zM187.5 567.3h0.8v0.8h-0.8zM190.3 556.6h0.8v0.8h-0.8zM197.9 559.2h0.8v0.8h-0.8zM195.6 565.3h0.8v0.8h-0.8zM191.0 558.5h0.8v0.8h-0.8zM202.0 553.9h0.8v0.8h-0.8zM192.2 559.7h0.8v0.8h-0.8zM190.9 566.8h0.8v0.8h-0.8zM188.0 567.6h0.8v0.8h-0.8zM201.3 560.5h0.8v0.8h-0.8zM194.9 566.3h0.8v0.8h-0.8zM194.7 560.6h0.8v0.8h-0.8zM186.1 561.4h0.8v0.8h-0.8zM202.4 557.0h0.8v0.8h-0.8zM192.4 560.1h0.8v0.8h-0.8zM198.8 560.7h0.8v0.8h-0.8zM204.1 553.2h0.8v0.8h-0.8zM198.0 563.1h0.8v0.8h-0.8zM194.8 563.2h0.8v0.8h-0.8zM188.1 562.0h0.8v0.8h-0.8zM195.6 560.4h0.8v0.8h-0.8zM204.2 556.4h0.8v0.8h-0.8zM190.1 561.6h0.8v0.8h-0.8zM192.2 556.2h0.8v0.8h-0.8zM197.1 559.8h0.8v0.8h-0.8zM198.5 560.2h0.8v0.8h-0.8zM198.5 563.2h0.8v0.8h-0.8zM210.3 551.7h0.8v0.8h-0.8zM197.3 559.4h0.8v0.8h-0.8zM202.9 558.8h0.8v0.8h-0.8zM203.2 552.4h0.8v0.8h-0.8zM201.4 554.0h0.8v0.8h-0.8zM179.3 569.9h0.8v0.8h-0.8zM187.4 562.2h0.8v0.8h-0.8zM188.7 562.5h0.8v0.8h-0.8zM212.1 556.4h0.8v0.8h-0.8zM191.1 561.3h0.8v0.8h-0.8zM192.9 562.3h0.8v0.8h-0.8zM182.3 571.9h0.8v0.8h-0.8zM200.6 560.5h0.8v0.8h-0.8zM200.8 562.7h0.8v0.8h-0.8zM202.8 558.9h0.8v0.8h-0.8zM191.6 560.4h0.8v0.8h-0.8zM191.1 556.6h0.8v0.8h-0.8zM204.1 558.9h0.8v0.8h-0.8zM190.2 557.8h0.8v0.8h-0.8zM198.5 553.2h0.8v0.8h-0.8zM199.9 564.0h0.8v0.8h-0.8zM191.0 564.8h0.8v0.8h-0.8zM191.7 560.8h0.8v0.8h-0.8zM195.9 556.3h0.8v0.8h-0.8zM195.4 560.2h0.8v0.8h-0.8zM204.9 554.1h0.8v0.8h-0.8zM202.4 557.7h0.8v0.8h-0.8zM193.0 563.9h0.8v0.8h-0.8zM208.8 560.7h0.8v0.8h-0.8zM194.6 561.2h0.8v0.8h-0.8zM206.0 555.2h0.8v0.8h-0.8zM197.2 556.7h0.8v0.8h-0.8zM194.0 559.2h0.8v0.8h-0.8zM205.4 565.3h0.8v0.8h-0.8zM187.0 570.3h0.8v0.8h-0.8zM194.2 554.7h0.8v0.8h-0.8zM188.4 564.9h0.8v0.8h-0.8zM200.6 558.8h0.8v0.8h-0.8zM194.5 558.1h0.8v0.8h-0.8zM188.3 564.4h0.8v0.8h-0.8zM191.9 570.7h0.8v0.8h-0.8zM197.1 559.5h0.8v0.8h-0.8zM204.0 555.5h0.8v0.8h-0.8zM188.3 563.2h0.8v0.8h-0.8zM190.3 565.6h0.8v0.8h-0.8zM188.5 565.3h0.8v0.8h-0.8zM190.7 557.7h0.8v0.8h-0.8zM199.5 557.3h0.8v0.8h-0.8zM203.8 559.8h0.8v0.8h-0.8zM192.2 560.9h0.8v0.8h-0.8zM182.1 567.0h0.8v0.8h-0.8zM195.5 561.3h0.8v0.8h-0.8zM192.7 558.3h0.8v0.8h-0.8zM203.1 555.8h0.8v0.8h-0.8zM202.6 564.3h0.8v0.8h-0.8zM213.0 549.8h0.8v0.8h-0.8zM183.3 564.6h0.8v0.8h-0.8zM198.4 561.1h0.8v0.8h-0.8zM190.8 563.1h0.8v0.8h-0.8zM196.0 557.1h0.8v0.8h-0.8zM180.9 570.1h0.8v0.8h-0.8zM189.5 565.3h0.8v0.8h-0.8zM190.1 561.2h0.8v0.8h-0.8zM195.6 559.3h0.8v0.8h-0.8zM191.2 562.4h0.8v0.8h-0.8zM194.7 560.8h0.8v0.8h-0.8zM190.9 566.7h0.8v0.8h-0.8zM190.9 563.1h0.8v0.8h-0.8zM206.5 549.6h0.8v0.8h-0.8zM203.7 557.1h0.8v0.8h-0.8zM188.4 570.6h0.8v0.8h-0.8zM187.4 571.0h0.8v0.8h-0.8zM193.2 560.3h0.8v0.8h-0.8zM198.7 558.6h0.8v0.8h-0.8zM184.1 562.0h0.8v0.8h-0.8zM197.8 559.5h0.8v0.8h-0.8zM190.4 566.3h0.8v0.8h-0.8zM204.0 564.9h0.8v0.8h-0.8zM196.0 560.5h0.8v0.8h-0.8zM189.5 566.2h0.8v0.8h-0.8zM193.8 559.9h0.8v0.8h-0.8zM198.9 556.2h0.8v0.8h-0.8zM184.7 568.5h0.8v0.8h-0.8zM197.5 563.5h0.8v0.8h-0.8zM205.8 560.4h0.8v0.8h-0.8zM197.7 561.3h0.8v0.8h-0.8zM193.3 558.9h0.8v0.8h-0.8zM199.1 558.6h0.8v0.8h-0.8zM190.4 560.7h0.8v0.8h-0.8zM201.2 560.5h0.8v0.8h-0.8zM213.9 553.4h0.8v0.8h-0.8zM191.4 562.2h0.8v0.8h-0.8zM186.5 567.3h0.8v0.8h-0.8zM194.0 559.9h0.8v0.8h-0.8zM180.0 570.9h0.8v0.8h-0.8zM196.6 557.5h0.8v0.8h-0.8zM199.5 560.3h0.8v0.8h-0.8zM194.6 559.8h0.8v0.8h-0.8zM195.4 561.2h0.8v0.8h-0.8zM185.5 571.2h0.8v0.8h-0.8zM190.3 562.7h0.8v0.8h-0.8zM214.0 551.9h0.8v0.8h-0.8zM189.1 566.3h0.8v0.8h-0.8zM197.2 564.3h0.8v0.8h-0.8zM201.9 555.7h0.8v0.8h-0.8zM187.0 570.7h0.8v0.8h-0.8zM202.6 558.4h0.8v0.8h-0.8zM199.6 556.5h0.8v0.8h-0.8zM190.5 568.9h0.8v0.8h-0.8zM187.1 561.3h0.8v0.8h-0.8zM190.7 564.3h0.8v0.8h-0.8zM181.1 565.4h0.8v0.8h-0.8zM191.0 565.4h0.8v0.8h-0.8zM198.2 557.8h0.8v0.8h-0.8zM199.9 561.3h0.8v0.8h-0.8zM201.0 555.8h0.8v0.8h-0.8zM194.6 563.8h0.8v0.8h-0.8zM181.3 570.2h0.8v0.8h-0.8zM201.3 561.5h0.8v0.8h-0.8zM208.0 553.1h0.8v0.8h-0.8zM173.9 569.9h0.8v0.8h-0.8zM194.3 562.5h0.8v0.8h-0.8zM193.1 564.6h0.8v0.8h-0.8zM198.7 557.9h0.8v0.8h-0.8zM200.4 560.0h0.8v0.8h-0.8zM181.7 570.3h0.8v0.8h-0.8zM195.0 563.8h0.8v0.8h-0.8zM196.1 562.6h0.8v0.8h-0.8zM204.9 556.3h0.8v0.8h-0.8zM194.8 564.0h0.8v0.8h-0.8zM192.8 560.5h0.8v0.8h-0.8zM197.1 561.0h0.8v0.8h-0.8zM201.6 554.9h0.8v0.8h-0.8zM194.0 561.8h0.8v0.8h-0.8zM192.1 562.1h0.8v0.8h-0.8zM201.5 550.0h0.8v0.8h-0.8zM191.5 564.9h0.8v0.8h-0.8zM204.5 561.7h0.8v0.8h-0.8zM200.1 561.2h0.8v0.8h-0.8zM199.6 560.2h0.8v0.8h-0.8zM201.3 556.2h0.8v0.8h-0.8zM198.8 560.3h0.8v0.8h-0.8zM203.0 558.3h0.8v0.8h-0.8zM192.7 560.1h0.8v0.8h-0.8zM199.7 559.6h0.8v0.8h-0.8zM206.7 554.1h0.8v0.8h-0.8zM191.9 562.6h0.8v0.8h-0.8zM195.2 561.1h0.8v0.8h-0.8zM194.3 562.4h0.8v0.8h-0.8zM185.8 562.7h0.8v0.8h-0.8zM195.9 563.5h0.8v0.8h-0.8zM197.5 562.3h0.8v0.8h-0.8zM197.8 559.0h0.8v0.8h-0.8zM208.9 558.1h0.8v0.8h-0.8zM196.8 554.4h0.8v0.8h-0.8zM202.9 558.1h0.8v0.8h-0.8zM201.9 560.5h0.8v0.8h-0.8zM202.1 556.1h0.8v0.8h-0.8zM201.5 556.8h0.8v0.8h-0.8zM190.4 562.4h0.8v0.8h-0.8zM195.2 561.0h0.8v0.8h-0.8zM200.6 558.5h0.8v0.8h-0.8zM202.9 554.9h0.8v0.8h-0.8zM192.1 561.7h0.8v0.8h-0.8zM201.5 562.3h0.8v0.8h-0.8zM195.5 560.1h0.8v0.8h-0.8zM203.4 555.4h0.8v0.8h-0.8zM195.9 569.5h0.8v0.8h-0.8zM186.2 562.5h0.8v0.8h-0.8zM190.2 561.9h0.8v0.8h-0.8zM201.1 553.8h0.8v0.8h-0.8zM200.9 560.3h0.8v0.8h-0.8zM184.9 563.2h0.8v0.8h-0.8zM204.1 551.1h0.8v0.8h-0.8zM194.7 562.6h0.8v0.8h-0.8zM193.7 563.2h0.8v0.8h-0.8zM199.1 557.6h0.8v0.8h-0.8zM191.1 565.1h0.8v0.8h-0.8zM196.0 563.7h0.8v0.8h-0.8zM196.7 560.7h0.8v0.8h-0.8zM210.3 551.1h0.8v0.8h-0.8z" fill="#000" fill-opacity="0.8"/>
<path d="M199.8 560.2h1.1v1.1h-1.1zM195.7 560.2h1.1v1.1h-1.1zM197.3 559.1h1.1v1.1h-1.1zM204.3 554.2h1.1v1.1h-1.1zM198.1 560.7h1.1v1.1h-1.1zM206.1 552.9h1.1v1.1h-1.1zM200.1 559.0h1.1v1.1h-1.1zM196.1 562.3h1.1v1.1h-1.1zM197.2 556.9h1.1v1.1h-1.1zM194.2 558.2h1.1v1.1h-1.1zM199.1 558.2h1.1v1.1h-1.1zM197.9 559.4h1.1v1.1h-1.1zM193.4 563.2h1.1v1.1h-1.1zM200.3 558.2h1.1v1.1h-1.1zM198.5 559.7h1.1v1.1h-1.1zM197.0 561.0h1.1v1.1h-1.1zM198.9 559.2h1.1v1.1h-1.1zM198.1 560.7h1.1v1.1h-1.1zM196.8 560.2h1.1v1.1h-1.1zM204.5 555.1h1.1v1.1h-1.1zM196.7 562.2h1.1v1.1h-1.1zM204.4 559.2h1.1v1.1h-1.1zM201.0 554.3h1.1v1.1h-1.1zM201.2 559.2h1.1v1.1h-1.1zM199.2 561.1h1.1v1.1h-1.1zM194.1 564.6h1.1v1.1h-1.1zM194.2 563.5h1.1v1.1h-1.1zM198.8 556.6h1.1v1.1h-1.1zM203.3 557.5h1.1v1.1h-1.1zM208.5 554.3h1.1v1.1h-1.1zM199.6 558.5h1.1v1.1h-1.1zM199.5 561.5h1.1v1.1h-1.1zM198.7 558.8h1.1v1.1h-1.1zM195.6 562.3h1.1v1.1h-1.1zM198.0 564.9h1.1v1.1h-1.1zM197.2 561.2h1.1v1.1h-1.1zM202.7 553.4h1.1v1.1h-1.1zM199.4 557.3h1.1v1.1h-1.1zM200.3 556.7h1.1v1.1h-1.1zM200.0 560.2h1.1v1.1h-1.1zM199.4 555.6h1.1v1.1h-1.1zM198.3 556.7h1.1v1.1h-1.1zM192.6 563.1h1.1v1.1h-1.1zM201.4 558.4h1.1v1.1h-1.1zM196.2 556.3h1.1v1.1h-1.1zM194.8 558.8h1.1v1.1h-1.1zM201.7 559.6h1.1v1.1h-1.1zM200.3 557.4h1.1v1.1h-1.1zM193.9 557.2h1.1v1.1h-1.1zM195.6 559.7h1.1v1.1h-1.1zM198.5 558.9h1.1v1.1h-1.1zM201.6 555.4h1.1v1.1h-1.1zM202.9 557.0h1.1v1.1h-1.1zM199.6 561.3h1.1v1.1h-1.1zM200.4 558.6h1.1v1.1h-1.1zM199.8 557.7h1.1v1.1h-1.1zM197.5 560.6h1.1v1.1h-1.1zM195.2 559.0h1.1v1.1h-1.1zM192.6 559.7h1.1v1.1h-1.1zM201.3 560.1h1.1v1.1h-1.1zM199.4 556.9h1.1v1.1h-1.1zM197.3 560.8h1.1v1.1h-1.1zM197.2 562.2h1.1v1.1h-1.1zM204.6 553.4h1.1v1.1h-1.1zM201.5 561.5h1.1v1.1h-1.1zM197.3 557.9h1.1v1.1h-1.1zM196.2 559.2h1.1v1.1h-1.1zM201.8 553.5h1.1v1.1h-1.1zM196.0 557.9h1.1v1.1h-1.1zM196.1 559.6h1.1v1.1h-1.1zM200.6 560.2h1.1v1.1h-1.1zM201.9 560.2h1.1v1.1h-1.1zM195.7 559.3h1.1v1.1h-1.1zM197.5 558.2h1.1v1.1h-1.1zM198.5 558.2h1.1v1.1h-1.1zM202.4 558.5h1.1v1.1h-1.1zM204.5 560.0h1.1v1.1h-1.1zM193.0 566.9h1.1v1.1h-1.1zM203.9 556.5h1.1v1.1h-1.1zM203.6 556.8h1.1v1.1h-1.1zM195.0 558.0h1.1v1.1h-1.1zM197.9 557.1h1.1v1.1h-1.1zM195.1 560.6h1.1v1.1h-1.1zM201.6 557.5h1.1v1.1h-1.1zM199.0 559.0h1.1v1.1h-1.1zM197.5 560.9h1.1v1.1h-1.1zM199.1 556.0h1.1v1.1h-1.1zM195.8 559.8h1.1v1.1h-1.1zM199.9 558.2h1.1v1.1h-1.1zM200.1 561.8h1.1v1.1h-1.1zM197.7 564.1h1.1v1.1h-1.1zM205.2 556.5h1.1v1.1h-1.1zM197.9 553.7h1.1v1.1h-1.1zM197.3 558.4h1.1v1.1h-1.1zM195.7 560.4h1.1v1.1h-1.1zM203.7 555.7h1.1v1.1h-1.1zM192.5 562.6h1.1v1.1h-1.1zM203.4 555.5h1.1v1.1h-1.1zM197.8 558.3h1.1v1.1h-1.1zM195.8 560.9h1.1v1.1h-1.1zM196.5 562.9h1.1v1.1h-1.1zM198.6 555.6h1.1v1.1h-1.1zM196.2 557.1h1.1v1.1h-1.1zM199.6 559.1h1.1v1.1h-1.1zM202.7 556.5h1.1v1.1h-1.1zM191.7 565.9h1.1v1.1h-1.1zM196.8 559.0h1.1v1.1h-1.1zM198.3 558.5h1.1v1.1h-1.1zM195.5 560.8h1.1v1.1h-1.1zM197.1 554.4h1.1v1.1h-1.1zM192.4 562.1h1.1v1.1h-1.1zM197.6 559.4h1.1v1.1h-1.1zM196.1 562.9h1.1v1.1h-1.1zM198.8 559.0h1.1v1.1h-1.1zM194.9 560.6h1.1v1.1h-1.1zM191.5 560.8h1.1v1.1h-1.1zM198.7 558.0h1.1v1.1h-1.1zM195.9 562.4h1.1v1.1h-1.1zM192.4 565.5h1.1v1.1h-1.1zM195.9 563.4h1.1v1.1h-1.1zM193.7 560.1h1.1v1.1h-1.1zM199.8 556.7h1.1v1.1h-1.1zM200.8 557.3h1.1v1.1h-1.1zM196.3 560.5h1.1v1.1h-1.1zM203.8 555.7h1.1v1.1h-1.1zM197.1 556.9h1.1v1.1h-1.1zM195.4 558.7h1.1v1.1h-1.1zM196.6 559.3h1.1v1.1h-1.1zM193.1 560.5h1.1v1.1h-1.1zM191.3 562.2h1.1v1.1h-1.1zM199.0 557.0h1.1v1.1h-1.1zM199.6 561.3h1.1v1.1h-1.1zM201.7 555.9h1.1v1.1h-1.1zM203.4 560.0h1.1v1.1h-1.1zM197.4 558.9h1.1v1.1h-1.1zM203.3 557.6h1.1v1.1h-1.1zM197.0 555.2h1.1v1.1h-1.1zM204.5 554.4h1.1v1.1h-1.1zM201.4 555.7h1.1v1.1h-1.1zM201.9 555.2h1.1v1.1h-1.1zM197.2 559.8h1.1v1.1h-1.1zM190.4 565.0h1.1v1.1h-1.1zM198.3 556.5h1.1v1.1h-1.1zM194.1 558.2h1.1v1.1h-1.1zM199.3 561.7h1.1v1.1h-1.1zM197.8 561.9h1.1v1.1h-1.1zM203.8 556.7h1.1v1.1h-1.1zM200.7 555.7h1.1v1.1h-1.1zM193.9 559.3h1.1v1.1h-1.1zM198.3 559.4h1.1v1.1h-1.1zM197.5 562.4h1.1v1.1h-1.1zM196.5 561.2h1.1v1.1h-1.1zM199.0 557.3h1.1v1.1h-1.1zM204.3 551.1h1.1v1.1h-1.1zM202.1 558.6h1.1v1.1h-1.1zM196.5 560.8h1.1v1.1h-1.1zM197.7 557.6h1.1v1.1h-1.1zM197.4 561.2h1.1v1.1h-1.1zM194.3 560.6h1.1v1.1h-1.1zM199.3 560.8h1.1v1.1h-1.1zM198.0 555.7h1.1v1.1h-1.1zM197.9 561.5h1.1v1.1h-1.1zM190.1 561.4h1.1v1.1h-1.1zM202.8 555.4h1.1v1.1h-1.1zM198.8 560.6h1.1v1.1h-1.1zM198.8 559.0h1.1v1.1h-1.1zM195.6 558.9h1.1v1.1h-1.1zM199.0 559.3h1.1v1.1h-1.1zM202.2 559.3h1.1v1.1h-1.1zM195.9 559.0h1.1v1.1h-1.1zM200.0 556.1h1.1v1.1h-1.1zM199.1 558.9h1.1v1.1h-1.1zM205.8 554.4h1.1v1.1h-1.1zM197.6 559.7h1.1v1.1h-1.1zM194.5 558.1h1.1v1.1h-1.1zM199.6 560.0h1.1v1.1h-1.1zM198.7 557.5h1.1v1.1h-1.1zM198.6 557.4h1.1v1.1h-1.1zM200.3 561.0h1.1v1.1h-1.1zM204.5 556.6h1.1v1.1h-1.1zM199.9 557.9h1.1v1.1h-1.1zM198.3 559.3h1.1v1.1h-1.1zM199.7 555.3h1.1v1.1h-1.1zM204.1 554.2h1.1v1.1h-1.1zM204.1 556.2h1.1v1.1h-1.1zM199.9 556.0h1.1v1.1h-1.1zM199.8 559.8h1.1v1.1h-1.1zM197.1 558.7h1.1v1.1h-1.1zM206.1 556.0h1.1v1.1h-1.1zM194.9 562.6h1.1v1.1h-1.1zM202.2 558.6h1.1v1.1h-1.1zM194.6 564.6h1.1v1.1h-1.1zM204.2 559.3h1.1v1.1h-1.1zM203.3 559.4h1.1v1.1h-1.1zM197.5 560.1h1.1v1.1h-1.1zM198.3 557.5h1.1v1.1h-1.1zM204.2 554.7h1.1v1.1h-1.1zM195.7 556.9h1.1v1.1h-1.1zM197.7 559.4h1.1v1.1h-1.1zM199.9 558.6h1.1v1.1h-1.1zM199.9 562.1h1.1v1.1h-1.1zM196.6 558.0h1.1v1.1h-1.1zM195.1 563.0h1.1v1.1h-1.1zM195.4 563.9h1.1v1.1h-1.1zM196.5 559.2h1.1v1.1h-1.1zM198.8 558.0h1.1v1.1h-1.1zM194.8 559.0h1.1v1.1h-1.1zM202.3 558.6h1.1v1.1h-1.1zM198.3 556.6h1.1v1.1h-1.1zM201.2 558.6h1.1v1.1h-1.1zM197.0 563.1h1.1v1.1h-1.1zM205.6 555.2h1.1v1.1h-1.1zM201.2 554.9h1.1v1.1h-1.1zM199.1 558.4h1.1v1.1h-1.1zM191.3 562.6h1.1v1.1h-1.1zM203.0 553.9h1.1v1.1h-1.1zM196.1 560.1h1.1v1.1h-1.1zM202.2 558.8h1.1v1.1h-1.1zM195.9 564.7h1.1v1.1h-1.1zM198.3 557.5h1.1v1.1h-1.1z" fill="#000" fill-opacity="0.85"/>
<path d="M181.7 568.5h0.8v0.8h-0.8zM190.5 566.1h0.8v0.8h-0.8zM191.8 562.1h0.8v0.8h-0.8zM183.3 567.6h0.8v0.8h-0.8zM184.4 568.4h0.8v0.8h-0.8zM185.7 569.5h0.8v0.8h-0.8zM195.1 557.7h0.8v0.8h-0.8zM179.4 572.9h0.8v0.8h-0.8zM189.6 561.9h0.8v0.8h-0.8zM184.1 580.9h0.8v0.8h-0.8zM194.3 565.4h0.8v0.8h-0.8zM182.6 573.3h0.8v0.8h-0.8zM180.4 569.9h0.8v0.8h-0.8zM188.3 571.3h0.8v0.8h-0.8zM193.2 561.0h0.8v0.8h-0.8zM184.4 560.6h0.8v0.8h-0.8zM183.2 563.9h0.8v0.8h-0.8zM188.4 556.2h0.8v0.8h-0.8zM184.8 568.4h0.8v0.8h-0.8zM183.9 570.7h0.8v0.8h-0.8zM176.6 570.2h0.8v0.8h-0.8zM186.6 566.5h0.8v0.8h-0.8zM198.3 561.7h0.8v0.8h-0.8zM189.1 564.3h0.8v0.8h-0.8zM173.4 568.3h0.8v0.8h-0.8zM186.7 567.5h0.8v0.8h-0.8zM170.1 580.4h0.8v0.8h-0.8zM182.0 572.7h0.8v0.8h-0.8zM186.3 564.5h0.8v0.8h-0.8zM179.8 574.1h0.8v0.8h-0.8zM186.4 564.6h0.8v0.8h-0.8zM183.1 568.3h0.8v0.8h-0.8zM186.8 569.1h0.8v0.8h-0.8zM182.6 571.0h0.8v0.8h-0.8zM175.1 574.0h0.8v0.8h-0.8zM186.4 566.2h0.8v0.8h-0.8zM182.0 568.7h0.8v0.8h-0.8zM180.3 571.4h0.8v0.8h-0.8zM186.0 568.9h0.8v0.8h-0.8zM180.0 568.1h0.8v0.8h-0.8zM177.6 576.0h0.8v0.8h-0.8zM183.3 561.8h0.8v0.8h-0.8zM188.3 567.7h0.8v0.8h-0.8zM182.4 574.9h0.8v0.8h-0.8zM182.0 565.6h0.8v0.8h-0.8zM182.2 572.4h0.8v0.8h-0.8zM173.9 574.6h0.8v0.8h-0.8zM185.9 566.4h0.8v0.8h-0.8zM190.7 565.6h0.8v0.8h-0.8zM179.2 575.6h0.8v0.8h-0.8zM178.0 578.1h0.8v0.8h-0.8zM186.9 563.5h0.8v0.8h-0.8zM185.6 571.3h0.8v0.8h-0.8zM175.4 573.0h0.8v0.8h-0.8zM179.9 576.6h0.8v0.8h-0.8zM192.8 569.3h0.8v0.8h-0.8zM183.2 569.1h0.8v0.8h-0.8zM185.8 565.8h0.8v0.8h-0.8zM191.5 564.8h0.8v0.8h-0.8zM188.5 564.4h0.8v0.8h-0.8zM185.1 572.5h0.8v0.8h-0.8zM186.6 564.7h0.8v0.8h-0.8zM189.2 563.5h0.8v0.8h-0.8zM182.6 573.1h0.8v0.8h-0.8zM185.6 566.0h0.8v0.8h-0.8zM186.2 573.1h0.8v0.8h-0.8zM183.2 562.6h0.8v0.8h-0.8zM182.5 574.1h0.8v0.8h-0.8zM188.1 566.6h0.8v0.8h-0.8zM186.5 564.2h0.8v0.8h-0.8zM186.6 567.8h0.8v0.8h-0.8zM190.1 567.0h0.8v0.8h-0.8zM184.0 573.9h0.8v0.8h-0.8zM181.5 568.4h0.8v0.8h-0.8zM181.7 566.3h0.8v0.8h-0.8zM175.5 576.8h0.8v0.8h-0.8zM186.7 564.3h0.8v0.8h-0.8zM175.8 571.4h0.8v0.8h-0.8zM181.7 571.9h0.8v0.8h-0.8zM191.2 565.3h0.8v0.8h-0.8zM187.7 570.1h0.8v0.8h-0.8zM189.7 565.9h0.8v0.8h-0.8zM190.4 564.8h0.8v0.8h-0.8zM186.1 568.3h0.8v0.8h-0.8zM193.0 558.4h0.8v0.8h-0.8zM185.1 569.4h0.8v0.8h-0.8zM195.2 566.6h0.8v0.8h-0.8zM189.5 568.5h0.8v0.8h-0.8zM179.7 565.1h0.8v0.8h-0.8zM193.5 563.2h0.8v0.8h-0.8zM192.3 562.5h0.8v0.8h-0.8zM178.0 574.0h0.8v0.8h-0.8zM184.3 566.2h0.8v0.8h-0.8zM175.0 574.5h0.8v0.8h-0.8zM181.7 570.9h0.8v0.8h-0.8zM187.7 562.7h0.8v0.8h-0.8zM190.5 569.6h0.8v0.8h-0.8zM192.5 567.1h0.8v0.8h-0.8zM184.8 568.3h0.8v0.8h-0.8zM184.8 568.9h0.8v0.8h-0.8zM186.3 566.8h0.8v0.8h-0.8zM187.0 568.1h0.8v0.8h-0.8zM180.5 569.9h0.8v0.8h-0.8zM182.3 577.9h0.8v0.8h-0.8zM195.6 562.3h0.8v0.8h-0.8zM183.0 564.6h0.8v0.8h-0.8zM174.5 576.0h0.8v0.8h-0.8zM193.0 566.1h0.8v0.8h-0.8zM179.3 563.7h0.8v0.8h-0.8zM196.2 566.9h0.8v0.8h-0.8zM188.1 565.4h0.8v0.8h-0.8zM182.5 567.8h0.8v0.8h-0.8zM190.7 562.9h0.8v0.8h-0.8zM183.8 568.3h0.8v0.8h-0.8zM188.5 569.7h0.8v0.8h-0.8zM193.9 559.9h0.8v0.8h-0.8zM184.2 566.1h0.8v0.8h-0.8zM183.6 566.1h0.8v0.8h-0.8zM187.8 561.0h0.8v0.8h-0.8zM190.0 562.5h0.8v0.8h-0.8zM202.6 558.1h0.8v0.8h-0.8zM184.1 570.9h0.8v0.8h-0.8zM192.9 559.6h0.8v0.8h-0.8zM199.1 558.5h0.8v0.8h-0.8zM197.0 563.3h0.8v0.8h-0.8zM190.7 570.2h0.8v0.8h-0.8zM182.6 565.8h0.8v0.8h-0.8zM190.4 569.6h0.8v0.8h-0.8zM195.7 561.8h0.8v0.8h-0.8zM187.9 567.1h0.8v0.8h-0.8zM197.0 562.9h0.8v0.8h-0.8zM187.4 570.2h0.8v0.8h-0.8zM183.6 566.0h0.8v0.8h-0.8zM186.7 568.8h0.8v0.8h-0.8zM189.7 567.5h0.8v0.8h-0.8zM181.2 573.8h0.8v0.8h-0.8zM188.9 566.5h0.8v0.8h-0.8zM182.2 569.7h0.8v0.8h-0.8zM188.4 567.4h0.8v0.8h-0.8zM185.5 569.0h0.8v0.8h-0.8zM184.6 570.4h0.8v0.8h-0.8zM175.5 570.4h0.8v0.8h-0.8zM183.8 571.9h0.8v0.8h-0.8zM183.5 570.8h0.8v0.8h-0.8zM184.7 573.3h0.8v0.8h-0.8zM183.7 569.5h0.8v0.8h-0.8zM196.0 565.0h0.8v0.8h-0.8zM187.6 564.0h0.8v0.8h-0.8zM191.5 565.0h0.8v0.8h-0.8zM180.1 570.5h0.8v0.8h-0.8zM188.2 568.3h0.8v0.8h-0.8zM177.9 574.4h0.8v0.8h-0.8zM190.4 566.7h0.8v0.8h-0.8zM196.5 559.4h0.8v0.8h-0.8zM184.0 565.6h0.8v0.8h-0.8zM183.0 570.6h0.8v0.8h-0.8zM184.0 567.5h0.8v0.8h-0.8zM186.8 572.0h0.8v0.8h-0.8zM190.4 569.7h0.8v0.8h-0.8zM176.8 577.8h0.8v0.8h-0.8z" fill="#000" fill-opacity="0.6"/>
<path d="M192.5 576.4h0.7v0.7h-0.7zM207.8 564.6h0.7v0.7h-0.7zM188.2 572.6h0.7v0.7h-0.7zM175.4 585.0h0.7v0.7h-0.7zM183.7 572.7h0.7v0.7h-0.7zM188.3 559.1h0.7v0.7h-0.7zM191.7 579.9h0.7v0.7h-0.7zM184.9 576.7h0.7v0.7h-0.7zM187.6 585.7h0.7v0.7h-0.7zM215.7 567.5h0.7v0.7h-0.7zM185.0 587.6h0.7v0.7h-0.7zM214.5 565.1h0.7v0.7h-0.7zM164.1 578.6h0.7v0.7h-0.7zM194.9 556.8h0.7v0.7h-0.7zM181.6 575.9h0.7v0.7h-0.7zM184.0 560.9h0.7v0.7h-0.7zM181.4 572.1h0.7v0.7h-0.7zM178.0 587.5h0.7v0.7h-0.7zM218.2 576.3h0.7v0.7h-0.7zM183.6 574.6h0.7v0.7h-0.7zM216.6 588.3h0.7v0.7h-0.7zM203.4 581.4h0.7v0.7h-0.7zM171.0 588.7h0.7v0.7h-0.7zM195.6 589.5h0.7v0.7h-0.7zM198.1 572.2h0.7v0.7h-0.7zM210.7 574.5h0.7v0.7h-0.7zM215.8 574.6h0.7v0.7h-0.7zM200.0 563.5h0.7v0.7h-0.7zM162.2 575.8h0.7v0.7h-0.7zM193.6 565.7h0.7v0.7h-0.7zM198.8 556.6h0.7v0.7h-0.7zM182.5 583.0h0.7v0.7h-0.7zM184.4 560.8h0.7v0.7h-0.7zM207.6 586.6h0.7v0.7h-0.7zM195.0 558.5h0.7v0.7h-0.7zM194.9 563.5h0.7v0.7h-0.7zM187.6 563.2h0.7v0.7h-0.7zM196.5 568.5h0.7v0.7h-0.7zM167.9 580.4h0.7v0.7h-0.7zM205.4 570.8h0.7v0.7h-0.7zM189.5 584.0h0.7v0.7h-0.7zM182.5 568.7h0.7v0.7h-0.7zM186.4 581.6h0.7v0.7h-0.7zM170.8 571.3h0.7v0.7h-0.7zM186.9 579.7h0.7v0.7h-0.7zM188.7 585.2h0.7v0.7h-0.7zM173.8 576.2h0.7v0.7h-0.7zM191.6 588.0h0.7v0.7h-0.7zM181.3 574.2h0.7v0.7h-0.7zM189.5 570.8h0.7v0.7h-0.7zM187.1 567.9h0.7v0.7h-0.7zM189.2 572.7h0.7v0.7h-0.7zM184.3 577.5h0.7v0.7h-0.7zM169.8 573.0h0.7v0.7h-0.7zM198.3 574.8h0.7v0.7h-0.7zM193.9 570.1h0.7v0.7h-0.7zM171.9 567.9h0.7v0.7h-0.7zM174.6 573.4h0.7v0.7h-0.7zM182.5 563.4h0.7v0.7h-0.7zM194.1 590.4h0.7v0.7h-0.7zM187.2 586.5h0.7v0.7h-0.7zM168.3 561.4h0.7v0.7h-0.7zM171.6 577.7h0.7v0.7h-0.7zM160.7 589.7h0.7v0.7h-0.7zM189.8 578.0h0.7v0.7h-0.7zM191.1 572.9h0.7v0.7h-0.7zM195.3 583.7h0.7v0.7h-0.7zM189.5 580.9h0.7v0.7h-0.7zM175.2 576.0h0.7v0.7h-0.7zM191.1 572.1h0.7v0.7h-0.7zM165.4 576.9h0.7v0.7h-0.7zM191.4 583.3h0.7v0.7h-0.7zM195.2 580.2h0.7v0.7h-0.7zM177.9 570.7h0.7v0.7h-0.7zM207.0 545.9h0.7v0.7h-0.7zM210.1 571.2h0.7v0.7h-0.7zM190.4 592.1h0.7v0.7h-0.7zM208.8 556.6h0.7v0.7h-0.7zM164.1 592.4h0.7v0.7h-0.7zM197.3 571.0h0.7v0.7h-0.7zM201.7 577.8h0.7v0.7h-0.7zM184.8 583.0h0.7v0.7h-0.7zM160.8 568.4h0.7v0.7h-0.7zM198.8 562.6h0.7v0.7h-0.7zM195.0 556.7h0.7v0.7h-0.7zM188.0 567.4h0.7v0.7h-0.7zM179.8 570.6h0.7v0.7h-0.7zM213.1 568.7h0.7v0.7h-0.7zM191.7 573.7h0.7v0.7h-0.7zM205.1 563.8h0.7v0.7h-0.7zM170.7 582.8h0.7v0.7h-0.7zM197.5 569.7h0.7v0.7h-0.7zM199.0 578.2h0.7v0.7h-0.7zM196.9 570.7h0.7v0.7h-0.7zM211.2 562.9h0.7v0.7h-0.7zM189.9 572.6h0.7v0.7h-0.7zM208.0 577.0h0.7v0.7h-0.7zM178.4 571.0h0.7v0.7h-0.7zM213.2 564.7h0.7v0.7h-0.7zM191.1 563.2h0.7v0.7h-0.7zM205.2 554.8h0.7v0.7h-0.7zM206.6 565.8h0.7v0.7h-0.7zM190.4 564.8h0.7v0.7h-0.7zM163.0 562.4h0.7v0.7h-0.7zM192.7 561.0h0.7v0.7h-0.7zM200.4 574.1h0.7v0.7h-0.7zM196.3 563.4h0.7v0.7h-0.7zM163.4 572.0h0.7v0.7h-0.7zM169.6 582.0h0.7v0.7h-0.7zM189.8 574.0h0.7v0.7h-0.7zM177.3 576.0h0.7v0.7h-0.7zM163.4 566.2h0.7v0.7h-0.7zM180.3 578.2h0.7v0.7h-0.7zM180.5 570.0h0.7v0.7h-0.7zM179.7 593.4h0.7v0.7h-0.7zM212.7 578.0h0.7v0.7h-0.7zM196.2 583.8h0.7v0.7h-0.7zM191.4 580.9h0.7v0.7h-0.7zM184.9 569.3h0.7v0.7h-0.7zM185.1 573.7h0.7v0.7h-0.7zM183.7 567.2h0.7v0.7h-0.7zM175.0 572.5h0.7v0.7h-0.7zM212.6 562.4h0.7v0.7h-0.7zM202.2 554.2h0.7v0.7h-0.7zM192.0 574.0h0.7v0.7h-0.7zM202.5 566.9h0.7v0.7h-0.7zM169.0 582.9h0.7v0.7h-0.7zM196.1 560.4h0.7v0.7h-0.7zM180.9 586.6h0.7v0.7h-0.7zM175.4 567.6h0.7v0.7h-0.7zM205.7 569.3h0.7v0.7h-0.7zM185.1 571.2h0.7v0.7h-0.7zM201.2 565.9h0.7v0.7h-0.7zM175.0 577.4h0.7v0.7h-0.7zM190.1 559.9h0.7v0.7h-0.7zM192.4 572.9h0.7v0.7h-0.7zM176.1 572.6h0.7v0.7h-0.7zM167.4 562.6h0.7v0.7h-0.7zM177.1 567.5h0.7v0.7h-0.7zM163.6 578.4h0.7v0.7h-0.7zM192.6 563.6h0.7v0.7h-0.7zM194.2 577.8h0.7v0.7h-0.7zM182.4 580.9h0.7v0.7h-0.7zM204.4 549.0h0.7v0.7h-0.7zM173.8 560.5h0.7v0.7h-0.7zM188.0 572.7h0.7v0.7h-0.7zM183.1 573.1h0.7v0.7h-0.7zM209.2 585.3h0.7v0.7h-0.7zM196.6 563.5h0.7v0.7h-0.7zM182.5 578.0h0.7v0.7h-0.7zM206.5 581.9h0.7v0.7h-0.7zM212.3 540.6h0.7v0.7h-0.7zM171.5 582.5h0.7v0.7h-0.7zM203.1 567.5h0.7v0.7h-0.7zM181.4 568.8h0.7v0.7h-0.7zM190.8 574.9h0.7v0.7h-0.7zM174.0 576.6h0.7v0.7h-0.7zM177.6 572.8h0.7v0.7h-0.7zM170.0 575.2h0.7v0.7h-0.7zM173.4 564.2h0.7v0.7h-0.7zM173.4 579.8h0.7v0.7h-0.7zM211.7 570.2h0.7v0.7h-0.7zM166.5 586.5h0.7v0.7h-0.7zM181.2 563.4h0.7v0.7h-0.7zM206.7 565.5h0.7v0.7h-0.7zM221.8 556.9h0.7v0.7h-0.7zM191.1 590.5h0.7v0.7h-0.7zM209.9 556.9h0.7v0.7h-0.7zM192.3 564.7h0.7v0.7h-0.7zM186.4 574.6h0.7v0.7h-0.7zM174.7 572.0h0.7v0.7h-0.7zM200.2 581.9h0.7v0.7h-0.7zM217.5 565.2h0.7v0.7h-0.7zM182.3 577.9h0.7v0.7h-0.7zM192.2 575.7h0.7v0.7h-0.7z" fill="#000" fill-opacity="0.45"/>
<path d="M236.6 591.6h0.8v0.8h-0.8zM244.7 591.7h0.8v0.8h-0.8zM240.4 580.0h0.8v0.8h-0.8zM241.5 585.4h0.8v0.8h-0.8zM241.3 586.6h0.8v0.8h-0.8zM233.7 587.9h0.8v0.8h-0.8zM237.9 584.5h0.8v0.8h-0.8zM233.8 580.5h0.8v0.8h-0.8zM234.7 577.0h0.8v0.8h-0.8zM234.9 590.9h0.8v0.8h-0.8zM240.1 591.1h0.8v0.8h-0.8zM241.1 587.2h0.8v0.8h-0.8zM240.7 583.4h0.8v0.8h-0.8zM240.5 589.1h0.8v0.8h-0.8zM238.4 590.0h0.8v0.8h-0.8zM231.4 583.7h0.8v0.8h-0.8zM238.2 583.4h0.8v0.8h-0.8zM229.1 584.8h0.8v0.8h-0.8zM241.8 584.3h0.8v0.8h-0.8zM234.5 585.7h0.8v0.8h-0.8zM242.9 581.0h0.8v0.8h-0.8zM231.6 585.5h0.8v0.8h-0.8zM234.1 585.4h0.8v0.8h-0.8zM231.3 580.1h0.8v0.8h-0.8zM240.1 585.2h0.8v0.8h-0.8zM245.6 590.0h0.8v0.8h-0.8zM236.7 589.1h0.8v0.8h-0.8zM246.3 583.4h0.8v0.8h-0.8zM231.3 589.6h0.8v0.8h-0.8zM240.1 586.7h0.8v0.8h-0.8zM236.0 591.7h0.8v0.8h-0.8zM247.7 587.8h0.8v0.8h-0.8zM235.7 582.6h0.8v0.8h-0.8zM235.0 585.9h0.8v0.8h-0.8zM231.7 590.8h0.8v0.8h-0.8zM231.9 586.4h0.8v0.8h-0.8zM233.4 583.3h0.8v0.8h-0.8zM236.5 583.9h0.8v0.8h-0.8zM243.0 588.5h0.8v0.8h-0.8zM239.7 580.6h0.8v0.8h-0.8zM233.4 582.9h0.8v0.8h-0.8zM235.4 588.0h0.8v0.8h-0.8zM237.7 581.2h0.8v0.8h-0.8zM232.7 589.5h0.8v0.8h-0.8zM234.1 582.5h0.8v0.8h-0.8zM236.7 590.1h0.8v0.8h-0.8zM230.9 585.3h0.8v0.8h-0.8zM236.7 580.6h0.8v0.8h-0.8zM238.0 579.2h0.8v0.8h-0.8zM241.1 590.0h0.8v0.8h-0.8zM241.4 586.7h0.8v0.8h-0.8zM241.1 587.1h0.8v0.8h-0.8zM237.6 587.6h0.8v0.8h-0.8zM234.0 585.3h0.8v0.8h-0.8zM237.6 585.2h0.8v0.8h-0.8zM239.1 585.3h0.8v0.8h-0.8zM234.8 584.6h0.8v0.8h-0.8zM233.4 583.6h0.8v0.8h-0.8zM235.5 591.7h0.8v0.8h-0.8zM230.1 583.6h0.8v0.8h-0.8zM236.6 588.7h0.8v0.8h-0.8zM236.1 585.5h0.8v0.8h-0.8zM238.0 590.6h0.8v0.8h-0.8zM235.3 586.1h0.8v0.8h-0.8zM230.6 579.0h0.8v0.8h-0.8zM236.6 585.1h0.8v0.8h-0.8zM241.4 583.0h0.8v0.8h-0.8zM232.3 587.0h0.8v0.8h-0.8zM242.5 588.5h0.8v0.8h-0.8zM234.7 589.9h0.8v0.8h-0.8zM229.0 582.4h0.8v0.8h-0.8zM235.5 586.7h0.8v0.8h-0.8zM230.4 586.1h0.8v0.8h-0.8zM234.6 584.4h0.8v0.8h-0.8zM235.1 585.2h0.8v0.8h-0.8zM232.6 590.0h0.8v0.8h-0.8zM234.8 586.6h0.8v0.8h-0.8zM237.8 580.1h0.8v0.8h-0.8zM237.3 585.1h0.8v0.8h-0.8zM239.9 584.8h0.8v0.8h-0.8zM238.1 592.0h0.8v0.8h-0.8zM232.3 582.9h0.8v0.8h-0.8zM230.5 591.2h0.8v0.8h-0.8zM239.5 590.9h0.8v0.8h-0.8zM234.0 583.2h0.8v0.8h-0.8zM244.4 586.3h0.8v0.8h-0.8zM233.9 585.5h0.8v0.8h-0.8zM236.6 586.3h0.8v0.8h-0.8zM239.2 585.7h0.8v0.8h-0.8zM241.8 584.8h0.8v0.8h-0.8zM239.0 582.5h0.8v0.8h-0.8zM234.2 585.2h0.8v0.8h-0.8zM241.5 583.2h0.8v0.8h-0.8zM237.3 584.7h0.8v0.8h-0.8zM237.2 592.2h0.8v0.8h-0.8zM230.1 585.8h0.8v0.8h-0.8zM234.5 578.6h0.8v0.8h-0.8zM241.9 583.5h0.8v0.8h-0.8zM241.5 588.6h0.8v0.8h-0.8zM236.5 585.8h0.8v0.8h-0.8zM241.0 584.5h0.8v0.8h-0.8zM239.6 590.0h0.8v0.8h-0.8zM232.9 578.1h0.8v0.8h-0.8zM234.2 592.1h0.8v0.8h-0.8zM244.3 582.5h0.8v0.8h-0.8zM237.5 589.3h0.8v0.8h-0.8zM235.5 592.9h0.8v0.8h-0.8zM236.5 583.7h0.8v0.8h-0.8zM234.4 584.7h0.8v0.8h-0.8zM236.3 583.0h0.8v0.8h-0.8zM243.5 583.3h0.8v0.8h-0.8zM239.1 579.3h0.8v0.8h-0.8zM237.9 586.9h0.8v0.8h-0.8zM245.5 585.9h0.8v0.8h-0.8zM239.3 589.2h0.8v0.8h-0.8zM237.2 584.3h0.8v0.8h-0.8zM229.4 587.0h0.8v0.8h-0.8zM244.0 580.6h0.8v0.8h-0.8zM237.1 586.4h0.8v0.8h-0.8zM241.2 584.6h0.8v0.8h-0.8zM236.3 587.3h0.8v0.8h-0.8zM230.2 584.4h0.8v0.8h-0.8zM236.8 583.3h0.8v0.8h-0.8zM236.4 588.6h0.8v0.8h-0.8zM237.9 585.9h0.8v0.8h-0.8zM238.9 591.9h0.8v0.8h-0.8zM238.7 585.7h0.8v0.8h-0.8zM241.5 583.8h0.8v0.8h-0.8zM233.6 588.1h0.8v0.8h-0.8zM238.2 593.4h0.8v0.8h-0.8zM245.9 582.8h0.8v0.8h-0.8zM231.4 586.2h0.8v0.8h-0.8zM242.8 585.1h0.8v0.8h-0.8zM240.7 579.1h0.8v0.8h-0.8zM236.6 586.2h0.8v0.8h-0.8zM242.8 586.7h0.8v0.8h-0.8zM237.1 584.4h0.8v0.8h-0.8zM245.1 582.9h0.8v0.8h-0.8zM234.2 578.0h0.8v0.8h-0.8zM234.1 585.0h0.8v0.8h-0.8zM240.3 586.6h0.8v0.8h-0.8zM239.7 586.3h0.8v0.8h-0.8zM236.9 587.3h0.8v0.8h-0.8zM237.6 584.6h0.8v0.8h-0.8zM242.0 586.5h0.8v0.8h-0.8zM235.3 591.5h0.8v0.8h-0.8zM241.0 590.9h0.8v0.8h-0.8zM231.3 591.7h0.8v0.8h-0.8zM243.7 590.3h0.8v0.8h-0.8zM239.1 582.7h0.8v0.8h-0.8zM234.1 586.1h0.8v0.8h-0.8zM235.4 590.3h0.8v0.8h-0.8zM241.8 592.1h0.8v0.8h-0.8zM234.1 581.8h0.8v0.8h-0.8zM236.2 585.4h0.8v0.8h-0.8zM239.1 588.8h0.8v0.8h-0.8zM232.7 590.1h0.8v0.8h-0.8zM231.6 589.0h0.8v0.8h-0.8zM236.0 586.9h0.8v0.8h-0.8zM245.0 585.7h0.8v0.8h-0.8zM232.3 590.1h0.8v0.8h-0.8zM238.2 591.3h0.8v0.8h-0.8zM231.7 593.1h0.8v0.8h-0.8zM235.5 586.9h0.8v0.8h-0.8zM234.0 585.8h0.8v0.8h-0.8zM240.7 586.3h0.8v0.8h-0.8zM237.5 582.7h0.8v0.8h-0.8zM237.0 585.3h0.8v0.8h-0.8zM240.4 579.5h0.8v0.8h-0.8zM234.8 577.6h0.8v0.8h-0.8zM234.5 587.3h0.8v0.8h-0.8zM236.8 588.7h0.8v0.8h-0.8zM238.7 592.6h0.8v0.8h-0.8zM234.8 592.4h0.8v0.8h-0.8zM241.3 584.3h0.8v0.8h-0.8zM236.4 589.5h0.8v0.8h-0.8zM240.1 579.5h0.8v0.8h-0.8zM233.8 587.6h0.8v0.8h-0.8zM236.4 588.5h0.8v0.8h-0.8zM235.1 592.3h0.8v0.8h-0.8zM238.9 586.9h0.8v0.8h-0.8zM239.1 586.1h0.8v0.8h-0.8zM237.9 581.0h0.8v0.8h-0.8zM239.3 589.9h0.8v0.8h-0.8zM238.5 583.3h0.8v0.8h-0.8zM233.9 581.2h0.8v0.8h-0.8zM241.0 590.8h0.8v0.8h-0.8zM237.6 587.3h0.8v0.8h-0.8zM238.0 581.6h0.8v0.8h-0.8zM230.9 583.5h0.8v0.8h-0.8zM237.9 585.0h0.8v0.8h-0.8zM238.1 581.1h0.8v0.8h-0.8zM241.0 579.2h0.8v0.8h-0.8zM239.8 590.1h0.8v0.8h-0.8zM233.0 582.2h0.8v0.8h-0.8zM235.9 583.9h0.8v0.8h-0.8zM234.8 580.6h0.8v0.8h-0.8zM241.8 584.6h0.8v0.8h-0.8zM235.1 589.9h0.8v0.8h-0.8zM239.5 586.2h0.8v0.8h-0.8zM234.5 583.9h0.8v0.8h-0.8zM240.1 588.7h0.8v0.8h-0.8zM237.7 578.1h0.8v0.8h-0.8zM230.2 587.1h0.8v0.8h-0.8zM232.6 580.4h0.8v0.8h-0.8zM236.1 588.0h0.8v0.8h-0.8zM239.7 586.9h0.8v0.8h-0.8zM239.6 585.2h0.8v0.8h-0.8zM246.0 579.6h0.8v0.8h-0.8zM236.9 587.2h0.8v0.8h-0.8zM239.7 587.1h0.8v0.8h-0.8zM238.8 590.8h0.8v0.8h-0.8zM232.3 587.0h0.8v0.8h-0.8zM237.3 588.5h0.8v0.8h-0.8zM247.5 583.4h0.8v0.8h-0.8zM238.2 586.8h0.8v0.8h-0.8zM238.6 588.3h0.8v0.8h-0.8zM236.6 587.1h0.8v0.8h-0.8zM240.9 590.0h0.8v0.8h-0.8zM236.6 580.3h0.8v0.8h-0.8zM231.9 581.8h0.8v0.8h-0.8zM232.8 587.0h0.8v0.8h-0.8zM235.3 580.1h0.8v0.8h-0.8zM231.9 579.3h0.8v0.8h-0.8zM239.1 590.0h0.8v0.8h-0.8zM232.5 581.2h0.8v0.8h-0.8zM244.0 588.4h0.8v0.8h-0.8zM233.8 589.7h0.8v0.8h-0.8zM236.4 581.3h0.8v0.8h-0.8zM238.4 586.2h0.8v0.8h-0.8zM229.0 587.2h0.8v0.8h-0.8zM237.1 587.0h0.8v0.8h-0.8zM242.4 583.8h0.8v0.8h-0.8zM230.2 584.3h0.8v0.8h-0.8zM236.5 588.6h0.8v0.8h-0.8zM237.9 585.9h0.8v0.8h-0.8zM230.3 589.2h0.8v0.8h-0.8zM239.3 581.3h0.8v0.8h-0.8zM238.9 582.3h0.8v0.8h-0.8zM237.1 585.5h0.8v0.8h-0.8zM241.8 590.5h0.8v0.8h-0.8zM236.1 585.0h0.8v0.8h-0.8zM231.2 585.3h0.8v0.8h-0.8zM238.6 588.6h0.8v0.8h-0.8zM231.0 593.0h0.8v0.8h-0.8zM235.4 589.1h0.8v0.8h-0.8zM239.4 594.0h0.8v0.8h-0.8zM236.6 587.6h0.8v0.8h-0.8zM234.2 591.4h0.8v0.8h-0.8zM236.3 585.8h0.8v0.8h-0.8zM237.1 587.8h0.8v0.8h-0.8zM238.8 582.8h0.8v0.8h-0.8zM238.1 586.3h0.8v0.8h-0.8zM233.8 588.8h0.8v0.8h-0.8zM241.8 578.1h0.8v0.8h-0.8zM234.0 584.8h0.8v0.8h-0.8zM245.1 581.8h0.8v0.8h-0.8zM233.3 586.7h0.8v0.8h-0.8zM242.3 580.8h0.8v0.8h-0.8zM239.0 587.9h0.8v0.8h-0.8zM235.3 582.9h0.8v0.8h-0.8zM232.8 588.0h0.8v0.8h-0.8zM231.3 586.4h0.8v0.8h-0.8zM230.6 587.9h0.8v0.8h-0.8zM237.1 585.8h0.8v0.8h-0.8zM238.0 583.7h0.8v0.8h-0.8zM236.1 591.1h0.8v0.8h-0.8zM232.9 587.2h0.8v0.8h-0.8zM239.6 589.2h0.8v0.8h-0.8zM238.8 585.1h0.8v0.8h-0.8zM235.3 589.4h0.8v0.8h-0.8zM242.7 584.4h0.8v0.8h-0.8zM231.6 586.5h0.8v0.8h-0.8zM231.6 581.2h0.8v0.8h-0.8zM239.6 583.7h0.8v0.8h-0.8zM233.1 593.9h0.8v0.8h-0.8zM233.7 587.7h0.8v0.8h-0.8zM234.3 587.3h0.8v0.8h-0.8zM239.3 583.0h0.8v0.8h-0.8zM235.3 580.4h0.8v0.8h-0.8zM241.8 589.5h0.8v0.8h-0.8zM240.9 585.6h0.8v0.8h-0.8zM232.2 585.2h0.8v0.8h-0.8zM238.0 586.4h0.8v0.8h-0.8zM235.2 591.4h0.8v0.8h-0.8zM233.0 581.4h0.8v0.8h-0.8zM231.7 587.6h0.8v0.8h-0.8zM239.0 591.8h0.8v0.8h-0.8zM241.7 588.8h0.8v0.8h-0.8zM236.2 588.0h0.8v0.8h-0.8zM236.2 588.6h0.8v0.8h-0.8zM232.8 584.0h0.8v0.8h-0.8zM234.9 591.5h0.8v0.8h-0.8zM238.9 591.8h0.8v0.8h-0.8zM228.8 585.2h0.8v0.8h-0.8zM235.5 586.1h0.8v0.8h-0.8zM235.6 593.7h0.8v0.8h-0.8zM237.9 587.7h0.8v0.8h-0.8zM241.0 592.8h0.8v0.8h-0.8zM235.0 582.8h0.8v0.8h-0.8zM235.8 584.3h0.8v0.8h-0.8zM233.5 588.5h0.8v0.8h-0.8zM230.9 594.1h0.8v0.8h-0.8zM237.6 587.4h0.8v0.8h-0.8zM234.7 588.4h0.8v0.8h-0.8zM238.5 586.3h0.8v0.8h-0.8zM237.6 581.5h0.8v0.8h-0.8zM236.6 577.3h0.8v0.8h-0.8zM234.7 584.3h0.8v0.8h-0.8zM238.4 587.0h0.8v0.8h-0.8zM234.4 584.2h0.8v0.8h-0.8zM233.4 593.4h0.8v0.8h-0.8zM235.6 580.9h0.8v0.8h-0.8zM234.1 582.1h0.8v0.8h-0.8zM232.6 580.8h0.8v0.8h-0.8zM235.6 590.8h0.8v0.8h-0.8zM235.5 581.0h0.8v0.8h-0.8zM241.5 583.5h0.8v0.8h-0.8zM232.9 589.5h0.8v0.8h-0.8zM244.7 590.4h0.8v0.8h-0.8zM239.7 590.6h0.8v0.8h-0.8zM235.7 588.5h0.8v0.8h-0.8zM239.1 590.4h0.8v0.8h-0.8zM235.6 587.4h0.8v0.8h-0.8zM238.9 589.4h0.8v0.8h-0.8zM241.1 587.9h0.8v0.8h-0.8zM239.7 586.5h0.8v0.8h-0.8zM240.2 582.3h0.8v0.8h-0.8zM241.1 584.1h0.8v0.8h-0.8zM229.6 582.1h0.8v0.8h-0.8zM236.9 590.5h0.8v0.8h-0.8zM236.7 593.4h0.8v0.8h-0.8zM234.6 585.5h0.8v0.8h-0.8zM239.8 583.3h0.8v0.8h-0.8zM242.6 589.5h0.8v0.8h-0.8zM229.0 589.1h0.8v0.8h-0.8zM241.1 586.1h0.8v0.8h-0.8zM240.2 588.1h0.8v0.8h-0.8zM238.9 587.6h0.8v0.8h-0.8zM234.7 592.6h0.8v0.8h-0.8zM240.1 584.4h0.8v0.8h-0.8zM237.5 587.2h0.8v0.8h-0.8zM241.1 591.0h0.8v0.8h-0.8zM241.3 589.2h0.8v0.8h-0.8zM233.9 588.6h0.8v0.8h-0.8zM237.1 587.8h0.8v0.8h-0.8zM234.7 589.8h0.8v0.8h-0.8zM240.4 589.5h0.8v0.8h-0.8zM239.8 591.7h0.8v0.8h-0.8zM231.5 583.2h0.8v0.8h-0.8zM238.8 590.4h0.8v0.8h-0.8zM241.9 590.3h0.8v0.8h-0.8zM237.4 589.3h0.8v0.8h-0.8zM237.2 585.4h0.8v0.8h-0.8zM234.2 579.8h0.8v0.8h-0.8zM237.8 590.4h0.8v0.8h-0.8zM231.7 586.3h0.8v0.8h-0.8zM235.1 588.4h0.8v0.8h-0.8zM235.8 591.9h0.8v0.8h-0.8zM230.7 590.6h0.8v0.8h-0.8zM234.0 587.6h0.8v0.8h-0.8zM238.7 589.0h0.8v0.8h-0.8zM234.7 588.4h0.8v0.8h-0.8zM240.7 587.9h0.8v0.8h-0.8zM238.8 589.2h0.8v0.8h-0.8zM240.0 579.1h0.8v0.8h-0.8zM234.2 586.6h0.8v0.8h-0.8zM241.7 588.6h0.8v0.8h-0.8zM238.0 585.0h0.8v0.8h-0.8zM232.0 587.7h0.8v0.8h-0.8zM239.4 585.6h0.8v0.8h-0.8zM235.7 590.5h0.8v0.8h-0.8zM236.9 583.0h0.8v0.8h-0.8zM234.7 587.1h0.8v0.8h-0.8zM239.6 585.2h0.8v0.8h-0.8zM243.3 585.7h0.8v0.8h-0.8zM239.0 589.0h0.8v0.8h-0.8zM238.7 580.5h0.8v0.8h-0.8zM235.1 582.5h0.8v0.8h-0.8zM243.4 593.3h0.8v0.8h-0.8zM236.0 583.6h0.8v0.8h-0.8zM242.8 588.4h0.8v0.8h-0.8zM235.4 587.9h0.8v0.8h-0.8zM235.2 587.7h0.8v0.8h-0.8zM237.4 584.8h0.8v0.8h-0.8zM235.1 584.2h0.8v0.8h-0.8zM237.1 584.0h0.8v0.8h-0.8zM232.8 587.8h0.8v0.8h-0.8zM236.9 585.7h0.8v0.8h-0.8zM244.5 586.2h0.8v0.8h-0.8zM237.3 587.0h0.8v0.8h-0.8zM236.5 589.5h0.8v0.8h-0.8zM235.7 588.7h0.8v0.8h-0.8zM236.0 582.8h0.8v0.8h-0.8zM234.8 593.0h0.8v0.8h-0.8zM233.4 584.2h0.8v0.8h-0.8zM236.2 585.9h0.8v0.8h-0.8zM238.3 580.5h0.8v0.8h-0.8zM236.3 590.7h0.8v0.8h-0.8zM228.9 586.7h0.8v0.8h-0.8zM235.3 584.4h0.8v0.8h-0.8zM238.1 588.4h0.8v0.8h-0.8zM234.0 587.4h0.8v0.8h-0.8zM238.0 581.3h0.8v0.8h-0.8zM236.2 593.0h0.8v0.8h-0.8zM235.7 594.0h0.8v0.8h-0.8zM235.9 580.9h0.8v0.8h-0.8zM241.6 586.6h0.8v0.8h-0.8zM238.1 592.7h0.8v0.8h-0.8zM236.2 593.1h0.8v0.8h-0.8zM229.6 584.7h0.8v0.8h-0.8zM237.6 582.6h0.8v0.8h-0.8zM232.8 583.9h0.8v0.8h-0.8zM235.5 581.9h0.8v0.8h-0.8zM244.3 586.5h0.8v0.8h-0.8zM239.0 583.8h0.8v0.8h-0.8zM233.0 587.5h0.8v0.8h-0.8zM236.2 592.2h0.8v0.8h-0.8zM237.5 578.4h0.8v0.8h-0.8zM239.2 588.6h0.8v0.8h-0.8zM237.6 583.1h0.8v0.8h-0.8zM239.2 588.0h0.8v0.8h-0.8zM239.5 586.5h0.8v0.8h-0.8zM237.4 583.9h0.8v0.8h-0.8zM230.9 583.9h0.8v0.8h-0.8zM241.3 581.9h0.8v0.8h-0.8zM231.5 581.6h0.8v0.8h-0.8zM239.7 576.4h0.8v0.8h-0.8zM239.1 586.0h0.8v0.8h-0.8zM230.8 581.3h0.8v0.8h-0.8zM234.9 585.5h0.8v0.8h-0.8zM235.5 585.0h0.8v0.8h-0.8zM237.8 579.9h0.8v0.8h-0.8zM237.4 587.3h0.8v0.8h-0.8zM238.0 583.5h0.8v0.8h-0.8zM238.2 583.6h0.8v0.8h-0.8zM234.6 582.4h0.8v0.8h-0.8zM243.7 583.6h0.8v0.8h-0.8zM240.8 581.2h0.8v0.8h-0.8zM234.8 592.5h0.8v0.8h-0.8zM236.5 592.1h0.8v0.8h-0.8zM233.1 584.3h0.8v0.8h-0.8zM241.6 580.0h0.8v0.8h-0.8zM239.5 592.0h0.8v0.8h-0.8zM234.9 587.3h0.8v0.8h-0.8zM243.2 582.5h0.8v0.8h-0.8zM232.3 585.8h0.8v0.8h-0.8zM235.1 586.8h0.8v0.8h-0.8zM240.7 584.4h0.8v0.8h-0.8zM243.1 582.2h0.8v0.8h-0.8zM242.4 593.5h0.8v0.8h-0.8zM238.4 585.1h0.8v0.8h-0.8zM240.7 592.4h0.8v0.8h-0.8zM236.7 591.3h0.8v0.8h-0.8zM236.0 587.4h0.8v0.8h-0.8zM244.8 584.1h0.8v0.8h-0.8zM234.1 575.4h0.8v0.8h-0.8zM235.6 591.5h0.8v0.8h-0.8zM232.0 582.3h0.8v0.8h-0.8zM236.7 586.2h0.8v0.8h-0.8zM239.0 587.3h0.8v0.8h-0.8zM236.4 583.6h0.8v0.8h-0.8zM231.5 580.1h0.8v0.8h-0.8zM232.6 583.7h0.8v0.8h-0.8zM235.5 588.4h0.8v0.8h-0.8zM243.5 583.5h0.8v0.8h-0.8zM231.5 587.4h0.8v0.8h-0.8zM239.1 586.6h0.8v0.8h-0.8zM235.9 588.5h0.8v0.8h-0.8zM233.7 588.2h0.8v0.8h-0.8zM235.2 591.1h0.8v0.8h-0.8zM240.6 586.3h0.8v0.8h-0.8zM236.8 584.7h0.8v0.8h-0.8zM235.1 582.5h0.8v0.8h-0.8zM237.2 587.8h0.8v0.8h-0.8zM244.9 581.1h0.8v0.8h-0.8zM237.2 586.1h0.8v0.8h-0.8zM234.3 585.6h0.8v0.8h-0.8zM236.9 583.8h0.8v0.8h-0.8zM237.5 593.1h0.8v0.8h-0.8zM234.2 582.3h0.8v0.8h-0.8zM229.6 586.3h0.8v0.8h-0.8zM234.8 590.3h0.8v0.8h-0.8zM233.8 589.2h0.8v0.8h-0.8zM234.5 585.9h0.8v0.8h-0.8zM240.6 589.8h0.8v0.8h-0.8zM232.6 586.2h0.8v0.8h-0.8zM243.2 580.3h0.8v0.8h-0.8zM241.2 586.9h0.8v0.8h-0.8zM231.3 584.4h0.8v0.8h-0.8zM235.9 580.0h0.8v0.8h-0.8zM236.6 586.8h0.8v0.8h-0.8zM238.1 584.1h0.8v0.8h-0.8zM240.9 587.6h0.8v0.8h-0.8zM235.8 587.9h0.8v0.8h-0.8zM239.8 585.5h0.8v0.8h-0.8zM239.8 587.5h0.8v0.8h-0.8zM239.7 590.9h0.8v0.8h-0.8zM242.4 588.2h0.8v0.8h-0.8zM235.1 587.8h0.8v0.8h-0.8zM238.0 584.6h0.8v0.8h-0.8zM233.6 586.6h0.8v0.8h-0.8zM232.9 590.7h0.8v0.8h-0.8zM238.4 583.0h0.8v0.8h-0.8zM233.0 591.8h0.8v0.8h-0.8zM234.6 580.6h0.8v0.8h-0.8zM241.0 584.2h0.8v0.8h-0.8zM240.7 589.1h0.8v0.8h-0.8zM239.5 586.8h0.8v0.8h-0.8zM239.4 586.0h0.8v0.8h-0.8zM243.5 588.1h0.8v0.8h-0.8zM239.0 586.0h0.8v0.8h-0.8zM238.8 585.7h0.8v0.8h-0.8zM239.9 584.7h0.8v0.8h-0.8zM234.3 585.6h0.8v0.8h-0.8zM240.4 585.4h0.8v0.8h-0.8zM235.9 584.9h0.8v0.8h-0.8zM241.7 585.4h0.8v0.8h-0.8zM232.9 586.8h0.8v0.8h-0.8zM241.9 587.5h0.8v0.8h-0.8zM232.2 587.0h0.8v0.8h-0.8zM237.5 590.8h0.8v0.8h-0.8zM234.5 582.3h0.8v0.8h-0.8zM229.7 587.2h0.8v0.8h-0.8zM235.0 583.2h0.8v0.8h-0.8zM236.9 588.2h0.8v0.8h-0.8zM237.7 589.6h0.8v0.8h-0.8zM241.9 587.1h0.8v0.8h-0.8zM238.3 585.2h0.8v0.8h-0.8zM229.0 585.2h0.8v0.8h-0.8zM233.1 584.6h0.8v0.8h-0.8zM240.8 591.6h0.8v0.8h-0.8zM231.1 590.2h0.8v0.8h-0.8zM243.3 588.0h0.8v0.8h-0.8zM237.1 583.5h0.8v0.8h-0.8zM233.4 591.7h0.8v0.8h-0.8zM240.0 587.0h0.8v0.8h-0.8zM236.4 584.9h0.8v0.8h-0.8zM242.0 587.8h0.8v0.8h-0.8zM235.2 584.4h0.8v0.8h-0.8zM234.6 581.7h0.8v0.8h-0.8zM233.1 582.1h0.8v0.8h-0.8zM238.9 590.8h0.8v0.8h-0.8zM233.3 593.2h0.8v0.8h-0.8zM229.4 578.8h0.8v0.8h-0.8zM243.7 586.2h0.8v0.8h-0.8zM242.2 585.4h0.8v0.8h-0.8zM245.2 586.8h0.8v0.8h-0.8zM242.2 592.5h0.8v0.8h-0.8zM237.8 584.8h0.8v0.8h-0.8zM240.7 587.8h0.8v0.8h-0.8zM235.9 592.5h0.8v0.8h-0.8zM233.7 581.6h0.8v0.8h-0.8zM234.5 586.4h0.8v0.8h-0.8zM232.3 593.0h0.8v0.8h-0.8zM238.0 583.7h0.8v0.8h-0.8zM231.9 593.6h0.8v0.8h-0.8zM241.1 589.6h0.8v0.8h-0.8zM239.3 583.9h0.8v0.8h-0.8zM240.0 591.4h0.8v0.8h-0.8zM238.3 588.9h0.8v0.8h-0.8zM240.5 584.3h0.8v0.8h-0.8zM235.7 583.7h0.8v0.8h-0.8zM230.8 590.3h0.8v0.8h-0.8zM235.9 583.4h0.8v0.8h-0.8zM234.3 582.6h0.8v0.8h-0.8zM240.6 592.3h0.8v0.8h-0.8zM239.7 587.5h0.8v0.8h-0.8zM236.8 582.7h0.8v0.8h-0.8zM239.6 584.8h0.8v0.8h-0.8zM240.0 578.0h0.8v0.8h-0.8zM248.1 585.9h0.8v0.8h-0.8zM237.6 584.9h0.8v0.8h-0.8zM240.0 582.8h0.8v0.8h-0.8zM237.1 582.0h0.8v0.8h-0.8zM236.1 589.9h0.8v0.8h-0.8zM241.2 583.9h0.8v0.8h-0.8zM236.6 590.4h0.8v0.8h-0.8zM234.7 582.7h0.8v0.8h-0.8zM237.6 581.5h0.8v0.8h-0.8zM242.5 584.8h0.8v0.8h-0.8zM234.6 593.2h0.8v0.8h-0.8zM231.6 586.0h0.8v0.8h-0.8zM238.5 586.6h0.8v0.8h-0.8zM241.5 582.2h0.8v0.8h-0.8zM242.3 583.0h0.8v0.8h-0.8zM230.4 578.8h0.8v0.8h-0.8zM231.4 590.9h0.8v0.8h-0.8zM235.6 588.2h0.8v0.8h-0.8zM232.3 581.7h0.8v0.8h-0.8zM239.1 589.5h0.8v0.8h-0.8zM232.2 586.7h0.8v0.8h-0.8z" fill="#000" fill-opacity="0.9"/>
<path d="M255.7 560.9h0.8v0.8h-0.8zM244.7 570.2h0.8v0.8h-0.8zM256.5 567.3h0.8v0.8h-0.8zM270.9 561.8h0.8v0.8h-0.8zM264.4 564.9h0.8v0.8h-0.8zM244.9 569.4h0.8v0.8h-0.8zM251.9 566.9h0.8v0.8h-0.8zM262.6 564.4h0.8v0.8h-0.8zM264.9 563.9h0.8v0.8h-0.8zM264.0 560.1h0.8v0.8h-0.8zM259.6 563.0h0.8v0.8h-0.8zM259.4 561.6h0.8v0.8h-0.8zM256.7 560.6h0.8v0.8h-0.8zM263.9 563.0h0.8v0.8h-0.8zM263.9 561.8h0.8v0.8h-0.8zM270.0 559.0h0.8v0.8h-0.8zM251.5 566.8h0.8v0.8h-0.8zM269.2 558.8h0.8v0.8h-0.8zM258.2 562.9h0.8v0.8h-0.8zM253.4 565.4h0.8v0.8h-0.8zM260.0 559.7h0.8v0.8h-0.8zM265.7 564.6h0.8v0.8h-0.8zM254.2 564.4h0.8v0.8h-0.8zM263.9 565.6h0.8v0.8h-0.8zM255.7 563.6h0.8v0.8h-0.8zM264.7 561.8h0.8v0.8h-0.8zM273.8 553.9h0.8v0.8h-0.8zM248.4 565.5h0.8v0.8h-0.8zM266.7 561.8h0.8v0.8h-0.8zM266.6 560.7h0.8v0.8h-0.8zM263.9 558.3h0.8v0.8h-0.8zM261.4 565.2h0.8v0.8h-0.8zM264.0 567.7h0.8v0.8h-0.8zM274.3 552.7h0.8v0.8h-0.8zM266.2 558.5h0.8v0.8h-0.8zM262.7 557.5h0.8v0.8h-0.8zM273.3 552.7h0.8v0.8h-0.8zM259.4 566.8h0.8v0.8h-0.8zM259.2 567.8h0.8v0.8h-0.8zM256.4 561.7h0.8v0.8h-0.8zM263.9 562.7h0.8v0.8h-0.8zM256.3 570.4h0.8v0.8h-0.8zM259.1 566.2h0.8v0.8h-0.8zM257.7 563.1h0.8v0.8h-0.8zM263.6 564.6h0.8v0.8h-0.8zM259.7 565.5h0.8v0.8h-0.8zM259.2 565.5h0.8v0.8h-0.8zM268.9 563.8h0.8v0.8h-0.8zM269.1 565.0h0.8v0.8h-0.8zM270.9 558.2h0.8v0.8h-0.8zM265.9 566.5h0.8v0.8h-0.8zM248.7 573.0h0.8v0.8h-0.8zM266.6 564.1h0.8v0.8h-0.8zM257.9 559.4h0.8v0.8h-0.8zM268.1 560.4h0.8v0.8h-0.8zM255.7 566.2h0.8v0.8h-0.8zM271.1 564.0h0.8v0.8h-0.8zM251.5 568.6h0.8v0.8h-0.8zM269.4 562.5h0.8v0.8h-0.8zM275.3 559.4h0.8v0.8h-0.8zM266.5 561.7h0.8v0.8h-0.8zM274.4 559.5h0.8v0.8h-0.8zM261.9 559.9h0.8v0.8h-0.8zM268.6 558.0h0.8v0.8h-0.8zM262.3 564.2h0.8v0.8h-0.8zM271.6 560.7h0.8v0.8h-0.8zM256.8 563.9h0.8v0.8h-0.8zM254.6 569.2h0.8v0.8h-0.8zM271.8 558.4h0.8v0.8h-0.8zM262.9 558.7h0.8v0.8h-0.8zM268.0 560.8h0.8v0.8h-0.8zM265.3 556.2h0.8v0.8h-0.8zM253.0 568.5h0.8v0.8h-0.8zM264.6 569.4h0.8v0.8h-0.8zM264.3 557.4h0.8v0.8h-0.8zM260.4 566.9h0.8v0.8h-0.8zM265.6 564.4h0.8v0.8h-0.8zM261.4 564.1h0.8v0.8h-0.8zM250.8 556.9h0.8v0.8h-0.8zM250.0 568.7h0.8v0.8h-0.8zM261.2 566.1h0.8v0.8h-0.8zM267.8 563.9h0.8v0.8h-0.8zM257.0 559.4h0.8v0.8h-0.8zM247.6 567.1h0.8v0.8h-0.8zM249.7 567.6h0.8v0.8h-0.8zM260.3 566.6h0.8v0.8h-0.8zM260.8 573.3h0.8v0.8h-0.8zM259.0 569.7h0.8v0.8h-0.8zM253.0 568.0h0.8v0.8h-0.8zM253.7 571.5h0.8v0.8h-0.8zM256.4 569.1h0.8v0.8h-0.8zM259.9 559.9h0.8v0.8h-0.8zM261.2 567.2h0.8v0.8h-0.8zM267.9 563.5h0.8v0.8h-0.8zM263.7 571.3h0.8v0.8h-0.8zM247.1 566.0h0.8v0.8h-0.8zM257.5 571.3h0.8v0.8h-0.8zM263.5 560.9h0.8v0.8h-0.8zM263.8 569.8h0.8v0.8h-0.8zM271.8 558.9h0.8v0.8h-0.8zM253.5 568.3h0.8v0.8h-0.8zM249.9 567.9h0.8v0.8h-0.8zM260.4 561.0h0.8v0.8h-0.8zM254.0 566.6h0.8v0.8h-0.8zM264.1 572.1h0.8v0.8h-0.8zM259.7 571.7h0.8v0.8h-0.8zM265.7 557.7h0.8v0.8h-0.8zM252.0 569.4h0.8v0.8h-0.8zM269.6 564.4h0.8v0.8h-0.8zM253.3 566.0h0.8v0.8h-0.8zM262.7 559.8h0.8v0.8h-0.8zM255.2 563.9h0.8v0.8h-0.8zM253.4 558.6h0.8v0.8h-0.8zM261.5 568.7h0.8v0.8h-0.8zM274.5 560.9h0.8v0.8h-0.8zM272.6 561.7h0.8v0.8h-0.8zM247.1 572.7h0.8v0.8h-0.8zM257.5 566.6h0.8v0.8h-0.8zM259.6 559.5h0.8v0.8h-0.8zM264.0 564.6h0.8v0.8h-0.8zM261.4 573.9h0.8v0.8h-0.8zM264.8 560.3h0.8v0.8h-0.8zM249.1 572.0h0.8v0.8h-0.8zM275.0 559.5h0.8v0.8h-0.8zM264.9 560.4h0.8v0.8h-0.8zM267.3 566.4h0.8v0.8h-0.8zM263.1 568.6h0.8v0.8h-0.8zM260.9 565.8h0.8v0.8h-0.8zM267.5 569.7h0.8v0.8h-0.8zM263.6 562.2h0.8v0.8h-0.8zM269.9 566.7h0.8v0.8h-0.8zM256.1 566.1h0.8v0.8h-0.8zM269.6 567.1h0.8v0.8h-0.8zM268.2 559.3h0.8v0.8h-0.8zM261.2 563.0h0.8v0.8h-0.8zM266.6 559.0h0.8v0.8h-0.8zM252.8 567.2h0.8v0.8h-0.8zM270.6 553.8h0.8v0.8h-0.8zM268.1 564.2h0.8v0.8h-0.8zM251.5 567.8h0.8v0.8h-0.8zM248.8 567.7h0.8v0.8h-0.8zM260.4 567.6h0.8v0.8h-0.8zM262.8 561.2h0.8v0.8h-0.8zM270.1 558.9h0.8v0.8h-0.8zM261.4 556.2h0.8v0.8h-0.8zM271.6 558.6h0.8v0.8h-0.8zM257.1 561.2h0.8v0.8h-0.8zM260.1 566.6h0.8v0.8h-0.8zM264.9 563.7h0.8v0.8h-0.8zM266.2 559.7h0.8v0.8h-0.8zM260.7 567.5h0.8v0.8h-0.8zM266.4 560.4h0.8v0.8h-0.8zM248.4 567.7h0.8v0.8h-0.8zM269.5 559.7h0.8v0.8h-0.8zM275.4 560.5h0.8v0.8h-0.8zM264.6 562.2h0.8v0.8h-0.8zM260.4 566.1h0.8v0.8h-0.8zM255.6 564.4h0.8v0.8h-0.8zM250.0 569.1h0.8v0.8h-0.8zM256.2 563.5h0.8v0.8h-0.8zM259.5 566.0h0.8v0.8h-0.8zM241.2 567.8h0.8v0.8h-0.8zM263.7 558.9h0.8v0.8h-0.8zM260.4 563.3h0.8v0.8h-0.8zM266.2 566.5h0.8v0.8h-0.8zM264.8 560.8h0.8v0.8h-0.8zM258.9 571.8h0.8v0.8h-0.8zM260.3 563.8h0.8v0.8h-0.8zM271.4 553.7h0.8v0.8h-0.8zM260.3 567.1h0.8v0.8h-0.8zM266.0 565.3h0.8v0.8h-0.8zM262.3 564.6h0.8v0.8h-0.8zM261.2 567.9h0.8v0.8h-0.8zM252.7 563.7h0.8v0.8h-0.8zM265.2 563.7h0.8v0.8h-0.8zM269.9 564.3h0.8v0.8h-0.8zM257.3 566.0h0.8v0.8h-0.8zM267.7 567.7h0.8v0.8h-0.8zM260.2 569.4h0.8v0.8h-0.8zM270.3 557.9h0.8v0.8h-0.8zM257.7 571.7h0.8v0.8h-0.8zM270.3 562.4h0.8v0.8h-0.8zM276.9 567.7h0.8v0.8h-0.8zM259.9 566.8h0.8v0.8h-0.8zM250.3 565.6h0.8v0.8h-0.8zM257.7 561.4h0.8v0.8h-0.8zM272.1 563.7h0.8v0.8h-0.8zM276.4 559.0h0.8v0.8h-0.8zM258.4 559.6h0.8v0.8h-0.8zM269.7 559.8h0.8v0.8h-0.8zM259.5 561.9h0.8v0.8h-0.8zM254.3 561.0h0.8v0.8h-0.8zM270.0 561.3h0.8v0.8h-0.8zM251.4 570.9h0.8v0.8h-0.8zM269.5 557.0h0.8v0.8h-0.8zM266.1 560.2h0.8v0.8h-0.8zM266.8 559.7h0.8v0.8h-0.8zM256.6 566.2h0.8v0.8h-0.8zM259.5 558.1h0.8v0.8h-0.8zM255.6 565.4h0.8v0.8h-0.8zM259.0 564.3h0.8v0.8h-0.8zM266.1 560.3h0.8v0.8h-0.8zM262.2 563.1h0.8v0.8h-0.8zM262.5 560.5h0.8v0.8h-0.8zM261.2 573.8h0.8v0.8h-0.8zM261.4 564.7h0.8v0.8h-0.8zM265.8 559.8h0.8v0.8h-0.8zM256.8 567.8h0.8v0.8h-0.8zM245.7 567.9h0.8v0.8h-0.8zM246.8 569.5h0.8v0.8h-0.8zM265.0 555.5h0.8v0.8h-0.8zM275.4 560.6h0.8v0.8h-0.8zM259.7 568.3h0.8v0.8h-0.8zM260.7 571.1h0.8v0.8h-0.8zM252.8 561.8h0.8v0.8h-0.8zM270.3 566.9h0.8v0.8h-0.8zM255.6 563.7h0.8v0.8h-0.8zM265.8 554.1h0.8v0.8h-0.8zM259.7 558.9h0.8v0.8h-0.8zM258.8 559.1h0.8v0.8h-0.8zM262.3 567.2h0.8v0.8h-0.8zM271.0 562.8h0.8v0.8h-0.8zM272.0 555.9h0.8v0.8h-0.8zM276.1 562.3h0.8v0.8h-0.8zM259.3 570.0h0.8v0.8h-0.8zM269.2 565.7h0.8v0.8h-0.8zM264.9 555.7h0.8v0.8h-0.8zM261.7 565.2h0.8v0.8h-0.8zM264.8 560.9h0.8v0.8h-0.8zM256.2 569.2h0.8v0.8h-0.8zM269.1 561.7h0.8v0.8h-0.8zM260.3 562.5h0.8v0.8h-0.8zM245.8 570.0h0.8v0.8h-0.8zM264.9 561.7h0.8v0.8h-0.8zM254.2 573.9h0.8v0.8h-0.8zM269.0 557.5h0.8v0.8h-0.8zM265.5 566.3h0.8v0.8h-0.8zM255.7 568.4h0.8v0.8h-0.8zM259.9 566.2h0.8v0.8h-0.8zM271.7 552.7h0.8v0.8h-0.8zM268.8 561.1h0.8v0.8h-0.8zM271.0 564.7h0.8v0.8h-0.8zM259.8 560.8h0.8v0.8h-0.8zM271.8 559.7h0.8v0.8h-0.8zM261.9 564.6h0.8v0.8h-0.8zM260.5 568.7h0.8v0.8h-0.8zM246.6 570.4h0.8v0.8h-0.8zM264.2 565.3h0.8v0.8h-0.8zM245.1 566.2h0.8v0.8h-0.8zM255.1 569.2h0.8v0.8h-0.8zM265.0 565.3h0.8v0.8h-0.8zM253.5 565.8h0.8v0.8h-0.8zM267.5 558.9h0.8v0.8h-0.8zM263.8 565.6h0.8v0.8h-0.8zM253.8 560.2h0.8v0.8h-0.8zM269.8 565.4h0.8v0.8h-0.8zM245.3 572.4h0.8v0.8h-0.8zM266.4 567.1h0.8v0.8h-0.8zM268.1 562.7h0.8v0.8h-0.8zM260.0 565.3h0.8v0.8h-0.8zM249.4 573.0h0.8v0.8h-0.8zM259.7 562.7h0.8v0.8h-0.8zM260.0 567.8h0.8v0.8h-0.8zM259.8 565.3h0.8v0.8h-0.8zM269.4 550.1h0.8v0.8h-0.8zM271.0 564.4h0.8v0.8h-0.8zM250.7 561.9h0.8v0.8h-0.8zM271.2 560.1h0.8v0.8h-0.8zM267.8 561.8h0.8v0.8h-0.8zM257.3 560.6h0.8v0.8h-0.8zM247.4 572.4h0.8v0.8h-0.8zM275.4 565.4h0.8v0.8h-0.8zM265.5 559.5h0.8v0.8h-0.8zM274.1 560.1h0.8v0.8h-0.8zM264.3 567.9h0.8v0.8h-0.8zM251.7 576.3h0.8v0.8h-0.8zM273.9 557.6h0.8v0.8h-0.8zM256.6 572.5h0.8v0.8h-0.8zM262.7 552.0h0.8v0.8h-0.8zM242.6 567.7h0.8v0.8h-0.8zM261.2 569.5h0.8v0.8h-0.8zM258.1 570.8h0.8v0.8h-0.8zM267.3 566.0h0.8v0.8h-0.8zM265.7 572.4h0.8v0.8h-0.8zM247.9 567.3h0.8v0.8h-0.8zM262.6 561.1h0.8v0.8h-0.8zM268.8 570.4h0.8v0.8h-0.8zM255.9 571.0h0.8v0.8h-0.8zM266.8 553.3h0.8v0.8h-0.8zM270.6 557.6h0.8v0.8h-0.8zM268.2 558.0h0.8v0.8h-0.8zM250.6 564.3h0.8v0.8h-0.8zM256.2 559.7h0.8v0.8h-0.8zM257.4 567.4h0.8v0.8h-0.8zM259.8 566.3h0.8v0.8h-0.8zM250.5 568.2h0.8v0.8h-0.8zM261.0 557.4h0.8v0.8h-0.8zM245.9 570.0h0.8v0.8h-0.8zM258.0 563.1h0.8v0.8h-0.8zM252.5 571.5h0.8v0.8h-0.8z" fill="#000" fill-opacity="0.6"/>
<path d="M270.8 561.9h1.0v1.0h-1.0zM268.4 557.0h1.0v1.0h-1.0zM265.2 559.6h1.0v1.0h-1.0zM257.9 567.4h1.0v1.0h-1.0zM263.3 561.7h1.0v1.0h-1.0zM265.2 560.2h1.0v1.0h-1.0zM259.9 562.5h1.0v1.0h-1.0zM263.3 565.7h1.0v1.0h-1.0zM265.8 561.9h1.0v1.0h-1.0zM254.7 561.0h1.0v1.0h-1.0zM263.5 562.8h1.0v1.0h-1.0zM267.1 558.7h1.0v1.0h-1.0zM258.9 562.6h1.0v1.0h-1.0zM257.9 565.7h1.0v1.0h-1.0zM263.9 559.2h1.0v1.0h-1.0zM267.4 561.0h1.0v1.0h-1.0zM270.5 557.9h1.0v1.0h-1.0zM257.8 563.3h1.0v1.0h-1.0zM261.6 564.8h1.0v1.0h-1.0zM266.9 563.5h1.0v1.0h-1.0zM259.2 560.7h1.0v1.0h-1.0zM261.5 566.3h1.0v1.0h-1.0zM261.8 560.5h1.0v1.0h-1.0zM260.4 566.4h1.0v1.0h-1.0zM269.9 563.1h1.0v1.0h-1.0zM261.2 560.5h1.0v1.0h-1.0zM262.3 560.9h1.0v1.0h-1.0zM263.4 560.5h1.0v1.0h-1.0zM261.8 565.4h1.0v1.0h-1.0zM262.5 564.0h1.0v1.0h-1.0zM260.5 562.4h1.0v1.0h-1.0zM266.2 558.3h1.0v1.0h-1.0zM260.7 564.3h1.0v1.0h-1.0zM271.5 560.7h1.0v1.0h-1.0zM266.7 556.9h1.0v1.0h-1.0zM267.2 561.3h1.0v1.0h-1.0zM265.3 560.7h1.0v1.0h-1.0zM264.2 560.0h1.0v1.0h-1.0zM267.5 561.3h1.0v1.0h-1.0zM263.0 562.7h1.0v1.0h-1.0zM268.8 560.6h1.0v1.0h-1.0zM264.3 561.2h1.0v1.0h-1.0zM266.2 558.5h1.0v1.0h-1.0zM269.0 560.6h1.0v1.0h-1.0zM259.7 563.9h1.0v1.0h-1.0zM265.8 561.7h1.0v1.0h-1.0zM267.6 562.4h1.0v1.0h-1.0zM262.5 564.3h1.0v1.0h-1.0zM268.4 561.8h1.0v1.0h-1.0zM266.4 557.5h1.0v1.0h-1.0zM258.1 565.6h1.0v1.0h-1.0zM268.3 559.1h1.0v1.0h-1.0zM258.7 561.4h1.0v1.0h-1.0zM269.2 561.3h1.0v1.0h-1.0zM259.9 562.2h1.0v1.0h-1.0zM258.9 565.5h1.0v1.0h-1.0zM266.8 559.2h1.0v1.0h-1.0zM264.1 563.4h1.0v1.0h-1.0zM266.2 562.7h1.0v1.0h-1.0zM264.4 564.8h1.0v1.0h-1.0zM258.4 561.1h1.0v1.0h-1.0zM263.1 565.2h1.0v1.0h-1.0zM266.9 558.1h1.0v1.0h-1.0zM265.0 556.1h1.0v1.0h-1.0zM262.1 561.4h1.0v1.0h-1.0zM264.0 562.3h1.0v1.0h-1.0zM266.3 564.9h1.0v1.0h-1.0zM265.0 558.5h1.0v1.0h-1.0zM271.5 555.0h1.0v1.0h-1.0zM265.7 559.5h1.0v1.0h-1.0zM269.7 557.0h1.0v1.0h-1.0zM264.1 565.8h1.0v1.0h-1.0zM272.8 559.3h1.0v1.0h-1.0zM264.0 561.6h1.0v1.0h-1.0zM259.3 562.7h1.0v1.0h-1.0zM259.1 564.3h1.0v1.0h-1.0zM265.0 560.8h1.0v1.0h-1.0zM258.1 561.5h1.0v1.0h-1.0zM267.7 558.1h1.0v1.0h-1.0zM260.1 565.8h1.0v1.0h-1.0z" fill="#000" fill-opacity="0.6"/>
<path d="M268.0 557.1h0.7v0.7h-0.7zM241.2 569.1h0.7v0.7h-0.7zM263.0 573.1h0.7v0.7h-0.7zM267.0 555.8h0.7v0.7h-0.7zM248.9 585.1h0.7v0.7h-0.7zM260.5 569.8h0.7v0.7h-0.7zM268.2 574.1h0.7v0.7h-0.7zM267.2 561.8h0.7v0.7h-0.7zM245.7 571.2h0.7v0.7h-0.7zM252.8 564.5h0.7v0.7h-0.7zM250.1 583.1h0.7v0.7h-0.7zM254.4 570.2h0.7v0.7h-0.7zM259.3 574.5h0.7v0.7h-0.7zM263.8 585.9h0.7v0.7h-0.7zM275.8 566.9h0.7v0.7h-0.7zM248.2 582.7h0.7v0.7h-0.7zM247.0 578.9h0.7v0.7h-0.7zM267.3 582.6h0.7v0.7h-0.7zM259.6 573.4h0.7v0.7h-0.7zM287.2 563.9h0.7v0.7h-0.7zM278.5 576.5h0.7v0.7h-0.7zM276.9 564.7h0.7v0.7h-0.7zM271.7 575.4h0.7v0.7h-0.7zM240.1 585.1h0.7v0.7h-0.7zM255.9 554.5h0.7v0.7h-0.7zM252.8 586.0h0.7v0.7h-0.7zM262.2 584.3h0.7v0.7h-0.7zM260.3 560.9h0.7v0.7h-0.7zM262.1 570.1h0.7v0.7h-0.7zM257.2 562.4h0.7v0.7h-0.7zM260.1 565.3h0.7v0.7h-0.7zM257.3 578.4h0.7v0.7h-0.7zM269.3 572.6h0.7v0.7h-0.7zM251.4 575.8h0.7v0.7h-0.7zM256.9 564.8h0.7v0.7h-0.7zM249.9 586.0h0.7v0.7h-0.7zM265.2 548.5h0.7v0.7h-0.7zM251.8 584.8h0.7v0.7h-0.7zM244.7 572.8h0.7v0.7h-0.7zM247.6 561.4h0.7v0.7h-0.7zM263.3 565.1h0.7v0.7h-0.7zM264.2 553.5h0.7v0.7h-0.7zM247.2 566.4h0.7v0.7h-0.7zM258.6 565.3h0.7v0.7h-0.7zM253.9 570.9h0.7v0.7h-0.7zM238.0 569.9h0.7v0.7h-0.7zM255.8 580.7h0.7v0.7h-0.7zM258.1 563.7h0.7v0.7h-0.7zM263.5 573.5h0.7v0.7h-0.7zM265.2 562.1h0.7v0.7h-0.7zM246.9 589.7h0.7v0.7h-0.7zM276.9 557.4h0.7v0.7h-0.7zM257.4 571.8h0.7v0.7h-0.7zM251.6 584.3h0.7v0.7h-0.7zM242.8 578.9h0.7v0.7h-0.7zM239.7 571.9h0.7v0.7h-0.7zM248.3 572.8h0.7v0.7h-0.7zM252.2 568.3h0.7v0.7h-0.7zM248.5 583.1h0.7v0.7h-0.7zM256.1 562.8h0.7v0.7h-0.7zM263.4 579.0h0.7v0.7h-0.7zM244.3 577.3h0.7v0.7h-0.7zM246.5 577.6h0.7v0.7h-0.7zM272.8 552.7h0.7v0.7h-0.7zM258.6 589.6h0.7v0.7h-0.7zM267.3 572.8h0.7v0.7h-0.7zM251.1 589.2h0.7v0.7h-0.7zM252.8 560.5h0.7v0.7h-0.7zM259.4 571.5h0.7v0.7h-0.7zM259.1 565.6h0.7v0.7h-0.7zM236.7 579.5h0.7v0.7h-0.7zM256.1 574.0h0.7v0.7h-0.7zM250.8 579.0h0.7v0.7h-0.7zM255.3 573.3h0.7v0.7h-0.7zM254.4 579.5h0.7v0.7h-0.7zM250.5 585.2h0.7v0.7h-0.7zM273.0 568.6h0.7v0.7h-0.7zM254.9 565.6h0.7v0.7h-0.7zM240.8 553.7h0.7v0.7h-0.7zM253.5 569.2h0.7v0.7h-0.7zM256.6 568.3h0.7v0.7h-0.7zM274.6 580.2h0.7v0.7h-0.7zM242.0 585.1h0.7v0.7h-0.7zM254.1 563.3h0.7v0.7h-0.7zM253.6 575.8h0.7v0.7h-0.7zM258.6 579.7h0.7v0.7h-0.7zM264.8 567.9h0.7v0.7h-0.7zM243.8 579.7h0.7v0.7h-0.7zM246.1 579.9h0.7v0.7h-0.7zM253.8 565.2h0.7v0.7h-0.7zM259.7 560.9h0.7v0.7h-0.7zM267.7 565.9h0.7v0.7h-0.7zM277.0 576.1h0.7v0.7h-0.7zM265.0 575.1h0.7v0.7h-0.7zM234.5 573.8h0.7v0.7h-0.7zM280.8 579.4h0.7v0.7h-0.7zM248.3 585.8h0.7v0.7h-0.7zM245.1 575.9h0.7v0.7h-0.7zM260.8 582.2h0.7v0.7h-0.7zM246.9 572.9h0.7v0.7h-0.7zM265.1 570.9h0.7v0.7h-0.7zM259.2 571.9h0.7v0.7h-0.7zM263.6 581.0h0.7v0.7h-0.7zM258.5 570.1h0.7v0.7h-0.7zM273.4 578.3h0.7v0.7h-0.7zM267.7 562.4h0.7v0.7h-0.7zM287.9 555.2h0.7v0.7h-0.7zM277.0 572.3h0.7v0.7h-0.7zM247.7 555.9h0.7v0.7h-0.7zM255.4 574.1h0.7v0.7h-0.7zM288.8 558.5h0.7v0.7h-0.7zM238.2 572.5h0.7v0.7h-0.7zM243.8 564.4h0.7v0.7h-0.7zM239.0 575.1h0.7v0.7h-0.7zM263.9 549.7h0.7v0.7h-0.7zM269.4 569.3h0.7v0.7h-0.7zM268.1 553.5h0.7v0.7h-0.7zM275.7 565.0h0.7v0.7h-0.7zM261.1 590.9h0.7v0.7h-0.7zM255.3 567.8h0.7v0.7h-0.7zM280.8 572.9h0.7v0.7h-0.7zM263.5 559.2h0.7v0.7h-0.7zM248.8 583.9h0.7v0.7h-0.7zM245.2 582.2h0.7v0.7h-0.7zM265.2 570.0h0.7v0.7h-0.7zM237.0 587.2h0.7v0.7h-0.7zM279.4 570.5h0.7v0.7h-0.7zM247.7 569.6h0.7v0.7h-0.7zM269.4 583.8h0.7v0.7h-0.7zM231.0 584.7h0.7v0.7h-0.7zM269.8 573.9h0.7v0.7h-0.7zM270.1 571.7h0.7v0.7h-0.7zM279.1 576.1h0.7v0.7h-0.7zM250.7 564.8h0.7v0.7h-0.7zM246.9 575.5h0.7v0.7h-0.7zM246.4 567.7h0.7v0.7h-0.7zM270.7 561.2h0.7v0.7h-0.7zM264.9 574.8h0.7v0.7h-0.7zM271.3 575.2h0.7v0.7h-0.7zM271.4 564.4h0.7v0.7h-0.7zM267.1 569.6h0.7v0.7h-0.7zM262.1 577.5h0.7v0.7h-0.7zM234.2 580.9h0.7v0.7h-0.7zM269.4 573.9h0.7v0.7h-0.7zM245.8 577.7h0.7v0.7h-0.7z" fill="#000" fill-opacity="0.45"/>
<rect x="22.2" y="532.1" width="64.2" height="62.6" fill="none" stroke="#000" stroke-width="1.2" />
<line x1="39.599999999999994" y1="532.1" x2="39.599999999999994" y2="594.7" stroke="#000" stroke-width="1.1" />
<line x1="22.2" y1="577.7" x2="86.4" y2="577.7" stroke="#000" stroke-width="1.1" />
<line x1="22.2" y1="594.7" x2="22.2" y2="596.2" stroke="#000" stroke-width="0.7" />
<line x1="38.25" y1="594.7" x2="38.25" y2="596.2" stroke="#000" stroke-width="0.7" />
<line x1="54.3" y1="594.7" x2="54.3" y2="596.2" stroke="#000" stroke-width="0.7" />
<line x1="70.35000000000001" y1="594.7" x2="70.35000000000001" y2="596.2" stroke="#000" stroke-width="0.7" />
<line x1="86.4" y1="594.7" x2="86.4" y2="596.2" stroke="#000" stroke-width="0.7" />
<text x="21.9" y="605.3" font-size="5.8" font-weight="bold" text-anchor="middle" stroke="#000" stroke-width="0.25">10<tspan font-size="3.6" dy="-2.6">0</tspan></text>
<text x="37.95" y="605.3" font-size="5.8" font-weight="bold" text-anchor="middle" stroke="#000" stroke-width="0.25">10<tspan font-size="3.6" dy="-2.6">1</tspan></text>
<text x="54.0" y="605.3" font-size="5.8" font-weight="bold" text-anchor="middle" stroke="#000" stroke-width="0.25">10<tspan font-size="3.6" dy="-2.6">2</tspan></text>
<text x="70.05000000000001" y="605.3" font-size="5.8" font-weight="bold" text-anchor="middle" stroke="#000" stroke-width="0.25">10<tspan font-size="3.6" dy="-2.6">3</tspan></text>
<text x="86.10000000000001" y="605.3" font-size="5.8" font-weight="bold" text-anchor="middle" stroke="#000" stroke-width="0.25">10<tspan font-size="3.6" dy="-2.6">4</tspan></text>
<rect x="91.2" y="532.1" width="64.2" height="62.6" fill="none" stroke="#000" stroke-width="1.2" />
<line x1="108.6" y1="532.1" x2="108.6" y2="594.7" stroke="#000" stroke-width="1.1" />
<line x1="91.2" y1="577.7" x2="155.4" y2="577.7" stroke="#000" stroke-width="1.1" />
<line x1="91.2" y1="594.7" x2="91.2" y2="596.2" stroke="#000" stroke-width="0.7" />
<line x1="107.25" y1="594.7" x2="107.25" y2="596.2" stroke="#000" stroke-width="0.7" />
<line x1="123.30000000000001" y1="594.7" x2="123.30000000000001" y2="596.2" stroke="#000" stroke-width="0.7" />
<line x1="139.35000000000002" y1="594.7" x2="139.35000000000002" y2="596.2" stroke="#000" stroke-width="0.7" />
<line x1="155.4" y1="594.7" x2="155.4" y2="596.2" stroke="#000" stroke-width="0.7" />
<text x="106.95" y="605.3" font-size="5.8" font-weight="bold" text-anchor="middle" stroke="#000" stroke-width="0.25">10<tspan font-size="3.6" dy="-2.6">1</tspan></text>
<text x="123.00000000000001" y="605.3" font-size="5.8" font-weight="bold" text-anchor="middle" stroke="#000" stroke-width="0.25">10<tspan font-size="3.6" dy="-2.6">2</tspan></text>
<text x="139.05" y="605.3" font-size="5.8" font-weight="bold" text-anchor="middle" stroke="#000" stroke-width="0.25">10<tspan font-size="3.6" dy="-2.6">3</tspan></text>
<text x="155.1" y="605.3" font-size="5.8" font-weight="bold" text-anchor="middle" stroke="#000" stroke-width="0.25">10<tspan font-size="3.6" dy="-2.6">4</tspan></text>
<rect x="159.6" y="532.1" width="64.2" height="62.6" fill="none" stroke="#000" stroke-width="1.2" />
<line x1="177.0" y1="532.1" x2="177.0" y2="594.7" stroke="#000" stroke-width="1.1" />
<line x1="159.6" y1="577.7" x2="223.8" y2="577.7" stroke="#000" stroke-width="1.1" />
<line x1="159.6" y1="594.7" x2="159.6" y2="596.2" stroke="#000" stroke-width="0.7" />
<line x1="175.65" y1="594.7" x2="175.65" y2="596.2" stroke="#000" stroke-width="0.7" />
<line x1="191.7" y1="594.7" x2="191.7" y2="596.2" stroke="#000" stroke-width="0.7" />
<line x1="207.75" y1="594.7" x2="207.75" y2="596.2" stroke="#000" stroke-width="0.7" />
<line x1="223.8" y1="594.7" x2="223.8" y2="596.2" stroke="#000" stroke-width="0.7" />
<text x="175.35" y="605.3" font-size="5.8" font-weight="bold" text-anchor="middle" stroke="#000" stroke-width="0.25">10<tspan font-size="3.6" dy="-2.6">1</tspan></text>
<text x="191.39999999999998" y="605.3" font-size="5.8" font-weight="bold" text-anchor="middle" stroke="#000" stroke-width="0.25">10<tspan font-size="3.6" dy="-2.6">2</tspan></text>
<text x="207.45" y="605.3" font-size="5.8" font-weight="bold" text-anchor="middle" stroke="#000" stroke-width="0.25">10<tspan font-size="3.6" dy="-2.6">3</tspan></text>
<text x="223.5" y="605.3" font-size="5.8" font-weight="bold" text-anchor="middle" stroke="#000" stroke-width="0.25">10<tspan font-size="3.6" dy="-2.6">4</tspan></text>
<rect x="228.3" y="532.1" width="64.2" height="62.6" fill="none" stroke="#000" stroke-width="1.2" />
<line x1="245.70000000000002" y1="532.1" x2="245.70000000000002" y2="594.7" stroke="#000" stroke-width="1.1" />
<line x1="228.3" y1="577.7" x2="292.5" y2="577.7" stroke="#000" stroke-width="1.1" />
<line x1="228.3" y1="594.7" x2="228.3" y2="596.2" stroke="#000" stroke-width="0.7" />
<line x1="244.35000000000002" y1="594.7" x2="244.35000000000002" y2="596.2" stroke="#000" stroke-width="0.7" />
<line x1="260.40000000000003" y1="594.7" x2="260.40000000000003" y2="596.2" stroke="#000" stroke-width="0.7" />
<line x1="276.45000000000005" y1="594.7" x2="276.45000000000005" y2="596.2" stroke="#000" stroke-width="0.7" />
<line x1="292.5" y1="594.7" x2="292.5" y2="596.2" stroke="#000" stroke-width="0.7" />
<text x="244.05" y="605.3" font-size="5.8" font-weight="bold" text-anchor="middle" stroke="#000" stroke-width="0.25">10<tspan font-size="3.6" dy="-2.6">1</tspan></text>
<text x="260.1" y="605.3" font-size="5.8" font-weight="bold" text-anchor="middle" stroke="#000" stroke-width="0.25">10<tspan font-size="3.6" dy="-2.6">2</tspan></text>
<text x="276.15000000000003" y="605.3" font-size="5.8" font-weight="bold" text-anchor="middle" stroke="#000" stroke-width="0.25">10<tspan font-size="3.6" dy="-2.6">3</tspan></text>
<text x="292.2" y="605.3" font-size="5.8" font-weight="bold" text-anchor="middle" stroke="#000" stroke-width="0.25">10<tspan font-size="3.6" dy="-2.6">4</tspan></text>
<text x="19.6" y="596.7" font-size="5.8" font-weight="bold" text-anchor="end" stroke="#000" stroke-width="0.25">10<tspan font-size="3.6" dy="-2.6">0</tspan></text>
<text x="19.6" y="581.0" font-size="5.8" font-weight="bold" text-anchor="end" stroke="#000" stroke-width="0.25">10<tspan font-size="3.6" dy="-2.6">1</tspan></text>
<text x="19.6" y="565.4" font-size="5.8" font-weight="bold" text-anchor="end" stroke="#000" stroke-width="0.25">10<tspan font-size="3.6" dy="-2.6">2</tspan></text>
<text x="19.6" y="549.8" font-size="5.8" font-weight="bold" text-anchor="end" stroke="#000" stroke-width="0.25">10<tspan font-size="3.6" dy="-2.6">3</tspan></text>
<text x="19.6" y="534.1" font-size="5.8" font-weight="bold" text-anchor="end" stroke="#000" stroke-width="0.25">10<tspan font-size="3.6" dy="-2.6">4</tspan></text>
<line x1="5.4" y1="527" x2="5.4" y2="552" stroke="#000" stroke-width="1.3" />
<path d="M5.4,521.5 L8.1,529 L2.7,529 Z" stroke="#000" stroke-width="0.5" fill="#000" />
<text transform="translate(8.4,567.5) rotate(-90)" font-size="9.6" font-weight="bold" text-anchor="middle" stroke="#000" stroke-width="0.4">Mac-1</text>
<path d="M5.6,583.5 V614.6 H130.5" stroke="#000" stroke-width="1.4" fill="none" />
<line x1="183.5" y1="614.6" x2="285" y2="614.6" stroke="#000" stroke-width="1.4" />
<path d="M291.5,614.6 L283.5,611.6 L283.5,617.6 Z" stroke="#000" stroke-width="0.5" fill="#000" />
<text x="131.6" y="617.2" font-size="10.2" font-weight="bold" text-anchor="start" fill="#000"  stroke="#000" stroke-width="0.4">α-HA-FITC</text>
</svg>
</body></html>
